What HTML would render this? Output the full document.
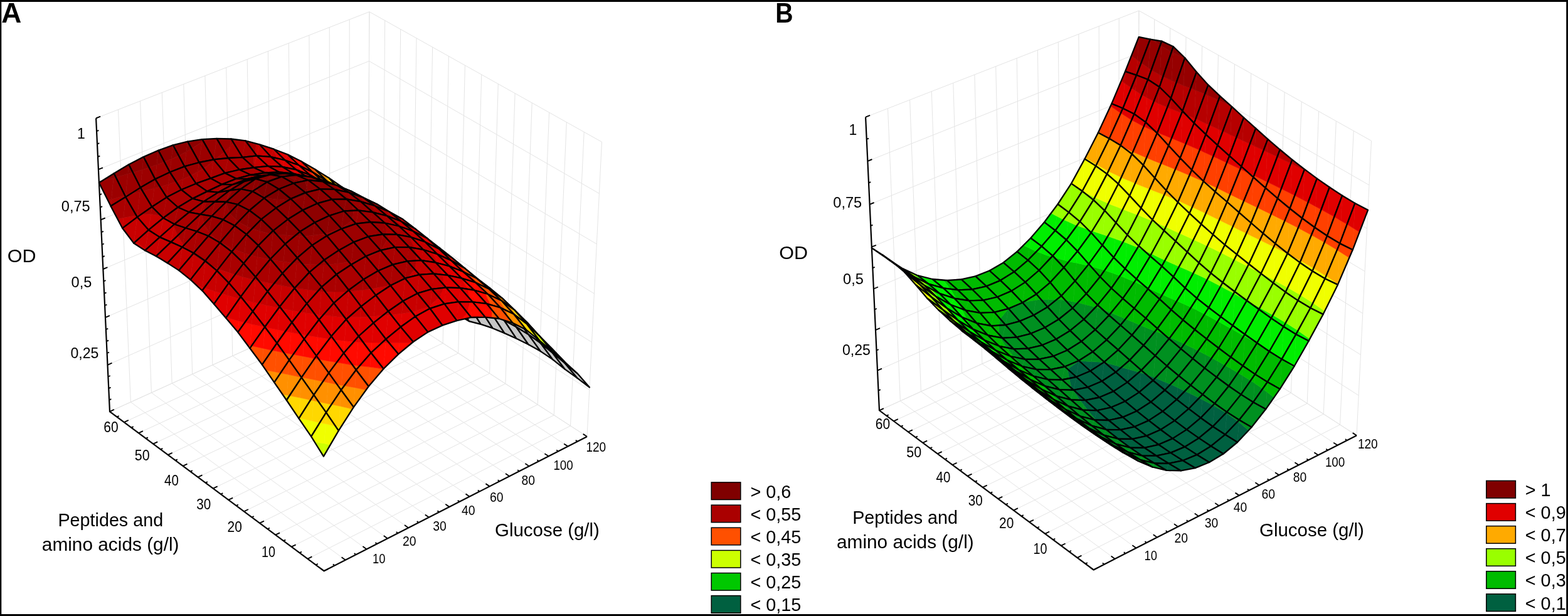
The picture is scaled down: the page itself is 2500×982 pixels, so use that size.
<!DOCTYPE html>
<html><head><meta charset="utf-8"><title>Figure</title>
<style>html,body{margin:0;padding:0;background:#fff}svg{display:block}text{font-family:"Liberation Sans",sans-serif;fill:#000}</style></head><body>
<svg width="2500" height="982" viewBox="0 0 2500 982">
<rect width="2500" height="982" fill="#fff"/>
<path d="M175 656.1L153.1 188.5M208.4 641L188.5 174.7M241.4 626L223.6 161M274.2 611.1L258.3 147.5M306.7 596.4L292.8 134.1M338.9 581.8L326.9 120.8M370.8 567.3L360.7 107.6M402.4 553L394.2 94.6M433.8 538.8L427.4 81.7M464.8 524.7L460.3 68.9M495.7 510.7L492.9 56.2M526.2 496.9L525.2 43.6M556.5 483.2L557.2 31.1M586.6 469.6L588.9 18.8M175 656.1L586.6 469.6M171.5 581.8L586.9 397.8M168 506.1L587.3 324.7M164.4 429L587.7 250.3M160.7 350.4L588.1 174.5M156.9 270.2L588.5 97.4M153.1 188.5L588.9 18.8M936 696L959.5 226.3M909.5 678.9L931.2 210.5M883.2 661.8L903.3 194.9M857.2 645L875.6 179.4M831.4 628.2L848.2 164M805.9 611.7L821.1 148.9M780.6 595.3L794.3 133.8M755.5 579.1L767.7 118.9M730.7 563L741.4 104.2M706.1 547.1L715.4 89.6M681.8 531.3L689.6 75.2M657.6 515.6L664 60.9M633.7 500.1L638.7 46.7M610 484.8L613.7 32.7M586.6 469.6L588.9 18.8M586.6 469.6L936 696M586.9 397.8L939.8 621.5M587.3 324.7L943.5 545.5M587.7 250.3L947.4 468M588.1 174.5L951.3 389M588.5 97.4L955.4 308.5M588.9 18.8L959.5 226.3M516.6 910.2L175 656.1M550.7 892.8L208.4 641M584.5 875.6L241.4 626M618 858.5L274.2 611.1M651.2 841.5L306.7 596.4M684 824.8L338.9 581.8M716.5 808.1L370.8 567.3M748.8 791.7L402.4 553M780.7 775.4L433.8 538.8M812.3 759.2L464.8 524.7M843.7 743.2L495.7 510.7M874.8 727.3L526.2 496.9M905.5 711.6L556.5 483.2M936 696L586.6 469.6M516.6 910.2L936 696M490.6 890.9L909.5 678.9M464.8 871.7L883.2 661.8M439.3 852.7L857.2 645M414.1 833.9L831.4 628.2M389.1 815.4L805.9 611.7M364.3 796.9L780.6 595.3M339.8 778.7L755.5 579.1M315.6 760.7L730.7 563M291.6 742.8L706.1 547.1M267.8 725.1L681.8 531.3M244.3 707.6L657.6 515.6M221 690.3L633.7 500.1M197.9 673.1L610 484.8M175 656.1L586.6 469.6" fill="none" stroke="#e4e4e4" stroke-width="1"/>
<path d="M1402 654.3L1380.1 186.7M1435.4 639.2L1415.5 172.9M1468.4 624.2L1450.6 159.2M1501.2 609.3L1485.3 145.7M1533.7 594.6L1519.8 132.3M1565.9 580L1553.9 119M1597.8 565.5L1587.7 105.8M1629.4 551.2L1621.2 92.8M1660.8 537L1654.4 79.9M1691.8 522.9L1687.3 67.1M1722.7 508.9L1719.9 54.4M1753.2 495.1L1752.2 41.8M1783.5 481.4L1784.2 29.3M1813.6 467.8L1815.9 17M1402 654.3L1813.6 467.8M1399 590.7L1813.9 406.3M1396 526.1L1814.2 343.9M1392.9 460.5L1814.5 280.5M1389.8 393.7L1814.8 216.2M1386.6 325.9L1815.2 150.8M1383.4 256.9L1815.5 84.4M1380.1 186.7L1815.9 17M2163 694.2L2186.5 224.5M2136.5 677.1L2158.2 208.7M2110.2 660L2130.3 193.1M2084.2 643.2L2102.6 177.6M2058.4 626.4L2075.2 162.2M2032.9 609.9L2048.1 147.1M2007.6 593.5L2021.3 132M1982.5 577.3L1994.7 117.1M1957.7 561.2L1968.4 102.4M1933.1 545.3L1942.4 87.8M1908.8 529.5L1916.6 73.4M1884.6 513.8L1891 59.1M1860.7 498.3L1865.7 44.9M1837 483L1840.7 30.9M1813.6 467.8L1815.9 17M1813.6 467.8L2163 694.2M1813.9 406.3L2166.2 630.4M1814.2 343.9L2169.5 565.6M1814.5 280.5L2172.7 499.6M1814.8 216.2L2176.1 432.6M1815.2 150.8L2179.5 364.4M1815.5 84.4L2182.9 295M1815.9 17L2186.5 224.5M1743.6 908.4L1402 654.3M1777.7 891L1435.4 639.2M1811.5 873.8L1468.4 624.2M1845 856.7L1501.2 609.3M1878.2 839.7L1533.7 594.6M1911 823L1565.9 580M1943.5 806.3L1597.8 565.5M1975.8 789.9L1629.4 551.2M2007.7 773.6L1660.8 537M2039.3 757.4L1691.8 522.9M2070.7 741.4L1722.7 508.9M2101.8 725.5L1753.2 495.1M2132.5 709.8L1783.5 481.4M2163 694.2L1813.6 467.8M1743.6 908.4L2163 694.2M1717.6 889.1L2136.5 677.1M1691.8 869.9L2110.2 660M1666.3 850.9L2084.2 643.2M1641.1 832.1L2058.4 626.4M1616.1 813.6L2032.9 609.9M1591.3 795.1L2007.6 593.5M1566.8 776.9L1982.5 577.3M1542.6 758.9L1957.7 561.2M1518.6 741L1933.1 545.3M1494.8 723.3L1908.8 529.5M1471.3 705.8L1884.6 513.8M1448 688.5L1860.7 498.3M1424.9 671.3L1837 483M1402 654.3L1813.6 467.8" fill="none" stroke="#e4e4e4" stroke-width="1"/>
<polyline points="153.1,188.5 175,656.1 516.6,910.2 936,696" fill="none" stroke="#000" stroke-width="2.2" stroke-linejoin="miter" stroke-linecap="butt"/>
<path d="M175 656.1L181.9 652.9M174.1 637.6L177.4 636.2M173.3 619.1L176.6 617.6M172.4 600.5L175.7 599M171.5 581.8L178.5 578.7M170.6 563L173.9 561.6M169.8 544.2L173.1 542.7M168.9 525.2L172.2 523.8M168 506.1L174.9 503.1M167.1 487L170.4 485.6M166.2 467.8L169.5 466.3M165.3 448.4L168.6 447M164.4 429L171.4 426.1M163.4 409.5L166.8 408.1M162.5 389.9L165.8 388.5M161.6 370.2L164.9 368.8M160.7 350.4L167.7 347.5M159.7 330.5L163.1 329.1M158.8 310.5L162.1 309.2M157.8 290.4L161.2 289.1M156.9 270.2L164 267.4M155.9 250L159.3 248.6M155 229.6L158.3 228.2M154 209.1L157.4 207.8M153.1 188.5L160.1 185.7M516.6 910.2L523.4 906.8M503.6 900.5L506.8 898.9M490.6 890.9L497.4 887.4M477.7 881.3L480.9 879.6M464.8 871.7L471.6 868.3M452 862.2L455.3 860.6M439.3 852.7L446.1 849.3M426.7 843.3L429.9 841.7M414.1 833.9L420.9 830.6M401.5 824.6L404.8 823M389.1 815.4L395.9 812M376.7 806.1L379.9 804.5M364.3 796.9L371.2 793.6M352.1 787.8L355.3 786.2M339.8 778.7L346.7 775.4M327.7 769.7L330.9 768.1M315.6 760.7L322.5 757.4M303.6 751.7L306.8 750.2M291.6 742.8L298.5 739.6M279.7 733.9L282.9 732.4M267.8 725.1L274.7 721.9M256 716.3L259.3 714.8M244.3 707.6L251.2 704.4M232.6 698.9L235.9 697.4M221 690.3L227.9 687.1M209.4 681.7L212.7 680.1M197.9 673.1L204.8 669.9M186.4 664.6L189.7 663.1M175 656.1L181.9 652.9M516.6 910.2L510.5 905.7M533.7 901.5L530.8 899.4M550.7 892.8L544.6 888.3M567.7 884.2L564.8 882M584.5 875.6L578.4 871.1M601.3 867L598.4 864.9M618 858.5L611.8 854M634.6 850L631.7 847.9M651.2 841.5L645 837.1M667.6 833.1L664.7 831M684 824.8L677.8 820.4M700.3 816.4L697.4 814.4M716.5 808.1L710.3 803.8M732.7 799.9L729.7 797.8M748.8 791.7L742.5 787.4M764.8 783.5L761.8 781.5M780.7 775.4L774.4 771.1M796.6 767.3L793.6 765.3M812.3 759.2L806 755M828.1 751.2L825.1 749.2M843.7 743.2L837.4 739M859.3 735.3L856.3 733.3M874.8 727.3L868.4 723.2M890.2 719.5L887.2 717.5M905.5 711.6L899.2 707.5M920.8 703.8L917.8 701.9M936 696L929.7 691.9" fill="none" stroke="#000" stroke-width="1.9" stroke-linecap="butt"/>
<polyline points="1380.1,186.7 1402,654.3 1743.6,908.4 2163,694.2" fill="none" stroke="#000" stroke-width="2.2" stroke-linejoin="miter" stroke-linecap="butt"/>
<path d="M1402 654.3L1408.9 651.1M1400.5 622.6L1403.8 621.1M1399 590.7L1406 587.6M1397.5 558.5L1400.8 557.1M1396 526.1L1403 523.1M1394.5 493.4L1397.8 492M1392.9 460.5L1399.9 457.5M1391.4 427.2L1394.7 425.8M1389.8 393.7L1396.8 390.8M1388.2 359.9L1391.5 358.6M1386.6 325.9L1393.6 323M1385 291.5L1388.3 290.2M1383.4 256.9L1390.4 254M1381.7 221.9L1385.1 220.6M1380.1 186.7L1387.1 183.9M1743.6 908.4L1750.4 905M1730.6 898.7L1733.8 897.1M1717.6 889.1L1724.4 885.6M1704.7 879.5L1707.9 877.8M1691.8 869.9L1698.6 866.5M1679 860.4L1682.3 858.8M1666.3 850.9L1673.1 847.5M1653.7 841.5L1656.9 839.9M1641.1 832.1L1647.9 828.8M1628.5 822.8L1631.8 821.2M1616.1 813.6L1622.9 810.2M1603.7 804.3L1606.9 802.7M1591.3 795.1L1598.2 791.8M1579.1 786L1582.3 784.4M1566.8 776.9L1573.7 773.6M1554.7 767.9L1557.9 766.3M1542.6 758.9L1549.5 755.6M1530.6 749.9L1533.8 748.4M1518.6 741L1525.5 737.8M1506.7 732.1L1509.9 730.6M1494.8 723.3L1501.7 720.1M1483 714.5L1486.3 713M1471.3 705.8L1478.2 702.6M1459.6 697.1L1462.9 695.6M1448 688.5L1454.9 685.3M1436.4 679.9L1439.7 678.3M1424.9 671.3L1431.8 668.1M1413.4 662.8L1416.7 661.3M1402 654.3L1408.9 651.1M1743.6 908.4L1737.5 903.9M1760.7 899.7L1757.8 897.6M1777.7 891L1771.6 886.5M1794.7 882.4L1791.8 880.2M1811.5 873.8L1805.4 869.3M1828.3 865.2L1825.4 863.1M1845 856.7L1838.8 852.2M1861.6 848.2L1858.7 846.1M1878.2 839.7L1872 835.3M1894.6 831.3L1891.7 829.2M1911 823L1904.8 818.6M1927.3 814.6L1924.4 812.6M1943.5 806.3L1937.3 802M1959.7 798.1L1956.7 796M1975.8 789.9L1969.5 785.6M1991.8 781.7L1988.8 779.7M2007.7 773.6L2001.4 769.3M2023.6 765.5L2020.6 763.5M2039.3 757.4L2033 753.2M2055.1 749.4L2052.1 747.4M2070.7 741.4L2064.4 737.2M2086.3 733.5L2083.3 731.5M2101.8 725.5L2095.4 721.4M2117.2 717.7L2114.2 715.7M2132.5 709.8L2126.2 705.7M2147.8 702L2144.8 700.1M2163 694.2L2156.7 690.1" fill="none" stroke="#000" stroke-width="1.9" stroke-linecap="butt"/>
<g stroke="#000" stroke-width="2.3" stroke-linejoin="round">
<path d="M591.1,341.6L604.8,352.7L587.3,328.8L586.3,331z" fill="#00ff00" stroke="#00ff00" stroke-width=".6"/>
<path d="M584,335.7L591.1,341.6L586.3,331z" fill="#66ff00" stroke="#66ff00" stroke-width=".6"/>
<path d="M586.3,331L587.3,328.8L583.8,326.2z" fill="#00ff00" stroke="#00ff00" stroke-width=".6"/>
<path d="M584,335.7L586.3,331L583.8,326.2L568.1,314.5L569.4,317z" fill="#66ff00" stroke="#66ff00" stroke-width=".6"/>
<path d="M568.1,314.5L566.5,313.3L569.4,317z" fill="#ccff00" stroke="#ccff00" stroke-width=".6"/>
<path d="M584,335.7L604.8,352.7L587.3,328.8L566.5,313.3z" fill="none"/>
<path d="M576.3,329.5L584,335.7L569.4,317z" fill="#66ff00" stroke="#66ff00" stroke-width=".6"/>
<path d="M563,318.9L576.3,329.5L569.4,317L566.5,313.3z" fill="#ccff00" stroke="#ccff00" stroke-width=".6"/>
<path d="M563,318.9L566.5,313.3L551.9,302.8L558.9,314.1z" fill="#ccff00" stroke="#ccff00" stroke-width=".6"/>
<path d="M551.9,302.8L545.4,298.1L558.9,314.1z" fill="#f0ff00" stroke="#f0ff00" stroke-width=".6"/>
<path d="M563,318.9L584,335.7L566.5,313.3L545.4,298.1z" fill="none"/>
<path d="M613.5,369L622.3,377L606.5,355.1z" fill="#00e400" stroke="#00e400" stroke-width=".6"/>
<path d="M601.7,358.2L613.5,369L606.5,355.1L604.8,352.7z" fill="#00ff00" stroke="#00ff00" stroke-width=".6"/>
<path d="M601.7,358.2L604.8,352.7L591.1,341.6L597.9,353.4z" fill="#00ff00" stroke="#00ff00" stroke-width=".6"/>
<path d="M591.1,341.6L584,335.7L597.9,353.4z" fill="#66ff00" stroke="#66ff00" stroke-width=".6"/>
<path d="M601.7,358.2L622.3,377L604.8,352.7L584,335.7z" fill="none"/>
<path d="M561.1,317.4L563,318.9L558.9,314.1z" fill="#ccff00" stroke="#ccff00" stroke-width=".6"/>
<path d="M545.3,305.4L561.1,317.4L558.9,314.1L545.4,298.1L542.7,301.5z" fill="#f0ff00" stroke="#f0ff00" stroke-width=".6"/>
<path d="M541.8,302.8L545.3,305.4L542.7,301.5z" fill="#ffd800" stroke="#ffd800" stroke-width=".6"/>
<path d="M542.7,301.5L545.4,298.1L535.3,291.2z" fill="#f0ff00" stroke="#f0ff00" stroke-width=".6"/>
<path d="M541.8,302.8L542.7,301.5L535.3,291.2L524.1,283.5z" fill="#ffd800" stroke="#ffd800" stroke-width=".6"/>
<path d="M541.8,302.8L563,318.9L545.4,298.1L524.1,283.5z" fill="none"/>
<path d="M599.8,356.6L601.7,358.2L597.9,353.4z" fill="#00ff00" stroke="#00ff00" stroke-width=".6"/>
<path d="M585.8,344.1L599.8,356.6L597.9,353.4L584,335.7L582.1,337.9z" fill="#66ff00" stroke="#66ff00" stroke-width=".6"/>
<path d="M580.7,339.5L585.8,344.1L582.1,337.9z" fill="#ccff00" stroke="#ccff00" stroke-width=".6"/>
<path d="M582.1,337.9L584,335.7L576.3,329.5z" fill="#66ff00" stroke="#66ff00" stroke-width=".6"/>
<path d="M580.7,339.5L582.1,337.9L576.3,329.5L563,318.9z" fill="#ccff00" stroke="#ccff00" stroke-width=".6"/>
<path d="M580.7,339.5L601.7,358.2L584,335.7L563,318.9z" fill="none"/>
<path d="M634.9,396.8L639.9,402L630.4,388.6z" fill="#00c800" stroke="#00c800" stroke-width=".6"/>
<path d="M622.5,384L634.9,396.8L630.4,388.6L622.3,377L620.2,379.7z" fill="#00e400" stroke="#00e400" stroke-width=".6"/>
<path d="M619.4,380.7L622.5,384L620.2,379.7z" fill="#00ff00" stroke="#00ff00" stroke-width=".6"/>
<path d="M620.2,379.7L622.3,377L613.5,369z" fill="#00e400" stroke="#00e400" stroke-width=".6"/>
<path d="M619.4,380.7L620.2,379.7L613.5,369L601.7,358.2z" fill="#00ff00" stroke="#00ff00" stroke-width=".6"/>
<path d="M619.4,380.7L639.9,402L622.3,377L601.7,358.2z" fill="none"/>
<path d="M528.5,293.7L541.8,302.8L524.1,283.5L522.5,285.3z" fill="#ffd800" stroke="#ffd800" stroke-width=".6"/>
<path d="M520.2,287.9L528.5,293.7L522.5,285.3z" fill="#ff9000" stroke="#ff9000" stroke-width=".6"/>
<path d="M522.5,285.3L524.1,283.5L517.9,279.7z" fill="#ffd800" stroke="#ffd800" stroke-width=".6"/>
<path d="M520.2,287.9L522.5,285.3L517.9,279.7L502.5,270.1z" fill="#ff9000" stroke="#ff9000" stroke-width=".6"/>
<path d="M520.2,287.9L541.8,302.8L524.1,283.5L502.5,270.1z" fill="none"/>
<path d="M571.4,331.7L580.7,339.5L563,318.9L562.6,319.3z" fill="#ccff00" stroke="#ccff00" stroke-width=".6"/>
<path d="M559.5,321.6L571.4,331.7L562.6,319.3z" fill="#f0ff00" stroke="#f0ff00" stroke-width=".6"/>
<path d="M562.6,319.3L563,318.9L561.1,317.4z" fill="#ccff00" stroke="#ccff00" stroke-width=".6"/>
<path d="M559.5,321.6L562.6,319.3L561.1,317.4L545.3,305.4L551.3,312.9z" fill="#f0ff00" stroke="#f0ff00" stroke-width=".6"/>
<path d="M545.3,305.4L541.8,302.8L551.3,312.9z" fill="#ffd800" stroke="#ffd800" stroke-width=".6"/>
<path d="M559.5,321.6L580.7,339.5L563,318.9L541.8,302.8z" fill="none"/>
<path d="M609.8,371.1L619.4,380.7L601.7,358.2L601.2,358.4z" fill="#00ff00" stroke="#00ff00" stroke-width=".6"/>
<path d="M598.5,359.7L609.8,371.1L601.2,358.4z" fill="#66ff00" stroke="#66ff00" stroke-width=".6"/>
<path d="M601.2,358.4L601.7,358.2L599.8,356.6z" fill="#00ff00" stroke="#00ff00" stroke-width=".6"/>
<path d="M598.5,359.7L601.2,358.4L599.8,356.6L585.8,344.1L594.2,354.8z" fill="#66ff00" stroke="#66ff00" stroke-width=".6"/>
<path d="M585.8,344.1L580.7,339.5L594.2,354.8z" fill="#ccff00" stroke="#ccff00" stroke-width=".6"/>
<path d="M598.5,359.7L619.4,380.7L601.7,358.2L580.7,339.5z" fill="none"/>
<path d="M656.1,424.8L657.6,426.7L654.3,422z" fill="#00ae10" stroke="#00ae10" stroke-width=".6"/>
<path d="M644.8,411.6L656.1,424.8L654.3,422L639.9,402L638.9,402.2z" fill="#00c800" stroke="#00c800" stroke-width=".6"/>
<path d="M637.2,402.5L644.8,411.6L638.9,402.2z" fill="#00e400" stroke="#00e400" stroke-width=".6"/>
<path d="M638.9,402.2L639.9,402L634.9,396.8z" fill="#00c800" stroke="#00c800" stroke-width=".6"/>
<path d="M637.2,402.5L638.9,402.2L634.9,396.8L622.5,384L627.2,390.4z" fill="#00e400" stroke="#00e400" stroke-width=".6"/>
<path d="M622.5,384L619.4,380.7L627.2,390.4z" fill="#00ff00" stroke="#00ff00" stroke-width=".6"/>
<path d="M637.2,402.5L657.6,426.7L639.9,402L619.4,380.7z" fill="none"/>
<path d="M510.8,282.2L520.2,287.9L502.5,270.1L501.8,271z" fill="#ff9000" stroke="#ff9000" stroke-width=".6"/>
<path d="M498.5,274.6L510.8,282.2L501.8,271z" fill="#ff5000" stroke="#ff5000" stroke-width=".6"/>
<path d="M501.8,271L502.5,270.1L499.6,268.5z" fill="#ff9000" stroke="#ff9000" stroke-width=".6"/>
<path d="M498.5,274.6L501.8,271L499.6,268.5L480.7,257.4z" fill="#ff5000" stroke="#ff5000" stroke-width=".6"/>
<path d="M498.5,274.6L520.2,287.9L502.5,270.1L480.7,257.4z" fill="none"/>
<path d="M556.5,319.3L559.5,321.6L551.3,312.9z" fill="#f0ff00" stroke="#f0ff00" stroke-width=".6"/>
<path d="M540.6,307.2L556.5,319.3L551.3,312.9L541.8,302.8L538.7,304.8z" fill="#ffd800" stroke="#ffd800" stroke-width=".6"/>
<path d="M538.1,305.2L540.6,307.2L538.7,304.8z" fill="#ff9000" stroke="#ff9000" stroke-width=".6"/>
<path d="M538.7,304.8L541.8,302.8L528.5,293.7z" fill="#ffd800" stroke="#ffd800" stroke-width=".6"/>
<path d="M538.1,305.2L538.7,304.8L528.5,293.7L520.2,287.9z" fill="#ff9000" stroke="#ff9000" stroke-width=".6"/>
<path d="M538.1,305.2L559.5,321.6L541.8,302.8L520.2,287.9z" fill="none"/>
<path d="M596.9,358.2L598.5,359.7L594.2,354.8z" fill="#66ff00" stroke="#66ff00" stroke-width=".6"/>
<path d="M583.4,345.3L596.9,358.2L594.2,354.8L580.7,339.5L578.8,339.6z" fill="#ccff00" stroke="#ccff00" stroke-width=".6"/>
<path d="M577.4,339.6L583.4,345.3L578.8,339.6z" fill="#f0ff00" stroke="#f0ff00" stroke-width=".6"/>
<path d="M578.8,339.6L580.7,339.5L571.4,331.7z" fill="#ccff00" stroke="#ccff00" stroke-width=".6"/>
<path d="M577.4,339.6L578.8,339.6L571.4,331.7L559.5,321.6z" fill="#f0ff00" stroke="#f0ff00" stroke-width=".6"/>
<path d="M577.4,339.6L598.5,359.7L580.7,339.5L559.5,321.6z" fill="none"/>
<path d="M633.4,398.3L637.2,402.5L627.2,390.4z" fill="#00e400" stroke="#00e400" stroke-width=".6"/>
<path d="M621.8,385L633.4,398.3L627.2,390.4L619.4,380.7L617.5,379.6z" fill="#00ff00" stroke="#00ff00" stroke-width=".6"/>
<path d="M616.4,378.9L621.8,385L617.5,379.6z" fill="#66ff00" stroke="#66ff00" stroke-width=".6"/>
<path d="M617.5,379.6L619.4,380.7L609.8,371.1z" fill="#00ff00" stroke="#00ff00" stroke-width=".6"/>
<path d="M616.4,378.9L617.5,379.6L609.8,371.1L598.5,359.7z" fill="#66ff00" stroke="#66ff00" stroke-width=".6"/>
<path d="M616.4,378.9L637.2,402.5L619.4,380.7L598.5,359.7z" fill="none"/>
<path d="M655,422.9L675.4,449.8L657.6,426.7L637.2,402.5z" fill="#c6c6c6"/>
<path d="M491.5,271.1L498.5,274.6L480.7,257.4L480.7,257.5z" fill="#ff5000" stroke="#ff5000" stroke-width=".6"/>
<path d="M476.5,263.5L491.5,271.1L480.7,257.5z" fill="#ff0a00" stroke="#ff0a00" stroke-width=".6"/>
<path d="M476.5,263.5L480.7,257.5L480.5,257.3L459.4,246.8L460.8,248.5z" fill="#ff0a00" stroke="#ff0a00" stroke-width=".6"/>
<path d="M459.4,246.8L458.7,246.4L460.8,248.5z" fill="#e00000" stroke="#e00000" stroke-width=".6"/>
<path d="M476.5,263.5L498.5,274.6L480.7,257.4L458.7,246.4z" fill="none"/>
<path d="M523.4,295.5L538.1,305.2L520.2,287.9L518,289.5z" fill="#ff9000" stroke="#ff9000" stroke-width=".6"/>
<path d="M516.3,290.8L523.4,295.5L518,289.5z" fill="#ff5000" stroke="#ff5000" stroke-width=".6"/>
<path d="M518,289.5L520.2,287.9L510.8,282.2z" fill="#ff9000" stroke="#ff9000" stroke-width=".6"/>
<path d="M516.3,290.8L518,289.5L510.8,282.2L498.5,274.6z" fill="#ff5000" stroke="#ff5000" stroke-width=".6"/>
<path d="M516.3,290.8L538.1,305.2L520.2,287.9L498.5,274.6z" fill="none"/>
<path d="M569.2,332.7L577.4,339.6L559.5,321.6L558.9,321.6z" fill="#f0ff00" stroke="#f0ff00" stroke-width=".6"/>
<path d="M556,321.3L569.2,332.7L558.9,321.6z" fill="#ffd800" stroke="#ffd800" stroke-width=".6"/>
<path d="M558.9,321.6L559.5,321.6L556.5,319.3z" fill="#f0ff00" stroke="#f0ff00" stroke-width=".6"/>
<path d="M556,321.3L558.9,321.6L556.5,319.3L540.6,307.2L549.3,315.3z" fill="#ffd800" stroke="#ffd800" stroke-width=".6"/>
<path d="M540.6,307.2L538.1,305.2L549.3,315.3z" fill="#ff9000" stroke="#ff9000" stroke-width=".6"/>
<path d="M556,321.3L577.4,339.6L559.5,321.6L538.1,305.2z" fill="none"/>
<path d="M609.7,371.7L616.4,378.9L598.5,359.7L598.2,359.4z" fill="#66ff00" stroke="#66ff00" stroke-width=".6"/>
<path d="M597.3,358.4L609.7,371.7L598.2,359.4L595.7,356.8z" fill="#ccff00" stroke="#ccff00" stroke-width=".6"/>
<path d="M595.4,356.4L598.5,359.7L577.4,339.6z" fill="#c6c6c6" stroke="#c6c6c6" stroke-width=".6"/>
<path d="M595.4,356.4L616.4,378.9L598.5,359.7L577.4,339.6z" fill="none"/>
<path d="M634.4,396.5L655,422.9L637.2,402.5L616.4,378.9z" fill="#c6c6c6"/>
<path d="M673.1,441L693.2,470.6L675.4,449.8L655,422.9z" fill="#c6c6c6"/>
<path d="M469.6,261L476.5,263.5L460.8,248.5z" fill="#ff0a00" stroke="#ff0a00" stroke-width=".6"/>
<path d="M454.3,255.3L469.6,261L460.8,248.5L458.7,246.4z" fill="#e00000" stroke="#e00000" stroke-width=".6"/>
<path d="M454.3,255.3L458.7,246.4L436.4,237.7z" fill="#e00000" stroke="#e00000" stroke-width=".6"/>
<path d="M454.3,255.3L476.5,263.5L458.7,246.4L436.4,237.7z" fill="none"/>
<path d="M504.3,284.3L516.3,290.8L498.5,274.6L496.8,276.4z" fill="#ff5000" stroke="#ff5000" stroke-width=".6"/>
<path d="M494.4,279.1L504.3,284.3L496.8,276.4z" fill="#ff0a00" stroke="#ff0a00" stroke-width=".6"/>
<path d="M496.8,276.4L498.5,274.6L491.5,271.1z" fill="#ff5000" stroke="#ff5000" stroke-width=".6"/>
<path d="M494.4,279.1L496.8,276.4L491.5,271.1L476.5,263.5z" fill="#ff0a00" stroke="#ff0a00" stroke-width=".6"/>
<path d="M494.4,279.1L516.3,290.8L498.5,274.6L476.5,263.5z" fill="none"/>
<path d="M554.4,320.1L556,321.3L549.3,315.3z" fill="#ffd800" stroke="#ffd800" stroke-width=".6"/>
<path d="M538,308L554.4,320.1L549.3,315.3L538.1,305.2L535.1,305.3z" fill="#ff9000" stroke="#ff9000" stroke-width=".6"/>
<path d="M534.3,305.3L538,308L535.1,305.3z" fill="#ff5000" stroke="#ff5000" stroke-width=".6"/>
<path d="M535.1,305.3L538.1,305.2L523.4,295.5z" fill="#ff9000" stroke="#ff9000" stroke-width=".6"/>
<path d="M534.3,305.3L535.1,305.3L523.4,295.5L516.3,290.8z" fill="#ff5000" stroke="#ff5000" stroke-width=".6"/>
<path d="M534.3,305.3L556,321.3L538.1,305.2L516.3,290.8z" fill="none"/>
<path d="M574,335.8L595.4,356.4L577.4,339.6L556,321.3z" fill="#c6c6c6"/>
<path d="M613.4,371.5L634.4,396.5L616.4,378.9L595.4,356.4z" fill="#c6c6c6"/>
<path d="M652.5,412.1L673.1,441L655,422.9L634.4,396.5z" fill="#c6c6c6"/>
<path d="M691.2,456.1L711.3,487.4L693.2,470.6L673.1,441z" fill="#c6c6c6"/>
<path d="M442.8,252.7L454.3,255.3L436.4,237.7L436,238.9z" fill="#e00000" stroke="#e00000" stroke-width=".6"/>
<path d="M431.9,250.1L442.8,252.7L436,238.9z" fill="#c80000" stroke="#c80000" stroke-width=".6"/>
<path d="M436,238.9L436.4,237.7L435.4,237.3z" fill="#e00000" stroke="#e00000" stroke-width=".6"/>
<path d="M431.9,250.1L436,238.9L435.4,237.3L414,230.4z" fill="#c80000" stroke="#c80000" stroke-width=".6"/>
<path d="M431.9,250.1L454.3,255.3L436.4,237.7L414,230.4z" fill="none"/>
<path d="M482,274.4L494.4,279.1L476.5,263.5L474.7,266.4z" fill="#ff0a00" stroke="#ff0a00" stroke-width=".6"/>
<path d="M472.2,270.6L482,274.4L474.7,266.4z" fill="#e00000" stroke="#e00000" stroke-width=".6"/>
<path d="M474.7,266.4L476.5,263.5L469.6,261z" fill="#ff0a00" stroke="#ff0a00" stroke-width=".6"/>
<path d="M472.2,270.6L474.7,266.4L469.6,261L454.3,255.3z" fill="#e00000" stroke="#e00000" stroke-width=".6"/>
<path d="M472.2,270.6L494.4,279.1L476.5,263.5L454.3,255.3z" fill="none"/>
<path d="M519.7,296.6L534.3,305.3L516.3,290.8L513.9,291.7z" fill="#ff5000" stroke="#ff5000" stroke-width=".6"/>
<path d="M512.3,292.2L519.7,296.6L513.9,291.7z" fill="#ff0a00" stroke="#ff0a00" stroke-width=".6"/>
<path d="M513.9,291.7L516.3,290.8L504.3,284.3z" fill="#ff5000" stroke="#ff5000" stroke-width=".6"/>
<path d="M512.3,292.2L513.9,291.7L504.3,284.3L494.4,279.1z" fill="#ff0a00" stroke="#ff0a00" stroke-width=".6"/>
<path d="M512.3,292.2L534.3,305.3L516.3,290.8L494.4,279.1z" fill="none"/>
<path d="M552.4,317.9L574,335.8L556,321.3L534.3,305.3z" fill="#c6c6c6"/>
<path d="M592.2,348.6L613.4,371.5L595.4,356.4L574,335.8z" fill="#c6c6c6"/>
<path d="M631.7,384.8L652.5,412.1L634.4,396.5L613.4,371.5z" fill="#c6c6c6"/>
<path d="M670.8,425.4L691.2,456.1L673.1,441L652.5,412.1z" fill="#c6c6c6"/>
<path d="M409.3,248.4L431.9,250.1L414,230.4z" fill="#c80000" stroke="#c80000" stroke-width=".6"/>
<path d="M409.3,248.4L414,230.4L408.3,228.9L407.2,245.6z" fill="#c80000" stroke="#c80000" stroke-width=".6"/>
<path d="M408.3,228.9L391.3,224.3L407.2,245.6z" fill="#aa0000" stroke="#aa0000" stroke-width=".6"/>
<path d="M409.3,248.4L431.9,250.1L414,230.4L391.3,224.3z" fill="none"/>
<path d="M709.5,468.7L729.5,501.4L711.3,487.4L691.2,456.1z" fill="#c6c6c6"/>
<path d="M453.8,266.7L472.2,270.6L454.3,255.3L450.9,263.1z" fill="#e00000" stroke="#e00000" stroke-width=".6"/>
<path d="M449.8,265.8L453.8,266.7L450.9,263.1z" fill="#c80000" stroke="#c80000" stroke-width=".6"/>
<path d="M450.9,263.1L454.3,255.3L442.8,252.7z" fill="#e00000" stroke="#e00000" stroke-width=".6"/>
<path d="M449.8,265.8L450.9,263.1L442.8,252.7L431.9,250.1z" fill="#c80000" stroke="#c80000" stroke-width=".6"/>
<path d="M449.8,265.8L472.2,270.6L454.3,255.3L431.9,250.1z" fill="none"/>
<path d="M498.5,286.2L512.3,292.2L494.4,279.1L491.9,281.1z" fill="#ff0a00" stroke="#ff0a00" stroke-width=".6"/>
<path d="M490.2,282.6L498.5,286.2L491.9,281.1z" fill="#e00000" stroke="#e00000" stroke-width=".6"/>
<path d="M491.9,281.1L494.4,279.1L482,274.4z" fill="#ff0a00" stroke="#ff0a00" stroke-width=".6"/>
<path d="M490.2,282.6L491.9,281.1L482,274.4L472.2,270.6z" fill="#e00000" stroke="#e00000" stroke-width=".6"/>
<path d="M490.2,282.6L512.3,292.2L494.4,279.1L472.2,270.6z" fill="none"/>
<path d="M537.7,307.9L552.4,317.9L534.3,305.3L531.8,303.8z" fill="#ff5000" stroke="#ff5000" stroke-width=".6"/>
<path d="M530.5,303L537.7,307.9L531.8,303.8z" fill="#ff0a00" stroke="#ff0a00" stroke-width=".6"/>
<path d="M530.5,303L552.4,317.9L534.3,305.3L512.3,292.2z" fill="none"/>
<path d="M570.6,328.6L592.2,348.6L574,335.8L552.4,317.9z" fill="#c6c6c6"/>
<path d="M610.5,359.8L631.7,384.8L613.4,371.5L592.2,348.6z" fill="#c6c6c6"/>
<path d="M650,396.2L670.8,425.4L652.5,412.1L631.7,384.8z" fill="#c6c6c6"/>
<path d="M404.2,249L409.3,248.4L407.2,245.6z" fill="#c80000" stroke="#c80000" stroke-width=".6"/>
<path d="M386.6,250.8L404.2,249L407.2,245.6L391.3,224.3z" fill="#aa0000" stroke="#aa0000" stroke-width=".6"/>
<path d="M386.6,250.8L391.3,224.3L375.8,222.4L372.3,227.7z" fill="#aa0000" stroke="#aa0000" stroke-width=".6"/>
<path d="M375.8,222.4L368.5,221.5L372.3,227.7z" fill="#9c0000" stroke="#9c0000" stroke-width=".6"/>
<path d="M386.6,250.8L409.3,248.4L391.3,224.3L368.5,221.5z" fill="none"/>
<path d="M689.2,436.6L709.5,468.7L691.2,456.1L670.8,425.4z" fill="#c6c6c6"/>
<path d="M427.3,264.8L449.8,265.8L431.9,250.1L409.3,248.4z" fill="#c80000"/>
<path d="M728.1,478.5L747.9,512.1L729.5,501.4L709.5,468.7z" fill="#c6c6c6"/>
<path d="M472,277.8L490.2,282.6L472.2,270.6L468.7,275.5z" fill="#e00000" stroke="#e00000" stroke-width=".6"/>
<path d="M467.8,276.7L472,277.8L468.7,275.5z" fill="#c80000" stroke="#c80000" stroke-width=".6"/>
<path d="M468.7,275.5L472.2,270.6L453.8,266.7z" fill="#e00000" stroke="#e00000" stroke-width=".6"/>
<path d="M467.8,276.7L468.7,275.5L453.8,266.7L449.8,265.8z" fill="#c80000" stroke="#c80000" stroke-width=".6"/>
<path d="M467.8,276.7L490.2,282.6L472.2,270.6L449.8,265.8z" fill="none"/>
<path d="M518.3,296.8L530.5,303L512.3,292.2L510.1,291.9z" fill="#ff0a00" stroke="#ff0a00" stroke-width=".6"/>
<path d="M508.3,291.6L518.3,296.8L510.1,291.9z" fill="#e00000" stroke="#e00000" stroke-width=".6"/>
<path d="M510.1,291.9L512.3,292.2L498.5,286.2z" fill="#ff0a00" stroke="#ff0a00" stroke-width=".6"/>
<path d="M508.3,291.6L510.1,291.9L498.5,286.2L490.2,282.6z" fill="#e00000" stroke="#e00000" stroke-width=".6"/>
<path d="M508.3,291.6L530.5,303L512.3,292.2L490.2,282.6z" fill="none"/>
<path d="M548.7,311.8L570.6,328.6L552.4,317.9L530.5,303z" fill="#c6c6c6"/>
<path d="M588.9,337.7L610.5,359.8L592.2,348.6L570.6,328.6z" fill="#c6c6c6"/>
<path d="M628.9,369.4L650,396.2L631.7,384.8L610.5,359.8z" fill="#c6c6c6"/>
<path d="M363.7,252L386.6,250.8L372.3,227.7L366.7,233.2z" fill="#aa0000" stroke="#aa0000" stroke-width=".6"/>
<path d="M372.3,227.7L368.5,221.5L366.7,233.2z" fill="#9c0000" stroke="#9c0000" stroke-width=".6"/>
<path d="M363.7,252L366.7,233.2L358.1,242.3z" fill="#aa0000" stroke="#aa0000" stroke-width=".6"/>
<path d="M366.7,233.2L368.5,221.5L345.5,220.8L358.1,242.3z" fill="#9c0000" stroke="#9c0000" stroke-width=".6"/>
<path d="M363.7,252L386.6,250.8L368.5,221.5L345.5,220.8z" fill="none"/>
<path d="M668.6,406.1L689.2,436.6L670.8,425.4L650,396.2z" fill="#c6c6c6"/>
<path d="M405.3,267.1L427.3,264.8L409.3,248.4L405.2,264.7z" fill="#c80000" stroke="#c80000" stroke-width=".6"/>
<path d="M404.6,267.2L405.3,267.1L405.2,264.7z" fill="#aa0000" stroke="#aa0000" stroke-width=".6"/>
<path d="M405.2,264.7L409.3,248.4L404.2,249z" fill="#c80000" stroke="#c80000" stroke-width=".6"/>
<path d="M404.6,267.2L405.2,264.7L404.2,249L386.6,250.8z" fill="#aa0000" stroke="#aa0000" stroke-width=".6"/>
<path d="M404.6,267.2L427.3,264.8L409.3,248.4L386.6,250.8z" fill="none"/>
<path d="M707.8,445.9L728.1,478.5L709.5,468.7L689.2,436.6z" fill="#c6c6c6"/>
<path d="M445.2,274.5L467.8,276.7L449.8,265.8L427.3,264.8z" fill="#c80000"/>
<path d="M746.8,485.4L766.6,516.9L747.9,512.1L728.1,478.5z" fill="#c6c6c6"/>
<path d="M495.1,287.1L508.3,291.6L490.2,282.6L487.4,283.4z" fill="#e00000" stroke="#e00000" stroke-width=".6"/>
<path d="M485.9,283.9L495.1,287.1L487.4,283.4z" fill="#c80000" stroke="#c80000" stroke-width=".6"/>
<path d="M487.4,283.4L490.2,282.6L472,277.8z" fill="#e00000" stroke="#e00000" stroke-width=".6"/>
<path d="M485.9,283.9L487.4,283.4L472,277.8L467.8,276.7z" fill="#c80000" stroke="#c80000" stroke-width=".6"/>
<path d="M485.9,283.9L508.3,291.6L490.2,282.6L467.8,276.7z" fill="none"/>
<path d="M526.5,298.5L548.7,311.8L530.5,303L508.3,291.6z" fill="#c6c6c6"/>
<path d="M567.1,319.1L588.9,337.7L570.6,328.6L548.7,311.8z" fill="#c6c6c6"/>
<path d="M607.4,345.8L628.9,369.4L610.5,359.8L588.9,337.7z" fill="#c6c6c6"/>
<path d="M343,254.2L363.7,252L358.1,242.3z" fill="#aa0000" stroke="#aa0000" stroke-width=".6"/>
<path d="M340.7,254.4L343,254.2L358.1,242.3L345.5,220.8z" fill="#9c0000" stroke="#9c0000" stroke-width=".6"/>
<path d="M340.7,254.4L345.5,220.8L328,221.8L324.1,225.1z" fill="#9c0000" stroke="#9c0000" stroke-width=".6"/>
<path d="M328,221.8L322.4,222.1L324.1,225.1z" fill="#8e0000" stroke="#8e0000" stroke-width=".6"/>
<path d="M340.7,254.4L363.7,252L345.5,220.8L322.4,222.1z" fill="none"/>
<path d="M647.5,378L668.6,406.1L650,396.2L628.9,369.4z" fill="#c6c6c6"/>
<path d="M381.7,270.5L404.6,267.2L386.6,250.8L363.7,252z" fill="#aa0000"/>
<path d="M687.2,414.9L707.8,445.9L689.2,436.6L668.6,406.1z" fill="#c6c6c6"/>
<path d="M431.3,275.1L445.2,274.5L427.3,264.8L424.1,272z" fill="#c80000" stroke="#c80000" stroke-width=".6"/>
<path d="M422.5,275.5L431.3,275.1L424.1,272z" fill="#aa0000" stroke="#aa0000" stroke-width=".6"/>
<path d="M424.1,272L427.3,264.8L405.3,267.1z" fill="#c80000" stroke="#c80000" stroke-width=".6"/>
<path d="M422.5,275.5L424.1,272L405.3,267.1L404.6,267.2z" fill="#aa0000" stroke="#aa0000" stroke-width=".6"/>
<path d="M422.5,275.5L445.2,274.5L427.3,264.8L404.6,267.2z" fill="none"/>
<path d="M726.6,453.9L746.8,485.4L728.1,478.5L707.8,445.9z" fill="#c6c6c6"/>
<path d="M465.2,279.9L485.9,283.9L467.8,276.7L463.6,279.4z" fill="#c80000" stroke="#c80000" stroke-width=".6"/>
<path d="M463.3,279.6L465.2,279.9L463.6,279.4z" fill="#aa0000" stroke="#aa0000" stroke-width=".6"/>
<path d="M463.6,279.4L467.8,276.7L445.2,274.5L460,278.6z" fill="#c80000" stroke="#c80000" stroke-width=".6"/>
<path d="M463.3,279.6L463.6,279.4L460,278.6z" fill="#aa0000" stroke="#aa0000" stroke-width=".6"/>
<path d="M463.3,279.6L485.9,283.9L467.8,276.7L445.2,274.5z" fill="none"/>
<path d="M765.7,492.7L785.5,523.2L766.6,516.9L746.8,485.4z" fill="#c6c6c6"/>
<path d="M504.1,288.6L526.5,298.5L508.3,291.6L485.9,283.9z" fill="#c6c6c6"/>
<path d="M544.9,304.2L567.1,319.1L548.7,311.8L526.5,298.5z" fill="#c6c6c6"/>
<path d="M585.6,325.9L607.4,345.8L588.9,337.7L567.1,319.1z" fill="#c6c6c6"/>
<path d="M317.5,259L340.7,254.4L324.1,225.1L321.8,226.5z" fill="#9c0000" stroke="#9c0000" stroke-width=".6"/>
<path d="M324.1,225.1L322.4,222.1L321.8,226.5z" fill="#8e0000" stroke="#8e0000" stroke-width=".6"/>
<path d="M317.5,259L321.8,226.5L305.6,237.3z" fill="#9c0000" stroke="#9c0000" stroke-width=".6"/>
<path d="M321.8,226.5L322.4,222.1L299.1,225.6L305.6,237.3z" fill="#8e0000" stroke="#8e0000" stroke-width=".6"/>
<path d="M317.5,259L340.7,254.4L322.4,222.1L299.1,225.6z" fill="none"/>
<path d="M626.1,353.3L647.5,378L628.9,369.4L607.4,345.8z" fill="#c6c6c6"/>
<path d="M358.7,275.9L381.7,270.5L363.7,252z" fill="#aa0000" stroke="#aa0000" stroke-width=".6"/>
<path d="M358.7,275.9L363.7,252L343,254.2L341.9,255.9z" fill="#aa0000" stroke="#aa0000" stroke-width=".6"/>
<path d="M343,254.2L340.7,254.4L341.9,255.9z" fill="#9c0000" stroke="#9c0000" stroke-width=".6"/>
<path d="M358.7,275.9L381.7,270.5L363.7,252L340.7,254.4z" fill="none"/>
<path d="M666.2,386.3L687.2,414.9L668.6,406.1L647.5,378z" fill="#c6c6c6"/>
<path d="M399.6,278.8L422.5,275.5L404.6,267.2L381.7,270.5z" fill="#aa0000"/>
<path d="M706.1,423.5L726.6,453.9L707.8,445.9L687.2,414.9z" fill="#c6c6c6"/>
<path d="M460,278.6L445.2,274.5L443.8,275.7z" fill="#c80000" stroke="#c80000" stroke-width=".6"/>
<path d="M440.5,278.4L463.3,279.6L460,278.6L443.8,275.7z" fill="#aa0000" stroke="#aa0000" stroke-width=".6"/>
<path d="M443.8,275.7L445.2,274.5L431.3,275.1z" fill="#c80000" stroke="#c80000" stroke-width=".6"/>
<path d="M440.5,278.4L443.8,275.7L431.3,275.1L422.5,275.5z" fill="#aa0000" stroke="#aa0000" stroke-width=".6"/>
<path d="M440.5,278.4L463.3,279.6L445.2,274.5L422.5,275.5z" fill="none"/>
<path d="M745.5,462.2L765.7,492.7L746.8,485.4L726.6,453.9z" fill="#c6c6c6"/>
<path d="M481.5,282.1L504.1,288.6L485.9,283.9L463.3,279.6z" fill="#c6c6c6"/>
<path d="M784.7,501.1L804.4,531.1L785.5,523.2L765.7,492.7z" fill="#c6c6c6"/>
<path d="M522.5,292.7L544.9,304.2L526.5,298.5L504.1,288.6z" fill="#c6c6c6"/>
<path d="M563.5,310L585.6,325.9L567.1,319.1L544.9,304.2z" fill="#c6c6c6"/>
<path d="M294.2,265.4L317.5,259L305.6,237.3L297.1,241.8z" fill="#9c0000" stroke="#9c0000" stroke-width=".6"/>
<path d="M305.6,237.3L299.1,225.6L297.1,241.8z" fill="#8e0000" stroke="#8e0000" stroke-width=".6"/>
<path d="M294.2,265.4L297.1,241.8L285,248.4z" fill="#9c0000" stroke="#9c0000" stroke-width=".6"/>
<path d="M297.1,241.8L299.1,225.6L275.8,231.3L285,248.4z" fill="#8e0000" stroke="#8e0000" stroke-width=".6"/>
<path d="M294.2,265.4L317.5,259L299.1,225.6L275.8,231.3z" fill="none"/>
<path d="M604.3,332.7L626.1,353.3L607.4,345.8L585.6,325.9z" fill="#c6c6c6"/>
<path d="M335.7,284.3L358.7,275.9L341.9,255.9L340.3,256.8z" fill="#aa0000" stroke="#aa0000" stroke-width=".6"/>
<path d="M341.9,255.9L340.7,254.4L340.3,256.8z" fill="#9c0000" stroke="#9c0000" stroke-width=".6"/>
<path d="M335.7,284.3L340.3,256.8L324.8,269.1z" fill="#aa0000" stroke="#aa0000" stroke-width=".6"/>
<path d="M340.3,256.8L340.7,254.4L317.5,259L324.8,269.1z" fill="#9c0000" stroke="#9c0000" stroke-width=".6"/>
<path d="M335.7,284.3L358.7,275.9L340.7,254.4L317.5,259z" fill="none"/>
<path d="M644.9,361L666.2,386.3L647.5,378L626.1,353.3z" fill="#c6c6c6"/>
<path d="M376.7,284.9L399.6,278.8L381.7,270.5L358.7,275.9z" fill="#aa0000"/>
<path d="M685.1,395.2L706.1,423.5L687.2,414.9L666.2,386.3z" fill="#c6c6c6"/>
<path d="M417.6,280.2L440.5,278.4L422.5,275.5L399.6,278.8z" fill="#aa0000"/>
<path d="M725,432.9L745.5,462.2L726.6,453.9L706.1,423.5z" fill="#c6c6c6"/>
<path d="M458.7,278.6L481.5,282.1L463.3,279.6L440.5,278.4z" fill="#c6c6c6"/>
<path d="M764.6,471.5L784.7,501.1L765.7,492.7L745.5,462.2z" fill="#c6c6c6"/>
<path d="M499.9,284.4L522.5,292.7L504.1,288.6L481.5,282.1z" fill="#c6c6c6"/>
<path d="M803.8,510.5L823.5,539.8L804.4,531.1L784.7,501.1z" fill="#c6c6c6"/>
<path d="M541.1,297.7L563.5,310L544.9,304.2L522.5,292.7z" fill="#c6c6c6"/>
<path d="M270.8,274.5L294.2,265.4L285,248.4L273.3,253.4z" fill="#9c0000" stroke="#9c0000" stroke-width=".6"/>
<path d="M285,248.4L275.8,231.3L273.3,253.4z" fill="#8e0000" stroke="#8e0000" stroke-width=".6"/>
<path d="M270.8,274.5L273.3,253.4L262.2,258.2z" fill="#9c0000" stroke="#9c0000" stroke-width=".6"/>
<path d="M273.3,253.4L275.8,231.3L252.4,239.8L262.2,258.2z" fill="#8e0000" stroke="#8e0000" stroke-width=".6"/>
<path d="M270.8,274.5L294.2,265.4L275.8,231.3L252.4,239.8z" fill="none"/>
<path d="M582.2,316.8L604.3,332.7L585.6,325.9L563.5,310z" fill="#c6c6c6"/>
<path d="M312.5,292.7L335.7,284.3L324.8,269.1L315.3,273.7z" fill="#aa0000" stroke="#aa0000" stroke-width=".6"/>
<path d="M324.8,269.1L317.5,259L315.3,273.7z" fill="#9c0000" stroke="#9c0000" stroke-width=".6"/>
<path d="M312.5,292.7L315.3,273.7L304.1,280.3z" fill="#aa0000" stroke="#aa0000" stroke-width=".6"/>
<path d="M315.3,273.7L317.5,259L294.2,265.4L304.1,280.3z" fill="#9c0000" stroke="#9c0000" stroke-width=".6"/>
<path d="M312.5,292.7L335.7,284.3L317.5,259L294.2,265.4z" fill="none"/>
<path d="M623.2,340.2L644.9,361L626.1,353.3L604.3,332.7z" fill="#c6c6c6"/>
<path d="M353.6,294.1L376.7,284.9L358.7,275.9L335.7,284.3z" fill="#aa0000"/>
<path d="M663.8,370.1L685.1,395.2L666.2,386.3L644.9,361z" fill="#c6c6c6"/>
<path d="M416.2,280.5L417.6,280.2L399.6,278.8L396,283.4z" fill="#aa0000" stroke="#aa0000" stroke-width=".6"/>
<path d="M394.5,285.2L416.2,280.5L396,283.4z" fill="#9c0000" stroke="#9c0000" stroke-width=".6"/>
<path d="M396,283.4L399.6,278.8L376.7,284.9L387.8,285.1z" fill="#aa0000" stroke="#aa0000" stroke-width=".6"/>
<path d="M394.5,285.2L396,283.4L387.8,285.1z" fill="#9c0000" stroke="#9c0000" stroke-width=".6"/>
<path d="M394.5,285.2L417.6,280.2L399.6,278.8L376.7,284.9z" fill="none"/>
<path d="M704.1,405.9L725,432.9L706.1,423.5L685.1,395.2z" fill="#c6c6c6"/>
<path d="M435.7,278.2L458.7,278.6L440.5,278.4L417.6,280.2z" fill="#c6c6c6"/>
<path d="M744.1,443.4L764.6,471.5L745.5,462.2L725,432.9z" fill="#c6c6c6"/>
<path d="M477,278.9L499.9,284.4L481.5,282.1L458.7,278.6z" fill="#c6c6c6"/>
<path d="M783.7,481.9L803.8,510.5L784.7,501.1L764.6,471.5z" fill="#c6c6c6"/>
<path d="M518.5,288.4L541.1,297.7L522.5,292.7L499.9,284.4z" fill="#c6c6c6"/>
<path d="M247.4,285.6L270.8,274.5L262.2,258.2L249.9,262.6z" fill="#9c0000" stroke="#9c0000" stroke-width=".6"/>
<path d="M262.2,258.2L252.4,239.8L249.9,262.6z" fill="#8e0000" stroke="#8e0000" stroke-width=".6"/>
<path d="M247.4,285.6L249.9,262.6L237.8,267.2z" fill="#9c0000" stroke="#9c0000" stroke-width=".6"/>
<path d="M249.9,262.6L252.4,239.8L228.8,250.1L237.8,267.2z" fill="#8e0000" stroke="#8e0000" stroke-width=".6"/>
<path d="M247.4,285.6L270.8,274.5L252.4,239.8L228.8,250.1z" fill="none"/>
<path d="M823,521L842.7,549.3L823.5,539.8L803.8,510.5z" fill="#c6c6c6"/>
<path d="M559.8,304.8L582.2,316.8L563.5,310L541.1,297.7z" fill="#c6c6c6"/>
<path d="M289.1,302.5L312.5,292.7L304.1,280.3L291.5,285.4z" fill="#aa0000" stroke="#aa0000" stroke-width=".6"/>
<path d="M304.1,280.3L294.2,265.4L291.5,285.4z" fill="#9c0000" stroke="#9c0000" stroke-width=".6"/>
<path d="M289.1,302.5L291.5,285.4L281,290z" fill="#aa0000" stroke="#aa0000" stroke-width=".6"/>
<path d="M291.5,285.4L294.2,265.4L270.8,274.5L281,290z" fill="#9c0000" stroke="#9c0000" stroke-width=".6"/>
<path d="M289.1,302.5L312.5,292.7L294.2,265.4L270.8,274.5z" fill="none"/>
<path d="M601.1,325.6L623.2,340.2L604.3,332.7L582.2,316.8z" fill="#c6c6c6"/>
<path d="M330.4,305.1L353.6,294.1L335.7,284.3L312.5,292.7z" fill="#aa0000"/>
<path d="M642.1,349.6L663.8,370.1L644.9,361L623.2,340.2z" fill="#c6c6c6"/>
<path d="M387.8,285.1L376.7,284.9L373.6,290.3z" fill="#aa0000" stroke="#aa0000" stroke-width=".6"/>
<path d="M371.4,294.1L394.5,285.2L387.8,285.1L373.6,290.3z" fill="#9c0000" stroke="#9c0000" stroke-width=".6"/>
<path d="M373.6,290.3L376.7,284.9L353.6,294.1L363.7,294.1z" fill="#aa0000" stroke="#aa0000" stroke-width=".6"/>
<path d="M371.4,294.1L373.6,290.3L363.7,294.1z" fill="#9c0000" stroke="#9c0000" stroke-width=".6"/>
<path d="M371.4,294.1L394.5,285.2L376.7,284.9L353.6,294.1z" fill="none"/>
<path d="M682.9,382.5L704.1,405.9L685.1,395.2L663.8,370.1z" fill="#c6c6c6"/>
<path d="M412.6,281.5L435.7,278.2L417.6,280.2L394.5,285.2z" fill="#9c0000"/>
<path d="M723.3,417.9L744.1,443.4L725,432.9L704.1,405.9z" fill="#c6c6c6"/>
<path d="M454,276.7L477,278.9L458.7,278.6L435.7,278.2z" fill="#c6c6c6"/>
<path d="M763.3,454.9L783.7,481.9L764.6,471.5L744.1,443.4z" fill="#c6c6c6"/>
<path d="M495.6,282L518.5,288.4L499.9,284.4L477,278.9z" fill="#c6c6c6"/>
<path d="M223.9,299.1L247.4,285.6L237.8,267.2L226.8,270.4z" fill="#9c0000" stroke="#9c0000" stroke-width=".6"/>
<path d="M237.8,267.2L228.8,250.1L226.8,270.4z" fill="#8e0000" stroke="#8e0000" stroke-width=".6"/>
<path d="M223.9,299.1L226.8,270.4L211.8,275.2z" fill="#9c0000" stroke="#9c0000" stroke-width=".6"/>
<path d="M226.8,270.4L228.8,250.1L205.3,262.3L211.8,275.2z" fill="#8e0000" stroke="#8e0000" stroke-width=".6"/>
<path d="M223.9,299.1L247.4,285.6L228.8,250.1L205.3,262.3z" fill="none"/>
<path d="M803,493.3L823,521L803.8,510.5L783.7,481.9z" fill="#c6c6c6"/>
<path d="M537.2,295.6L559.8,304.8L541.1,297.7L518.5,288.4z" fill="#c6c6c6"/>
<path d="M265.7,314.6L289.1,302.5L281,290L268.4,293.8z" fill="#aa0000" stroke="#aa0000" stroke-width=".6"/>
<path d="M281,290L270.8,274.5L268.4,293.8z" fill="#9c0000" stroke="#9c0000" stroke-width=".6"/>
<path d="M265.7,314.6L268.4,293.8L255.4,298.2z" fill="#aa0000" stroke="#aa0000" stroke-width=".6"/>
<path d="M268.4,293.8L270.8,274.5L247.4,285.6L255.4,298.2z" fill="#9c0000" stroke="#9c0000" stroke-width=".6"/>
<path d="M265.7,314.6L289.1,302.5L270.8,274.5L247.4,285.6z" fill="none"/>
<path d="M842.4,532.9L862,560.1L842.7,549.3L823,521z" fill="#c6c6c6"/>
<path d="M578.7,314.8L601.1,325.6L582.2,316.8L559.8,304.8z" fill="#c6c6c6"/>
<path d="M307.1,316.6L330.4,305.1L312.5,292.7L289.1,302.5z" fill="#aa0000"/>
<path d="M620.1,337.2L642.1,349.6L623.2,340.2L601.1,325.6z" fill="#c6c6c6"/>
<path d="M363.7,294.1L353.6,294.1L349.5,303.6z" fill="#aa0000" stroke="#aa0000" stroke-width=".6"/>
<path d="M348.2,306.6L371.4,294.1L363.7,294.1L349.5,303.6z" fill="#9c0000" stroke="#9c0000" stroke-width=".6"/>
<path d="M349.5,303.6L353.6,294.1L330.4,305.1L344.4,306.3z" fill="#aa0000" stroke="#aa0000" stroke-width=".6"/>
<path d="M348.2,306.6L349.5,303.6L344.4,306.3z" fill="#9c0000" stroke="#9c0000" stroke-width=".6"/>
<path d="M348.2,306.6L371.4,294.1L353.6,294.1L330.4,305.1z" fill="none"/>
<path d="M661.2,364.2L682.9,382.5L663.8,370.1L642.1,349.6z" fill="#c6c6c6"/>
<path d="M407.1,283.3L412.6,281.5L394.5,285.2L389.7,289.1z" fill="#9c0000" stroke="#9c0000" stroke-width=".6"/>
<path d="M389.3,289.4L407.1,283.3L389.7,289.1z" fill="#8e0000" stroke="#8e0000" stroke-width=".6"/>
<path d="M389.7,289.1L394.5,285.2L371.4,294.1L387.9,289.8z" fill="#9c0000" stroke="#9c0000" stroke-width=".6"/>
<path d="M389.3,289.4L389.7,289.1L387.9,289.8z" fill="#8e0000" stroke="#8e0000" stroke-width=".6"/>
<path d="M389.3,289.4L412.6,281.5L394.5,285.2L371.4,294.1z" fill="none"/>
<path d="M702,396.3L723.3,417.9L704.1,405.9L682.9,382.5z" fill="#c6c6c6"/>
<path d="M430.8,278.4L454,276.7L435.7,278.2L412.6,281.5z" fill="#c6c6c6"/>
<path d="M742.5,431.1L763.3,454.9L744.1,443.4L723.3,417.9z" fill="#c6c6c6"/>
<path d="M489,280.9L477,278.9L475.8,279z" fill="#9c0000" stroke="#9c0000" stroke-width=".6"/>
<path d="M472.5,279.2L495.6,282L489,280.9L475.8,279z" fill="#8e0000" stroke="#8e0000" stroke-width=".6"/>
<path d="M475.8,279L477,278.9L466.3,277.9z" fill="#9c0000" stroke="#9c0000" stroke-width=".6"/>
<path d="M472.5,279.2L475.8,279L466.3,277.9L454,276.7z" fill="#8e0000" stroke="#8e0000" stroke-width=".6"/>
<path d="M472.5,279.2L495.6,282L477,278.9L454,276.7z" fill="none"/>
<path d="M200.3,314.1L207.3,309.6L200.5,311.4z" fill="#aa0000" stroke="#aa0000" stroke-width=".6"/>
<path d="M207.3,309.6L223.9,299.1L211.8,275.2L203.8,277.3L200.5,311.4z" fill="#9c0000" stroke="#9c0000" stroke-width=".6"/>
<path d="M211.8,275.2L205.3,262.3L203.8,277.3z" fill="#8e0000" stroke="#8e0000" stroke-width=".6"/>
<path d="M200.3,314.1L200.5,311.4L199.2,311.8z" fill="#aa0000" stroke="#aa0000" stroke-width=".6"/>
<path d="M200.5,311.4L203.8,277.3L184.7,282.7L199.2,311.8z" fill="#9c0000" stroke="#9c0000" stroke-width=".6"/>
<path d="M203.8,277.3L205.3,262.3L181.6,276.5L184.7,282.7z" fill="#8e0000" stroke="#8e0000" stroke-width=".6"/>
<path d="M200.3,314.1L223.9,299.1L205.3,262.3L181.6,276.5z" fill="none"/>
<path d="M782.7,467.5L803,493.3L783.7,481.9L763.3,454.9z" fill="#c6c6c6"/>
<path d="M524.8,292.3L537.2,295.6L518.5,288.4L515.8,289.1z" fill="#9c0000" stroke="#9c0000" stroke-width=".6"/>
<path d="M514.3,289.4L524.8,292.3L515.8,289.1z" fill="#8e0000" stroke="#8e0000" stroke-width=".6"/>
<path d="M515.8,289.1L518.5,288.4L499.9,283.2z" fill="#9c0000" stroke="#9c0000" stroke-width=".6"/>
<path d="M514.3,289.4L515.8,289.1L499.9,283.2L495.6,282z" fill="#8e0000" stroke="#8e0000" stroke-width=".6"/>
<path d="M514.3,289.4L537.2,295.6L518.5,288.4L495.6,282z" fill="none"/>
<path d="M242.3,329.8L265.7,314.6L255.4,298.2L245.7,300.2z" fill="#aa0000" stroke="#aa0000" stroke-width=".6"/>
<path d="M255.4,298.2L247.4,285.6L245.7,300.2z" fill="#9c0000" stroke="#9c0000" stroke-width=".6"/>
<path d="M242.3,329.8L245.7,300.2L227.4,305.1z" fill="#aa0000" stroke="#aa0000" stroke-width=".6"/>
<path d="M245.7,300.2L247.4,285.6L223.9,299.1L227.4,305.1z" fill="#9c0000" stroke="#9c0000" stroke-width=".6"/>
<path d="M242.3,329.8L265.7,314.6L247.4,285.6L223.9,299.1z" fill="none"/>
<path d="M822.4,506.1L842.4,532.9L823,521L803,493.3z" fill="#c6c6c6"/>
<path d="M571.4,312.2L578.7,314.8L559.8,304.8L558.4,305.6z" fill="#aa0000" stroke="#aa0000" stroke-width=".6"/>
<path d="M556.1,306.8L571.4,312.2L558.4,305.6z" fill="#9c0000" stroke="#9c0000" stroke-width=".6"/>
<path d="M558.4,305.6L559.8,304.8L551,301.2z" fill="#aa0000" stroke="#aa0000" stroke-width=".6"/>
<path d="M556.1,306.8L558.4,305.6L551,301.2L537.2,295.6z" fill="#9c0000" stroke="#9c0000" stroke-width=".6"/>
<path d="M556.1,306.8L578.7,314.8L559.8,304.8L537.2,295.6z" fill="none"/>
<path d="M283.7,330.5L307.1,316.6L289.1,302.5L265.7,314.6z" fill="#aa0000"/>
<path d="M861.8,546.8L881.3,573.1L862,560.1L842.4,532.9z" fill="#c6c6c6"/>
<path d="M612.8,334.2L620.1,337.2L601.1,325.6L600,326.4z" fill="#c80000" stroke="#c80000" stroke-width=".6"/>
<path d="M597.7,328.2L612.8,334.2L600,326.4z" fill="#aa0000" stroke="#aa0000" stroke-width=".6"/>
<path d="M600,326.4L601.1,325.6L594.2,322.3z" fill="#c80000" stroke="#c80000" stroke-width=".6"/>
<path d="M597.7,328.2L600,326.4L594.2,322.3L578.7,314.8z" fill="#aa0000" stroke="#aa0000" stroke-width=".6"/>
<path d="M597.7,328.2L620.1,337.2L601.1,325.6L578.7,314.8z" fill="none"/>
<path d="M324.9,321.3L338,313L344.4,306.3L330.4,305.1z" fill="#aa0000" stroke="#aa0000" stroke-width=".6"/>
<path d="M338,313L348.2,306.6L344.4,306.3z" fill="#9c0000" stroke="#9c0000" stroke-width=".6"/>
<path d="M324.9,321.3L330.4,305.1L307.1,316.6z" fill="#aa0000" stroke="#aa0000" stroke-width=".6"/>
<path d="M324.9,321.3L348.2,306.6L330.4,305.1L307.1,316.6z" fill="none"/>
<path d="M649.6,358.1L661.2,364.2L642.1,349.6L640.8,351z" fill="#e00000" stroke="#e00000" stroke-width=".6"/>
<path d="M639.2,352.7L649.6,358.1L640.8,351z" fill="#c80000" stroke="#c80000" stroke-width=".6"/>
<path d="M640.8,351L642.1,349.6L633.7,344.8z" fill="#e00000" stroke="#e00000" stroke-width=".6"/>
<path d="M639.2,352.7L640.8,351L633.7,344.8L620.1,337.2z" fill="#c80000" stroke="#c80000" stroke-width=".6"/>
<path d="M639.2,352.7L661.2,364.2L642.1,349.6L620.1,337.2z" fill="none"/>
<path d="M366.1,303.7L382.6,293.5L387.9,289.8L371.4,294.1z" fill="#9c0000" stroke="#9c0000" stroke-width=".6"/>
<path d="M382.6,293.5L389.3,289.4L387.9,289.8z" fill="#8e0000" stroke="#8e0000" stroke-width=".6"/>
<path d="M366.1,303.7L371.4,294.1L348.2,306.6z" fill="#9c0000" stroke="#9c0000" stroke-width=".6"/>
<path d="M366.1,303.7L389.3,289.4L371.4,294.1L348.2,306.6z" fill="none"/>
<path d="M680.4,379.4L702,396.3L682.9,382.5L661.2,364.2z" fill="#c6c6c6"/>
<path d="M407.4,285.2L430.8,278.4L413,281.4L412.4,281.6z" fill="#8e0000" stroke="#8e0000" stroke-width=".6"/>
<path d="M412.4,281.6L412.6,281.5L407.1,283.3z" fill="#9c0000" stroke="#9c0000" stroke-width=".6"/>
<path d="M407.4,285.2L412.4,281.6L407.1,283.3L389.3,289.4z" fill="#8e0000" stroke="#8e0000" stroke-width=".6"/>
<path d="M407.4,285.2L430.8,278.4L412.6,281.5L389.3,289.4z" fill="none"/>
<path d="M721.3,411.5L742.5,431.1L723.3,417.9L702,396.3z" fill="#c6c6c6"/>
<path d="M457.5,280.8L472.5,279.2L454,276.7L450,280.9z" fill="#8e0000" stroke="#8e0000" stroke-width=".6"/>
<path d="M449.3,281.7L457.5,280.8L450,280.9z" fill="#800000" stroke="#800000" stroke-width=".6"/>
<path d="M450,280.9L454,276.7L430.8,278.4L443.6,280.7z" fill="#8e0000" stroke="#8e0000" stroke-width=".6"/>
<path d="M449.3,281.7L450,280.9L443.6,280.7z" fill="#800000" stroke="#800000" stroke-width=".6"/>
<path d="M449.3,281.7L472.5,279.2L454,276.7L430.8,278.4z" fill="none"/>
<path d="M176.6,328.6L200.3,314.1L199.2,311.8L177.6,317.9z" fill="#aa0000" stroke="#aa0000" stroke-width=".6"/>
<path d="M199.2,311.8L184.7,282.7L180.9,283.7L177.6,317.9z" fill="#9c0000" stroke="#9c0000" stroke-width=".6"/>
<path d="M184.7,282.7L181.6,276.5L180.9,283.7z" fill="#8e0000" stroke="#8e0000" stroke-width=".6"/>
<path d="M176.6,328.6L177.6,317.9L171.9,319.4z" fill="#aa0000" stroke="#aa0000" stroke-width=".6"/>
<path d="M177.6,317.9L180.9,283.7L162,288.8L157.9,291.3L171.9,319.4z" fill="#9c0000" stroke="#9c0000" stroke-width=".6"/>
<path d="M180.9,283.7L181.6,276.5L162,288.8z" fill="#8e0000" stroke="#8e0000" stroke-width=".6"/>
<path d="M176.6,328.6L200.3,314.1L181.6,276.5L157.9,291.3z" fill="none"/>
<path d="M761.9,445L782.7,467.5L763.3,454.9L742.5,431.1z" fill="#c6c6c6"/>
<path d="M491.2,287.2L514.3,289.4L495.6,282L472.5,279.2z" fill="#8e0000"/>
<path d="M218.8,346.1L225,341.7L219.1,342.9z" fill="#c80000" stroke="#c80000" stroke-width=".6"/>
<path d="M225,341.7L242.3,329.8L227.4,305.1L223.1,305.9L219.1,342.9z" fill="#aa0000" stroke="#aa0000" stroke-width=".6"/>
<path d="M227.4,305.1L223.9,299.1L223.1,305.9z" fill="#9c0000" stroke="#9c0000" stroke-width=".6"/>
<path d="M218.8,346.1L219.1,342.9L217.2,343.4z" fill="#c80000" stroke="#c80000" stroke-width=".6"/>
<path d="M219.1,342.9L223.1,305.9L207.3,309.6L200.3,314.1L217.2,343.4z" fill="#aa0000" stroke="#aa0000" stroke-width=".6"/>
<path d="M223.1,305.9L223.9,299.1L207.3,309.6z" fill="#9c0000" stroke="#9c0000" stroke-width=".6"/>
<path d="M218.8,346.1L242.3,329.8L223.9,299.1L200.3,314.1z" fill="none"/>
<path d="M802.1,481.2L822.4,506.1L803,493.3L782.7,467.5z" fill="#c6c6c6"/>
<path d="M543.5,304.1L556.1,306.8L537.2,295.6L535,299.2z" fill="#9c0000" stroke="#9c0000" stroke-width=".6"/>
<path d="M533.2,301.9L543.5,304.1L535,299.2z" fill="#8e0000" stroke="#8e0000" stroke-width=".6"/>
<path d="M535,299.2L537.2,295.6L524.8,292.3z" fill="#9c0000" stroke="#9c0000" stroke-width=".6"/>
<path d="M533.2,301.9L535,299.2L524.8,292.3L514.3,289.4z" fill="#8e0000" stroke="#8e0000" stroke-width=".6"/>
<path d="M533.2,301.9L556.1,306.8L537.2,295.6L514.3,289.4z" fill="none"/>
<path d="M260.3,347.5L264,344.8L260.8,344.2z" fill="#c80000" stroke="#c80000" stroke-width=".6"/>
<path d="M264,344.8L283.7,330.5L265.7,314.6L260.8,344.2z" fill="#aa0000" stroke="#aa0000" stroke-width=".6"/>
<path d="M260.3,347.5L260.8,344.2L256.8,344.1z" fill="#c80000" stroke="#c80000" stroke-width=".6"/>
<path d="M260.8,344.2L265.7,314.6L242.3,329.8L256.8,344.1z" fill="#aa0000" stroke="#aa0000" stroke-width=".6"/>
<path d="M260.3,347.5L283.7,330.5L265.7,314.6L242.3,329.8z" fill="none"/>
<path d="M841.9,521L861.8,546.8L842.4,532.9L822.4,506.1z" fill="#c6c6c6"/>
<path d="M587.7,325.2L597.7,328.2L578.7,314.8L577.3,317.4z" fill="#aa0000" stroke="#aa0000" stroke-width=".6"/>
<path d="M575.1,321.4L587.7,325.2L577.3,317.4z" fill="#9c0000" stroke="#9c0000" stroke-width=".6"/>
<path d="M577.3,317.4L578.7,314.8L571.4,312.2z" fill="#aa0000" stroke="#aa0000" stroke-width=".6"/>
<path d="M575.1,321.4L577.3,317.4L571.4,312.2L556.1,306.8z" fill="#9c0000" stroke="#9c0000" stroke-width=".6"/>
<path d="M575.1,321.4L597.7,328.2L578.7,314.8L556.1,306.8z" fill="none"/>
<path d="M301.5,338.3L324.9,321.3L307.1,316.6L283.7,330.5z" fill="#aa0000"/>
<path d="M881.2,562.7L900.7,588.6L881.3,573.1L861.8,546.8z" fill="#c6c6c6"/>
<path d="M627.2,348.1L639.2,352.7L620.1,337.2L618.7,340.1z" fill="#c80000" stroke="#c80000" stroke-width=".6"/>
<path d="M616.8,344.2L627.2,348.1L618.7,340.1z" fill="#aa0000" stroke="#aa0000" stroke-width=".6"/>
<path d="M618.7,340.1L620.1,337.2L612.8,334.2z" fill="#c80000" stroke="#c80000" stroke-width=".6"/>
<path d="M616.8,344.2L618.7,340.1L612.8,334.2L597.7,328.2z" fill="#aa0000" stroke="#aa0000" stroke-width=".6"/>
<path d="M616.8,344.2L639.2,352.7L620.1,337.2L597.7,328.2z" fill="none"/>
<path d="M342.8,321.5L366.1,303.7L348.2,306.6z" fill="#9c0000" stroke="#9c0000" stroke-width=".6"/>
<path d="M338,313L324.9,321.3L329.2,321.4z" fill="#aa0000" stroke="#aa0000" stroke-width=".6"/>
<path d="M342.8,321.5L348.2,306.6L338,313L329.2,321.4z" fill="#9c0000" stroke="#9c0000" stroke-width=".6"/>
<path d="M342.8,321.5L366.1,303.7L348.2,306.6L324.9,321.3z" fill="none"/>
<path d="M665,371.7L680.4,379.4L661.2,364.2L659.4,366.9z" fill="#e00000" stroke="#e00000" stroke-width=".6"/>
<path d="M658.4,368.5L665,371.7L659.4,366.9z" fill="#c80000" stroke="#c80000" stroke-width=".6"/>
<path d="M659.4,366.9L661.2,364.2L649.6,358.1z" fill="#e00000" stroke="#e00000" stroke-width=".6"/>
<path d="M658.4,368.5L659.4,366.9L649.6,358.1L639.2,352.7z" fill="#c80000" stroke="#c80000" stroke-width=".6"/>
<path d="M658.4,368.5L680.4,379.4L661.2,364.2L639.2,352.7z" fill="none"/>
<path d="M384.1,301.3L407.4,285.2L389.3,289.4z" fill="#8e0000" stroke="#8e0000" stroke-width=".6"/>
<path d="M382.6,293.5L366.1,303.7L370.2,303.1z" fill="#9c0000" stroke="#9c0000" stroke-width=".6"/>
<path d="M384.1,301.3L389.3,289.4L382.6,293.5L370.2,303.1z" fill="#8e0000" stroke="#8e0000" stroke-width=".6"/>
<path d="M384.1,301.3L407.4,285.2L389.3,289.4L366.1,303.7z" fill="none"/>
<path d="M716.8,408.4L721.3,411.5L702,396.3L701.8,396.3z" fill="#ff5000" stroke="#ff5000" stroke-width=".6"/>
<path d="M699.7,396.6L716.8,408.4L701.8,396.3L699.7,396.6z" fill="#ff0a00" stroke="#ff0a00" stroke-width=".6"/>
<path d="M701.8,396.3L702,396.3L700.5,395.1z" fill="#ff5000" stroke="#ff5000" stroke-width=".6"/>
<path d="M699.7,396.6L701.8,396.3L700.5,395.1L684.6,382.7z" fill="#ff0a00" stroke="#ff0a00" stroke-width=".6"/>
<path d="M699.7,396.6L699.7,396.6L684.6,382.7L680.4,379.4z" fill="#e00000" stroke="#e00000" stroke-width=".6"/>
<path d="M699.7,396.6L721.3,411.5L702,396.3L680.4,379.4z" fill="none"/>
<path d="M443.6,280.7L430.8,278.4L427.8,285.6z" fill="#8e0000" stroke="#8e0000" stroke-width=".6"/>
<path d="M425.9,290.2L449.3,281.7L443.6,280.7L427.8,285.6z" fill="#800000" stroke="#800000" stroke-width=".6"/>
<path d="M427.8,285.6L430.8,278.4L407.4,285.2L415.6,287.4z" fill="#8e0000" stroke="#8e0000" stroke-width=".6"/>
<path d="M425.9,290.2L427.8,285.6L415.6,287.4z" fill="#800000" stroke="#800000" stroke-width=".6"/>
<path d="M425.9,290.2L449.3,281.7L430.8,278.4L407.4,285.2z" fill="none"/>
<path d="M740.6,427.4L761.9,445L742.5,431.1L721.3,411.5z" fill="#c6c6c6"/>
<path d="M486.7,288.2L491.2,287.2L472.5,279.2L470,286.4z" fill="#8e0000" stroke="#8e0000" stroke-width=".6"/>
<path d="M468,292.2L486.7,288.2L470,286.4z" fill="#800000" stroke="#800000" stroke-width=".6"/>
<path d="M470,286.4L472.5,279.2L457.5,280.8z" fill="#8e0000" stroke="#8e0000" stroke-width=".6"/>
<path d="M468,292.2L470,286.4L457.5,280.8L449.3,281.7z" fill="#800000" stroke="#800000" stroke-width=".6"/>
<path d="M468,292.2L491.2,287.2L472.5,279.2L449.3,281.7z" fill="none"/>
<path d="M195.2,363.8L218.8,346.1L217.2,343.4L196.9,346.9z" fill="#c80000" stroke="#c80000" stroke-width=".6"/>
<path d="M217.2,343.4L200.3,314.1L196.9,346.9z" fill="#aa0000" stroke="#aa0000" stroke-width=".6"/>
<path d="M195.2,363.8L196.9,346.9L187.5,349.4z" fill="#c80000" stroke="#c80000" stroke-width=".6"/>
<path d="M196.9,346.9L200.3,314.1L176.6,328.6L187.5,349.4z" fill="#aa0000" stroke="#aa0000" stroke-width=".6"/>
<path d="M195.2,363.8L218.8,346.1L200.3,314.1L176.6,328.6z" fill="none"/>
<path d="M781.3,459.6L802.1,481.2L782.7,467.5L761.9,445z" fill="#c6c6c6"/>
<path d="M510.2,301.4L533.2,301.9L514.3,289.4L491.2,287.2z" fill="#8e0000"/>
<path d="M236.9,366.7L260.3,347.5L256.8,344.1L240.6,341.3z" fill="#c80000" stroke="#c80000" stroke-width=".6"/>
<path d="M256.8,344.1L242.3,329.8L240.6,341.3z" fill="#aa0000" stroke="#aa0000" stroke-width=".6"/>
<path d="M236.9,366.7L240.6,341.3L225,341.7L218.8,346.1z" fill="#c80000" stroke="#c80000" stroke-width=".6"/>
<path d="M240.6,341.3L242.3,329.8L225,341.7z" fill="#aa0000" stroke="#aa0000" stroke-width=".6"/>
<path d="M236.9,366.7L260.3,347.5L242.3,329.8L218.8,346.1z" fill="none"/>
<path d="M821.6,496.7L841.9,521L822.4,506.1L802.1,481.2z" fill="#c6c6c6"/>
<path d="M557,318.3L575.1,321.4L556.1,306.8L553.3,314.7z" fill="#9c0000" stroke="#9c0000" stroke-width=".6"/>
<path d="M552.3,317.5L557,318.3L553.3,314.7z" fill="#8e0000" stroke="#8e0000" stroke-width=".6"/>
<path d="M553.3,314.7L556.1,306.8L543.5,304.1z" fill="#9c0000" stroke="#9c0000" stroke-width=".6"/>
<path d="M552.3,317.5L553.3,314.7L543.5,304.1L533.2,301.9z" fill="#8e0000" stroke="#8e0000" stroke-width=".6"/>
<path d="M552.3,317.5L575.1,321.4L556.1,306.8L533.2,301.9z" fill="none"/>
<path d="M278.1,357.5L301.5,338.3L283.7,330.5z" fill="#aa0000" stroke="#aa0000" stroke-width=".6"/>
<path d="M264,344.8L260.3,347.5L270.7,353.4z" fill="#c80000" stroke="#c80000" stroke-width=".6"/>
<path d="M278.1,357.5L283.7,330.5L264,344.8L270.7,353.4z" fill="#aa0000" stroke="#aa0000" stroke-width=".6"/>
<path d="M278.1,357.5L301.5,338.3L283.7,330.5L260.3,347.5z" fill="none"/>
<path d="M861.4,538.1L881.2,562.7L861.8,546.8L841.9,521z" fill="#c6c6c6"/>
<path d="M600.4,339.9L616.8,344.2L597.7,328.2L595.5,334.6z" fill="#aa0000" stroke="#aa0000" stroke-width=".6"/>
<path d="M594.3,338.3L600.4,339.9L595.5,334.6z" fill="#9c0000" stroke="#9c0000" stroke-width=".6"/>
<path d="M595.5,334.6L597.7,328.2L587.7,325.2z" fill="#aa0000" stroke="#aa0000" stroke-width=".6"/>
<path d="M594.3,338.3L595.5,334.6L587.7,325.2L575.1,321.4z" fill="#9c0000" stroke="#9c0000" stroke-width=".6"/>
<path d="M594.3,338.3L616.8,344.2L597.7,328.2L575.1,321.4z" fill="none"/>
<path d="M319.4,341.7L322.7,338.9L329.2,321.4L324.9,321.3z" fill="#aa0000" stroke="#aa0000" stroke-width=".6"/>
<path d="M322.7,338.9L342.8,321.5L329.2,321.4z" fill="#9c0000" stroke="#9c0000" stroke-width=".6"/>
<path d="M319.4,341.7L324.9,321.3L301.5,338.3z" fill="#aa0000" stroke="#aa0000" stroke-width=".6"/>
<path d="M319.4,341.7L342.8,321.5L324.9,321.3L301.5,338.3z" fill="none"/>
<path d="M900.8,578.9L920.3,602.6L900.7,588.6L881.2,562.7z" fill="#c6c6c6"/>
<path d="M641.3,362.4L658.4,368.5L639.2,352.7L637,358.2z" fill="#c80000" stroke="#c80000" stroke-width=".6"/>
<path d="M636.1,360.5L641.3,362.4L637,358.2z" fill="#aa0000" stroke="#aa0000" stroke-width=".6"/>
<path d="M637,358.2L639.2,352.7L627.2,348.1z" fill="#c80000" stroke="#c80000" stroke-width=".6"/>
<path d="M636.1,360.5L637,358.2L627.2,348.1L616.8,344.2z" fill="#aa0000" stroke="#aa0000" stroke-width=".6"/>
<path d="M636.1,360.5L658.4,368.5L639.2,352.7L616.8,344.2z" fill="none"/>
<path d="M370.2,303.1L366.1,303.7L361.3,320.1z" fill="#9c0000" stroke="#9c0000" stroke-width=".6"/>
<path d="M360.8,321.8L384.1,301.3L370.2,303.1L361.3,320.1z" fill="#8e0000" stroke="#8e0000" stroke-width=".6"/>
<path d="M361.3,320.1L366.1,303.7L342.8,321.5L360.3,321.8z" fill="#9c0000" stroke="#9c0000" stroke-width=".6"/>
<path d="M360.8,321.8L361.3,320.1L360.3,321.8z" fill="#8e0000" stroke="#8e0000" stroke-width=".6"/>
<path d="M360.8,321.8L384.1,301.3L366.1,303.7L342.8,321.5z" fill="none"/>
<path d="M678.8,386.3L699.7,396.6L680.4,379.4L677.9,385.3z" fill="#e00000" stroke="#e00000" stroke-width=".6"/>
<path d="M677.7,385.7L678.8,386.3L677.9,385.3z" fill="#c80000" stroke="#c80000" stroke-width=".6"/>
<path d="M677.9,385.3L680.4,379.4L665,371.7z" fill="#e00000" stroke="#e00000" stroke-width=".6"/>
<path d="M677.7,385.7L677.9,385.3L665,371.7L658.4,368.5z" fill="#c80000" stroke="#c80000" stroke-width=".6"/>
<path d="M677.7,385.7L699.7,396.6L680.4,379.4L658.4,368.5z" fill="none"/>
<path d="M402.5,305.1L408.2,301.4L415.6,287.4L407.4,285.2z" fill="#8e0000" stroke="#8e0000" stroke-width=".6"/>
<path d="M408.2,301.4L425.9,290.2L415.6,287.4z" fill="#800000" stroke="#800000" stroke-width=".6"/>
<path d="M402.5,305.1L407.4,285.2L384.1,301.3z" fill="#8e0000" stroke="#8e0000" stroke-width=".6"/>
<path d="M402.5,305.1L425.9,290.2L407.4,285.2L384.1,301.3z" fill="none"/>
<path d="M732,422.5L740.6,427.4L721.3,411.5L720.7,412.4z" fill="#ff5000" stroke="#ff5000" stroke-width=".6"/>
<path d="M719,415.1L732,422.5L720.7,412.4z" fill="#ff0a00" stroke="#ff0a00" stroke-width=".6"/>
<path d="M720.7,412.4L721.3,411.5L716.8,408.4z" fill="#ff5000" stroke="#ff5000" stroke-width=".6"/>
<path d="M719,415.1L720.7,412.4L716.8,408.4L699.7,396.6L699.7,396.6z" fill="#ff0a00" stroke="#ff0a00" stroke-width=".6"/>
<path d="M719,415.1L740.6,427.4L721.3,411.5L699.7,396.6z" fill="none"/>
<path d="M444.6,301.5L468,292.2L449.3,281.7L425.9,290.2z" fill="#800000"/>
<path d="M765.4,447.7L781.3,459.6L761.9,445L760.6,444.1z" fill="#ff9000" stroke="#ff9000" stroke-width=".6"/>
<path d="M760.6,444.1L761.9,445L748.8,434.2z" fill="#ff9000" stroke="#ff9000" stroke-width=".6"/>
<path d="M760.1,443.8L760.6,444.1L748.8,434.2L740.6,427.4z" fill="#ff5000" stroke="#ff5000" stroke-width=".6"/>
<path d="M760.1,443.8L781.3,459.6L761.9,445L740.6,427.4z" fill="none"/>
<path d="M491.5,306L510.2,301.4L491.2,287.2L488.9,297.9z" fill="#8e0000" stroke="#8e0000" stroke-width=".6"/>
<path d="M486.9,307.1L491.5,306L488.9,297.9z" fill="#800000" stroke="#800000" stroke-width=".6"/>
<path d="M488.9,297.9L491.2,287.2L486.7,288.2z" fill="#8e0000" stroke="#8e0000" stroke-width=".6"/>
<path d="M486.9,307.1L488.9,297.9L486.7,288.2L468,292.2z" fill="#800000" stroke="#800000" stroke-width=".6"/>
<path d="M486.9,307.1L510.2,301.4L491.2,287.2L468,292.2z" fill="none"/>
<path d="M213.4,387.7L216.4,385L213.8,384.7z" fill="#e00000" stroke="#e00000" stroke-width=".6"/>
<path d="M216.4,385L236.9,366.7L218.8,346.1L213.8,384.7z" fill="#c80000" stroke="#c80000" stroke-width=".6"/>
<path d="M213.4,387.7L213.8,384.7L211.2,384.8z" fill="#e00000" stroke="#e00000" stroke-width=".6"/>
<path d="M213.8,384.7L218.8,346.1L195.2,363.8L211.2,384.8z" fill="#c80000" stroke="#c80000" stroke-width=".6"/>
<path d="M213.4,387.7L236.9,366.7L218.8,346.1L195.2,363.8z" fill="none"/>
<path d="M800.9,475.6L821.6,496.7L802.1,481.2L781.3,459.6z" fill="#c6c6c6"/>
<path d="M529.2,317.9L552.3,317.5L533.2,301.9L510.2,301.4z" fill="#8e0000"/>
<path d="M254.7,378.1L276.3,359.1L270.7,353.4L260.3,347.5z" fill="#c80000" stroke="#c80000" stroke-width=".6"/>
<path d="M276.3,359.1L278.1,357.5L270.7,353.4z" fill="#aa0000" stroke="#aa0000" stroke-width=".6"/>
<path d="M254.7,378.1L260.3,347.5L236.9,366.7z" fill="#c80000" stroke="#c80000" stroke-width=".6"/>
<path d="M254.7,378.1L278.1,357.5L260.3,347.5L236.9,366.7z" fill="none"/>
<path d="M841.1,514.9L861.4,538.1L841.9,521L821.6,496.7z" fill="#c6c6c6"/>
<path d="M571.4,335.3L594.3,338.3L575.1,321.4z" fill="#9c0000" stroke="#9c0000" stroke-width=".6"/>
<path d="M571.4,335.3L575.1,321.4L557,318.3L561.6,326.2z" fill="#9c0000" stroke="#9c0000" stroke-width=".6"/>
<path d="M557,318.3L552.3,317.5L561.6,326.2z" fill="#8e0000" stroke="#8e0000" stroke-width=".6"/>
<path d="M571.4,335.3L594.3,338.3L575.1,321.4L552.3,317.5z" fill="none"/>
<path d="M296,363.5L319.4,341.7L301.5,338.3L278.1,357.5z" fill="#aa0000"/>
<path d="M880.9,556.9L900.8,578.9L881.2,562.7L861.4,538.1z" fill="#c6c6c6"/>
<path d="M613.5,355.5L636.1,360.5L616.8,344.2z" fill="#aa0000" stroke="#aa0000" stroke-width=".6"/>
<path d="M613.5,355.5L616.8,344.2L600.4,339.9L610.2,352.5z" fill="#aa0000" stroke="#aa0000" stroke-width=".6"/>
<path d="M600.4,339.9L594.3,338.3L610.2,352.5z" fill="#9c0000" stroke="#9c0000" stroke-width=".6"/>
<path d="M613.5,355.5L636.1,360.5L616.8,344.2L594.3,338.3z" fill="none"/>
<path d="M337.4,344.7L360.2,322.4L360.3,321.8L342.8,321.5z" fill="#9c0000" stroke="#9c0000" stroke-width=".6"/>
<path d="M360.2,322.4L360.8,321.8L360.3,321.8z" fill="#8e0000" stroke="#8e0000" stroke-width=".6"/>
<path d="M322.7,338.9L319.4,341.7L322.3,342.2z" fill="#aa0000" stroke="#aa0000" stroke-width=".6"/>
<path d="M337.4,344.7L342.8,321.5L322.7,338.9L322.3,342.2z" fill="#9c0000" stroke="#9c0000" stroke-width=".6"/>
<path d="M337.4,344.7L360.8,321.8L342.8,321.5L319.4,341.7z" fill="none"/>
<path d="M920.5,595.3L940,617.5L920.3,602.6L900.8,578.9z" fill="#c6c6c6"/>
<path d="M655.4,378.2L677.7,385.7L658.4,368.5z" fill="#c80000" stroke="#c80000" stroke-width=".6"/>
<path d="M655.4,378.2L658.4,368.5L641.3,362.4L650.4,373.6z" fill="#c80000" stroke="#c80000" stroke-width=".6"/>
<path d="M641.3,362.4L636.1,360.5L650.4,373.6z" fill="#aa0000" stroke="#aa0000" stroke-width=".6"/>
<path d="M655.4,378.2L677.7,385.7L658.4,368.5L636.1,360.5z" fill="none"/>
<path d="M379.1,326L402.5,305.1L384.1,301.3L360.8,321.8z" fill="#8e0000"/>
<path d="M712.1,411.9L719,415.1L699.7,396.6z" fill="#ff0a00" stroke="#ff0a00" stroke-width=".6"/>
<path d="M697.1,405.1L712.1,411.9L699.7,396.6L699.7,396.6z" fill="#e00000" stroke="#e00000" stroke-width=".6"/>
<path d="M697.1,405.1L699.7,396.6L678.8,386.3L680.4,388.5z" fill="#e00000" stroke="#e00000" stroke-width=".6"/>
<path d="M678.8,386.3L677.7,385.7L680.4,388.5z" fill="#c80000" stroke="#c80000" stroke-width=".6"/>
<path d="M697.1,405.1L719,415.1L699.7,396.6L677.7,385.7z" fill="none"/>
<path d="M421.2,315.8L444.6,301.5L425.9,290.2z" fill="#800000" stroke="#800000" stroke-width=".6"/>
<path d="M408.2,301.4L402.5,305.1L421.1,315.7z" fill="#8e0000" stroke="#8e0000" stroke-width=".6"/>
<path d="M421.2,315.8L425.9,290.2L408.2,301.4L421.1,315.7z" fill="#800000" stroke="#800000" stroke-width=".6"/>
<path d="M421.2,315.8L444.6,301.5L425.9,290.2L402.5,305.1z" fill="none"/>
<path d="M746.3,437.1L760.1,443.8L740.6,427.4L739.5,430.6z" fill="#ff5000" stroke="#ff5000" stroke-width=".6"/>
<path d="M738.5,433.3L746.3,437.1L739.5,430.6z" fill="#ff0a00" stroke="#ff0a00" stroke-width=".6"/>
<path d="M739.5,430.6L740.6,427.4L732,422.5z" fill="#ff5000" stroke="#ff5000" stroke-width=".6"/>
<path d="M738.5,433.3L739.5,430.6L732,422.5L719,415.1z" fill="#ff0a00" stroke="#ff0a00" stroke-width=".6"/>
<path d="M738.5,433.3L760.1,443.8L740.6,427.4L719,415.1z" fill="none"/>
<path d="M463.5,317L486.9,307.1L468,292.2L444.6,301.5z" fill="#800000"/>
<path d="M797.9,473.4L800.9,475.6L782,460.2z" fill="#ffd800" stroke="#ffd800" stroke-width=".6"/>
<path d="M781.2,461.9L797.9,473.4L782,460.2L781.3,459.6L779.8,460.7z" fill="#ff9000" stroke="#ff9000" stroke-width=".6"/>
<path d="M779.7,460.8L781.2,461.9L779.8,460.7z" fill="#ff5000" stroke="#ff5000" stroke-width=".6"/>
<path d="M779.8,460.7L781.3,459.6L765.4,447.7z" fill="#ff9000" stroke="#ff9000" stroke-width=".6"/>
<path d="M779.7,460.8L779.8,460.7L765.4,447.7L760.1,443.8z" fill="#ff5000" stroke="#ff5000" stroke-width=".6"/>
<path d="M779.7,460.8L800.9,475.6L781.3,459.6L760.1,443.8z" fill="none"/>
<path d="M506,324.3L529.2,317.9L510.2,301.4z" fill="#8e0000" stroke="#8e0000" stroke-width=".6"/>
<path d="M506,324.3L510.2,301.4L491.5,306L489.9,309.8z" fill="#8e0000" stroke="#8e0000" stroke-width=".6"/>
<path d="M491.5,306L486.9,307.1L489.9,309.8z" fill="#800000" stroke="#800000" stroke-width=".6"/>
<path d="M506,324.3L529.2,317.9L510.2,301.4L486.9,307.1z" fill="none"/>
<path d="M231.2,399.3L232.9,397.7L231.6,396.7z" fill="#e00000" stroke="#e00000" stroke-width=".6"/>
<path d="M232.9,397.7L254.7,378.1L236.9,366.7L231.6,396.7z" fill="#c80000" stroke="#c80000" stroke-width=".6"/>
<path d="M231.2,399.3L231.6,396.7L216.4,385L213.4,387.7z" fill="#e00000" stroke="#e00000" stroke-width=".6"/>
<path d="M231.6,396.7L236.9,366.7L216.4,385z" fill="#c80000" stroke="#c80000" stroke-width=".6"/>
<path d="M231.2,399.3L254.7,378.1L236.9,366.7L213.4,387.7z" fill="none"/>
<path d="M820.5,494.4L841.1,514.9L821.6,496.7L800.9,475.6z" fill="#c6c6c6"/>
<path d="M563.6,335.7L571.4,335.3L561.6,326.2z" fill="#9c0000" stroke="#9c0000" stroke-width=".6"/>
<path d="M548.4,336.5L563.6,335.7L561.6,326.2L552.3,317.5z" fill="#8e0000" stroke="#8e0000" stroke-width=".6"/>
<path d="M548.4,336.5L552.3,317.5L529.2,317.9z" fill="#8e0000" stroke="#8e0000" stroke-width=".6"/>
<path d="M548.4,336.5L571.4,335.3L552.3,317.5L529.2,317.9z" fill="none"/>
<path d="M272.6,385.9L283,376L277.4,361.2z" fill="#c80000" stroke="#c80000" stroke-width=".6"/>
<path d="M283,376L296,363.5L278.1,357.5L277.4,361.2z" fill="#aa0000" stroke="#aa0000" stroke-width=".6"/>
<path d="M272.6,385.9L277.4,361.2L276.3,359.1L254.7,378.1z" fill="#c80000" stroke="#c80000" stroke-width=".6"/>
<path d="M277.4,361.2L278.1,357.5L276.3,359.1z" fill="#aa0000" stroke="#aa0000" stroke-width=".6"/>
<path d="M272.6,385.9L296,363.5L278.1,357.5L254.7,378.1z" fill="none"/>
<path d="M860.7,536.2L880.9,556.9L861.4,538.1L841.1,514.9z" fill="#c6c6c6"/>
<path d="M611.7,355.4L613.5,355.5L610.2,352.5z" fill="#aa0000" stroke="#aa0000" stroke-width=".6"/>
<path d="M590.7,354L611.7,355.4L610.2,352.5L594.3,338.3z" fill="#9c0000" stroke="#9c0000" stroke-width=".6"/>
<path d="M590.7,354L594.3,338.3L571.4,335.3z" fill="#9c0000" stroke="#9c0000" stroke-width=".6"/>
<path d="M590.7,354L613.5,355.5L594.3,338.3L571.4,335.3z" fill="none"/>
<path d="M314,369L325,357.6L322.3,342.2L319.4,341.7z" fill="#aa0000" stroke="#aa0000" stroke-width=".6"/>
<path d="M325,357.6L337.4,344.7L322.3,342.2z" fill="#9c0000" stroke="#9c0000" stroke-width=".6"/>
<path d="M314,369L319.4,341.7L296,363.5z" fill="#aa0000" stroke="#aa0000" stroke-width=".6"/>
<path d="M314,369L337.4,344.7L319.4,341.7L296,363.5z" fill="none"/>
<path d="M900.5,577.1L920.5,595.3L900.8,578.9L880.9,556.9z" fill="#c6c6c6"/>
<path d="M653.1,377.8L655.4,378.2L650.4,373.6z" fill="#c80000" stroke="#c80000" stroke-width=".6"/>
<path d="M632.9,373.9L653.1,377.8L650.4,373.6L636.1,360.5z" fill="#aa0000" stroke="#aa0000" stroke-width=".6"/>
<path d="M632.9,373.9L636.1,360.5L613.5,355.5z" fill="#aa0000" stroke="#aa0000" stroke-width=".6"/>
<path d="M632.9,373.9L655.4,378.2L636.1,360.5L613.5,355.5z" fill="none"/>
<path d="M355.7,350.2L365.8,339.8L360.5,323.2z" fill="#9c0000" stroke="#9c0000" stroke-width=".6"/>
<path d="M365.8,339.8L379.1,326L360.8,321.8L360.5,323.2z" fill="#8e0000" stroke="#8e0000" stroke-width=".6"/>
<path d="M355.7,350.2L360.5,323.2L360.2,322.4L337.4,344.7z" fill="#9c0000" stroke="#9c0000" stroke-width=".6"/>
<path d="M360.5,323.2L360.8,321.8L360.2,322.4z" fill="#8e0000" stroke="#8e0000" stroke-width=".6"/>
<path d="M355.7,350.2L379.1,326L360.8,321.8L337.4,344.7z" fill="none"/>
<path d="M689.1,402.5L697.1,405.1L680.4,388.5z" fill="#e00000" stroke="#e00000" stroke-width=".6"/>
<path d="M674.9,398L689.1,402.5L680.4,388.5L677.7,385.7z" fill="#c80000" stroke="#c80000" stroke-width=".6"/>
<path d="M674.9,398L677.7,385.7L655.4,378.2z" fill="#c80000" stroke="#c80000" stroke-width=".6"/>
<path d="M674.9,398L697.1,405.1L677.7,385.7L655.4,378.2z" fill="none"/>
<path d="M397.7,335.5L421.2,315.8L402.5,305.1L379.1,326z" fill="#8e0000"/>
<path d="M724.3,427.5L738.5,433.3L719,415.1L717.8,419.6z" fill="#ff0a00" stroke="#ff0a00" stroke-width=".6"/>
<path d="M716.6,424.4L724.3,427.5L717.8,419.6z" fill="#e00000" stroke="#e00000" stroke-width=".6"/>
<path d="M717.8,419.6L719,415.1L712.1,411.9z" fill="#ff0a00" stroke="#ff0a00" stroke-width=".6"/>
<path d="M716.6,424.4L717.8,419.6L712.1,411.9L697.1,405.1z" fill="#e00000" stroke="#e00000" stroke-width=".6"/>
<path d="M716.6,424.4L738.5,433.3L719,415.1L697.1,405.1z" fill="none"/>
<path d="M440.1,331.6L459.4,319.6L442.2,317.7z" fill="#8e0000" stroke="#8e0000" stroke-width=".6"/>
<path d="M459.4,319.6L463.5,317L444.6,301.5L442.2,317.7z" fill="#800000" stroke="#800000" stroke-width=".6"/>
<path d="M440.1,331.6L442.2,317.7L421.2,315.8z" fill="#8e0000" stroke="#8e0000" stroke-width=".6"/>
<path d="M442.2,317.7L444.6,301.5L421.2,315.8L421.2,315.8z" fill="#800000" stroke="#800000" stroke-width=".6"/>
<path d="M440.1,331.6L463.5,317L444.6,301.5L421.2,315.8z" fill="none"/>
<path d="M761,451.7L779.7,460.8L760.1,443.8L758.5,449.2z" fill="#ff5000" stroke="#ff5000" stroke-width=".6"/>
<path d="M758.1,450.4L761,451.7L758.5,449.2z" fill="#ff0a00" stroke="#ff0a00" stroke-width=".6"/>
<path d="M758.5,449.2L760.1,443.8L746.3,437.1z" fill="#ff5000" stroke="#ff5000" stroke-width=".6"/>
<path d="M758.1,450.4L758.5,449.2L746.3,437.1L738.5,433.3z" fill="#ff0a00" stroke="#ff0a00" stroke-width=".6"/>
<path d="M758.1,450.4L779.7,460.8L760.1,443.8L738.5,433.3z" fill="none"/>
<path d="M482.6,335.1L506,324.3L489.9,309.8L486.3,310.9z" fill="#8e0000" stroke="#8e0000" stroke-width=".6"/>
<path d="M489.9,309.8L486.9,307.1L486.3,310.9z" fill="#800000" stroke="#800000" stroke-width=".6"/>
<path d="M482.6,335.1L486.3,310.9L466.1,319.4z" fill="#8e0000" stroke="#8e0000" stroke-width=".6"/>
<path d="M486.3,310.9L486.9,307.1L463.5,317L466.1,319.4z" fill="#800000" stroke="#800000" stroke-width=".6"/>
<path d="M482.6,335.1L506,324.3L486.9,307.1L463.5,317z" fill="none"/>
<path d="M812.1,488.4L820.5,494.4L800.9,475.6L800.6,476.3z" fill="#ffd800" stroke="#ffd800" stroke-width=".6"/>
<path d="M799.4,479.3L812.1,488.4L800.6,476.3z" fill="#ff9000" stroke="#ff9000" stroke-width=".6"/>
<path d="M800.6,476.3L800.9,475.6L797.9,473.4z" fill="#ffd800" stroke="#ffd800" stroke-width=".6"/>
<path d="M799.4,479.3L800.6,476.3L797.9,473.4L781.2,461.9L785.4,466.2z" fill="#ff9000" stroke="#ff9000" stroke-width=".6"/>
<path d="M781.2,461.9L779.7,460.8L785.4,466.2z" fill="#ff5000" stroke="#ff5000" stroke-width=".6"/>
<path d="M799.4,479.3L820.5,494.4L800.9,475.6L779.7,460.8z" fill="none"/>
<path d="M525.1,343.8L548.4,336.5L529.2,317.9L506,324.3z" fill="#8e0000"/>
<path d="M249,408.4L272.6,385.9L254.7,378.1z" fill="#c80000" stroke="#c80000" stroke-width=".6"/>
<path d="M232.9,397.7L231.2,399.3L235.9,401.7z" fill="#e00000" stroke="#e00000" stroke-width=".6"/>
<path d="M249,408.4L254.7,378.1L232.9,397.7L235.9,401.7z" fill="#c80000" stroke="#c80000" stroke-width=".6"/>
<path d="M249,408.4L272.6,385.9L254.7,378.1L231.2,399.3z" fill="none"/>
<path d="M853.3,529.2L860.7,536.2L841.1,514.9L841,515.1z" fill="#ccff00" stroke="#ccff00" stroke-width=".6"/>
<path d="M840.1,516.7L853.3,529.2L841,515.1z" fill="#f0ff00" stroke="#f0ff00" stroke-width=".6"/>
<path d="M841,515.1L841.1,514.9L839.9,513.7z" fill="#ccff00" stroke="#ccff00" stroke-width=".6"/>
<path d="M840.1,516.7L841,515.1L839.9,513.7L826.9,500.7L839.5,516z" fill="#f0ff00" stroke="#f0ff00" stroke-width=".6"/>
<path d="M826.9,500.7L820.5,494.4L839.5,516z" fill="#ffd800" stroke="#ffd800" stroke-width=".6"/>
<path d="M840.1,516.7L860.7,536.2L841.1,514.9L820.5,494.4z" fill="none"/>
<path d="M567.7,356.7L590.7,354L571.4,335.3z" fill="#9c0000" stroke="#9c0000" stroke-width=".6"/>
<path d="M567.7,356.7L571.4,335.3L563.6,335.7L562.3,351z" fill="#9c0000" stroke="#9c0000" stroke-width=".6"/>
<path d="M563.6,335.7L548.4,336.5L562.3,351z" fill="#8e0000" stroke="#8e0000" stroke-width=".6"/>
<path d="M567.7,356.7L590.7,354L571.4,335.3L548.4,336.5z" fill="none"/>
<path d="M290.6,394L292.8,391.7L291.5,388.9z" fill="#c80000" stroke="#c80000" stroke-width=".6"/>
<path d="M292.8,391.7L314,369L296,363.5L291.5,388.9z" fill="#aa0000" stroke="#aa0000" stroke-width=".6"/>
<path d="M290.6,394L291.5,388.9L283,376L272.6,385.9z" fill="#c80000" stroke="#c80000" stroke-width=".6"/>
<path d="M291.5,388.9L296,363.5L283,376z" fill="#aa0000" stroke="#aa0000" stroke-width=".6"/>
<path d="M290.6,394L314,369L296,363.5L272.6,385.9z" fill="none"/>
<path d="M892.6,570.4L900.5,577.1L880.9,556.9L880.8,557.4z" fill="#00ff00" stroke="#00ff00" stroke-width=".6"/>
<path d="M880.2,559.8L892.6,570.4L880.8,557.4z" fill="#66ff00" stroke="#66ff00" stroke-width=".6"/>
<path d="M880.8,557.4L880.9,556.9L878.8,554.8z" fill="#00ff00" stroke="#00ff00" stroke-width=".6"/>
<path d="M880.2,559.8L880.8,557.4L878.8,554.8L866.3,542L876,554.8z" fill="#66ff00" stroke="#66ff00" stroke-width=".6"/>
<path d="M866.3,542L860.7,536.2L876,554.8z" fill="#ccff00" stroke="#ccff00" stroke-width=".6"/>
<path d="M880.2,559.8L900.5,577.1L880.9,556.9L860.7,536.2z" fill="none"/>
<path d="M617.3,373.6L632.9,373.9L613.5,355.5L612.8,359.4z" fill="#aa0000" stroke="#aa0000" stroke-width=".6"/>
<path d="M610.1,373.5L617.3,373.6L612.8,359.4z" fill="#9c0000" stroke="#9c0000" stroke-width=".6"/>
<path d="M612.8,359.4L613.5,355.5L611.7,355.4z" fill="#aa0000" stroke="#aa0000" stroke-width=".6"/>
<path d="M610.1,373.5L612.8,359.4L611.7,355.4L590.7,354z" fill="#9c0000" stroke="#9c0000" stroke-width=".6"/>
<path d="M610.1,373.5L632.9,373.9L613.5,355.5L590.7,354z" fill="none"/>
<path d="M332.3,376.3L335,373.3L333.3,370.2z" fill="#aa0000" stroke="#aa0000" stroke-width=".6"/>
<path d="M335,373.3L355.7,350.2L337.4,344.7L333.3,370.2z" fill="#9c0000" stroke="#9c0000" stroke-width=".6"/>
<path d="M332.3,376.3L333.3,370.2L325,357.6L314,369z" fill="#aa0000" stroke="#aa0000" stroke-width=".6"/>
<path d="M333.3,370.2L337.4,344.7L325,357.6z" fill="#9c0000" stroke="#9c0000" stroke-width=".6"/>
<path d="M332.3,376.3L355.7,350.2L337.4,344.7L314,369z" fill="none"/>
<path d="M660.3,395.5L674.9,398L655.4,378.2L654.7,381.9z" fill="#c80000" stroke="#c80000" stroke-width=".6"/>
<path d="M652.4,394.1L660.3,395.5L654.7,381.9z" fill="#aa0000" stroke="#aa0000" stroke-width=".6"/>
<path d="M654.7,381.9L655.4,378.2L653.1,377.8z" fill="#c80000" stroke="#c80000" stroke-width=".6"/>
<path d="M652.4,394.1L654.7,381.9L653.1,377.8L632.9,373.9z" fill="#aa0000" stroke="#aa0000" stroke-width=".6"/>
<path d="M652.4,394.1L674.9,398L655.4,378.2L632.9,373.9z" fill="none"/>
<path d="M374.2,359.8L380.1,353.7L375.7,349.5z" fill="#9c0000" stroke="#9c0000" stroke-width=".6"/>
<path d="M380.1,353.7L397.7,335.5L379.1,326L375.7,349.5z" fill="#8e0000" stroke="#8e0000" stroke-width=".6"/>
<path d="M374.2,359.8L375.7,349.5L365.8,339.8L355.7,350.2z" fill="#9c0000" stroke="#9c0000" stroke-width=".6"/>
<path d="M375.7,349.5L379.1,326L365.8,339.8z" fill="#8e0000" stroke="#8e0000" stroke-width=".6"/>
<path d="M374.2,359.8L397.7,335.5L379.1,326L355.7,350.2z" fill="none"/>
<path d="M698.3,419.5L716.6,424.4L697.1,405.1L695.2,414.2z" fill="#e00000" stroke="#e00000" stroke-width=".6"/>
<path d="M694.4,418.5L698.3,419.5L695.2,414.2z" fill="#c80000" stroke="#c80000" stroke-width=".6"/>
<path d="M695.2,414.2L697.1,405.1L689.1,402.5z" fill="#e00000" stroke="#e00000" stroke-width=".6"/>
<path d="M694.4,418.5L695.2,414.2L689.1,402.5L674.9,398z" fill="#c80000" stroke="#c80000" stroke-width=".6"/>
<path d="M694.4,418.5L716.6,424.4L697.1,405.1L674.9,398z" fill="none"/>
<path d="M416.5,349.7L440.1,331.6L421.2,315.8L397.7,335.5z" fill="#8e0000"/>
<path d="M736.2,443.7L758.1,450.4L738.5,433.3z" fill="#ff0a00" stroke="#ff0a00" stroke-width=".6"/>
<path d="M736.2,443.7L738.5,433.3L724.3,427.5L735.6,443.1z" fill="#ff0a00" stroke="#ff0a00" stroke-width=".6"/>
<path d="M724.3,427.5L716.6,424.4L735.6,443.1z" fill="#e00000" stroke="#e00000" stroke-width=".6"/>
<path d="M736.2,443.7L758.1,450.4L738.5,433.3L716.6,424.4z" fill="none"/>
<path d="M459.1,349.6L482.6,335.1L466.1,319.4L463.2,319.5z" fill="#8e0000" stroke="#8e0000" stroke-width=".6"/>
<path d="M466.1,319.4L463.5,317L463.2,319.5z" fill="#800000" stroke="#800000" stroke-width=".6"/>
<path d="M459.1,349.6L463.2,319.5L459.4,319.6L440.1,331.6z" fill="#8e0000" stroke="#8e0000" stroke-width=".6"/>
<path d="M463.2,319.5L463.5,317L459.4,319.6z" fill="#800000" stroke="#800000" stroke-width=".6"/>
<path d="M459.1,349.6L482.6,335.1L463.5,317L440.1,331.6z" fill="none"/>
<path d="M794.9,477.1L799.4,479.3L785.4,466.2z" fill="#ff9000" stroke="#ff9000" stroke-width=".6"/>
<path d="M777.9,469L794.9,477.1L785.4,466.2L779.7,460.8z" fill="#ff5000" stroke="#ff5000" stroke-width=".6"/>
<path d="M777.9,469L779.7,460.8L761,451.7L766.8,458.5z" fill="#ff5000" stroke="#ff5000" stroke-width=".6"/>
<path d="M761,451.7L758.1,450.4L766.8,458.5z" fill="#ff0a00" stroke="#ff0a00" stroke-width=".6"/>
<path d="M777.9,469L799.4,479.3L779.7,460.8L758.1,450.4z" fill="none"/>
<path d="M501.8,354.8L525.1,343.8L506,324.3L482.6,335.1z" fill="#8e0000"/>
<path d="M824.2,504.6L839.8,516.5L839.5,516L820.5,494.4L819.6,498.2z" fill="#ffd800" stroke="#ffd800" stroke-width=".6"/>
<path d="M819.1,500.7L824.2,504.6L819.6,498.2z" fill="#ff9000" stroke="#ff9000" stroke-width=".6"/>
<path d="M819.6,498.2L820.5,494.4L812.1,488.4z" fill="#ffd800" stroke="#ffd800" stroke-width=".6"/>
<path d="M819.1,500.7L819.6,498.2L812.1,488.4L799.4,479.3z" fill="#ff9000" stroke="#ff9000" stroke-width=".6"/>
<path d="M819.1,500.7L840.1,516.7L820.5,494.4L799.4,479.3z" fill="none"/>
<path d="M544.4,364.8L567.7,356.7L562.3,351L544.6,363.5z" fill="#9c0000" stroke="#9c0000" stroke-width=".6"/>
<path d="M562.3,351L548.4,336.5L544.6,363.5z" fill="#8e0000" stroke="#8e0000" stroke-width=".6"/>
<path d="M544.4,364.8L544.6,363.5L543.8,364.1z" fill="#9c0000" stroke="#9c0000" stroke-width=".6"/>
<path d="M544.6,363.5L548.4,336.5L525.1,343.8L543.8,364.1z" fill="#8e0000" stroke="#8e0000" stroke-width=".6"/>
<path d="M544.4,364.8L567.7,356.7L548.4,336.5L525.1,343.8z" fill="none"/>
<path d="M267.1,419.4L290.6,394L272.6,385.9L249,408.4z" fill="#c80000"/>
<path d="M878.5,558.3L880.2,559.8L876,554.8z" fill="#66ff00" stroke="#66ff00" stroke-width=".6"/>
<path d="M864.2,546.2L878.5,558.3L876,554.8L860.7,536.2L860,540.1z" fill="#ccff00" stroke="#ccff00" stroke-width=".6"/>
<path d="M859.6,542.3L864.2,546.2L860,540.1z" fill="#f0ff00" stroke="#f0ff00" stroke-width=".6"/>
<path d="M860,540.1L860.7,536.2L853.3,529.2z" fill="#ccff00" stroke="#ccff00" stroke-width=".6"/>
<path d="M859.6,542.3L860,540.1L853.3,529.2L840.1,516.7z" fill="#f0ff00" stroke="#f0ff00" stroke-width=".6"/>
<path d="M859.6,542.3L880.2,559.8L860.7,536.2L840.1,516.7z" fill="none"/>
<path d="M587.1,377.2L610.1,373.5L590.7,354L567.7,356.7z" fill="#9c0000"/>
<path d="M308.8,403.5L332.3,376.3L314,369z" fill="#aa0000" stroke="#aa0000" stroke-width=".6"/>
<path d="M292.8,391.7L290.6,394L299.6,398.7z" fill="#c80000" stroke="#c80000" stroke-width=".6"/>
<path d="M308.8,403.5L314,369L292.8,391.7L299.6,398.7z" fill="#aa0000" stroke="#aa0000" stroke-width=".6"/>
<path d="M308.8,403.5L332.3,376.3L314,369L290.6,394z" fill="none"/>
<path d="M629.6,394.2L652.4,394.1L632.9,373.9z" fill="#aa0000" stroke="#aa0000" stroke-width=".6"/>
<path d="M629.6,394.2L632.9,373.9L617.3,373.6L617.7,381.6z" fill="#aa0000" stroke="#aa0000" stroke-width=".6"/>
<path d="M617.3,373.6L610.1,373.5L617.7,381.6z" fill="#9c0000" stroke="#9c0000" stroke-width=".6"/>
<path d="M629.6,394.2L652.4,394.1L632.9,373.9L610.1,373.5z" fill="none"/>
<path d="M350.7,387L351.1,386.6L350.8,386.3z" fill="#aa0000" stroke="#aa0000" stroke-width=".6"/>
<path d="M351.1,386.6L374.2,359.8L355.7,350.2L350.8,386.3z" fill="#9c0000" stroke="#9c0000" stroke-width=".6"/>
<path d="M350.7,387L350.8,386.3L335,373.3L332.3,376.3z" fill="#aa0000" stroke="#aa0000" stroke-width=".6"/>
<path d="M350.8,386.3L355.7,350.2L335,373.3z" fill="#9c0000" stroke="#9c0000" stroke-width=".6"/>
<path d="M350.7,387L374.2,359.8L355.7,350.2L332.3,376.3z" fill="none"/>
<path d="M671.9,415.1L694.4,418.5L674.9,398z" fill="#c80000" stroke="#c80000" stroke-width=".6"/>
<path d="M671.9,415.1L674.9,398L660.3,395.5L663.6,406.2z" fill="#c80000" stroke="#c80000" stroke-width=".6"/>
<path d="M660.3,395.5L652.4,394.1L663.6,406.2z" fill="#aa0000" stroke="#aa0000" stroke-width=".6"/>
<path d="M671.9,415.1L694.4,418.5L674.9,398L652.4,394.1z" fill="none"/>
<path d="M393,373.6L401.7,364.7L394.5,361.2z" fill="#9c0000" stroke="#9c0000" stroke-width=".6"/>
<path d="M401.7,364.7L416.5,349.7L397.7,335.5L394.5,361.2z" fill="#8e0000" stroke="#8e0000" stroke-width=".6"/>
<path d="M393,373.6L394.5,361.2L380.1,353.7L374.2,359.8z" fill="#9c0000" stroke="#9c0000" stroke-width=".6"/>
<path d="M394.5,361.2L397.7,335.5L380.1,353.7z" fill="#8e0000" stroke="#8e0000" stroke-width=".6"/>
<path d="M393,373.6L416.5,349.7L397.7,335.5L374.2,359.8z" fill="none"/>
<path d="M735.9,443.6L736.2,443.7L735.6,443.1z" fill="#ff0a00" stroke="#ff0a00" stroke-width=".6"/>
<path d="M714,438.9L735.9,443.6L735.6,443.1L716.6,424.4z" fill="#e00000" stroke="#e00000" stroke-width=".6"/>
<path d="M714,438.9L716.6,424.4L698.3,419.5L701.4,425.7z" fill="#e00000" stroke="#e00000" stroke-width=".6"/>
<path d="M698.3,419.5L694.4,418.5L701.4,425.7z" fill="#c80000" stroke="#c80000" stroke-width=".6"/>
<path d="M714,438.9L736.2,443.7L716.6,424.4L694.4,418.5z" fill="none"/>
<path d="M435.5,367.8L459.1,349.6L440.1,331.6L416.5,349.7z" fill="#8e0000"/>
<path d="M773.3,467.6L777.9,469L766.8,458.5z" fill="#ff5000" stroke="#ff5000" stroke-width=".6"/>
<path d="M756,462.5L773.3,467.6L766.8,458.5L758.1,450.4z" fill="#ff0a00" stroke="#ff0a00" stroke-width=".6"/>
<path d="M756,462.5L758.1,450.4L736.2,443.7z" fill="#ff0a00" stroke="#ff0a00" stroke-width=".6"/>
<path d="M756,462.5L777.9,469L758.1,450.4L736.2,443.7z" fill="none"/>
<path d="M478.3,369.3L501.8,354.8L482.6,335.1L459.1,349.6z" fill="#8e0000"/>
<path d="M805.4,494.1L819.1,500.7L799.4,479.3L798.7,483.4z" fill="#ff9000" stroke="#ff9000" stroke-width=".6"/>
<path d="M797.6,490.4L805.4,494.1L798.7,483.4z" fill="#ff5000" stroke="#ff5000" stroke-width=".6"/>
<path d="M798.7,483.4L799.4,479.3L794.9,477.1z" fill="#ff9000" stroke="#ff9000" stroke-width=".6"/>
<path d="M797.6,490.4L798.7,483.4L794.9,477.1L777.9,469z" fill="#ff5000" stroke="#ff5000" stroke-width=".6"/>
<path d="M797.6,490.4L819.1,500.7L799.4,479.3L777.9,469z" fill="none"/>
<path d="M521.1,376L544.4,364.8L543.8,364.1L521.6,371.7z" fill="#9c0000" stroke="#9c0000" stroke-width=".6"/>
<path d="M543.8,364.1L525.1,343.8L521.6,371.7z" fill="#8e0000" stroke="#8e0000" stroke-width=".6"/>
<path d="M521.1,376L521.6,371.7L518.2,372.9z" fill="#9c0000" stroke="#9c0000" stroke-width=".6"/>
<path d="M521.6,371.7L525.1,343.8L501.8,354.8L518.2,372.9z" fill="#8e0000" stroke="#8e0000" stroke-width=".6"/>
<path d="M521.1,376L544.4,364.8L525.1,343.8L501.8,354.8z" fill="none"/>
<path d="M849.4,534.1L859.6,542.3L840.1,516.7L840.1,516.9z" fill="#f0ff00" stroke="#f0ff00" stroke-width=".6"/>
<path d="M838.8,525.6L849.4,534.1L840.1,516.9z" fill="#ffd800" stroke="#ffd800" stroke-width=".6"/>
<path d="M838.8,525.6L840.1,516.9L839.8,516.5L824.2,504.6L829.5,513.8z" fill="#ffd800" stroke="#ffd800" stroke-width=".6"/>
<path d="M824.2,504.6L819.1,500.7L829.5,513.8z" fill="#ff9000" stroke="#ff9000" stroke-width=".6"/>
<path d="M838.8,525.6L859.6,542.3L840.1,516.7L819.1,500.7z" fill="none"/>
<path d="M563.8,386.1L587.1,377.2L567.7,356.7L544.4,364.8z" fill="#9c0000"/>
<path d="M285.3,431.1L306.9,405.8L299.6,398.7L290.6,394z" fill="#c80000" stroke="#c80000" stroke-width=".6"/>
<path d="M306.9,405.8L308.8,403.5L299.6,398.7z" fill="#aa0000" stroke="#aa0000" stroke-width=".6"/>
<path d="M285.3,431.1L290.6,394L267.1,419.4z" fill="#c80000" stroke="#c80000" stroke-width=".6"/>
<path d="M285.3,431.1L308.8,403.5L290.6,394L267.1,419.4z" fill="none"/>
<path d="M607.6,398.9L629.6,394.2L617.7,381.6z" fill="#aa0000" stroke="#aa0000" stroke-width=".6"/>
<path d="M606.6,399.1L607.6,398.9L617.7,381.6L610.1,373.5z" fill="#9c0000" stroke="#9c0000" stroke-width=".6"/>
<path d="M606.6,399.1L610.1,373.5L587.1,377.2z" fill="#9c0000" stroke="#9c0000" stroke-width=".6"/>
<path d="M606.6,399.1L629.6,394.2L610.1,373.5L587.1,377.2z" fill="none"/>
<path d="M327.2,416L350.7,387L332.3,376.3L308.8,403.5z" fill="#aa0000"/>
<path d="M662.8,415.6L671.9,415.1L663.6,406.2z" fill="#c80000" stroke="#c80000" stroke-width=".6"/>
<path d="M649.2,416.3L662.8,415.6L663.6,406.2L652.4,394.1z" fill="#aa0000" stroke="#aa0000" stroke-width=".6"/>
<path d="M649.2,416.3L652.4,394.1L629.6,394.2z" fill="#aa0000" stroke="#aa0000" stroke-width=".6"/>
<path d="M649.2,416.3L671.9,415.1L652.4,394.1L629.6,394.2z" fill="none"/>
<path d="M369.4,401.4L372.6,397.7L370,396.3z" fill="#aa0000" stroke="#aa0000" stroke-width=".6"/>
<path d="M372.6,397.7L393,373.6L374.2,359.8L370,396.3z" fill="#9c0000" stroke="#9c0000" stroke-width=".6"/>
<path d="M369.4,401.4L370,396.3L351.1,386.6L350.7,387z" fill="#aa0000" stroke="#aa0000" stroke-width=".6"/>
<path d="M370,396.3L374.2,359.8L351.1,386.6z" fill="#9c0000" stroke="#9c0000" stroke-width=".6"/>
<path d="M369.4,401.4L393,373.6L374.2,359.8L350.7,387z" fill="none"/>
<path d="M705,437.9L714,438.9L701.4,425.7z" fill="#e00000" stroke="#e00000" stroke-width=".6"/>
<path d="M691.6,436.4L705,437.9L701.4,425.7L694.4,418.5z" fill="#c80000" stroke="#c80000" stroke-width=".6"/>
<path d="M691.6,436.4L694.4,418.5L671.9,415.1z" fill="#c80000" stroke="#c80000" stroke-width=".6"/>
<path d="M691.6,436.4L714,438.9L694.4,418.5L671.9,415.1z" fill="none"/>
<path d="M411.9,391.4L430.6,372.7L414.5,368.4z" fill="#9c0000" stroke="#9c0000" stroke-width=".6"/>
<path d="M430.6,372.7L435.5,367.8L416.5,349.7L414.5,368.4z" fill="#8e0000" stroke="#8e0000" stroke-width=".6"/>
<path d="M411.9,391.4L414.5,368.4L401.7,364.7L393,373.6z" fill="#9c0000" stroke="#9c0000" stroke-width=".6"/>
<path d="M414.5,368.4L416.5,349.7L401.7,364.7z" fill="#8e0000" stroke="#8e0000" stroke-width=".6"/>
<path d="M411.9,391.4L435.5,367.8L416.5,349.7L393,373.6z" fill="none"/>
<path d="M745.2,460.9L756,462.5L736.2,443.7L736.2,444.1z" fill="#ff0a00" stroke="#ff0a00" stroke-width=".6"/>
<path d="M733.8,459.2L745.2,460.9L736.2,444.1z" fill="#e00000" stroke="#e00000" stroke-width=".6"/>
<path d="M736.2,444.1L736.2,443.7L735.9,443.6z" fill="#ff0a00" stroke="#ff0a00" stroke-width=".6"/>
<path d="M733.8,459.2L736.2,444.1L735.9,443.6L714,438.9z" fill="#e00000" stroke="#e00000" stroke-width=".6"/>
<path d="M733.8,459.2L756,462.5L736.2,443.7L714,438.9z" fill="none"/>
<path d="M454.7,389L470,376.2L456.3,374.7z" fill="#9c0000" stroke="#9c0000" stroke-width=".6"/>
<path d="M470,376.2L478.3,369.3L459.1,349.6L456.3,374.7z" fill="#8e0000" stroke="#8e0000" stroke-width=".6"/>
<path d="M454.7,389L456.3,374.7L441.5,374.4z" fill="#9c0000" stroke="#9c0000" stroke-width=".6"/>
<path d="M456.3,374.7L459.1,349.6L435.5,367.8L441.5,374.4z" fill="#8e0000" stroke="#8e0000" stroke-width=".6"/>
<path d="M454.7,389L478.3,369.3L459.1,349.6L435.5,367.8z" fill="none"/>
<path d="M781.5,485.7L797.6,490.4L777.9,469L776.9,475.7z" fill="#ff5000" stroke="#ff5000" stroke-width=".6"/>
<path d="M775.8,484.1L781.5,485.7L776.9,475.7z" fill="#ff0a00" stroke="#ff0a00" stroke-width=".6"/>
<path d="M776.9,475.7L777.9,469L773.3,467.6z" fill="#ff5000" stroke="#ff5000" stroke-width=".6"/>
<path d="M775.8,484.1L776.9,475.7L773.3,467.6L756,462.5z" fill="#ff0a00" stroke="#ff0a00" stroke-width=".6"/>
<path d="M775.8,484.1L797.6,490.4L777.9,469L756,462.5z" fill="none"/>
<path d="M497.5,391.1L521.1,376L518.2,372.9L499.4,374.9z" fill="#9c0000" stroke="#9c0000" stroke-width=".6"/>
<path d="M518.2,372.9L501.8,354.8L499.4,374.9z" fill="#8e0000" stroke="#8e0000" stroke-width=".6"/>
<path d="M497.5,391.1L499.4,374.9L485,376.9z" fill="#9c0000" stroke="#9c0000" stroke-width=".6"/>
<path d="M499.4,374.9L501.8,354.8L478.3,369.3L485,376.9z" fill="#8e0000" stroke="#8e0000" stroke-width=".6"/>
<path d="M497.5,391.1L521.1,376L501.8,354.8L478.3,369.3z" fill="none"/>
<path d="M832.9,522.7L838.8,525.6L829.5,513.8z" fill="#ffd800" stroke="#ffd800" stroke-width=".6"/>
<path d="M817.4,514.9L832.9,522.7L829.5,513.8L819.1,500.7z" fill="#ff9000" stroke="#ff9000" stroke-width=".6"/>
<path d="M817.4,514.9L819.1,500.7L805.4,494.1L810.1,505.9z" fill="#ff9000" stroke="#ff9000" stroke-width=".6"/>
<path d="M805.4,494.1L797.6,490.4L810.1,505.9z" fill="#ff5000" stroke="#ff5000" stroke-width=".6"/>
<path d="M817.4,514.9L838.8,525.6L819.1,500.7L797.6,490.4z" fill="none"/>
<path d="M540.4,398.9L563.8,386.1L544.4,364.8L521.1,376z" fill="#9c0000"/>
<path d="M583.3,408.5L606.6,399.1L587.1,377.2L563.8,386.1z" fill="#9c0000"/>
<path d="M303.7,445.9L325.6,418L308.4,406.6z" fill="#c80000" stroke="#c80000" stroke-width=".6"/>
<path d="M325.6,418L327.2,416L308.8,403.5L308.4,406.6z" fill="#aa0000" stroke="#aa0000" stroke-width=".6"/>
<path d="M303.7,445.9L308.4,406.6L306.9,405.8L285.3,431.1z" fill="#c80000" stroke="#c80000" stroke-width=".6"/>
<path d="M308.4,406.6L308.8,403.5L306.9,405.8z" fill="#aa0000" stroke="#aa0000" stroke-width=".6"/>
<path d="M303.7,445.9L327.2,416L308.8,403.5L285.3,431.1z" fill="none"/>
<path d="M626.1,421.9L649.2,416.3L629.6,394.2z" fill="#aa0000" stroke="#aa0000" stroke-width=".6"/>
<path d="M626.1,421.9L629.6,394.2L607.6,398.9L607,399.6z" fill="#aa0000" stroke="#aa0000" stroke-width=".6"/>
<path d="M607.6,398.9L606.6,399.1L607,399.6z" fill="#9c0000" stroke="#9c0000" stroke-width=".6"/>
<path d="M626.1,421.9L649.2,416.3L629.6,394.2L606.6,399.1z" fill="none"/>
<path d="M345.9,431.6L348,428.9L346.3,427.9z" fill="#c80000" stroke="#c80000" stroke-width=".6"/>
<path d="M348,428.9L369.4,401.4L350.7,387L346.3,427.9z" fill="#aa0000" stroke="#aa0000" stroke-width=".6"/>
<path d="M345.9,431.6L346.3,427.9L335.3,422.7z" fill="#c80000" stroke="#c80000" stroke-width=".6"/>
<path d="M346.3,427.9L350.7,387L327.2,416L335.3,422.7z" fill="#aa0000" stroke="#aa0000" stroke-width=".6"/>
<path d="M345.9,431.6L369.4,401.4L350.7,387L327.2,416z" fill="none"/>
<path d="M668.8,437.9L691.6,436.4L671.9,415.1z" fill="#c80000" stroke="#c80000" stroke-width=".6"/>
<path d="M668.8,437.9L671.9,415.1L662.8,415.6L661,429.3z" fill="#c80000" stroke="#c80000" stroke-width=".6"/>
<path d="M662.8,415.6L649.2,416.3L661,429.3z" fill="#aa0000" stroke="#aa0000" stroke-width=".6"/>
<path d="M668.8,437.9L691.6,436.4L671.9,415.1L649.2,416.3z" fill="none"/>
<path d="M388.4,419.9L399.2,406.8L390,403.5z" fill="#aa0000" stroke="#aa0000" stroke-width=".6"/>
<path d="M399.2,406.8L411.9,391.4L393,373.6L390,403.5z" fill="#9c0000" stroke="#9c0000" stroke-width=".6"/>
<path d="M388.4,419.9L390,403.5L372.6,397.7L369.4,401.4z" fill="#aa0000" stroke="#aa0000" stroke-width=".6"/>
<path d="M390,403.5L393,373.6L372.6,397.7z" fill="#9c0000" stroke="#9c0000" stroke-width=".6"/>
<path d="M388.4,419.9L411.9,391.4L393,373.6L369.4,401.4z" fill="none"/>
<path d="M711.3,458.4L733.8,459.2L714,438.9z" fill="#e00000" stroke="#e00000" stroke-width=".6"/>
<path d="M711.3,458.4L714,438.9L705,437.9L707.6,454.3z" fill="#e00000" stroke="#e00000" stroke-width=".6"/>
<path d="M705,437.9L691.6,436.4L707.6,454.3z" fill="#c80000" stroke="#c80000" stroke-width=".6"/>
<path d="M711.3,458.4L733.8,459.2L714,438.9L691.6,436.4z" fill="none"/>
<path d="M431.1,413L454.7,389L441.5,374.4L435,373.3z" fill="#9c0000" stroke="#9c0000" stroke-width=".6"/>
<path d="M441.5,374.4L435.5,367.8L435,373.3z" fill="#8e0000" stroke="#8e0000" stroke-width=".6"/>
<path d="M431.1,413L435,373.3L430.6,372.7L411.9,391.4z" fill="#9c0000" stroke="#9c0000" stroke-width=".6"/>
<path d="M435,373.3L435.5,367.8L430.6,372.7z" fill="#8e0000" stroke="#8e0000" stroke-width=".6"/>
<path d="M431.1,413L454.7,389L435.5,367.8L411.9,391.4z" fill="none"/>
<path d="M753.6,481.4L775.8,484.1L756,462.5z" fill="#ff0a00" stroke="#ff0a00" stroke-width=".6"/>
<path d="M753.6,481.4L756,462.5L745.2,460.9L748.5,475.7z" fill="#ff0a00" stroke="#ff0a00" stroke-width=".6"/>
<path d="M745.2,460.9L733.8,459.2L748.5,475.7z" fill="#e00000" stroke="#e00000" stroke-width=".6"/>
<path d="M753.6,481.4L775.8,484.1L756,462.5L733.8,459.2z" fill="none"/>
<path d="M473.9,411.1L497.5,391.1L485,376.9L477.5,376.6z" fill="#9c0000" stroke="#9c0000" stroke-width=".6"/>
<path d="M485,376.9L478.3,369.3L477.5,376.6z" fill="#8e0000" stroke="#8e0000" stroke-width=".6"/>
<path d="M473.9,411.1L477.5,376.6L470,376.2L454.7,389z" fill="#9c0000" stroke="#9c0000" stroke-width=".6"/>
<path d="M477.5,376.6L478.3,369.3L470,376.2z" fill="#8e0000" stroke="#8e0000" stroke-width=".6"/>
<path d="M473.9,411.1L497.5,391.1L478.3,369.3L454.7,389z" fill="none"/>
<path d="M811.9,513.2L817.4,514.9L810.1,505.9z" fill="#ff9000" stroke="#ff9000" stroke-width=".6"/>
<path d="M795.6,508L811.9,513.2L810.1,505.9L797.6,490.4z" fill="#ff5000" stroke="#ff5000" stroke-width=".6"/>
<path d="M795.6,508L797.6,490.4L781.5,485.7L783.5,493.4z" fill="#ff5000" stroke="#ff5000" stroke-width=".6"/>
<path d="M781.5,485.7L775.8,484.1L783.5,493.4z" fill="#ff0a00" stroke="#ff0a00" stroke-width=".6"/>
<path d="M795.6,508L817.4,514.9L797.6,490.4L775.8,484.1z" fill="none"/>
<path d="M516.9,414.5L540.4,398.9L521.1,376L497.5,391.1z" fill="#9c0000"/>
<path d="M559.9,422L574.8,413.5L560.5,416.6z" fill="#aa0000" stroke="#aa0000" stroke-width=".6"/>
<path d="M574.8,413.5L583.3,408.5L563.8,386.1L560.5,416.6z" fill="#9c0000" stroke="#9c0000" stroke-width=".6"/>
<path d="M559.9,422L560.5,416.6L556.3,417.7z" fill="#aa0000" stroke="#aa0000" stroke-width=".6"/>
<path d="M560.5,416.6L563.8,386.1L540.4,398.9L556.3,417.7z" fill="#9c0000" stroke="#9c0000" stroke-width=".6"/>
<path d="M559.9,422L583.3,408.5L563.8,386.1L540.4,398.9z" fill="none"/>
<path d="M602.9,431.7L626.1,421.9L607,399.6L606.5,399.9z" fill="#aa0000" stroke="#aa0000" stroke-width=".6"/>
<path d="M607,399.6L606.6,399.1L606.5,399.9z" fill="#9c0000" stroke="#9c0000" stroke-width=".6"/>
<path d="M602.9,431.7L606.5,399.9L585.4,411z" fill="#aa0000" stroke="#aa0000" stroke-width=".6"/>
<path d="M606.5,399.9L606.6,399.1L583.3,408.5L585.4,411z" fill="#9c0000" stroke="#9c0000" stroke-width=".6"/>
<path d="M602.9,431.7L626.1,421.9L606.6,399.1L583.3,408.5z" fill="none"/>
<path d="M322.4,463.3L325.4,459.2L322.9,457.9z" fill="#e00000" stroke="#e00000" stroke-width=".6"/>
<path d="M325.4,459.2L345.9,431.6L335.3,422.7L327,418.6L322.9,457.9z" fill="#c80000" stroke="#c80000" stroke-width=".6"/>
<path d="M335.3,422.7L327.2,416L327,418.6z" fill="#aa0000" stroke="#aa0000" stroke-width=".6"/>
<path d="M322.4,463.3L322.9,457.9L311.5,453.2z" fill="#e00000" stroke="#e00000" stroke-width=".6"/>
<path d="M322.9,457.9L327,418.6L325.6,418L303.7,445.9L311.5,453.2z" fill="#c80000" stroke="#c80000" stroke-width=".6"/>
<path d="M327,418.6L327.2,416L325.6,418z" fill="#aa0000" stroke="#aa0000" stroke-width=".6"/>
<path d="M322.4,463.3L345.9,431.6L327.2,416L303.7,445.9z" fill="none"/>
<path d="M650.9,442.4L668.8,437.9L661,429.3z" fill="#c80000" stroke="#c80000" stroke-width=".6"/>
<path d="M645.8,443.7L650.9,442.4L661,429.3L649.2,416.3z" fill="#aa0000" stroke="#aa0000" stroke-width=".6"/>
<path d="M645.8,443.7L649.2,416.3L626.1,421.9z" fill="#aa0000" stroke="#aa0000" stroke-width=".6"/>
<path d="M645.8,443.7L668.8,437.9L649.2,416.3L626.1,421.9z" fill="none"/>
<path d="M364.8,451.1L374.7,438L366.3,434.9z" fill="#c80000" stroke="#c80000" stroke-width=".6"/>
<path d="M374.7,438L388.4,419.9L369.4,401.4L366.3,434.9z" fill="#aa0000" stroke="#aa0000" stroke-width=".6"/>
<path d="M364.8,451.1L366.3,434.9L348,428.9L345.9,431.6z" fill="#c80000" stroke="#c80000" stroke-width=".6"/>
<path d="M366.3,434.9L369.4,401.4L348,428.9z" fill="#aa0000" stroke="#aa0000" stroke-width=".6"/>
<path d="M364.8,451.1L388.4,419.9L369.4,401.4L345.9,431.6z" fill="none"/>
<path d="M706.3,459L711.3,458.4L707.6,454.3z" fill="#e00000" stroke="#e00000" stroke-width=".6"/>
<path d="M688.6,460.9L706.3,459L707.6,454.3L691.6,436.4z" fill="#c80000" stroke="#c80000" stroke-width=".6"/>
<path d="M688.6,460.9L691.6,436.4L668.8,437.9z" fill="#c80000" stroke="#c80000" stroke-width=".6"/>
<path d="M688.6,460.9L711.3,458.4L691.6,436.4L668.8,437.9z" fill="none"/>
<path d="M407.4,441.6L430.2,414L410.3,409.5z" fill="#aa0000" stroke="#aa0000" stroke-width=".6"/>
<path d="M430.2,414L431.1,413L411.9,391.4L410.3,409.5z" fill="#9c0000" stroke="#9c0000" stroke-width=".6"/>
<path d="M407.4,441.6L410.3,409.5L399.2,406.8L388.4,419.9z" fill="#aa0000" stroke="#aa0000" stroke-width=".6"/>
<path d="M410.3,409.5L411.9,391.4L399.2,406.8z" fill="#9c0000" stroke="#9c0000" stroke-width=".6"/>
<path d="M407.4,441.6L431.1,413L411.9,391.4L388.4,419.9z" fill="none"/>
<path d="M748.5,481.3L753.6,481.4L748.5,475.7z" fill="#ff0a00" stroke="#ff0a00" stroke-width=".6"/>
<path d="M731.2,481.2L748.5,481.3L748.5,475.7L733.8,459.2z" fill="#e00000" stroke="#e00000" stroke-width=".6"/>
<path d="M731.2,481.2L733.8,459.2L711.3,458.4z" fill="#e00000" stroke="#e00000" stroke-width=".6"/>
<path d="M731.2,481.2L753.6,481.4L733.8,459.2L711.3,458.4z" fill="none"/>
<path d="M450.3,435.8L466.2,419.2L452.1,417z" fill="#aa0000" stroke="#aa0000" stroke-width=".6"/>
<path d="M466.2,419.2L473.9,411.1L454.7,389L452.1,417z" fill="#9c0000" stroke="#9c0000" stroke-width=".6"/>
<path d="M450.3,435.8L452.1,417L432.3,414.5z" fill="#aa0000" stroke="#aa0000" stroke-width=".6"/>
<path d="M452.1,417L454.7,389L431.1,413L432.3,414.5z" fill="#9c0000" stroke="#9c0000" stroke-width=".6"/>
<path d="M450.3,435.8L473.9,411.1L454.7,389L431.1,413z" fill="none"/>
<path d="M784,506.7L795.6,508L783.5,493.4z" fill="#ff5000" stroke="#ff5000" stroke-width=".6"/>
<path d="M773.5,505.6L784,506.7L783.5,493.4L775.8,484.1z" fill="#ff0a00" stroke="#ff0a00" stroke-width=".6"/>
<path d="M773.5,505.6L775.8,484.1L753.6,481.4z" fill="#ff0a00" stroke="#ff0a00" stroke-width=".6"/>
<path d="M773.5,505.6L795.6,508L775.8,484.1L753.6,481.4z" fill="none"/>
<path d="M493.3,434.1L508,421.9L494.5,421.8z" fill="#aa0000" stroke="#aa0000" stroke-width=".6"/>
<path d="M508,421.9L516.9,414.5L497.5,391.1L494.5,421.8z" fill="#9c0000" stroke="#9c0000" stroke-width=".6"/>
<path d="M493.3,434.1L494.5,421.8L482.7,421.5z" fill="#aa0000" stroke="#aa0000" stroke-width=".6"/>
<path d="M494.5,421.8L497.5,391.1L473.9,411.1L482.7,421.5z" fill="#9c0000" stroke="#9c0000" stroke-width=".6"/>
<path d="M493.3,434.1L516.9,414.5L497.5,391.1L473.9,411.1z" fill="none"/>
<path d="M536.4,437.5L559.9,422L556.3,417.7L538.2,420.3z" fill="#aa0000" stroke="#aa0000" stroke-width=".6"/>
<path d="M556.3,417.7L540.4,398.9L538.2,420.3z" fill="#9c0000" stroke="#9c0000" stroke-width=".6"/>
<path d="M536.4,437.5L538.2,420.3L523.4,422.1z" fill="#aa0000" stroke="#aa0000" stroke-width=".6"/>
<path d="M538.2,420.3L540.4,398.9L516.9,414.5L523.4,422.1z" fill="#9c0000" stroke="#9c0000" stroke-width=".6"/>
<path d="M536.4,437.5L559.9,422L540.4,398.9L516.9,414.5z" fill="none"/>
<path d="M579.5,445.4L602.9,431.7L585.4,411L583,411.6z" fill="#aa0000" stroke="#aa0000" stroke-width=".6"/>
<path d="M585.4,411L583.3,408.5L583,411.6z" fill="#9c0000" stroke="#9c0000" stroke-width=".6"/>
<path d="M579.5,445.4L583,411.6L574.8,413.5L559.9,422z" fill="#aa0000" stroke="#aa0000" stroke-width=".6"/>
<path d="M583,411.6L583.3,408.5L574.8,413.5z" fill="#9c0000" stroke="#9c0000" stroke-width=".6"/>
<path d="M579.5,445.4L602.9,431.7L583.3,408.5L559.9,422z" fill="none"/>
<path d="M622.6,455.3L624.9,454.2L622.7,455z" fill="#c80000" stroke="#c80000" stroke-width=".6"/>
<path d="M624.9,454.2L645.8,443.7L626.1,421.9L622.7,455z" fill="#aa0000" stroke="#aa0000" stroke-width=".6"/>
<path d="M622.7,455L626.1,421.9L602.9,431.7L622.4,455.1z" fill="#aa0000" stroke="#aa0000" stroke-width=".6"/>
<path d="M622.6,455.3L645.8,443.7L626.1,421.9L602.9,431.7z" fill="none"/>
<path d="M341.2,484.7L353,468L343,464.4z" fill="#e00000" stroke="#e00000" stroke-width=".6"/>
<path d="M353,468L364.8,451.1L345.9,431.6L343,464.4z" fill="#c80000" stroke="#c80000" stroke-width=".6"/>
<path d="M341.2,484.7L343,464.4L325.4,459.2L322.4,463.3z" fill="#e00000" stroke="#e00000" stroke-width=".6"/>
<path d="M343,464.4L345.9,431.6L325.4,459.2z" fill="#c80000" stroke="#c80000" stroke-width=".6"/>
<path d="M341.2,484.7L364.8,451.1L345.9,431.6L322.4,463.3z" fill="none"/>
<path d="M665.6,467.7L688.6,460.9L668.8,437.9z" fill="#c80000" stroke="#c80000" stroke-width=".6"/>
<path d="M665.6,467.7L668.8,437.9L650.9,442.4L647.6,445.8z" fill="#c80000" stroke="#c80000" stroke-width=".6"/>
<path d="M650.9,442.4L645.8,443.7L647.6,445.8z" fill="#aa0000" stroke="#aa0000" stroke-width=".6"/>
<path d="M665.6,467.7L688.6,460.9L668.8,437.9L645.8,443.7z" fill="none"/>
<path d="M383.8,473.1L404.2,446L386.5,441.2z" fill="#c80000" stroke="#c80000" stroke-width=".6"/>
<path d="M404.2,446L407.4,441.6L388.4,419.9L386.5,441.2z" fill="#aa0000" stroke="#aa0000" stroke-width=".6"/>
<path d="M383.8,473.1L386.5,441.2L374.7,438L364.8,451.1z" fill="#c80000" stroke="#c80000" stroke-width=".6"/>
<path d="M386.5,441.2L388.4,419.9L374.7,438z" fill="#aa0000" stroke="#aa0000" stroke-width=".6"/>
<path d="M383.8,473.1L407.4,441.6L388.4,419.9L364.8,451.1z" fill="none"/>
<path d="M708.5,484.4L731.2,481.2L711.3,458.4z" fill="#e00000" stroke="#e00000" stroke-width=".6"/>
<path d="M708.5,484.4L711.3,458.4L706.3,459L700.2,474.6z" fill="#e00000" stroke="#e00000" stroke-width=".6"/>
<path d="M706.3,459L688.6,460.9L700.2,474.6z" fill="#c80000" stroke="#c80000" stroke-width=".6"/>
<path d="M708.5,484.4L731.2,481.2L711.3,458.4L688.6,460.9z" fill="none"/>
<path d="M426.6,464.7L436.3,452.9L427.8,451.1z" fill="#c80000" stroke="#c80000" stroke-width=".6"/>
<path d="M436.3,452.9L450.3,435.8L432.3,414.5L431,414.2L427.8,451.1z" fill="#aa0000" stroke="#aa0000" stroke-width=".6"/>
<path d="M432.3,414.5L431.1,413L431,414.2z" fill="#9c0000" stroke="#9c0000" stroke-width=".6"/>
<path d="M426.6,464.7L427.8,451.1L412.8,448z" fill="#c80000" stroke="#c80000" stroke-width=".6"/>
<path d="M427.8,451.1L431,414.2L430.2,414L407.4,441.6L412.8,448z" fill="#aa0000" stroke="#aa0000" stroke-width=".6"/>
<path d="M431,414.2L431.1,413L430.2,414z" fill="#9c0000" stroke="#9c0000" stroke-width=".6"/>
<path d="M426.6,464.7L450.3,435.8L431.1,413L407.4,441.6z" fill="none"/>
<path d="M751.1,506L773.5,505.6L753.6,481.4z" fill="#ff0a00" stroke="#ff0a00" stroke-width=".6"/>
<path d="M751.1,506L753.6,481.4L748.5,481.3L745,498.3z" fill="#ff0a00" stroke="#ff0a00" stroke-width=".6"/>
<path d="M748.5,481.3L731.2,481.2L745,498.3z" fill="#e00000" stroke="#e00000" stroke-width=".6"/>
<path d="M751.1,506L773.5,505.6L753.6,481.4L731.2,481.2z" fill="none"/>
<path d="M469.8,459.3L493.3,434.1L482.7,421.5L473.1,420.1L469.7,459.3z" fill="#aa0000" stroke="#aa0000" stroke-width=".6"/>
<path d="M482.7,421.5L473.9,411.1L473.1,420.1z" fill="#9c0000" stroke="#9c0000" stroke-width=".6"/>
<path d="M469.7,459.3L473.1,420.1L466.2,419.2L450.3,435.8L469.5,459.2z" fill="#aa0000" stroke="#aa0000" stroke-width=".6"/>
<path d="M473.1,420.1L473.9,411.1L466.2,419.2z" fill="#9c0000" stroke="#9c0000" stroke-width=".6"/>
<path d="M469.6,459.5L493.3,434.1L473.9,411.1L450.3,435.8z" fill="none"/>
<path d="M512.8,457.6L536.4,437.5L523.4,422.1L516.2,421.9z" fill="#aa0000" stroke="#aa0000" stroke-width=".6"/>
<path d="M523.4,422.1L516.9,414.5L516.2,421.9z" fill="#9c0000" stroke="#9c0000" stroke-width=".6"/>
<path d="M512.8,457.6L516.2,421.9L508,421.9L493.3,434.1z" fill="#aa0000" stroke="#aa0000" stroke-width=".6"/>
<path d="M516.2,421.9L516.9,414.5L508,421.9z" fill="#9c0000" stroke="#9c0000" stroke-width=".6"/>
<path d="M512.8,457.6L536.4,437.5L516.9,414.5L493.3,434.1z" fill="none"/>
<path d="M556,462.5L579.5,445.4L559.9,422L536.4,437.5z" fill="#aa0000"/>
<path d="M599.2,470.7L622.6,455.3L622.4,455.1L600.3,458.7z" fill="#c80000" stroke="#c80000" stroke-width=".6"/>
<path d="M622.4,455.1L602.9,431.7L600.3,458.7z" fill="#aa0000" stroke="#aa0000" stroke-width=".6"/>
<path d="M599.2,470.7L600.3,458.7L591.6,460.9z" fill="#c80000" stroke="#c80000" stroke-width=".6"/>
<path d="M600.3,458.7L602.9,431.7L579.5,445.4L591.6,460.9z" fill="#aa0000" stroke="#aa0000" stroke-width=".6"/>
<path d="M599.2,470.7L622.6,455.3L602.9,431.7L579.5,445.4z" fill="none"/>
<path d="M642.4,480L665.6,467.7L647.6,445.8L645.6,446.5z" fill="#c80000" stroke="#c80000" stroke-width=".6"/>
<path d="M647.6,445.8L645.8,443.7L645.6,446.5z" fill="#aa0000" stroke="#aa0000" stroke-width=".6"/>
<path d="M642.4,480L645.6,446.5L624.9,454.2L622.6,455.3z" fill="#c80000" stroke="#c80000" stroke-width=".6"/>
<path d="M645.6,446.5L645.8,443.7L624.9,454.2z" fill="#aa0000" stroke="#aa0000" stroke-width=".6"/>
<path d="M642.4,480L665.6,467.7L645.8,443.7L622.6,455.3z" fill="none"/>
<path d="M360.2,506.9L360.7,506.1L360.3,506z" fill="#ff0a00" stroke="#ff0a00" stroke-width=".6"/>
<path d="M360.7,506.1L381.5,476.4L363.2,471L360.3,506z" fill="#e00000" stroke="#e00000" stroke-width=".6"/>
<path d="M381.5,476.4L383.8,473.1L364.8,451.1L363.2,471z" fill="#c80000" stroke="#c80000" stroke-width=".6"/>
<path d="M360.2,506.9L360.3,506L359.2,505.6z" fill="#ff0a00" stroke="#ff0a00" stroke-width=".6"/>
<path d="M360.3,506L363.2,471L353,468L341.2,484.7L359.2,505.6z" fill="#e00000" stroke="#e00000" stroke-width=".6"/>
<path d="M363.2,471L364.8,451.1L353,468z" fill="#c80000" stroke="#c80000" stroke-width=".6"/>
<path d="M360.2,506.9L383.8,473.1L364.8,451.1L341.2,484.7z" fill="none"/>
<path d="M685.5,491.8L708.5,484.4L700.2,474.6L686,486.7z" fill="#e00000" stroke="#e00000" stroke-width=".6"/>
<path d="M700.2,474.6L688.6,460.9L686,486.7z" fill="#c80000" stroke="#c80000" stroke-width=".6"/>
<path d="M685.5,491.8L686,486.7L683.3,489.2z" fill="#e00000" stroke="#e00000" stroke-width=".6"/>
<path d="M686,486.7L688.6,460.9L665.6,467.7L683.3,489.2z" fill="#c80000" stroke="#c80000" stroke-width=".6"/>
<path d="M685.5,491.8L708.5,484.4L688.6,460.9L665.6,467.7z" fill="none"/>
<path d="M403,496.4L412.2,484.1L404.1,482.1z" fill="#e00000" stroke="#e00000" stroke-width=".6"/>
<path d="M412.2,484.1L426.6,464.7L412.8,448L407,446.7L404.1,482.1z" fill="#c80000" stroke="#c80000" stroke-width=".6"/>
<path d="M412.8,448L407.4,441.6L407,446.7z" fill="#aa0000" stroke="#aa0000" stroke-width=".6"/>
<path d="M403,496.4L404.1,482.1L388,478.2z" fill="#e00000" stroke="#e00000" stroke-width=".6"/>
<path d="M404.1,482.1L407,446.7L404.2,446L383.8,473.1L388,478.2z" fill="#c80000" stroke="#c80000" stroke-width=".6"/>
<path d="M407,446.7L407.4,441.6L404.2,446z" fill="#aa0000" stroke="#aa0000" stroke-width=".6"/>
<path d="M403,496.4L426.6,464.7L407.4,441.6L383.8,473.1z" fill="none"/>
<path d="M735.7,509.5L751.1,506L745,498.3z" fill="#ff0a00" stroke="#ff0a00" stroke-width=".6"/>
<path d="M728.4,511.2L735.7,509.5L745,498.3L731.2,481.2z" fill="#e00000" stroke="#e00000" stroke-width=".6"/>
<path d="M728.4,511.2L731.2,481.2L708.5,484.4z" fill="#e00000" stroke="#e00000" stroke-width=".6"/>
<path d="M728.4,511.2L751.1,506L731.2,481.2L708.5,484.4z" fill="none"/>
<path d="M445.9,489L469.6,459.5L469.5,459.2L448.7,455.1z" fill="#c80000" stroke="#c80000" stroke-width=".6"/>
<path d="M469.5,459.2L450.3,435.8L448.7,455.1z" fill="#aa0000" stroke="#aa0000" stroke-width=".6"/>
<path d="M445.9,489L448.7,455.1L436.3,452.9L426.6,464.7z" fill="#c80000" stroke="#c80000" stroke-width=".6"/>
<path d="M448.7,455.1L450.3,435.8L436.3,452.9z" fill="#aa0000" stroke="#aa0000" stroke-width=".6"/>
<path d="M445.9,489L469.6,459.5L450.3,435.8L426.6,464.7z" fill="none"/>
<path d="M489.1,483.9L506.9,464.2L491,461.8z" fill="#c80000" stroke="#c80000" stroke-width=".6"/>
<path d="M506.9,464.2L512.8,457.6L493.3,434.1L491,461.8z" fill="#aa0000" stroke="#aa0000" stroke-width=".6"/>
<path d="M489.1,483.9L491,461.8L469.8,459.3L469.6,459.5z" fill="#c80000" stroke="#c80000" stroke-width=".6"/>
<path d="M491,461.8L493.3,434.1L469.8,459.3z" fill="#aa0000" stroke="#aa0000" stroke-width=".6"/>
<path d="M489.1,483.9L512.8,457.6L493.3,434.1L469.6,459.5z" fill="none"/>
<path d="M532.3,483.1L553.2,464.9L533.9,465.1z" fill="#c80000" stroke="#c80000" stroke-width=".6"/>
<path d="M553.2,464.9L556,462.5L536.4,437.5L533.9,465.1z" fill="#aa0000" stroke="#aa0000" stroke-width=".6"/>
<path d="M532.3,483.1L533.9,465.1L518.8,465.4z" fill="#c80000" stroke="#c80000" stroke-width=".6"/>
<path d="M533.9,465.1L536.4,437.5L512.8,457.6L518.8,465.4z" fill="#aa0000" stroke="#aa0000" stroke-width=".6"/>
<path d="M532.3,483.1L556,462.5L536.4,437.5L512.8,457.6z" fill="none"/>
<path d="M575.7,488.6L599.2,470.7L591.6,460.9L578,462.2z" fill="#c80000" stroke="#c80000" stroke-width=".6"/>
<path d="M591.6,460.9L579.5,445.4L578,462.2z" fill="#aa0000" stroke="#aa0000" stroke-width=".6"/>
<path d="M575.7,488.6L578,462.2L557.7,464.8z" fill="#c80000" stroke="#c80000" stroke-width=".6"/>
<path d="M578,462.2L579.5,445.4L556,462.5L557.7,464.8z" fill="#aa0000" stroke="#aa0000" stroke-width=".6"/>
<path d="M575.7,488.6L599.2,470.7L579.5,445.4L556,462.5z" fill="none"/>
<path d="M619,496.2L642.4,480L622.6,455.3L599.2,470.7z" fill="#c80000"/>
<path d="M662.3,504.5L685.5,491.8L683.3,489.2L663.1,495.6z" fill="#e00000" stroke="#e00000" stroke-width=".6"/>
<path d="M683.3,489.2L665.6,467.7L663.1,495.6z" fill="#c80000" stroke="#c80000" stroke-width=".6"/>
<path d="M662.3,504.5L663.1,495.6L656.8,497.7z" fill="#e00000" stroke="#e00000" stroke-width=".6"/>
<path d="M663.1,495.6L665.6,467.7L642.4,480L656.8,497.7z" fill="#c80000" stroke="#c80000" stroke-width=".6"/>
<path d="M662.3,504.5L685.5,491.8L665.6,467.7L642.4,480z" fill="none"/>
<path d="M379.3,529.6L390.2,514.3L380.7,511.9z" fill="#ff0a00" stroke="#ff0a00" stroke-width=".6"/>
<path d="M390.2,514.3L403,496.4L388,478.2L383.5,477L380.7,511.9z" fill="#e00000" stroke="#e00000" stroke-width=".6"/>
<path d="M388,478.2L383.8,473.1L383.5,477z" fill="#c80000" stroke="#c80000" stroke-width=".6"/>
<path d="M379.3,529.6L380.7,511.9L360.7,506.1L360.2,506.9z" fill="#ff0a00" stroke="#ff0a00" stroke-width=".6"/>
<path d="M380.7,511.9L383.5,477L381.5,476.4L360.7,506.1z" fill="#e00000" stroke="#e00000" stroke-width=".6"/>
<path d="M383.5,477L383.8,473.1L381.5,476.4z" fill="#c80000" stroke="#c80000" stroke-width=".6"/>
<path d="M379.3,529.6L403,496.4L383.8,473.1L360.2,506.9z" fill="none"/>
<path d="M705.4,518.7L728.4,511.2L708.5,484.4L685.5,491.8z" fill="#e00000"/>
<path d="M422.2,521.3L444.4,491.1L424.9,486.7z" fill="#e00000" stroke="#e00000" stroke-width=".6"/>
<path d="M444.4,491.1L445.9,489L426.6,464.7L424.9,486.7z" fill="#c80000" stroke="#c80000" stroke-width=".6"/>
<path d="M422.2,521.3L424.9,486.7L412.2,484.1L403,496.4z" fill="#e00000" stroke="#e00000" stroke-width=".6"/>
<path d="M424.9,486.7L426.6,464.7L412.2,484.1z" fill="#c80000" stroke="#c80000" stroke-width=".6"/>
<path d="M422.2,521.3L445.9,489L426.6,464.7L403,496.4z" fill="none"/>
<path d="M465.4,514L478.5,497.4L466.8,495.2z" fill="#e00000" stroke="#e00000" stroke-width=".6"/>
<path d="M478.5,497.4L489.1,483.9L469.6,459.5L466.8,495.2z" fill="#c80000" stroke="#c80000" stroke-width=".6"/>
<path d="M465.4,514L466.8,495.2L448.2,491.9z" fill="#e00000" stroke="#e00000" stroke-width=".6"/>
<path d="M466.8,495.2L469.6,459.5L445.9,489L448.2,491.9z" fill="#c80000" stroke="#c80000" stroke-width=".6"/>
<path d="M465.4,514L489.1,483.9L469.6,459.5L445.9,489z" fill="none"/>
<path d="M508.6,509.8L515,502.6L509.2,502z" fill="#e00000" stroke="#e00000" stroke-width=".6"/>
<path d="M515,502.6L532.3,483.1L518.8,465.4L512.2,464.7L509.2,502z" fill="#c80000" stroke="#c80000" stroke-width=".6"/>
<path d="M518.8,465.4L512.8,457.6L512.2,464.7z" fill="#aa0000" stroke="#aa0000" stroke-width=".6"/>
<path d="M508.6,509.8L509.2,502L502.2,501.2z" fill="#e00000" stroke="#e00000" stroke-width=".6"/>
<path d="M509.2,502L512.2,464.7L506.9,464.2L489.1,483.9L502.2,501.2z" fill="#c80000" stroke="#c80000" stroke-width=".6"/>
<path d="M512.2,464.7L512.8,457.6L506.9,464.2z" fill="#aa0000" stroke="#aa0000" stroke-width=".6"/>
<path d="M508.6,509.8L532.3,483.1L512.8,457.6L489.1,483.9z" fill="none"/>
<path d="M552,509.2L555.5,506.1L552.3,506.2z" fill="#e00000" stroke="#e00000" stroke-width=".6"/>
<path d="M555.5,506.1L575.7,488.6L557.7,464.8L555.8,464.9L552.3,506.2z" fill="#c80000" stroke="#c80000" stroke-width=".6"/>
<path d="M557.7,464.8L556,462.5L555.8,464.9z" fill="#aa0000" stroke="#aa0000" stroke-width=".6"/>
<path d="M552,509.2L552.3,506.2L549.8,506.3z" fill="#e00000" stroke="#e00000" stroke-width=".6"/>
<path d="M552.3,506.2L555.8,464.9L553.2,464.9L532.3,483.1L549.8,506.3z" fill="#c80000" stroke="#c80000" stroke-width=".6"/>
<path d="M555.8,464.9L556,462.5L553.2,464.9z" fill="#aa0000" stroke="#aa0000" stroke-width=".6"/>
<path d="M552,509.2L575.7,488.6L556,462.5L532.3,483.1z" fill="none"/>
<path d="M595.4,514.9L610.4,503.1L596.3,504.2z" fill="#e00000" stroke="#e00000" stroke-width=".6"/>
<path d="M610.4,503.1L619,496.2L599.2,470.7L596.3,504.2z" fill="#c80000" stroke="#c80000" stroke-width=".6"/>
<path d="M595.4,514.9L596.3,504.2L588,505.1z" fill="#e00000" stroke="#e00000" stroke-width=".6"/>
<path d="M596.3,504.2L599.2,470.7L575.7,488.6L588,505.1z" fill="#c80000" stroke="#c80000" stroke-width=".6"/>
<path d="M595.4,514.9L619,496.2L599.2,470.7L575.7,488.6z" fill="none"/>
<path d="M638.8,521.3L662.3,504.5L656.8,497.7L640.7,499.7z" fill="#e00000" stroke="#e00000" stroke-width=".6"/>
<path d="M656.8,497.7L642.4,480L640.7,499.7z" fill="#c80000" stroke="#c80000" stroke-width=".6"/>
<path d="M638.8,521.3L640.7,499.7L623.7,502.2z" fill="#e00000" stroke="#e00000" stroke-width=".6"/>
<path d="M640.7,499.7L642.4,480L619,496.2L623.7,502.2z" fill="#c80000" stroke="#c80000" stroke-width=".6"/>
<path d="M638.8,521.3L662.3,504.5L642.4,480L619,496.2z" fill="none"/>
<path d="M682.2,529.4L705.4,518.7L685.5,491.8L662.3,504.5z" fill="#e00000"/>
<path d="M398.5,555.2L401.2,551.4L398.9,550.9z" fill="#ff5000" stroke="#ff5000" stroke-width=".6"/>
<path d="M401.2,551.4L422.1,521.6L401.4,516.8L398.9,550.9z" fill="#ff0a00" stroke="#ff0a00" stroke-width=".6"/>
<path d="M422.1,521.6L422.2,521.3L403,496.4L401.4,516.8z" fill="#e00000" stroke="#e00000" stroke-width=".6"/>
<path d="M398.5,555.2L398.9,550.9L394.6,549.9z" fill="#ff5000" stroke="#ff5000" stroke-width=".6"/>
<path d="M398.9,550.9L401.4,516.8L390.2,514.3L379.3,529.6L394.6,549.9z" fill="#ff0a00" stroke="#ff0a00" stroke-width=".6"/>
<path d="M401.4,516.8L403,496.4L390.2,514.3z" fill="#e00000" stroke="#e00000" stroke-width=".6"/>
<path d="M398.5,555.2L422.2,521.3L403,496.4L379.3,529.6z" fill="none"/>
<path d="M441.6,547L455,528.4L443.2,525.8z" fill="#ff0a00" stroke="#ff0a00" stroke-width=".6"/>
<path d="M455,528.4L465.4,514L448.2,491.9L445.8,491.4L443.2,525.8z" fill="#e00000" stroke="#e00000" stroke-width=".6"/>
<path d="M448.2,491.9L445.9,489L445.8,491.4z" fill="#c80000" stroke="#c80000" stroke-width=".6"/>
<path d="M441.6,547L443.2,525.8L422.5,521.7z" fill="#ff0a00" stroke="#ff0a00" stroke-width=".6"/>
<path d="M443.2,525.8L445.8,491.4L444.4,491.1L422.2,521.3L422.5,521.7z" fill="#e00000" stroke="#e00000" stroke-width=".6"/>
<path d="M445.8,491.4L445.9,489L444.4,491.1z" fill="#c80000" stroke="#c80000" stroke-width=".6"/>
<path d="M441.6,547L465.4,514L445.9,489L422.2,521.3z" fill="none"/>
<path d="M484.9,540.6L489.4,534.7L485.4,534z" fill="#ff0a00" stroke="#ff0a00" stroke-width=".6"/>
<path d="M489.4,534.7L508.6,509.8L502.2,501.2L488,498.8L485.4,534z" fill="#e00000" stroke="#e00000" stroke-width=".6"/>
<path d="M502.2,501.2L489.1,483.9L488,498.8z" fill="#c80000" stroke="#c80000" stroke-width=".6"/>
<path d="M484.9,540.6L485.4,534L479.3,533z" fill="#ff0a00" stroke="#ff0a00" stroke-width=".6"/>
<path d="M485.4,534L488,498.8L478.5,497.4L465.4,514L479.3,533z" fill="#e00000" stroke="#e00000" stroke-width=".6"/>
<path d="M488,498.8L489.1,483.9L478.5,497.4z" fill="#c80000" stroke="#c80000" stroke-width=".6"/>
<path d="M484.9,540.6L508.6,509.8L489.1,483.9L465.4,514z" fill="none"/>
<path d="M528.3,536.1L552,509.2L549.8,506.3L530.7,504.3z" fill="#e00000" stroke="#e00000" stroke-width=".6"/>
<path d="M549.8,506.3L532.3,483.1L530.7,504.3z" fill="#c80000" stroke="#c80000" stroke-width=".6"/>
<path d="M528.3,536.1L530.7,504.3L515,502.6L508.6,509.8z" fill="#e00000" stroke="#e00000" stroke-width=".6"/>
<path d="M530.7,504.3L532.3,483.1L515,502.6z" fill="#c80000" stroke="#c80000" stroke-width=".6"/>
<path d="M528.3,536.1L552,509.2L532.3,483.1L508.6,509.8z" fill="none"/>
<path d="M571.8,536L595.4,514.9L588,505.1L574.3,505.4z" fill="#e00000" stroke="#e00000" stroke-width=".6"/>
<path d="M588,505.1L575.7,488.6L574.3,505.4z" fill="#c80000" stroke="#c80000" stroke-width=".6"/>
<path d="M571.8,536L574.3,505.4L555.5,506.1L552,509.2z" fill="#e00000" stroke="#e00000" stroke-width=".6"/>
<path d="M574.3,505.4L575.7,488.6L555.5,506.1z" fill="#c80000" stroke="#c80000" stroke-width=".6"/>
<path d="M571.8,536L595.4,514.9L575.7,488.6L552,509.2z" fill="none"/>
<path d="M615.3,540.7L638.8,521.3L623.7,502.2L618.5,502.4z" fill="#e00000" stroke="#e00000" stroke-width=".6"/>
<path d="M623.7,502.2L619,496.2L618.5,502.4z" fill="#c80000" stroke="#c80000" stroke-width=".6"/>
<path d="M615.3,540.7L618.5,502.4L610.4,503.1L595.4,514.9z" fill="#e00000" stroke="#e00000" stroke-width=".6"/>
<path d="M618.5,502.4L619,496.2L610.4,503.1z" fill="#c80000" stroke="#c80000" stroke-width=".6"/>
<path d="M615.3,540.7L638.8,521.3L619,496.2L595.4,514.9z" fill="none"/>
<path d="M658.8,545L682.2,529.4L662.3,504.5L638.8,521.3z" fill="#e00000"/>
<path d="M417.9,581.3L433.7,558.5L419.8,555.4z" fill="#ff5000" stroke="#ff5000" stroke-width=".6"/>
<path d="M433.7,558.5L441.6,547L422.5,521.7L422.2,521.6L419.8,555.4z" fill="#ff0a00" stroke="#ff0a00" stroke-width=".6"/>
<path d="M417.9,581.3L419.8,555.4L401.2,551.4L398.5,555.2z" fill="#ff5000" stroke="#ff5000" stroke-width=".6"/>
<path d="M419.8,555.4L422.2,521.6L422.1,521.6L401.2,551.4z" fill="#ff0a00" stroke="#ff0a00" stroke-width=".6"/>
<path d="M417.9,581.3L441.6,547L422.2,521.3L398.5,555.2z" fill="none"/>
<path d="M461.1,574.1L467.5,565.1L461.8,564z" fill="#ff5000" stroke="#ff5000" stroke-width=".6"/>
<path d="M467.5,565.1L484.9,540.6L479.3,533L464.2,530.1L461.8,564z" fill="#ff0a00" stroke="#ff0a00" stroke-width=".6"/>
<path d="M479.3,533L465.4,514L464.2,530.1z" fill="#e00000" stroke="#e00000" stroke-width=".6"/>
<path d="M461.1,574.1L461.8,564L452.6,562.3z" fill="#ff5000" stroke="#ff5000" stroke-width=".6"/>
<path d="M461.8,564L464.2,530.1L455,528.4L441.6,547L452.6,562.3z" fill="#ff0a00" stroke="#ff0a00" stroke-width=".6"/>
<path d="M464.2,530.1L465.4,514L455,528.4z" fill="#e00000" stroke="#e00000" stroke-width=".6"/>
<path d="M461.1,574.1L484.9,540.6L465.4,514L441.6,547z" fill="none"/>
<path d="M504.5,567.4L524.9,540.5L506.6,537.4z" fill="#ff0a00" stroke="#ff0a00" stroke-width=".6"/>
<path d="M524.9,540.5L528.3,536.1L508.6,509.8L506.6,537.4z" fill="#e00000" stroke="#e00000" stroke-width=".6"/>
<path d="M504.5,567.4L506.6,537.4L489.4,534.7L484.9,540.6z" fill="#ff0a00" stroke="#ff0a00" stroke-width=".6"/>
<path d="M506.6,537.4L508.6,509.8L489.4,534.7z" fill="#e00000" stroke="#e00000" stroke-width=".6"/>
<path d="M504.5,567.4L528.3,536.1L508.6,509.8L484.9,540.6z" fill="none"/>
<path d="M548,562.9L564,544.8L549.4,543.4z" fill="#ff0a00" stroke="#ff0a00" stroke-width=".6"/>
<path d="M564,544.8L571.8,536L552,509.2L549.4,543.4z" fill="#e00000" stroke="#e00000" stroke-width=".6"/>
<path d="M548,562.9L549.4,543.4L532.4,541.8z" fill="#ff0a00" stroke="#ff0a00" stroke-width=".6"/>
<path d="M549.4,543.4L552,509.2L528.3,536.1L532.4,541.8z" fill="#e00000" stroke="#e00000" stroke-width=".6"/>
<path d="M548,562.9L571.8,536L552,509.2L528.3,536.1z" fill="none"/>
<path d="M591.6,562.5L609.4,546.1L592.9,546.1z" fill="#ff0a00" stroke="#ff0a00" stroke-width=".6"/>
<path d="M609.4,546.1L615.3,540.7L595.4,514.9L592.9,546.1z" fill="#e00000" stroke="#e00000" stroke-width=".6"/>
<path d="M591.6,562.5L592.9,546.1L579.5,546.3z" fill="#ff0a00" stroke="#ff0a00" stroke-width=".6"/>
<path d="M592.9,546.1L595.4,514.9L571.8,536L579.5,546.3z" fill="#e00000" stroke="#e00000" stroke-width=".6"/>
<path d="M591.6,562.5L615.3,540.7L595.4,514.9L571.8,536z" fill="none"/>
<path d="M635.2,564.6L657.2,546.4L636.7,546.6z" fill="#ff0a00" stroke="#ff0a00" stroke-width=".6"/>
<path d="M657.2,546.4L658.8,545L638.8,521.3L636.7,546.6z" fill="#e00000" stroke="#e00000" stroke-width=".6"/>
<path d="M635.2,564.6L636.7,546.6L620.3,546.7z" fill="#ff0a00" stroke="#ff0a00" stroke-width=".6"/>
<path d="M636.7,546.6L638.8,521.3L615.3,540.7L620.3,546.7z" fill="#e00000" stroke="#e00000" stroke-width=".6"/>
<path d="M635.2,564.6L658.8,545L638.8,521.3L615.3,540.7z" fill="none"/>
<path d="M437.3,609.6L447.3,594.7L438.5,592.8z" fill="#ff9000" stroke="#ff9000" stroke-width=".6"/>
<path d="M447.3,594.7L461.1,574.1L452.6,562.3L440.7,559.8L438.5,592.8z" fill="#ff5000" stroke="#ff5000" stroke-width=".6"/>
<path d="M452.6,562.3L441.6,547L440.7,559.8z" fill="#ff0a00" stroke="#ff0a00" stroke-width=".6"/>
<path d="M437.3,609.6L438.5,592.8L424,590.3z" fill="#ff9000" stroke="#ff9000" stroke-width=".6"/>
<path d="M438.5,592.8L440.7,559.8L433.7,558.5L417.9,581.3L424,590.3z" fill="#ff5000" stroke="#ff5000" stroke-width=".6"/>
<path d="M440.7,559.8L441.6,547L433.7,558.5z" fill="#ff0a00" stroke="#ff0a00" stroke-width=".6"/>
<path d="M437.3,609.6L461.1,574.1L441.6,547L417.9,581.3z" fill="none"/>
<path d="M480.8,601.5L501.5,571.6L483,567.9L480.7,601.5z" fill="#ff5000" stroke="#ff5000" stroke-width=".6"/>
<path d="M501.5,571.6L504.5,567.4L484.9,540.6L483,567.9z" fill="#ff0a00" stroke="#ff0a00" stroke-width=".6"/>
<path d="M480.7,601.5L483,567.9L467.5,565.1L461.1,574.1L480.5,601.5z" fill="#ff5000" stroke="#ff5000" stroke-width=".6"/>
<path d="M483,567.9L484.9,540.6L467.5,565.1z" fill="#ff0a00" stroke="#ff0a00" stroke-width=".6"/>
<path d="M480.7,601.8L504.5,567.4L484.9,540.6L461.1,574.1z" fill="none"/>
<path d="M524.2,594.6L536.9,577.7L525.5,575.8z" fill="#ff5000" stroke="#ff5000" stroke-width=".6"/>
<path d="M536.9,577.7L548,562.9L532.4,541.8L527.9,541L525.5,575.8z" fill="#ff0a00" stroke="#ff0a00" stroke-width=".6"/>
<path d="M532.4,541.8L528.3,536.1L527.9,541z" fill="#e00000" stroke="#e00000" stroke-width=".6"/>
<path d="M524.2,594.6L525.5,575.8L508.6,573z" fill="#ff5000" stroke="#ff5000" stroke-width=".6"/>
<path d="M525.5,575.8L527.9,541L524.9,540.5L504.5,567.4L508.6,573z" fill="#ff0a00" stroke="#ff0a00" stroke-width=".6"/>
<path d="M527.9,541L528.3,536.1L524.9,540.5z" fill="#e00000" stroke="#e00000" stroke-width=".6"/>
<path d="M524.2,594.6L548,562.9L528.3,536.1L504.5,567.4z" fill="none"/>
<path d="M567.8,589.7L573.5,583.2L568.3,582.7z" fill="#ff5000" stroke="#ff5000" stroke-width=".6"/>
<path d="M573.5,583.2L591.6,562.5L579.5,546.3L571,545.5L568.3,582.7z" fill="#ff0a00" stroke="#ff0a00" stroke-width=".6"/>
<path d="M579.5,546.3L571.8,536L571,545.5z" fill="#e00000" stroke="#e00000" stroke-width=".6"/>
<path d="M567.8,589.7L568.3,582.7L562.1,582z" fill="#ff5000" stroke="#ff5000" stroke-width=".6"/>
<path d="M568.3,582.7L571,545.5L564,544.8L548,562.9L562.1,582z" fill="#ff0a00" stroke="#ff0a00" stroke-width=".6"/>
<path d="M571,545.5L571.8,536L564,544.8z" fill="#e00000" stroke="#e00000" stroke-width=".6"/>
<path d="M567.8,589.7L591.6,562.5L571.8,536L548,562.9z" fill="none"/>
<path d="M611.5,588L635.2,564.6L620.3,546.7L614.8,546.3z" fill="#ff0a00" stroke="#ff0a00" stroke-width=".6"/>
<path d="M620.3,546.7L615.3,540.7L614.8,546.3z" fill="#e00000" stroke="#e00000" stroke-width=".6"/>
<path d="M611.5,588L614.8,546.3L609.4,546.1L591.6,562.5z" fill="#ff0a00" stroke="#ff0a00" stroke-width=".6"/>
<path d="M614.8,546.3L615.3,540.7L609.4,546.1z" fill="#e00000" stroke="#e00000" stroke-width=".6"/>
<path d="M611.5,588L635.2,564.6L615.3,540.7L591.6,562.5z" fill="none"/>
<path d="M456.9,638L461.6,630.8L457.4,629.9z" fill="#ffd800" stroke="#ffd800" stroke-width=".6"/>
<path d="M461.6,630.8L480.7,601.8L480.5,601.5L459.6,597.1L457.4,629.9z" fill="#ff9000" stroke="#ff9000" stroke-width=".6"/>
<path d="M480.5,601.5L461.1,574.1L459.6,597.1z" fill="#ff5000" stroke="#ff5000" stroke-width=".6"/>
<path d="M456.9,638L457.4,629.9L450.3,628.5z" fill="#ffd800" stroke="#ffd800" stroke-width=".6"/>
<path d="M457.4,629.9L459.6,597.1L447.3,594.7L437.3,609.6L450.3,628.5z" fill="#ff9000" stroke="#ff9000" stroke-width=".6"/>
<path d="M459.6,597.1L461.1,574.1L447.3,594.7z" fill="#ff5000" stroke="#ff5000" stroke-width=".6"/>
<path d="M456.9,638L480.7,601.8L461.1,574.1L437.3,609.6z" fill="none"/>
<path d="M500.3,629.7L514.9,608.2L501.9,605.5z" fill="#ff9000" stroke="#ff9000" stroke-width=".6"/>
<path d="M514.9,608.2L524.2,594.6L508.6,573L504.1,572.1L501.9,605.5z" fill="#ff5000" stroke="#ff5000" stroke-width=".6"/>
<path d="M508.6,573L504.5,567.4L504.1,572.1z" fill="#ff0a00" stroke="#ff0a00" stroke-width=".6"/>
<path d="M500.3,629.7L501.9,605.5L480.8,601.5L480.7,601.8z" fill="#ff9000" stroke="#ff9000" stroke-width=".6"/>
<path d="M501.9,605.5L504.1,572.1L501.5,571.6L480.8,601.5z" fill="#ff5000" stroke="#ff5000" stroke-width=".6"/>
<path d="M504.1,572.1L504.5,567.4L501.5,571.6z" fill="#ff0a00" stroke="#ff0a00" stroke-width=".6"/>
<path d="M500.3,629.7L524.2,594.6L504.5,567.4L480.7,601.8z" fill="none"/>
<path d="M543.9,621.8L549,615L544.4,614.2z" fill="#ff9000" stroke="#ff9000" stroke-width=".6"/>
<path d="M549,615L567.8,589.7L562.1,582L546.8,579.3L544.4,614.2z" fill="#ff5000" stroke="#ff5000" stroke-width=".6"/>
<path d="M562.1,582L548,562.9L546.8,579.3z" fill="#ff0a00" stroke="#ff0a00" stroke-width=".6"/>
<path d="M543.9,621.8L544.4,614.2L537.6,613z" fill="#ff9000" stroke="#ff9000" stroke-width=".6"/>
<path d="M544.4,614.2L546.8,579.3L536.9,577.7L524.2,594.6L537.6,613z" fill="#ff5000" stroke="#ff5000" stroke-width=".6"/>
<path d="M546.8,579.3L548,562.9L536.9,577.7z" fill="#ff0a00" stroke="#ff0a00" stroke-width=".6"/>
<path d="M543.9,621.8L567.8,589.7L548,562.9L524.2,594.6z" fill="none"/>
<path d="M587.7,616L611.4,588.1L589.9,585.1z" fill="#ff5000" stroke="#ff5000" stroke-width=".6"/>
<path d="M611.4,588.1L611.5,588L591.6,562.5L589.9,585.1z" fill="#ff0a00" stroke="#ff0a00" stroke-width=".6"/>
<path d="M587.7,616L589.9,585.1L573.5,583.2L567.8,589.7z" fill="#ff5000" stroke="#ff5000" stroke-width=".6"/>
<path d="M589.9,585.1L591.6,562.5L573.5,583.2z" fill="#ff0a00" stroke="#ff0a00" stroke-width=".6"/>
<path d="M587.7,616L611.5,588L591.6,562.5L567.8,589.7z" fill="none"/>
<path d="M476.5,667.1L476.7,666.6L476.5,666.6z" fill="#f0ff00" stroke="#f0ff00" stroke-width=".6"/>
<path d="M476.7,666.6L495.2,637.7L478.6,634.1L476.5,666.6z" fill="#ffd800" stroke="#ffd800" stroke-width=".6"/>
<path d="M495.2,637.7L500.3,629.7L480.7,601.8L478.6,634.1z" fill="#ff9000" stroke="#ff9000" stroke-width=".6"/>
<path d="M476.5,667.1L476.5,666.6L476.1,666.5z" fill="#f0ff00" stroke="#f0ff00" stroke-width=".6"/>
<path d="M476.5,666.6L478.6,634.1L461.6,630.8L456.9,638L476.1,666.5z" fill="#ffd800" stroke="#ffd800" stroke-width=".6"/>
<path d="M478.6,634.1L480.7,601.8L461.6,630.8z" fill="#ff9000" stroke="#ff9000" stroke-width=".6"/>
<path d="M476.5,667.1L500.3,629.7L480.7,601.8L456.9,638z" fill="none"/>
<path d="M520,657.7L528.6,644.8L521,643.2z" fill="#ffd800" stroke="#ffd800" stroke-width=".6"/>
<path d="M528.6,644.8L543.9,621.8L537.6,613L523.2,609.9L521,643.2z" fill="#ff9000" stroke="#ff9000" stroke-width=".6"/>
<path d="M537.6,613L524.2,594.6L523.2,609.9z" fill="#ff5000" stroke="#ff5000" stroke-width=".6"/>
<path d="M520,657.7L521,643.2L508,640.6z" fill="#ffd800" stroke="#ffd800" stroke-width=".6"/>
<path d="M521,643.2L523.2,609.9L514.9,608.2L500.3,629.7L508,640.6z" fill="#ff9000" stroke="#ff9000" stroke-width=".6"/>
<path d="M523.2,609.9L524.2,594.6L514.9,608.2z" fill="#ff5000" stroke="#ff5000" stroke-width=".6"/>
<path d="M520,657.7L543.9,621.8L524.2,594.6L500.3,629.7z" fill="none"/>
<path d="M563.8,649.1L583.7,621.5L565.9,617.9z" fill="#ff9000" stroke="#ff9000" stroke-width=".6"/>
<path d="M583.7,621.5L587.7,616L567.8,589.7L565.9,617.9z" fill="#ff5000" stroke="#ff5000" stroke-width=".6"/>
<path d="M563.8,649.1L565.9,617.9L549,615L543.9,621.8z" fill="#ff9000" stroke="#ff9000" stroke-width=".6"/>
<path d="M565.9,617.9L567.8,589.7L549,615z" fill="#ff5000" stroke="#ff5000" stroke-width=".6"/>
<path d="M563.8,649.1L587.7,616L567.8,589.7L543.9,621.8z" fill="none"/>
<path d="M496.2,695.8L509.9,673.9L497.7,671.1z" fill="#f0ff00" stroke="#f0ff00" stroke-width=".6"/>
<path d="M509.9,673.9L520,657.7L508,640.6L499.7,638.7L497.7,671.1z" fill="#ffd800" stroke="#ffd800" stroke-width=".6"/>
<path d="M508,640.6L500.3,629.7L499.7,638.7z" fill="#ff9000" stroke="#ff9000" stroke-width=".6"/>
<path d="M496.2,695.8L497.7,671.1L476.7,666.6L476.5,667.1z" fill="#f0ff00" stroke="#f0ff00" stroke-width=".6"/>
<path d="M497.7,671.1L499.7,638.7L495.2,637.7L476.7,666.6z" fill="#ffd800" stroke="#ffd800" stroke-width=".6"/>
<path d="M499.7,638.7L500.3,629.7L495.2,637.7z" fill="#ff9000" stroke="#ff9000" stroke-width=".6"/>
<path d="M496.2,695.8L520,657.7L500.3,629.7L476.5,667.1z" fill="none"/>
<path d="M539.8,686.6L543.3,681.1L540.2,680.4z" fill="#f0ff00" stroke="#f0ff00" stroke-width=".6"/>
<path d="M543.3,681.1L561.8,652.1L542.3,647.5L540.2,680.4z" fill="#ffd800" stroke="#ffd800" stroke-width=".6"/>
<path d="M561.8,652.1L563.8,649.1L543.9,621.8L542.3,647.5z" fill="#ff9000" stroke="#ff9000" stroke-width=".6"/>
<path d="M539.8,686.6L540.2,680.4L534.9,679.4z" fill="#f0ff00" stroke="#f0ff00" stroke-width=".6"/>
<path d="M540.2,680.4L542.3,647.5L528.6,644.8L520,657.7L534.9,679.4z" fill="#ffd800" stroke="#ffd800" stroke-width=".6"/>
<path d="M542.3,647.5L543.9,621.8L528.6,644.8z" fill="#ff9000" stroke="#ff9000" stroke-width=".6"/>
<path d="M539.8,686.6L563.8,649.1L543.9,621.8L520,657.7z" fill="none"/>
<path d="M515.9,727.6L526.6,709.3L517.1,707z" fill="#ccff00" stroke="#ccff00" stroke-width=".6"/>
<path d="M526.6,709.3L539.8,686.6L534.9,679.4L519,675.5L517.1,707z" fill="#f0ff00" stroke="#f0ff00" stroke-width=".6"/>
<path d="M534.9,679.4L520,657.7L519,675.5z" fill="#ffd800" stroke="#ffd800" stroke-width=".6"/>
<path d="M515.9,727.6L517.1,707L501.4,704.3z" fill="#ccff00" stroke="#ccff00" stroke-width=".6"/>
<path d="M517.1,707L519,675.5L509.9,673.9L496.2,695.8L501.4,704.3z" fill="#f0ff00" stroke="#f0ff00" stroke-width=".6"/>
<path d="M519,675.5L520,657.7L509.9,673.9z" fill="#ffd800" stroke="#ffd800" stroke-width=".6"/>
<path d="M515.9,727.6L539.8,686.6L520,657.7L496.2,695.8z" fill="none"/>
</g>
<g stroke="#000" stroke-width="2.3" stroke-linejoin="round">
<path d="M1812,119.8L1819.4,100.5L1813.5,96z" fill="#b60000" stroke="#b60000" stroke-width=".6"/>
<path d="M1819.4,100.5L1833.9,62.6L1815.7,58.9L1813.5,96z" fill="#960000" stroke="#960000" stroke-width=".6"/>
<path d="M1812,119.8L1813.5,96L1803.8,89.1L1794,113.9z" fill="#b60000" stroke="#b60000" stroke-width=".6"/>
<path d="M1813.5,96L1815.7,58.9L1803.8,89.1z" fill="#960000" stroke="#960000" stroke-width=".6"/>
<path d="M1812,119.8L1833.9,62.6L1815.7,58.9L1794,113.9z" fill="none"/>
<path d="M1790.3,172.7L1803.6,140.3L1792.8,132.5z" fill="#e00000" stroke="#e00000" stroke-width=".6"/>
<path d="M1803.6,140.3L1812,119.8L1794,113.9L1792.8,132.5z" fill="#b60000" stroke="#b60000" stroke-width=".6"/>
<path d="M1790.3,172.7L1792.8,132.5L1787.7,128.9L1772.4,165.2z" fill="#e00000" stroke="#e00000" stroke-width=".6"/>
<path d="M1792.8,132.5L1794,113.9L1787.7,128.9z" fill="#b60000" stroke="#b60000" stroke-width=".6"/>
<path d="M1790.3,172.7L1812,119.8L1794,113.9L1772.4,165.2z" fill="none"/>
<path d="M1830.2,126.8L1835.6,111.8L1831.3,108.5z" fill="#b60000" stroke="#b60000" stroke-width=".6"/>
<path d="M1835.6,111.8L1849.8,72.5L1837.6,63.2L1833.9,62.6L1831.3,108.5z" fill="#960000" stroke="#960000" stroke-width=".6"/>
<path d="M1849.8,72.5L1852.2,65.6L1837.6,63.2z" fill="#840000" stroke="#840000" stroke-width=".6"/>
<path d="M1830.2,126.8L1831.3,108.5L1819.4,100.5L1812,119.8z" fill="#b60000" stroke="#b60000" stroke-width=".6"/>
<path d="M1831.3,108.5L1833.9,62.6L1819.4,100.5z" fill="#960000" stroke="#960000" stroke-width=".6"/>
<path d="M1830.2,126.8L1852.2,65.6L1833.9,62.6L1812,119.8z" fill="none"/>
<path d="M1768.7,220.9L1786.9,180.4L1772.1,170z" fill="#ff4000" stroke="#ff4000" stroke-width=".6"/>
<path d="M1786.9,180.4L1790.3,172.7L1772.4,165.2L1772.1,170z" fill="#e00000" stroke="#e00000" stroke-width=".6"/>
<path d="M1751.6,209.8L1750.9,211.4L1767.8,220.3z" fill="#ffaa00" stroke="#ffaa00" stroke-width=".6"/>
<path d="M1768.7,220.9L1772.1,170L1770.6,169L1751.6,209.8L1767.8,220.3z" fill="#ff4000" stroke="#ff4000" stroke-width=".6"/>
<path d="M1772.1,170L1772.4,165.2L1770.6,169z" fill="#e00000" stroke="#e00000" stroke-width=".6"/>
<path d="M1768.7,220.9L1790.3,172.7L1772.4,165.2L1750.9,211.4z" fill="none"/>
<path d="M1808.4,181.8L1820.5,151.4L1810.6,144.7z" fill="#e00000" stroke="#e00000" stroke-width=".6"/>
<path d="M1820.5,151.4L1830.2,126.8L1812,119.8L1810.6,144.7z" fill="#b60000" stroke="#b60000" stroke-width=".6"/>
<path d="M1808.4,181.8L1810.6,144.7L1803.6,140.3L1790.3,172.7z" fill="#e00000" stroke="#e00000" stroke-width=".6"/>
<path d="M1810.6,144.7L1812,119.8L1803.6,140.3z" fill="#b60000" stroke="#b60000" stroke-width=".6"/>
<path d="M1808.4,181.8L1830.2,126.8L1812,119.8L1790.3,172.7z" fill="none"/>
<path d="M1848.6,138.8L1854.2,122.3L1849.5,119.5z" fill="#b60000" stroke="#b60000" stroke-width=".6"/>
<path d="M1854.2,122.3L1867.7,83.1L1851.8,73.6L1849.5,119.5z" fill="#960000" stroke="#960000" stroke-width=".6"/>
<path d="M1867.7,83.1L1870.7,74.3L1852.2,65.6L1851.8,73.6z" fill="#840000" stroke="#840000" stroke-width=".6"/>
<path d="M1848.6,138.8L1849.5,119.5L1835.6,111.8L1830.2,126.8z" fill="#b60000" stroke="#b60000" stroke-width=".6"/>
<path d="M1849.5,119.5L1851.8,73.6L1849.8,72.5L1835.6,111.8z" fill="#960000" stroke="#960000" stroke-width=".6"/>
<path d="M1851.8,73.6L1852.2,65.6L1849.8,72.5z" fill="#840000" stroke="#840000" stroke-width=".6"/>
<path d="M1848.6,138.8L1870.7,74.3L1852.2,65.6L1830.2,126.8z" fill="none"/>
<path d="M1747.2,264.6L1748.3,262.3L1747.4,261.7z" fill="#f0ff00" stroke="#f0ff00" stroke-width=".6"/>
<path d="M1748.3,262.3L1768.7,220.9L1767.8,220.3L1750.9,211.4L1747.4,261.7z" fill="#ffaa00" stroke="#ffaa00" stroke-width=".6"/>
<path d="M1768.7,220.9L1768.7,220.9L1767.8,220.3z" fill="#ff4000" stroke="#ff4000" stroke-width=".6"/>
<path d="M1747.2,264.6L1747.4,261.7L1730.4,251.4L1729.4,253.4z" fill="#f0ff00" stroke="#f0ff00" stroke-width=".6"/>
<path d="M1747.4,261.7L1750.9,211.4L1730.4,251.4z" fill="#ffaa00" stroke="#ffaa00" stroke-width=".6"/>
<path d="M1747.2,264.6L1768.7,220.9L1750.9,211.4L1729.4,253.4z" fill="none"/>
<path d="M1786.7,231.8L1804.2,191.4L1789.8,182.1z" fill="#ff4000" stroke="#ff4000" stroke-width=".6"/>
<path d="M1804.2,191.4L1808.4,181.8L1790.3,172.7L1789.8,182.1z" fill="#e00000" stroke="#e00000" stroke-width=".6"/>
<path d="M1786.7,231.8L1789.8,182.1L1786.9,180.4L1768.7,220.9z" fill="#ff4000" stroke="#ff4000" stroke-width=".6"/>
<path d="M1789.8,182.1L1790.3,172.7L1786.9,180.4z" fill="#e00000" stroke="#e00000" stroke-width=".6"/>
<path d="M1786.7,231.8L1808.4,181.8L1790.3,172.7L1768.7,220.9z" fill="none"/>
<path d="M1826.6,194.9L1839.5,161.8L1828.7,155.9z" fill="#e00000" stroke="#e00000" stroke-width=".6"/>
<path d="M1839.5,161.8L1848.6,138.8L1830.2,126.8L1828.7,155.9z" fill="#b60000" stroke="#b60000" stroke-width=".6"/>
<path d="M1826.6,194.9L1828.7,155.9L1820.5,151.4L1808.4,181.8z" fill="#e00000" stroke="#e00000" stroke-width=".6"/>
<path d="M1828.7,155.9L1830.2,126.8L1820.5,151.4z" fill="#b60000" stroke="#b60000" stroke-width=".6"/>
<path d="M1826.6,194.9L1848.6,138.8L1830.2,126.8L1808.4,181.8z" fill="none"/>
<path d="M1866.9,156.7L1875.5,131.8L1868.2,128.6z" fill="#b60000" stroke="#b60000" stroke-width=".6"/>
<path d="M1875.5,131.8L1889.1,92.5L1870.3,84.3L1868.2,128.6z" fill="#960000" stroke="#960000" stroke-width=".6"/>
<path d="M1889.1,92.5L1889.2,92.3L1870.7,74.3L1870.3,84.3z" fill="#840000" stroke="#840000" stroke-width=".6"/>
<path d="M1866.9,156.7L1868.2,128.6L1854.2,122.3L1848.6,138.8z" fill="#b60000" stroke="#b60000" stroke-width=".6"/>
<path d="M1868.2,128.6L1870.3,84.3L1867.7,83.1L1854.2,122.3z" fill="#960000" stroke="#960000" stroke-width=".6"/>
<path d="M1870.3,84.3L1870.7,74.3L1867.7,83.1z" fill="#840000" stroke="#840000" stroke-width=".6"/>
<path d="M1866.9,156.7L1889.2,92.3L1870.7,74.3L1848.6,138.8z" fill="none"/>
<path d="M1725.8,304.5L1747.2,264.6L1729.4,253.4L1725.7,304.5z" fill="#f0ff00" stroke="#f0ff00" stroke-width=".6"/>
<path d="M1725.6,304.8L1725.7,304.5L1722.4,302.6z" fill="#99ff00" stroke="#99ff00" stroke-width=".6"/>
<path d="M1725.7,304.5L1729.4,253.4L1708,292.6L1722.4,302.6z" fill="#f0ff00" stroke="#f0ff00" stroke-width=".6"/>
<path d="M1725.6,304.8L1747.2,264.6L1729.4,253.4L1708,292.6z" fill="none"/>
<path d="M1765,277.4L1767.2,272.9L1765.4,271.8z" fill="#f0ff00" stroke="#f0ff00" stroke-width=".6"/>
<path d="M1767.2,272.9L1786.7,231.8L1768.7,221L1765.4,271.8z" fill="#ffaa00" stroke="#ffaa00" stroke-width=".6"/>
<path d="M1786.7,231.8L1786.7,231.8L1768.7,220.9L1768.7,221z" fill="#ff4000" stroke="#ff4000" stroke-width=".6"/>
<path d="M1765,277.4L1765.4,271.8L1748.3,262.3L1747.2,264.6z" fill="#f0ff00" stroke="#f0ff00" stroke-width=".6"/>
<path d="M1765.4,271.8L1768.7,221L1768.7,220.9L1748.3,262.3z" fill="#ffaa00" stroke="#ffaa00" stroke-width=".6"/>
<path d="M1765,277.4L1786.7,231.8L1768.7,220.9L1747.2,264.6z" fill="none"/>
<path d="M1804.8,245.6L1806.2,242.1L1805,241.4z" fill="#ffaa00" stroke="#ffaa00" stroke-width=".6"/>
<path d="M1806.2,242.1L1823.7,201.7L1807.8,193.2L1805,241.4z" fill="#ff4000" stroke="#ff4000" stroke-width=".6"/>
<path d="M1823.7,201.7L1826.6,194.9L1808.4,181.8L1807.8,193.2z" fill="#e00000" stroke="#e00000" stroke-width=".6"/>
<path d="M1804.8,245.6L1805,241.4L1786.9,231.9z" fill="#ffaa00" stroke="#ffaa00" stroke-width=".6"/>
<path d="M1805,241.4L1807.8,193.2L1804.2,191.4L1786.7,231.8L1786.9,231.9z" fill="#ff4000" stroke="#ff4000" stroke-width=".6"/>
<path d="M1807.8,193.2L1808.4,181.8L1804.2,191.4z" fill="#e00000" stroke="#e00000" stroke-width=".6"/>
<path d="M1804.8,245.6L1826.6,194.9L1808.4,181.8L1786.7,231.8z" fill="none"/>
<path d="M1844.9,212.3L1845.3,211.2L1844.9,211z" fill="#ff4000" stroke="#ff4000" stroke-width=".6"/>
<path d="M1845.3,211.2L1861.1,171.3L1847.2,165.3L1844.9,211z" fill="#e00000" stroke="#e00000" stroke-width=".6"/>
<path d="M1861.1,171.3L1866.9,156.7L1848.6,138.8L1847.2,165.3z" fill="#b60000" stroke="#b60000" stroke-width=".6"/>
<path d="M1844.9,212.3L1844.9,211L1842.2,209.8z" fill="#ff4000" stroke="#ff4000" stroke-width=".6"/>
<path d="M1844.9,211L1847.2,165.3L1839.5,161.8L1826.6,194.9L1842.2,209.8z" fill="#e00000" stroke="#e00000" stroke-width=".6"/>
<path d="M1847.2,165.3L1848.6,138.8L1839.5,161.8z" fill="#b60000" stroke="#b60000" stroke-width=".6"/>
<path d="M1844.9,212.3L1866.9,156.7L1848.6,138.8L1826.6,194.9z" fill="none"/>
<path d="M1885.4,177.1L1898.4,140.7L1887.2,136.6z" fill="#b60000" stroke="#b60000" stroke-width=".6"/>
<path d="M1898.4,140.7L1907.7,114.8L1889.6,92.7L1889.2,92.6L1887.2,136.6z" fill="#960000" stroke="#960000" stroke-width=".6"/>
<path d="M1889.6,92.7L1889.2,92.3L1889.2,92.6z" fill="#840000" stroke="#840000" stroke-width=".6"/>
<path d="M1885.4,177.1L1887.2,136.6L1875.5,131.8L1866.9,156.7z" fill="#b60000" stroke="#b60000" stroke-width=".6"/>
<path d="M1887.2,136.6L1889.2,92.6L1889.1,92.5L1875.5,131.8z" fill="#960000" stroke="#960000" stroke-width=".6"/>
<path d="M1885.4,177.1L1907.7,114.8L1889.2,92.3L1866.9,156.7z" fill="none"/>
<path d="M1704.1,338.6L1725.6,304.8L1722.4,302.6L1707.9,294.3z" fill="#99ff00" stroke="#99ff00" stroke-width=".6"/>
<path d="M1722.4,302.6L1708,292.6L1707.9,294.3z" fill="#f0ff00" stroke="#f0ff00" stroke-width=".6"/>
<path d="M1704.1,338.6L1707.9,294.3L1707.2,293.9L1686.5,325.5z" fill="#99ff00" stroke="#99ff00" stroke-width=".6"/>
<path d="M1707.9,294.3L1708,292.6L1707.2,293.9z" fill="#f0ff00" stroke="#f0ff00" stroke-width=".6"/>
<path d="M1704.1,338.6L1725.6,304.8L1708,292.6L1686.5,325.5z" fill="none"/>
<path d="M1743.4,318.9L1745.5,314.8L1743.8,313.9z" fill="#99ff00" stroke="#99ff00" stroke-width=".6"/>
<path d="M1745.5,314.8L1765,277.4L1747.2,264.6L1743.8,313.9z" fill="#f0ff00" stroke="#f0ff00" stroke-width=".6"/>
<path d="M1743.4,318.9L1743.8,313.9L1725.8,304.5L1725.6,304.8z" fill="#99ff00" stroke="#99ff00" stroke-width=".6"/>
<path d="M1743.8,313.9L1747.2,264.6L1725.8,304.5z" fill="#f0ff00" stroke="#f0ff00" stroke-width=".6"/>
<path d="M1743.4,318.9L1765,277.4L1747.2,264.6L1725.6,304.8z" fill="none"/>
<path d="M1783,293.2L1787.7,282.9L1783.8,280.8z" fill="#f0ff00" stroke="#f0ff00" stroke-width=".6"/>
<path d="M1787.7,282.9L1804.8,245.6L1786.9,231.9L1786.7,231.8L1783.8,280.8z" fill="#ffaa00" stroke="#ffaa00" stroke-width=".6"/>
<path d="M1783,293.2L1783.8,280.8L1767.2,272.9L1765,277.4z" fill="#f0ff00" stroke="#f0ff00" stroke-width=".6"/>
<path d="M1783.8,280.8L1786.7,231.8L1786.7,231.8L1767.2,272.9z" fill="#ffaa00" stroke="#ffaa00" stroke-width=".6"/>
<path d="M1783,293.2L1804.8,245.6L1786.7,231.8L1765,277.4z" fill="none"/>
<path d="M1822.9,263.4L1828,251.6L1823.7,249.7z" fill="#ffaa00" stroke="#ffaa00" stroke-width=".6"/>
<path d="M1828,251.6L1844.9,212.3L1842.2,209.8L1826.2,202.8L1823.7,249.7z" fill="#ff4000" stroke="#ff4000" stroke-width=".6"/>
<path d="M1842.2,209.8L1826.6,194.9L1826.2,202.8z" fill="#e00000" stroke="#e00000" stroke-width=".6"/>
<path d="M1822.9,263.4L1823.7,249.7L1806.2,242.1L1804.8,245.6z" fill="#ffaa00" stroke="#ffaa00" stroke-width=".6"/>
<path d="M1823.7,249.7L1826.2,202.8L1823.7,201.7L1806.2,242.1z" fill="#ff4000" stroke="#ff4000" stroke-width=".6"/>
<path d="M1826.2,202.8L1826.6,194.9L1823.7,201.7z" fill="#e00000" stroke="#e00000" stroke-width=".6"/>
<path d="M1822.9,263.4L1844.9,212.3L1826.6,194.9L1804.8,245.6z" fill="none"/>
<path d="M1863.2,232.2L1867.9,220.4L1863.9,218.8z" fill="#ff4000" stroke="#ff4000" stroke-width=".6"/>
<path d="M1867.9,220.4L1884.1,180.3L1866.1,173.3L1863.9,218.8z" fill="#e00000" stroke="#e00000" stroke-width=".6"/>
<path d="M1884.1,180.3L1885.4,177.1L1866.9,156.7L1866.1,173.3z" fill="#b60000" stroke="#b60000" stroke-width=".6"/>
<path d="M1863.2,232.2L1863.9,218.8L1845.3,211.2L1844.9,212.3z" fill="#ff4000" stroke="#ff4000" stroke-width=".6"/>
<path d="M1863.9,218.8L1866.1,173.3L1861.1,171.3L1845.3,211.2z" fill="#e00000" stroke="#e00000" stroke-width=".6"/>
<path d="M1866.1,173.3L1866.9,156.7L1861.1,171.3z" fill="#b60000" stroke="#b60000" stroke-width=".6"/>
<path d="M1863.2,232.2L1885.4,177.1L1866.9,156.7L1844.9,212.3z" fill="none"/>
<path d="M1903.9,196.4L1906.4,189.6L1904.3,188.8z" fill="#e00000" stroke="#e00000" stroke-width=".6"/>
<path d="M1906.4,189.6L1921,149.9L1906.4,144.1L1904.3,188.8z" fill="#b60000" stroke="#b60000" stroke-width=".6"/>
<path d="M1921,149.9L1926.4,135.4L1907.7,114.8L1906.4,144.1z" fill="#960000" stroke="#960000" stroke-width=".6"/>
<path d="M1903.9,196.4L1904.3,188.8L1891.3,183.2z" fill="#e00000" stroke="#e00000" stroke-width=".6"/>
<path d="M1904.3,188.8L1906.4,144.1L1898.4,140.7L1885.4,177.1L1891.3,183.2z" fill="#b60000" stroke="#b60000" stroke-width=".6"/>
<path d="M1906.4,144.1L1907.7,114.8L1898.4,140.7z" fill="#960000" stroke="#960000" stroke-width=".6"/>
<path d="M1903.9,196.4L1926.4,135.4L1907.7,114.8L1885.4,177.1z" fill="none"/>
<path d="M1682.5,367.5L1695.5,350L1684.7,344.4z" fill="#00ee00" stroke="#00ee00" stroke-width=".6"/>
<path d="M1695.5,350L1704.1,338.6L1686.5,325.5L1684.7,344.4z" fill="#99ff00" stroke="#99ff00" stroke-width=".6"/>
<path d="M1682.5,367.5L1684.7,344.4L1675.8,339.7L1665,354.2z" fill="#00ee00" stroke="#00ee00" stroke-width=".6"/>
<path d="M1684.7,344.4L1686.5,325.5L1675.8,339.7z" fill="#99ff00" stroke="#99ff00" stroke-width=".6"/>
<path d="M1682.5,367.5L1704.1,338.6L1686.5,325.5L1665,354.2z" fill="none"/>
<path d="M1721.8,353.3L1743.4,318.9L1725.6,304.8L1704.1,338.6z" fill="#99ff00"/>
<path d="M1761.3,335.8L1767.1,324.5L1762.2,322.2z" fill="#99ff00" stroke="#99ff00" stroke-width=".6"/>
<path d="M1767.1,324.5L1783,293.2L1765,277.4L1762.2,322.2z" fill="#f0ff00" stroke="#f0ff00" stroke-width=".6"/>
<path d="M1761.3,335.8L1762.2,322.2L1745.5,314.8L1743.4,318.9z" fill="#99ff00" stroke="#99ff00" stroke-width=".6"/>
<path d="M1762.2,322.2L1765,277.4L1745.5,314.8z" fill="#f0ff00" stroke="#f0ff00" stroke-width=".6"/>
<path d="M1761.3,335.8L1783,293.2L1765,277.4L1743.4,318.9z" fill="none"/>
<path d="M1801.1,312.1L1810,292.3L1802.4,289z" fill="#f0ff00" stroke="#f0ff00" stroke-width=".6"/>
<path d="M1810,292.3L1822.9,263.4L1804.8,245.6L1802.4,289z" fill="#ffaa00" stroke="#ffaa00" stroke-width=".6"/>
<path d="M1801.1,312.1L1802.4,289L1787.7,282.9L1783,293.2z" fill="#f0ff00" stroke="#f0ff00" stroke-width=".6"/>
<path d="M1802.4,289L1804.8,245.6L1787.7,282.9z" fill="#ffaa00" stroke="#ffaa00" stroke-width=".6"/>
<path d="M1801.1,312.1L1822.9,263.4L1804.8,245.6L1783,293.2z" fill="none"/>
<path d="M1841.2,283.7L1851,260.7L1842.5,257.4z" fill="#ffaa00" stroke="#ffaa00" stroke-width=".6"/>
<path d="M1851,260.7L1863.2,232.2L1844.9,212.3L1842.5,257.4z" fill="#ff4000" stroke="#ff4000" stroke-width=".6"/>
<path d="M1841.2,283.7L1842.5,257.4L1828,251.6L1822.9,263.4z" fill="#ffaa00" stroke="#ffaa00" stroke-width=".6"/>
<path d="M1842.5,257.4L1844.9,212.3L1828,251.6z" fill="#ff4000" stroke="#ff4000" stroke-width=".6"/>
<path d="M1841.2,283.7L1863.2,232.2L1844.9,212.3L1822.9,263.4z" fill="none"/>
<path d="M1881.6,252L1890.6,229.7L1882.9,226.5z" fill="#ff4000" stroke="#ff4000" stroke-width=".6"/>
<path d="M1890.6,229.7L1903.9,196.4L1891.3,183.2L1885.2,180.7L1882.9,226.5z" fill="#e00000" stroke="#e00000" stroke-width=".6"/>
<path d="M1891.3,183.2L1885.4,177.1L1885.2,180.7z" fill="#b60000" stroke="#b60000" stroke-width=".6"/>
<path d="M1881.6,252L1882.9,226.5L1867.9,220.4L1863.2,232.2z" fill="#ff4000" stroke="#ff4000" stroke-width=".6"/>
<path d="M1882.9,226.5L1885.2,180.7L1884.1,180.3L1867.9,220.4z" fill="#e00000" stroke="#e00000" stroke-width=".6"/>
<path d="M1885.2,180.7L1885.4,177.1L1884.1,180.3z" fill="#b60000" stroke="#b60000" stroke-width=".6"/>
<path d="M1881.6,252L1903.9,196.4L1885.4,177.1L1863.2,232.2z" fill="none"/>
<path d="M1922.6,214.3L1928.1,199.4L1923.4,197.3z" fill="#e00000" stroke="#e00000" stroke-width=".6"/>
<path d="M1928.1,199.4L1942.8,159.6L1925.6,152L1923.4,197.3z" fill="#b60000" stroke="#b60000" stroke-width=".6"/>
<path d="M1942.8,159.6L1945.1,153.2L1926.4,135.4L1925.6,152z" fill="#960000" stroke="#960000" stroke-width=".6"/>
<path d="M1922.6,214.3L1923.4,197.3L1906.4,189.6L1903.9,196.4z" fill="#e00000" stroke="#e00000" stroke-width=".6"/>
<path d="M1923.4,197.3L1925.6,152L1921,149.9L1906.4,189.6z" fill="#b60000" stroke="#b60000" stroke-width=".6"/>
<path d="M1925.6,152L1926.4,135.4L1921,149.9z" fill="#960000" stroke="#960000" stroke-width=".6"/>
<path d="M1922.6,214.3L1945.1,153.2L1926.4,135.4L1903.9,196.4z" fill="none"/>
<path d="M1660.8,392.6L1682.5,367.5L1665,354.2L1643.3,379.5z" fill="#00ee00"/>
<path d="M1700.2,382.5L1717.1,359.7L1702.8,353.2z" fill="#00ee00" stroke="#00ee00" stroke-width=".6"/>
<path d="M1717.1,359.7L1721.8,353.3L1704.1,338.6L1702.8,353.2z" fill="#99ff00" stroke="#99ff00" stroke-width=".6"/>
<path d="M1700.2,382.5L1702.8,353.2L1695.5,350L1682.5,367.5z" fill="#00ee00" stroke="#00ee00" stroke-width=".6"/>
<path d="M1702.8,353.2L1704.1,338.6L1695.5,350z" fill="#99ff00" stroke="#99ff00" stroke-width=".6"/>
<path d="M1700.2,382.5L1721.8,353.3L1704.1,338.6L1682.5,367.5z" fill="none"/>
<path d="M1739.7,371L1741.3,368.2L1739.9,367.7z" fill="#00ee00" stroke="#00ee00" stroke-width=".6"/>
<path d="M1741.3,368.2L1761.3,335.8L1743.4,318.9L1739.9,367.7z" fill="#99ff00" stroke="#99ff00" stroke-width=".6"/>
<path d="M1739.7,371L1739.9,367.7L1734,365.4z" fill="#00ee00" stroke="#00ee00" stroke-width=".6"/>
<path d="M1739.9,367.7L1743.4,318.9L1721.8,353.3L1734,365.4z" fill="#99ff00" stroke="#99ff00" stroke-width=".6"/>
<path d="M1739.7,371L1761.3,335.8L1743.4,318.9L1721.8,353.3z" fill="none"/>
<path d="M1779.3,355.2L1790.3,333.5L1780.8,329.8z" fill="#99ff00" stroke="#99ff00" stroke-width=".6"/>
<path d="M1790.3,333.5L1801.1,312.1L1783,293.2L1780.8,329.8z" fill="#f0ff00" stroke="#f0ff00" stroke-width=".6"/>
<path d="M1779.3,355.2L1780.8,329.8L1767.1,324.5L1761.3,335.8z" fill="#99ff00" stroke="#99ff00" stroke-width=".6"/>
<path d="M1780.8,329.8L1783,293.2L1767.1,324.5z" fill="#f0ff00" stroke="#f0ff00" stroke-width=".6"/>
<path d="M1779.3,355.2L1801.1,312.1L1783,293.2L1761.3,335.8z" fill="none"/>
<path d="M1819.3,331.8L1833.1,301.4L1821.1,296.8z" fill="#f0ff00" stroke="#f0ff00" stroke-width=".6"/>
<path d="M1833.1,301.4L1841.2,283.7L1822.9,263.4L1821.1,296.8z" fill="#ffaa00" stroke="#ffaa00" stroke-width=".6"/>
<path d="M1819.3,331.8L1821.1,296.8L1810,292.3L1801.1,312.1z" fill="#f0ff00" stroke="#f0ff00" stroke-width=".6"/>
<path d="M1821.1,296.8L1822.9,263.4L1810,292.3z" fill="#ffaa00" stroke="#ffaa00" stroke-width=".6"/>
<path d="M1819.3,331.8L1841.2,283.7L1822.9,263.4L1801.1,312.1z" fill="none"/>
<path d="M1859.5,303.8L1874,270L1861.5,265z" fill="#ffaa00" stroke="#ffaa00" stroke-width=".6"/>
<path d="M1874,270L1881.6,252L1863.2,232.2L1861.5,265z" fill="#ff4000" stroke="#ff4000" stroke-width=".6"/>
<path d="M1859.5,303.8L1861.5,265L1851,260.7L1841.2,283.7z" fill="#ffaa00" stroke="#ffaa00" stroke-width=".6"/>
<path d="M1861.5,265L1863.2,232.2L1851,260.7z" fill="#ff4000" stroke="#ff4000" stroke-width=".6"/>
<path d="M1859.5,303.8L1881.6,252L1863.2,232.2L1841.2,283.7z" fill="none"/>
<path d="M1900.2,271L1912.7,239.3L1902,234.6z" fill="#ff4000" stroke="#ff4000" stroke-width=".6"/>
<path d="M1912.7,239.3L1922.6,214.3L1903.9,196.4L1902,234.6z" fill="#e00000" stroke="#e00000" stroke-width=".6"/>
<path d="M1900.2,271L1902,234.6L1890.6,229.7L1881.6,252z" fill="#ff4000" stroke="#ff4000" stroke-width=".6"/>
<path d="M1902,234.6L1903.9,196.4L1890.6,229.7z" fill="#e00000" stroke="#e00000" stroke-width=".6"/>
<path d="M1900.2,271L1922.6,214.3L1903.9,196.4L1881.6,252z" fill="none"/>
<path d="M1639,414.8L1652.5,401.1L1641.4,395.6z" fill="#00bb00" stroke="#00bb00" stroke-width=".6"/>
<path d="M1652.5,401.1L1660.8,392.6L1643.3,379.5L1641.4,395.6z" fill="#00ee00" stroke="#00ee00" stroke-width=".6"/>
<path d="M1639,414.8L1641.4,395.6L1631.6,391.1L1621.6,401.1z" fill="#00bb00" stroke="#00bb00" stroke-width=".6"/>
<path d="M1641.4,395.6L1643.3,379.5L1631.6,391.1z" fill="#00ee00" stroke="#00ee00" stroke-width=".6"/>
<path d="M1639,414.8L1660.8,392.6L1643.3,379.5L1621.6,401.1z" fill="none"/>
<path d="M1941.3,231.6L1949.6,209.3L1942.6,206.1z" fill="#e00000" stroke="#e00000" stroke-width=".6"/>
<path d="M1949.6,209.3L1964.1,170.1L1962.4,168.6L1944.8,160.5L1942.6,206.1z" fill="#b60000" stroke="#b60000" stroke-width=".6"/>
<path d="M1962.4,168.6L1945.1,153.2L1944.8,160.5z" fill="#960000" stroke="#960000" stroke-width=".6"/>
<path d="M1941.3,231.6L1942.6,206.1L1928.1,199.4L1922.6,214.3z" fill="#e00000" stroke="#e00000" stroke-width=".6"/>
<path d="M1942.6,206.1L1944.8,160.5L1942.8,159.6L1928.1,199.4z" fill="#b60000" stroke="#b60000" stroke-width=".6"/>
<path d="M1944.8,160.5L1945.1,153.2L1942.8,159.6z" fill="#960000" stroke="#960000" stroke-width=".6"/>
<path d="M1941.3,231.6L1964.1,170.1L1945.1,153.2L1922.6,214.3z" fill="none"/>
<path d="M1678.4,407.9L1700.2,382.5L1682.5,367.5L1660.8,392.6z" fill="#00ee00"/>
<path d="M1718,400.6L1739.7,371L1734,365.4L1721.2,361z" fill="#00ee00" stroke="#00ee00" stroke-width=".6"/>
<path d="M1734,365.4L1721.8,353.3L1721.2,361z" fill="#99ff00" stroke="#99ff00" stroke-width=".6"/>
<path d="M1718,400.6L1721.2,361L1717.1,359.7L1700.2,382.5z" fill="#00ee00" stroke="#00ee00" stroke-width=".6"/>
<path d="M1721.2,361L1721.8,353.3L1717.1,359.7z" fill="#99ff00" stroke="#99ff00" stroke-width=".6"/>
<path d="M1718,400.6L1739.7,371L1721.8,353.3L1700.2,382.5z" fill="none"/>
<path d="M1757.6,390.9L1766.3,376.6L1758.8,374z" fill="#00ee00" stroke="#00ee00" stroke-width=".6"/>
<path d="M1766.3,376.6L1779.3,355.2L1761.3,335.8L1758.8,374z" fill="#99ff00" stroke="#99ff00" stroke-width=".6"/>
<path d="M1757.6,390.9L1758.8,374L1741.3,368.2L1739.7,371z" fill="#00ee00" stroke="#00ee00" stroke-width=".6"/>
<path d="M1758.8,374L1761.3,335.8L1741.3,368.2z" fill="#99ff00" stroke="#99ff00" stroke-width=".6"/>
<path d="M1757.6,390.9L1779.3,355.2L1761.3,335.8L1739.7,371z" fill="none"/>
<path d="M1797.4,374.5L1813.8,342.6L1799.6,337.3z" fill="#99ff00" stroke="#99ff00" stroke-width=".6"/>
<path d="M1813.8,342.6L1819.3,331.8L1801.1,312.1L1799.6,337.3z" fill="#f0ff00" stroke="#f0ff00" stroke-width=".6"/>
<path d="M1797.4,374.5L1799.6,337.3L1790.3,333.5L1779.3,355.2z" fill="#99ff00" stroke="#99ff00" stroke-width=".6"/>
<path d="M1799.6,337.3L1801.1,312.1L1790.3,333.5z" fill="#f0ff00" stroke="#f0ff00" stroke-width=".6"/>
<path d="M1797.4,374.5L1819.3,331.8L1801.1,312.1L1779.3,355.2z" fill="none"/>
<path d="M1837.5,350.5L1856.3,310.6L1840,304.3z" fill="#f0ff00" stroke="#f0ff00" stroke-width=".6"/>
<path d="M1856.3,310.6L1859.5,303.8L1841.2,283.7L1840,304.3z" fill="#ffaa00" stroke="#ffaa00" stroke-width=".6"/>
<path d="M1837.5,350.5L1840,304.3L1833.1,301.4L1819.3,331.8z" fill="#f0ff00" stroke="#f0ff00" stroke-width=".6"/>
<path d="M1840,304.3L1841.2,283.7L1833.1,301.4z" fill="#ffaa00" stroke="#ffaa00" stroke-width=".6"/>
<path d="M1837.5,350.5L1859.5,303.8L1841.2,283.7L1819.3,331.8z" fill="none"/>
<path d="M1878,322.5L1879,320.1L1878.1,319.8z" fill="#f0ff00" stroke="#f0ff00" stroke-width=".6"/>
<path d="M1879,320.1L1896.5,279.5L1880.5,272.8L1878.1,319.8z" fill="#ffaa00" stroke="#ffaa00" stroke-width=".6"/>
<path d="M1896.5,279.5L1900.2,271L1881.6,252L1880.5,272.8z" fill="#ff4000" stroke="#ff4000" stroke-width=".6"/>
<path d="M1878,322.5L1878.1,319.8L1873.1,317.6z" fill="#f0ff00" stroke="#f0ff00" stroke-width=".6"/>
<path d="M1878.1,319.8L1880.5,272.8L1874,270L1859.5,303.8L1873.1,317.6z" fill="#ffaa00" stroke="#ffaa00" stroke-width=".6"/>
<path d="M1880.5,272.8L1881.6,252L1874,270z" fill="#ff4000" stroke="#ff4000" stroke-width=".6"/>
<path d="M1878,322.5L1900.2,271L1881.6,252L1859.5,303.8z" fill="none"/>
<path d="M1617.1,433.3L1639,414.8L1621.6,401.1L1599.7,418.7z" fill="#00bb00"/>
<path d="M1918.8,289L1934.4,249.3L1921.1,243.2z" fill="#ff4000" stroke="#ff4000" stroke-width=".6"/>
<path d="M1934.4,249.3L1941.3,231.6L1922.6,214.3L1921.1,243.2z" fill="#e00000" stroke="#e00000" stroke-width=".6"/>
<path d="M1918.8,289L1921.1,243.2L1912.7,239.3L1900.2,271z" fill="#ff4000" stroke="#ff4000" stroke-width=".6"/>
<path d="M1921.1,243.2L1922.6,214.3L1912.7,239.3z" fill="#e00000" stroke="#e00000" stroke-width=".6"/>
<path d="M1918.8,289L1941.3,231.6L1922.6,214.3L1900.2,271z" fill="none"/>
<path d="M1656.6,431L1676.7,409.7L1659.6,403.4z" fill="#00bb00" stroke="#00bb00" stroke-width=".6"/>
<path d="M1676.7,409.7L1678.4,407.9L1660.8,392.6L1659.6,403.4z" fill="#00ee00" stroke="#00ee00" stroke-width=".6"/>
<path d="M1656.6,431L1659.6,403.4L1652.5,401.1L1639,414.8z" fill="#00bb00" stroke="#00bb00" stroke-width=".6"/>
<path d="M1659.6,403.4L1660.8,392.6L1652.5,401.1z" fill="#00ee00" stroke="#00ee00" stroke-width=".6"/>
<path d="M1656.6,431L1678.4,407.9L1660.8,392.6L1639,414.8z" fill="none"/>
<path d="M1960.2,248.6L1971.2,219.4L1961.9,215.1z" fill="#e00000" stroke="#e00000" stroke-width=".6"/>
<path d="M1971.2,219.4L1983.1,187.5L1964.1,170.1L1961.9,215.1z" fill="#b60000" stroke="#b60000" stroke-width=".6"/>
<path d="M1960.2,248.6L1961.9,215.1L1949.6,209.3L1941.3,231.6z" fill="#e00000" stroke="#e00000" stroke-width=".6"/>
<path d="M1961.9,215.1L1964.1,170.1L1949.6,209.3z" fill="#b60000" stroke="#b60000" stroke-width=".6"/>
<path d="M1960.2,248.6L1983.1,187.5L1964.1,170.1L1941.3,231.6z" fill="none"/>
<path d="M1696.2,426.6L1704.3,416.9L1697.3,414.9z" fill="#00bb00" stroke="#00bb00" stroke-width=".6"/>
<path d="M1704.3,416.9L1718,400.6L1700.2,382.5L1697.3,414.9z" fill="#00ee00" stroke="#00ee00" stroke-width=".6"/>
<path d="M1696.2,426.6L1697.3,414.9L1681.1,410.6z" fill="#00bb00" stroke="#00bb00" stroke-width=".6"/>
<path d="M1697.3,414.9L1700.2,382.5L1678.4,407.9L1681.1,410.6z" fill="#00ee00" stroke="#00ee00" stroke-width=".6"/>
<path d="M1696.2,426.6L1718,400.6L1700.2,382.5L1678.4,407.9z" fill="none"/>
<path d="M1735.9,421.1L1757.6,390.9L1739.7,371L1718,400.6z" fill="#00ee00"/>
<path d="M1775.6,410.5L1791,385.2L1777.6,380.5z" fill="#00ee00" stroke="#00ee00" stroke-width=".6"/>
<path d="M1791,385.2L1797.4,374.5L1779.3,355.2L1777.6,380.5z" fill="#99ff00" stroke="#99ff00" stroke-width=".6"/>
<path d="M1775.6,410.5L1777.6,380.5L1766.3,376.6L1757.6,390.9z" fill="#00ee00" stroke="#00ee00" stroke-width=".6"/>
<path d="M1777.6,380.5L1779.3,355.2L1766.3,376.6z" fill="#99ff00" stroke="#99ff00" stroke-width=".6"/>
<path d="M1775.6,410.5L1797.4,374.5L1779.3,355.2L1757.6,390.9z" fill="none"/>
<path d="M1815.6,392.2L1836.8,351.9L1818.5,344.6z" fill="#99ff00" stroke="#99ff00" stroke-width=".6"/>
<path d="M1836.8,351.9L1837.5,350.5L1819.3,331.8L1818.5,344.6z" fill="#f0ff00" stroke="#f0ff00" stroke-width=".6"/>
<path d="M1815.6,392.2L1818.5,344.6L1813.8,342.6L1797.4,374.5z" fill="#99ff00" stroke="#99ff00" stroke-width=".6"/>
<path d="M1818.5,344.6L1819.3,331.8L1813.8,342.6z" fill="#f0ff00" stroke="#f0ff00" stroke-width=".6"/>
<path d="M1815.6,392.2L1837.5,350.5L1819.3,331.8L1797.4,374.5z" fill="none"/>
<path d="M1855.9,367.7L1858.8,361.8L1856.3,360.8z" fill="#99ff00" stroke="#99ff00" stroke-width=".6"/>
<path d="M1858.8,361.8L1878,322.5L1873.1,317.6L1859.1,311.8L1856.3,360.8z" fill="#f0ff00" stroke="#f0ff00" stroke-width=".6"/>
<path d="M1873.1,317.6L1859.5,303.8L1859.1,311.8z" fill="#ffaa00" stroke="#ffaa00" stroke-width=".6"/>
<path d="M1855.9,367.7L1856.3,360.8L1841.1,353.8z" fill="#99ff00" stroke="#99ff00" stroke-width=".6"/>
<path d="M1856.3,360.8L1859.1,311.8L1856.3,310.6L1837.5,350.5L1841.1,353.8z" fill="#f0ff00" stroke="#f0ff00" stroke-width=".6"/>
<path d="M1859.1,311.8L1859.5,303.8L1856.3,310.6z" fill="#ffaa00" stroke="#ffaa00" stroke-width=".6"/>
<path d="M1855.9,367.7L1878,322.5L1859.5,303.8L1837.5,350.5z" fill="none"/>
<path d="M1595,447.1L1617.1,433.3L1599.7,418.7L1577.6,431.5z" fill="#00bb00"/>
<path d="M1896.5,340.2L1900.9,330.1L1897.1,328.4z" fill="#f0ff00" stroke="#f0ff00" stroke-width=".6"/>
<path d="M1900.9,330.1L1918.7,289.3L1899.6,280.9L1897.1,328.4z" fill="#ffaa00" stroke="#ffaa00" stroke-width=".6"/>
<path d="M1918.7,289.3L1918.8,289L1900.2,271L1899.6,280.9z" fill="#ff4000" stroke="#ff4000" stroke-width=".6"/>
<path d="M1896.5,340.2L1897.1,328.4L1879,320.1L1878,322.5z" fill="#f0ff00" stroke="#f0ff00" stroke-width=".6"/>
<path d="M1897.1,328.4L1899.6,280.9L1896.5,279.5L1879,320.1z" fill="#ffaa00" stroke="#ffaa00" stroke-width=".6"/>
<path d="M1899.6,280.9L1900.2,271L1896.5,279.5z" fill="#ff4000" stroke="#ff4000" stroke-width=".6"/>
<path d="M1896.5,340.2L1918.8,289L1900.2,271L1878,322.5z" fill="none"/>
<path d="M1634.7,449.9L1656.6,431L1639,414.8L1617.1,433.3z" fill="#00bb00"/>
<path d="M1937.6,305.8L1940.1,299.6L1938,298.6z" fill="#ffaa00" stroke="#ffaa00" stroke-width=".6"/>
<path d="M1940.1,299.6L1956,259.4L1940.3,252.1L1938,298.6z" fill="#ff4000" stroke="#ff4000" stroke-width=".6"/>
<path d="M1956,259.4L1960.2,248.6L1941.3,231.6L1940.3,252.1z" fill="#e00000" stroke="#e00000" stroke-width=".6"/>
<path d="M1937.6,305.8L1938,298.6L1919.7,289.8z" fill="#ffaa00" stroke="#ffaa00" stroke-width=".6"/>
<path d="M1938,298.6L1940.3,252.1L1934.4,249.3L1918.8,289L1919.7,289.8z" fill="#ff4000" stroke="#ff4000" stroke-width=".6"/>
<path d="M1940.3,252.1L1941.3,231.6L1934.4,249.3z" fill="#e00000" stroke="#e00000" stroke-width=".6"/>
<path d="M1937.6,305.8L1960.2,248.6L1941.3,231.6L1918.8,289z" fill="none"/>
<path d="M1674.4,450.3L1696.2,426.6L1681.1,410.6L1678.2,410z" fill="#00bb00" stroke="#00bb00" stroke-width=".6"/>
<path d="M1681.1,410.6L1678.4,407.9L1678.2,410z" fill="#00ee00" stroke="#00ee00" stroke-width=".6"/>
<path d="M1674.4,450.3L1678.2,410L1676.7,409.7L1656.6,431z" fill="#00bb00" stroke="#00bb00" stroke-width=".6"/>
<path d="M1678.2,410L1678.4,407.9L1676.7,409.7z" fill="#00ee00" stroke="#00ee00" stroke-width=".6"/>
<path d="M1674.4,450.3L1696.2,426.6L1678.4,407.9L1656.6,431z" fill="none"/>
<path d="M1979.3,265.5L1992.8,229.5L1981.3,224.2z" fill="#e00000" stroke="#e00000" stroke-width=".6"/>
<path d="M1992.8,229.5L2002.2,204.6L1983.1,187.5L1981.3,224.2z" fill="#b60000" stroke="#b60000" stroke-width=".6"/>
<path d="M1979.3,265.5L1981.3,224.2L1971.2,219.4L1960.2,248.6z" fill="#e00000" stroke="#e00000" stroke-width=".6"/>
<path d="M1981.3,224.2L1983.1,187.5L1971.2,219.4z" fill="#b60000" stroke="#b60000" stroke-width=".6"/>
<path d="M1979.3,265.5L2002.2,204.6L1983.1,187.5L1960.2,248.6z" fill="none"/>
<path d="M1714.1,448L1734.2,423.2L1716.4,419.2z" fill="#00bb00" stroke="#00bb00" stroke-width=".6"/>
<path d="M1734.2,423.2L1735.9,421.1L1718,400.6L1716.4,419.2z" fill="#00ee00" stroke="#00ee00" stroke-width=".6"/>
<path d="M1714.1,448L1716.4,419.2L1704.3,416.9L1696.2,426.6z" fill="#00bb00" stroke="#00bb00" stroke-width=".6"/>
<path d="M1716.4,419.2L1718,400.6L1704.3,416.9z" fill="#00ee00" stroke="#00ee00" stroke-width=".6"/>
<path d="M1714.1,448L1735.9,421.1L1718,400.6L1696.2,426.6z" fill="none"/>
<path d="M1753.9,441.3L1761.3,430.8L1754.8,428.9z" fill="#00bb00" stroke="#00bb00" stroke-width=".6"/>
<path d="M1761.3,430.8L1775.6,410.5L1757.6,390.9L1754.8,428.9z" fill="#00ee00" stroke="#00ee00" stroke-width=".6"/>
<path d="M1753.9,441.3L1754.8,428.9L1738.7,424.3z" fill="#00bb00" stroke="#00bb00" stroke-width=".6"/>
<path d="M1754.8,428.9L1757.6,390.9L1735.9,421.1L1738.7,424.3z" fill="#00ee00" stroke="#00ee00" stroke-width=".6"/>
<path d="M1753.9,441.3L1775.6,410.5L1757.6,390.9L1735.9,421.1z" fill="none"/>
<path d="M1793.8,428.4L1814.2,394.5L1796.6,387.4z" fill="#00ee00" stroke="#00ee00" stroke-width=".6"/>
<path d="M1814.2,394.5L1815.6,392.2L1797.4,374.5L1796.6,387.4z" fill="#99ff00" stroke="#99ff00" stroke-width=".6"/>
<path d="M1793.8,428.4L1796.6,387.4L1791,385.2L1775.6,410.5z" fill="#00ee00" stroke="#00ee00" stroke-width=".6"/>
<path d="M1796.6,387.4L1797.4,374.5L1791,385.2z" fill="#99ff00" stroke="#99ff00" stroke-width=".6"/>
<path d="M1793.8,428.4L1815.6,392.2L1797.4,374.5L1775.6,410.5z" fill="none"/>
<path d="M1833.9,408.3L1835.9,404.6L1834.2,403.9z" fill="#00ee00" stroke="#00ee00" stroke-width=".6"/>
<path d="M1835.9,404.6L1855.9,367.7L1841.1,353.8L1837.4,352.3L1834.2,403.9z" fill="#99ff00" stroke="#99ff00" stroke-width=".6"/>
<path d="M1841.1,353.8L1837.5,350.5L1837.4,352.3z" fill="#f0ff00" stroke="#f0ff00" stroke-width=".6"/>
<path d="M1833.9,408.3L1834.2,403.9L1822.7,398.4z" fill="#00ee00" stroke="#00ee00" stroke-width=".6"/>
<path d="M1834.2,403.9L1837.4,352.3L1836.8,351.9L1815.6,392.2L1822.7,398.4z" fill="#99ff00" stroke="#99ff00" stroke-width=".6"/>
<path d="M1837.4,352.3L1837.5,350.5L1836.8,351.9z" fill="#f0ff00" stroke="#f0ff00" stroke-width=".6"/>
<path d="M1833.9,408.3L1855.9,367.7L1837.5,350.5L1815.6,392.2z" fill="none"/>
<path d="M1572.7,456.4L1595,447.1L1577.6,431.5L1555.3,440.4z" fill="#00bb00"/>
<path d="M1874.4,384.7L1880.8,371.8L1875.3,369.5z" fill="#99ff00" stroke="#99ff00" stroke-width=".6"/>
<path d="M1880.8,371.8L1896.5,340.2L1878,322.5L1875.3,369.5z" fill="#f0ff00" stroke="#f0ff00" stroke-width=".6"/>
<path d="M1874.4,384.7L1875.3,369.5L1858.8,361.8L1855.9,367.7z" fill="#99ff00" stroke="#99ff00" stroke-width=".6"/>
<path d="M1875.3,369.5L1878,322.5L1858.8,361.8z" fill="#f0ff00" stroke="#f0ff00" stroke-width=".6"/>
<path d="M1874.4,384.7L1896.5,340.2L1878,322.5L1855.9,367.7z" fill="none"/>
<path d="M1612.6,463.9L1634.7,449.9L1617.1,433.3L1595,447.1z" fill="#00bb00"/>
<path d="M1915.2,357.3L1922.6,340.3L1916.3,337.3z" fill="#f0ff00" stroke="#f0ff00" stroke-width=".6"/>
<path d="M1922.6,340.3L1937.6,305.8L1919.7,289.8L1918.8,289.4L1916.3,337.3z" fill="#ffaa00" stroke="#ffaa00" stroke-width=".6"/>
<path d="M1919.7,289.8L1918.8,289L1918.8,289.4z" fill="#ff4000" stroke="#ff4000" stroke-width=".6"/>
<path d="M1915.2,357.3L1916.3,337.3L1900.9,330.1L1896.5,340.2z" fill="#f0ff00" stroke="#f0ff00" stroke-width=".6"/>
<path d="M1916.3,337.3L1918.8,289.4L1918.7,289.3L1900.9,330.1z" fill="#ffaa00" stroke="#ffaa00" stroke-width=".6"/>
<path d="M1915.2,357.3L1937.6,305.8L1918.8,289L1896.5,340.2z" fill="none"/>
<path d="M1652.4,468.9L1674.4,450.3L1656.6,431L1634.7,449.9z" fill="#00bb00"/>
<path d="M1956.5,322L1961.4,310L1957.2,308.1z" fill="#ffaa00" stroke="#ffaa00" stroke-width=".6"/>
<path d="M1961.4,310L1977.6,269.6L1959.6,261.2L1957.2,308.1z" fill="#ff4000" stroke="#ff4000" stroke-width=".6"/>
<path d="M1977.6,269.6L1979.3,265.5L1960.2,248.6L1959.6,261.2z" fill="#e00000" stroke="#e00000" stroke-width=".6"/>
<path d="M1956.5,322L1957.2,308.1L1940.1,299.6L1937.6,305.8z" fill="#ffaa00" stroke="#ffaa00" stroke-width=".6"/>
<path d="M1957.2,308.1L1959.6,261.2L1956,259.4L1940.1,299.6z" fill="#ff4000" stroke="#ff4000" stroke-width=".6"/>
<path d="M1959.6,261.2L1960.2,248.6L1956,259.4z" fill="#e00000" stroke="#e00000" stroke-width=".6"/>
<path d="M1956.5,322L1979.3,265.5L1960.2,248.6L1937.6,305.8z" fill="none"/>
<path d="M1692.2,471.7L1714.1,448L1696.2,426.6L1674.4,450.3z" fill="#00bb00"/>
<path d="M1998.4,282.7L1999.5,279.9L1998.5,279.4z" fill="#ff4000" stroke="#ff4000" stroke-width=".6"/>
<path d="M1999.5,279.9L2014.7,239.7L2000.8,233.3L1998.5,279.4z" fill="#e00000" stroke="#e00000" stroke-width=".6"/>
<path d="M2014.7,239.7L2021.4,221.9L2002.2,204.6L2000.8,233.3z" fill="#b60000" stroke="#b60000" stroke-width=".6"/>
<path d="M1998.4,282.7L1998.5,279.4L1990.6,275.7z" fill="#ff4000" stroke="#ff4000" stroke-width=".6"/>
<path d="M1998.5,279.4L2000.8,233.3L1992.8,229.5L1979.3,265.5L1990.6,275.7z" fill="#e00000" stroke="#e00000" stroke-width=".6"/>
<path d="M2000.8,233.3L2002.2,204.6L1992.8,229.5z" fill="#b60000" stroke="#b60000" stroke-width=".6"/>
<path d="M1998.4,282.7L2021.4,221.9L2002.2,204.6L1979.3,265.5z" fill="none"/>
<path d="M1732,468.3L1753.9,441.3L1738.7,424.3L1735.7,423.6z" fill="#00bb00" stroke="#00bb00" stroke-width=".6"/>
<path d="M1738.7,424.3L1735.9,421.1L1735.7,423.6z" fill="#00ee00" stroke="#00ee00" stroke-width=".6"/>
<path d="M1732,468.3L1735.7,423.6L1734.2,423.2L1714.1,448z" fill="#00bb00" stroke="#00bb00" stroke-width=".6"/>
<path d="M1735.7,423.6L1735.9,421.1L1734.2,423.2z" fill="#00ee00" stroke="#00ee00" stroke-width=".6"/>
<path d="M1732,468.3L1753.9,441.3L1735.9,421.1L1714.1,448z" fill="none"/>
<path d="M1771.9,459.5L1785.9,439.6L1773.8,435.3z" fill="#00bb00" stroke="#00bb00" stroke-width=".6"/>
<path d="M1785.9,439.6L1793.8,428.4L1775.6,410.5L1773.8,435.3z" fill="#00ee00" stroke="#00ee00" stroke-width=".6"/>
<path d="M1771.9,459.5L1773.8,435.3L1761.3,430.8L1753.9,441.3z" fill="#00bb00" stroke="#00bb00" stroke-width=".6"/>
<path d="M1773.8,435.3L1775.6,410.5L1761.3,430.8z" fill="#00ee00" stroke="#00ee00" stroke-width=".6"/>
<path d="M1771.9,459.5L1793.8,428.4L1775.6,410.5L1753.9,441.3z" fill="none"/>
<path d="M1812,444.8L1833.9,408.3L1822.7,398.4L1815.4,395.1z" fill="#00ee00" stroke="#00ee00" stroke-width=".6"/>
<path d="M1822.7,398.4L1815.6,392.2L1815.4,395.1z" fill="#99ff00" stroke="#99ff00" stroke-width=".6"/>
<path d="M1812,444.8L1815.4,395.1L1814.2,394.5L1793.8,428.4z" fill="#00ee00" stroke="#00ee00" stroke-width=".6"/>
<path d="M1815.4,395.1L1815.6,392.2L1814.2,394.5z" fill="#99ff00" stroke="#99ff00" stroke-width=".6"/>
<path d="M1812,444.8L1833.9,408.3L1815.6,392.2L1793.8,428.4z" fill="none"/>
<path d="M1550.1,461.4L1572.7,456.4L1555.3,440.4L1532.7,445.4z" fill="#00bb00"/>
<path d="M1852.4,424.4L1857.7,414.9L1853.1,412.9z" fill="#00ee00" stroke="#00ee00" stroke-width=".6"/>
<path d="M1857.7,414.9L1874.4,384.7L1855.9,367.7L1853.1,412.9z" fill="#99ff00" stroke="#99ff00" stroke-width=".6"/>
<path d="M1852.4,424.4L1853.1,412.9L1835.9,404.6L1833.9,408.3z" fill="#00ee00" stroke="#00ee00" stroke-width=".6"/>
<path d="M1853.1,412.9L1855.9,367.7L1835.9,404.6z" fill="#99ff00" stroke="#99ff00" stroke-width=".6"/>
<path d="M1852.4,424.4L1874.4,384.7L1855.9,367.7L1833.9,408.3z" fill="none"/>
<path d="M1590.2,473.5L1612.6,463.9L1595,447.1L1572.7,456.4z" fill="#00bb00"/>
<path d="M1893,401.9L1902.9,381.9L1894.4,378.1z" fill="#99ff00" stroke="#99ff00" stroke-width=".6"/>
<path d="M1902.9,381.9L1915.2,357.3L1896.5,340.2L1894.4,378.1z" fill="#f0ff00" stroke="#f0ff00" stroke-width=".6"/>
<path d="M1893,401.9L1894.4,378.1L1880.8,371.8L1874.4,384.7z" fill="#99ff00" stroke="#99ff00" stroke-width=".6"/>
<path d="M1894.4,378.1L1896.5,340.2L1880.8,371.8z" fill="#f0ff00" stroke="#f0ff00" stroke-width=".6"/>
<path d="M1893,401.9L1915.2,357.3L1896.5,340.2L1874.4,384.7z" fill="none"/>
<path d="M1630.3,482.5L1632.4,481.2L1630.4,481.4z" fill="#009020" stroke="#009020" stroke-width=".6"/>
<path d="M1632.4,481.2L1652.4,468.9L1634.7,449.9L1630.4,481.4z" fill="#00bb00" stroke="#00bb00" stroke-width=".6"/>
<path d="M1630.3,482.5L1630.4,481.4L1629.3,481.5z" fill="#009020" stroke="#009020" stroke-width=".6"/>
<path d="M1630.4,481.4L1634.7,449.9L1612.6,463.9L1629.3,481.5z" fill="#00bb00" stroke="#00bb00" stroke-width=".6"/>
<path d="M1630.3,482.5L1652.4,468.9L1634.7,449.9L1612.6,463.9z" fill="none"/>
<path d="M1934,374L1944.1,350.7L1935.5,346.6z" fill="#f0ff00" stroke="#f0ff00" stroke-width=".6"/>
<path d="M1944.1,350.7L1956.5,322L1937.6,305.8L1935.5,346.6z" fill="#ffaa00" stroke="#ffaa00" stroke-width=".6"/>
<path d="M1934,374L1935.5,346.6L1922.6,340.3L1915.2,357.3z" fill="#f0ff00" stroke="#f0ff00" stroke-width=".6"/>
<path d="M1935.5,346.6L1937.6,305.8L1922.6,340.3z" fill="#ffaa00" stroke="#ffaa00" stroke-width=".6"/>
<path d="M1934,374L1956.5,322L1937.6,305.8L1915.2,357.3z" fill="none"/>
<path d="M1670.2,489.4L1685,477.5L1671.5,477.6z" fill="#009020" stroke="#009020" stroke-width=".6"/>
<path d="M1685,477.5L1692.2,471.7L1674.4,450.3L1671.5,477.6z" fill="#00bb00" stroke="#00bb00" stroke-width=".6"/>
<path d="M1670.2,489.4L1671.5,477.6L1659.4,476.9z" fill="#009020" stroke="#009020" stroke-width=".6"/>
<path d="M1671.5,477.6L1674.4,450.3L1652.4,468.9L1659.4,476.9z" fill="#00bb00" stroke="#00bb00" stroke-width=".6"/>
<path d="M1670.2,489.4L1692.2,471.7L1674.4,450.3L1652.4,468.9z" fill="none"/>
<path d="M1975.6,338.8L1983,320.4L1976.6,317.4z" fill="#ffaa00" stroke="#ffaa00" stroke-width=".6"/>
<path d="M1983,320.4L1998.4,282.7L1990.6,275.7L1979,270.3L1976.6,317.4z" fill="#ff4000" stroke="#ff4000" stroke-width=".6"/>
<path d="M1990.6,275.7L1979.3,265.5L1979,270.3z" fill="#e00000" stroke="#e00000" stroke-width=".6"/>
<path d="M1975.6,338.8L1976.6,317.4L1961.4,310L1956.5,322z" fill="#ffaa00" stroke="#ffaa00" stroke-width=".6"/>
<path d="M1976.6,317.4L1979,270.3L1977.6,269.6L1961.4,310z" fill="#ff4000" stroke="#ff4000" stroke-width=".6"/>
<path d="M1979,270.3L1979.3,265.5L1977.6,269.6z" fill="#e00000" stroke="#e00000" stroke-width=".6"/>
<path d="M1975.6,338.8L1998.4,282.7L1979.3,265.5L1956.5,322z" fill="none"/>
<path d="M1710.1,491.3L1718.8,482.2L1711.1,480.9z" fill="#009020" stroke="#009020" stroke-width=".6"/>
<path d="M1718.8,482.2L1732,468.3L1714.1,448L1711.1,480.9z" fill="#00bb00" stroke="#00bb00" stroke-width=".6"/>
<path d="M1710.1,491.3L1711.1,480.9L1698.2,478.2z" fill="#009020" stroke="#009020" stroke-width=".6"/>
<path d="M1711.1,480.9L1714.1,448L1692.2,471.7L1698.2,478.2z" fill="#00bb00" stroke="#00bb00" stroke-width=".6"/>
<path d="M1710.1,491.3L1732,468.3L1714.1,448L1692.2,471.7z" fill="none"/>
<path d="M2017.6,299.7L2021.2,290.3L2018.2,288.9z" fill="#ff4000" stroke="#ff4000" stroke-width=".6"/>
<path d="M2021.2,290.3L2036.4,250.1L2020.4,242.4L2018.2,288.9z" fill="#e00000" stroke="#e00000" stroke-width=".6"/>
<path d="M2036.4,250.1L2040.8,238.5L2021.4,221.9L2020.4,242.4z" fill="#b60000" stroke="#b60000" stroke-width=".6"/>
<path d="M2017.6,299.7L2018.2,288.9L1999.5,279.9L1998.4,282.7z" fill="#ff4000" stroke="#ff4000" stroke-width=".6"/>
<path d="M2018.2,288.9L2020.4,242.4L2014.7,239.7L1999.5,279.9z" fill="#e00000" stroke="#e00000" stroke-width=".6"/>
<path d="M2020.4,242.4L2021.4,221.9L2014.7,239.7z" fill="#b60000" stroke="#b60000" stroke-width=".6"/>
<path d="M2017.6,299.7L2040.8,238.5L2021.4,221.9L1998.4,282.7z" fill="none"/>
<path d="M1750.1,486.4L1771.9,459.5L1753.9,441.3L1732,468.3z" fill="#00bb00"/>
<path d="M1790.1,475.9L1808.9,449.3L1792.7,442.5z" fill="#00bb00" stroke="#00bb00" stroke-width=".6"/>
<path d="M1808.9,449.3L1812,444.8L1793.8,428.4L1792.7,442.5z" fill="#00ee00" stroke="#00ee00" stroke-width=".6"/>
<path d="M1790.1,475.9L1792.7,442.5L1785.9,439.6L1771.9,459.5z" fill="#00bb00" stroke="#00bb00" stroke-width=".6"/>
<path d="M1792.7,442.5L1793.8,428.4L1785.9,439.6z" fill="#00ee00" stroke="#00ee00" stroke-width=".6"/>
<path d="M1790.1,475.9L1812,444.8L1793.8,428.4L1771.9,459.5z" fill="none"/>
<path d="M1527.2,462.3L1550.1,461.4L1532.7,445.4L1509.8,447z" fill="#00bb00"/>
<path d="M1830.4,460.6L1831.1,459.4L1830.5,459.1z" fill="#00bb00" stroke="#00bb00" stroke-width=".6"/>
<path d="M1831.1,459.4L1852.4,424.4L1833.9,408.3L1830.5,459.1z" fill="#00ee00" stroke="#00ee00" stroke-width=".6"/>
<path d="M1830.4,460.6L1830.5,459.1L1826.3,457.1z" fill="#00bb00" stroke="#00bb00" stroke-width=".6"/>
<path d="M1830.5,459.1L1833.9,408.3L1812,444.8L1826.3,457.1z" fill="#00ee00" stroke="#00ee00" stroke-width=".6"/>
<path d="M1830.4,460.6L1852.4,424.4L1833.9,408.3L1812,444.8z" fill="none"/>
<path d="M1567.7,478.7L1590.2,473.5L1572.7,456.4L1550.1,461.4z" fill="#00bb00"/>
<path d="M1870.9,441.3L1880.1,424.9L1872.1,421.4z" fill="#00ee00" stroke="#00ee00" stroke-width=".6"/>
<path d="M1880.1,424.9L1893,401.9L1874.4,384.7L1872.1,421.4z" fill="#99ff00" stroke="#99ff00" stroke-width=".6"/>
<path d="M1870.9,441.3L1872.1,421.4L1857.7,414.9L1852.4,424.4z" fill="#00ee00" stroke="#00ee00" stroke-width=".6"/>
<path d="M1872.1,421.4L1874.4,384.7L1857.7,414.9z" fill="#99ff00" stroke="#99ff00" stroke-width=".6"/>
<path d="M1870.9,441.3L1893,401.9L1874.4,384.7L1852.4,424.4z" fill="none"/>
<path d="M1607.9,492.1L1630.3,482.5L1629.3,481.5L1608,491.8z" fill="#009020" stroke="#009020" stroke-width=".6"/>
<path d="M1629.3,481.5L1612.6,463.9L1608,491.8z" fill="#00bb00" stroke="#00bb00" stroke-width=".6"/>
<path d="M1608,491.8L1612.6,463.9L1590.2,473.5L1607.7,491.9z" fill="#00bb00" stroke="#00bb00" stroke-width=".6"/>
<path d="M1607.9,492.1L1630.3,482.5L1612.6,463.9L1590.2,473.5z" fill="none"/>
<path d="M1911.7,419.1L1925,392.2L1913.5,386.8z" fill="#99ff00" stroke="#99ff00" stroke-width=".6"/>
<path d="M1925,392.2L1934,374L1915.2,357.3L1913.5,386.8z" fill="#f0ff00" stroke="#f0ff00" stroke-width=".6"/>
<path d="M1911.7,419.1L1913.5,386.8L1902.9,381.9L1893,401.9z" fill="#99ff00" stroke="#99ff00" stroke-width=".6"/>
<path d="M1913.5,386.8L1915.2,357.3L1902.9,381.9z" fill="#f0ff00" stroke="#f0ff00" stroke-width=".6"/>
<path d="M1911.7,419.1L1934,374L1915.2,357.3L1893,401.9z" fill="none"/>
<path d="M1648.1,502.5L1670.2,489.4L1659.4,476.9L1651.2,478.4z" fill="#009020" stroke="#009020" stroke-width=".6"/>
<path d="M1659.4,476.9L1652.4,468.9L1651.2,478.4z" fill="#00bb00" stroke="#00bb00" stroke-width=".6"/>
<path d="M1648.1,502.5L1651.2,478.4L1632.4,481.2L1630.3,482.5z" fill="#009020" stroke="#009020" stroke-width=".6"/>
<path d="M1651.2,478.4L1652.4,468.9L1632.4,481.2z" fill="#00bb00" stroke="#00bb00" stroke-width=".6"/>
<path d="M1648.1,502.5L1670.2,489.4L1652.4,468.9L1630.3,482.5z" fill="none"/>
<path d="M1952.9,390.4L1965.7,361.2L1954.7,356z" fill="#f0ff00" stroke="#f0ff00" stroke-width=".6"/>
<path d="M1965.7,361.2L1975.6,338.8L1956.5,322L1954.7,356z" fill="#ffaa00" stroke="#ffaa00" stroke-width=".6"/>
<path d="M1952.9,390.4L1954.7,356L1944.1,350.7L1934,374z" fill="#f0ff00" stroke="#f0ff00" stroke-width=".6"/>
<path d="M1954.7,356L1956.5,322L1944.1,350.7z" fill="#ffaa00" stroke="#ffaa00" stroke-width=".6"/>
<path d="M1952.9,390.4L1975.6,338.8L1956.5,322L1934,374z" fill="none"/>
<path d="M1688.1,509L1710.1,491.3L1698.2,478.2L1691.5,477.9z" fill="#009020" stroke="#009020" stroke-width=".6"/>
<path d="M1698.2,478.2L1692.2,471.7L1691.5,477.9z" fill="#00bb00" stroke="#00bb00" stroke-width=".6"/>
<path d="M1688.1,509L1691.5,477.9L1685,477.5L1670.2,489.4z" fill="#009020" stroke="#009020" stroke-width=".6"/>
<path d="M1691.5,477.9L1692.2,471.7L1685,477.5z" fill="#00bb00" stroke="#00bb00" stroke-width=".6"/>
<path d="M1688.1,509L1710.1,491.3L1692.2,471.7L1670.2,489.4z" fill="none"/>
<path d="M1994.7,355.5L2004.8,330.9L1996.1,326.8z" fill="#ffaa00" stroke="#ffaa00" stroke-width=".6"/>
<path d="M2004.8,330.9L2017.6,299.7L1998.4,282.7L1996.1,326.8z" fill="#ff4000" stroke="#ff4000" stroke-width=".6"/>
<path d="M1994.7,355.5L1996.1,326.8L1983,320.4L1975.6,338.8z" fill="#ffaa00" stroke="#ffaa00" stroke-width=".6"/>
<path d="M1996.1,326.8L1998.4,282.7L1983,320.4z" fill="#ff4000" stroke="#ff4000" stroke-width=".6"/>
<path d="M1994.7,355.5L2017.6,299.7L1998.4,282.7L1975.6,338.8z" fill="none"/>
<path d="M1728.1,509.1L1747.1,489.5L1730.4,485.4z" fill="#009020" stroke="#009020" stroke-width=".6"/>
<path d="M1747.1,489.5L1750.1,486.4L1732,468.3L1730.4,485.4z" fill="#00bb00" stroke="#00bb00" stroke-width=".6"/>
<path d="M1728.1,509.1L1730.4,485.4L1718.8,482.2L1710.1,491.3z" fill="#009020" stroke="#009020" stroke-width=".6"/>
<path d="M1730.4,485.4L1732,468.3L1718.8,482.2z" fill="#00bb00" stroke="#00bb00" stroke-width=".6"/>
<path d="M1728.1,509.1L1750.1,486.4L1732,468.3L1710.1,491.3z" fill="none"/>
<path d="M2037,316.3L2042.8,300.9L2037.9,298.5z" fill="#ff4000" stroke="#ff4000" stroke-width=".6"/>
<path d="M2042.8,300.9L2058.1,260.6L2040.2,251.9L2037.9,298.5z" fill="#e00000" stroke="#e00000" stroke-width=".6"/>
<path d="M2058.1,260.6L2060.3,254.6L2040.8,238.5L2040.2,251.9z" fill="#b60000" stroke="#b60000" stroke-width=".6"/>
<path d="M2037,316.3L2037.9,298.5L2021.2,290.3L2017.6,299.7z" fill="#ff4000" stroke="#ff4000" stroke-width=".6"/>
<path d="M2037.9,298.5L2040.2,251.9L2036.4,250.1L2021.2,290.3z" fill="#e00000" stroke="#e00000" stroke-width=".6"/>
<path d="M2040.2,251.9L2040.8,238.5L2036.4,250.1z" fill="#b60000" stroke="#b60000" stroke-width=".6"/>
<path d="M2037,316.3L2060.3,254.6L2040.8,238.5L2017.6,299.7z" fill="none"/>
<path d="M1768.2,502.7L1771.6,498.6L1768.7,497.4z" fill="#009020" stroke="#009020" stroke-width=".6"/>
<path d="M1771.6,498.6L1790.1,475.9L1771.9,459.5L1768.7,497.4z" fill="#00bb00" stroke="#00bb00" stroke-width=".6"/>
<path d="M1768.2,502.7L1768.7,497.4L1757.4,493z" fill="#009020" stroke="#009020" stroke-width=".6"/>
<path d="M1768.7,497.4L1771.9,459.5L1750.1,486.4L1757.4,493z" fill="#00bb00" stroke="#00bb00" stroke-width=".6"/>
<path d="M1768.2,502.7L1790.1,475.9L1771.9,459.5L1750.1,486.4z" fill="none"/>
<path d="M1515,460.7L1527.2,462.3L1509.8,447L1507.8,451.4z" fill="#00bb00" stroke="#00bb00" stroke-width=".6"/>
<path d="M1504,459.4L1515,460.7L1507.8,451.4z" fill="#00ee00" stroke="#00ee00" stroke-width=".6"/>
<path d="M1507.8,451.4L1509.8,447L1503.3,446.5z" fill="#00bb00" stroke="#00bb00" stroke-width=".6"/>
<path d="M1504,459.4L1507.8,451.4L1503.3,446.5L1486.7,445z" fill="#00ee00" stroke="#00ee00" stroke-width=".6"/>
<path d="M1504,459.4L1527.2,462.3L1509.8,447L1486.7,445z" fill="none"/>
<path d="M1808.4,491.6L1830.4,460.6L1826.3,457.1L1811.6,450.6z" fill="#00bb00" stroke="#00bb00" stroke-width=".6"/>
<path d="M1826.3,457.1L1812,444.8L1811.6,450.6z" fill="#00ee00" stroke="#00ee00" stroke-width=".6"/>
<path d="M1808.4,491.6L1811.6,450.6L1808.9,449.3L1790.1,475.9z" fill="#00bb00" stroke="#00bb00" stroke-width=".6"/>
<path d="M1811.6,450.6L1812,444.8L1808.9,449.3z" fill="#00ee00" stroke="#00ee00" stroke-width=".6"/>
<path d="M1808.4,491.6L1830.4,460.6L1812,444.8L1790.1,475.9z" fill="none"/>
<path d="M1544.8,479.3L1567.7,478.7L1550.1,461.4L1527.2,462.3z" fill="#00bb00"/>
<path d="M1848.8,476.9L1853.3,469.6L1849.4,467.9z" fill="#00bb00" stroke="#00bb00" stroke-width=".6"/>
<path d="M1853.3,469.6L1870.9,441.3L1852.4,424.4L1849.4,467.9z" fill="#00ee00" stroke="#00ee00" stroke-width=".6"/>
<path d="M1848.8,476.9L1849.4,467.9L1831.1,459.4L1830.4,460.6z" fill="#00bb00" stroke="#00bb00" stroke-width=".6"/>
<path d="M1849.4,467.9L1852.4,424.4L1831.1,459.4z" fill="#00ee00" stroke="#00ee00" stroke-width=".6"/>
<path d="M1848.8,476.9L1870.9,441.3L1852.4,424.4L1830.4,460.6z" fill="none"/>
<path d="M1585.3,497.8L1607.9,492.1L1590.2,473.5L1567.7,478.7z" fill="#00bb00"/>
<path d="M1889.5,459.1L1902.9,434.9L1891.3,429.8z" fill="#00ee00" stroke="#00ee00" stroke-width=".6"/>
<path d="M1902.9,434.9L1911.7,419.1L1893,401.9L1891.3,429.8z" fill="#99ff00" stroke="#99ff00" stroke-width=".6"/>
<path d="M1889.5,459.1L1891.3,429.8L1880.1,424.9L1870.9,441.3z" fill="#00ee00" stroke="#00ee00" stroke-width=".6"/>
<path d="M1891.3,429.8L1893,401.9L1880.1,424.9z" fill="#99ff00" stroke="#99ff00" stroke-width=".6"/>
<path d="M1889.5,459.1L1911.7,419.1L1893,401.9L1870.9,441.3z" fill="none"/>
<path d="M1625.7,512.1L1648.1,502.5L1630.3,482.5L1607.9,492.1z" fill="#009020"/>
<path d="M1930.5,435.4L1946.8,402.7L1932.8,396z" fill="#99ff00" stroke="#99ff00" stroke-width=".6"/>
<path d="M1946.8,402.7L1952.9,390.4L1934,374L1932.8,396z" fill="#f0ff00" stroke="#f0ff00" stroke-width=".6"/>
<path d="M1930.5,435.4L1932.8,396L1925,392.2L1911.7,419.1z" fill="#99ff00" stroke="#99ff00" stroke-width=".6"/>
<path d="M1932.8,396L1934,374L1925,392.2z" fill="#f0ff00" stroke="#f0ff00" stroke-width=".6"/>
<path d="M1930.5,435.4L1952.9,390.4L1934,374L1911.7,419.1z" fill="none"/>
<path d="M1666,522.3L1688.1,509L1670.2,489.4L1648.1,502.5z" fill="#009020"/>
<path d="M1972,405.7L1987.3,371.9L1974.1,365.7z" fill="#f0ff00" stroke="#f0ff00" stroke-width=".6"/>
<path d="M1987.3,371.9L1994.7,355.5L1975.6,338.8L1974.1,365.7z" fill="#ffaa00" stroke="#ffaa00" stroke-width=".6"/>
<path d="M1972,405.7L1974.1,365.7L1965.7,361.2L1952.9,390.4z" fill="#f0ff00" stroke="#f0ff00" stroke-width=".6"/>
<path d="M1974.1,365.7L1975.6,338.8L1965.7,361.2z" fill="#ffaa00" stroke="#ffaa00" stroke-width=".6"/>
<path d="M1972,405.7L1994.7,355.5L1975.6,338.8L1952.9,390.4z" fill="none"/>
<path d="M1706.1,527.2L1728.1,509.1L1710.1,491.3L1688.1,509z" fill="#009020"/>
<path d="M2013.9,372.1L2026.6,341.5L2015.8,336.3z" fill="#ffaa00" stroke="#ffaa00" stroke-width=".6"/>
<path d="M2026.6,341.5L2037,316.3L2017.6,299.7L2015.8,336.3z" fill="#ff4000" stroke="#ff4000" stroke-width=".6"/>
<path d="M2013.9,372.1L2015.8,336.3L2004.8,330.9L1994.7,355.5z" fill="#ffaa00" stroke="#ffaa00" stroke-width=".6"/>
<path d="M2015.8,336.3L2017.6,299.7L2004.8,330.9z" fill="#ff4000" stroke="#ff4000" stroke-width=".6"/>
<path d="M2013.9,372.1L2037,316.3L2017.6,299.7L1994.7,355.5z" fill="none"/>
<path d="M1746.2,525.7L1768.2,502.7L1757.4,493L1749.7,490.4z" fill="#009020" stroke="#009020" stroke-width=".6"/>
<path d="M1757.4,493L1750.1,486.4L1749.7,490.4z" fill="#00bb00" stroke="#00bb00" stroke-width=".6"/>
<path d="M1746.2,525.7L1749.7,490.4L1747.1,489.5L1728.1,509.1z" fill="#009020" stroke="#009020" stroke-width=".6"/>
<path d="M1749.7,490.4L1750.1,486.4L1747.1,489.5z" fill="#00bb00" stroke="#00bb00" stroke-width=".6"/>
<path d="M1746.2,525.7L1768.2,502.7L1750.1,486.4L1728.1,509.1z" fill="none"/>
<path d="M1480.5,452.6L1504,459.4L1486.7,445L1463.1,439.2z" fill="#00ee00"/>
<path d="M2056.5,332.5L2064.3,311.7L2057.7,308.3z" fill="#ff4000" stroke="#ff4000" stroke-width=".6"/>
<path d="M2064.3,311.7L2079.4,271.4L2060,261.6L2057.7,308.3z" fill="#e00000" stroke="#e00000" stroke-width=".6"/>
<path d="M2079.4,271.4L2080,269.9L2060.3,254.6L2060,261.6z" fill="#b60000" stroke="#b60000" stroke-width=".6"/>
<path d="M2056.5,332.5L2057.7,308.3L2042.8,300.9L2037,316.3z" fill="#ff4000" stroke="#ff4000" stroke-width=".6"/>
<path d="M2057.7,308.3L2060,261.6L2058.1,260.6L2042.8,300.9z" fill="#e00000" stroke="#e00000" stroke-width=".6"/>
<path d="M2060,261.6L2060.3,254.6L2058.1,260.6z" fill="#b60000" stroke="#b60000" stroke-width=".6"/>
<path d="M2056.5,332.5L2080,269.9L2060.3,254.6L2037,316.3z" fill="none"/>
<path d="M1786.5,518.5L1794.6,508.4L1787.6,505.4z" fill="#009020" stroke="#009020" stroke-width=".6"/>
<path d="M1794.6,508.4L1808.4,491.6L1790.1,475.9L1787.6,505.4z" fill="#00bb00" stroke="#00bb00" stroke-width=".6"/>
<path d="M1786.5,518.5L1787.6,505.4L1771.6,498.6L1768.2,502.7z" fill="#009020" stroke="#009020" stroke-width=".6"/>
<path d="M1787.6,505.4L1790.1,475.9L1771.6,498.6z" fill="#00bb00" stroke="#00bb00" stroke-width=".6"/>
<path d="M1786.5,518.5L1808.4,491.6L1790.1,475.9L1768.2,502.7z" fill="none"/>
<path d="M1524.6,476.1L1544.8,479.3L1527.2,462.3L1522.7,472.9z" fill="#00bb00" stroke="#00bb00" stroke-width=".6"/>
<path d="M1521.6,475.6L1524.6,476.1L1522.7,472.9z" fill="#00ee00" stroke="#00ee00" stroke-width=".6"/>
<path d="M1522.7,472.9L1527.2,462.3L1515,460.7z" fill="#00bb00" stroke="#00bb00" stroke-width=".6"/>
<path d="M1521.6,475.6L1522.7,472.9L1515,460.7L1504,459.4z" fill="#00ee00" stroke="#00ee00" stroke-width=".6"/>
<path d="M1521.6,475.6L1544.8,479.3L1527.2,462.3L1504,459.4z" fill="none"/>
<path d="M1826.8,507.4L1848.8,476.9L1830.4,460.6L1808.4,491.6z" fill="#00bb00"/>
<path d="M1562.5,498.8L1585.3,497.8L1567.7,478.7L1544.8,479.3z" fill="#00bb00"/>
<path d="M1867.4,493.8L1876.5,479.6L1868.6,476.4z" fill="#00bb00" stroke="#00bb00" stroke-width=".6"/>
<path d="M1876.5,479.6L1889.5,459.1L1870.9,441.3L1868.6,476.4z" fill="#00ee00" stroke="#00ee00" stroke-width=".6"/>
<path d="M1867.4,493.8L1868.6,476.4L1853.3,469.6L1848.8,476.9z" fill="#00bb00" stroke="#00bb00" stroke-width=".6"/>
<path d="M1868.6,476.4L1870.9,441.3L1853.3,469.6z" fill="#00ee00" stroke="#00ee00" stroke-width=".6"/>
<path d="M1867.4,493.8L1889.5,459.1L1870.9,441.3L1848.8,476.9z" fill="none"/>
<path d="M1603.2,518.1L1625.7,512.1L1607.9,492.1z" fill="#009020" stroke="#009020" stroke-width=".6"/>
<path d="M1603.2,518.1L1607.9,492.1L1607.6,492.2L1594.4,508.2z" fill="#009020" stroke="#009020" stroke-width=".6"/>
<path d="M1607.6,492.2L1585.3,497.8L1594.4,508.2z" fill="#00bb00" stroke="#00bb00" stroke-width=".6"/>
<path d="M1603.2,518.1L1625.7,512.1L1607.9,492.1L1585.3,497.8z" fill="none"/>
<path d="M1908.3,475.7L1925.1,445.3L1910.5,438.5z" fill="#00ee00" stroke="#00ee00" stroke-width=".6"/>
<path d="M1925.1,445.3L1930.5,435.4L1911.7,419.1L1910.5,438.5z" fill="#99ff00" stroke="#99ff00" stroke-width=".6"/>
<path d="M1908.3,475.7L1910.5,438.5L1902.9,434.9L1889.5,459.1z" fill="#00ee00" stroke="#00ee00" stroke-width=".6"/>
<path d="M1910.5,438.5L1911.7,419.1L1902.9,434.9z" fill="#99ff00" stroke="#99ff00" stroke-width=".6"/>
<path d="M1908.3,475.7L1930.5,435.4L1911.7,419.1L1889.5,459.1z" fill="none"/>
<path d="M1643.6,531.8L1666,522.3L1648.1,502.5L1625.7,512.1z" fill="#009020"/>
<path d="M1949.5,450.5L1968,413.6L1952.1,405.5z" fill="#99ff00" stroke="#99ff00" stroke-width=".6"/>
<path d="M1968,413.6L1972,405.7L1952.9,390.4L1952.1,405.5z" fill="#f0ff00" stroke="#f0ff00" stroke-width=".6"/>
<path d="M1949.5,450.5L1952.1,405.5L1946.8,402.7L1930.5,435.4z" fill="#99ff00" stroke="#99ff00" stroke-width=".6"/>
<path d="M1952.1,405.5L1952.9,390.4L1946.8,402.7z" fill="#f0ff00" stroke="#f0ff00" stroke-width=".6"/>
<path d="M1949.5,450.5L1972,405.7L1952.9,390.4L1930.5,435.4z" fill="none"/>
<path d="M1683.9,540.8L1706.1,527.2L1688.1,509L1666,522.3z" fill="#009020"/>
<path d="M1991.2,421L2009.1,382.6L1993.6,375.2z" fill="#f0ff00" stroke="#f0ff00" stroke-width=".6"/>
<path d="M2009.1,382.6L2013.9,372.1L1994.7,355.5L1993.6,375.2z" fill="#ffaa00" stroke="#ffaa00" stroke-width=".6"/>
<path d="M1991.2,421L1993.6,375.2L1987.3,371.9L1972,405.7z" fill="#f0ff00" stroke="#f0ff00" stroke-width=".6"/>
<path d="M1993.6,375.2L1994.7,355.5L1987.3,371.9z" fill="#ffaa00" stroke="#ffaa00" stroke-width=".6"/>
<path d="M1991.2,421L2013.9,372.1L1994.7,355.5L1972,405.7z" fill="none"/>
<path d="M1724.2,544.3L1746.2,525.7L1728.1,509.1L1706.1,527.2z" fill="#009020"/>
<path d="M1469.4,447.1L1480.5,452.6L1463.1,439.2L1460.3,439.9z" fill="#00ee00" stroke="#00ee00" stroke-width=".6"/>
<path d="M1456.5,440.7L1469.4,447.1L1460.3,439.9z" fill="#99ff00" stroke="#99ff00" stroke-width=".6"/>
<path d="M1460.3,439.9L1463.1,439.2L1453.3,434.7z" fill="#00ee00" stroke="#00ee00" stroke-width=".6"/>
<path d="M1456.5,440.7L1460.3,439.9L1453.3,434.7L1439.1,428.1z" fill="#99ff00" stroke="#99ff00" stroke-width=".6"/>
<path d="M1456.5,440.7L1480.5,452.6L1463.1,439.2L1439.1,428.1z" fill="none"/>
<path d="M2033.3,388.4L2048.3,352.3L2035.5,346z" fill="#ffaa00" stroke="#ffaa00" stroke-width=".6"/>
<path d="M2048.3,352.3L2056.5,332.5L2037,316.3L2035.5,346z" fill="#ff4000" stroke="#ff4000" stroke-width=".6"/>
<path d="M2033.3,388.4L2035.5,346L2026.6,341.5L2013.9,372.1z" fill="#ffaa00" stroke="#ffaa00" stroke-width=".6"/>
<path d="M2035.5,346L2037,316.3L2026.6,341.5z" fill="#ff4000" stroke="#ff4000" stroke-width=".6"/>
<path d="M2033.3,388.4L2056.5,332.5L2037,316.3L2013.9,372.1z" fill="none"/>
<path d="M1764.4,541.8L1786.5,518.5L1768.2,502.7L1746.2,525.7z" fill="#009020"/>
<path d="M1498,467.9L1521.6,475.6L1504,459.4L1480.5,452.6z" fill="#00ee00"/>
<path d="M2076.2,348L2085.6,322.7L2077.6,318.6z" fill="#ff4000" stroke="#ff4000" stroke-width=".6"/>
<path d="M2085.6,322.7L2099.8,284.6L2088.1,275.9L2079.9,271.7L2077.6,318.6z" fill="#e00000" stroke="#e00000" stroke-width=".6"/>
<path d="M2088.1,275.9L2080,269.9L2079.9,271.7z" fill="#b60000" stroke="#b60000" stroke-width=".6"/>
<path d="M2076.2,348L2077.6,318.6L2064.3,311.7L2056.5,332.5z" fill="#ff4000" stroke="#ff4000" stroke-width=".6"/>
<path d="M2077.6,318.6L2079.9,271.7L2079.4,271.4L2064.3,311.7z" fill="#e00000" stroke="#e00000" stroke-width=".6"/>
<path d="M2079.9,271.7L2080,269.9L2079.4,271.4z" fill="#b60000" stroke="#b60000" stroke-width=".6"/>
<path d="M2076.2,348L2099.8,284.6L2080,269.9L2056.5,332.5z" fill="none"/>
<path d="M1804.8,534.3L1818,518.3L1806.6,513.5z" fill="#009020" stroke="#009020" stroke-width=".6"/>
<path d="M1818,518.3L1826.8,507.4L1808.4,491.6L1806.6,513.5z" fill="#00bb00" stroke="#00bb00" stroke-width=".6"/>
<path d="M1804.8,534.3L1806.6,513.5L1794.6,508.4L1786.5,518.5z" fill="#009020" stroke="#009020" stroke-width=".6"/>
<path d="M1806.6,513.5L1808.4,491.6L1794.6,508.4z" fill="#00bb00" stroke="#00bb00" stroke-width=".6"/>
<path d="M1804.8,534.3L1826.8,507.4L1808.4,491.6L1786.5,518.5z" fill="none"/>
<path d="M1539.3,494.6L1562.5,498.8L1544.8,479.3z" fill="#00bb00" stroke="#00bb00" stroke-width=".6"/>
<path d="M1539.3,494.6L1544.8,479.3L1524.6,476.1L1526.1,480.5z" fill="#00bb00" stroke="#00bb00" stroke-width=".6"/>
<path d="M1524.6,476.1L1521.6,475.6L1526.1,480.5z" fill="#00ee00" stroke="#00ee00" stroke-width=".6"/>
<path d="M1539.3,494.6L1562.5,498.8L1544.8,479.3L1521.6,475.6z" fill="none"/>
<path d="M1845.4,523.8L1867.4,493.8L1848.8,476.9L1826.8,507.4z" fill="#00bb00"/>
<path d="M1592.6,518.7L1603.2,518.1L1594.4,508.2z" fill="#009020" stroke="#009020" stroke-width=".6"/>
<path d="M1580.3,519.5L1592.6,518.7L1594.4,508.2L1585.3,497.8z" fill="#00bb00" stroke="#00bb00" stroke-width=".6"/>
<path d="M1580.3,519.5L1585.3,497.8L1562.5,498.8z" fill="#00bb00" stroke="#00bb00" stroke-width=".6"/>
<path d="M1580.3,519.5L1603.2,518.1L1585.3,497.8L1562.5,498.8z" fill="none"/>
<path d="M1886.1,510.2L1899.2,489.8L1887.8,484.8z" fill="#00bb00" stroke="#00bb00" stroke-width=".6"/>
<path d="M1899.2,489.8L1908.3,475.7L1889.5,459.1L1887.8,484.8z" fill="#00ee00" stroke="#00ee00" stroke-width=".6"/>
<path d="M1886.1,510.2L1887.8,484.8L1876.5,479.6L1867.4,493.8z" fill="#00bb00" stroke="#00bb00" stroke-width=".6"/>
<path d="M1887.8,484.8L1889.5,459.1L1876.5,479.6z" fill="#00ee00" stroke="#00ee00" stroke-width=".6"/>
<path d="M1886.1,510.2L1908.3,475.7L1889.5,459.1L1867.4,493.8z" fill="none"/>
<path d="M1621,537.6L1643.6,531.8L1625.7,512.1L1603.2,518.1z" fill="#009020"/>
<path d="M1927.2,490.5L1946.2,456.3L1929.8,447.8z" fill="#00ee00" stroke="#00ee00" stroke-width=".6"/>
<path d="M1946.2,456.3L1949.5,450.5L1930.5,435.4L1929.8,447.8z" fill="#99ff00" stroke="#99ff00" stroke-width=".6"/>
<path d="M1927.2,490.5L1929.8,447.8L1925.1,445.3L1908.3,475.7z" fill="#00ee00" stroke="#00ee00" stroke-width=".6"/>
<path d="M1929.8,447.8L1930.5,435.4L1925.1,445.3z" fill="#99ff00" stroke="#99ff00" stroke-width=".6"/>
<path d="M1927.2,490.5L1949.5,450.5L1930.5,435.4L1908.3,475.7z" fill="none"/>
<path d="M1661.6,550.3L1683.9,540.8L1666,522.3L1643.6,531.8z" fill="#009020"/>
<path d="M1968.6,465L1989.4,424.5L1971.4,415.4z" fill="#99ff00" stroke="#99ff00" stroke-width=".6"/>
<path d="M1989.4,424.5L1991.2,421L1972,405.7L1971.4,415.4z" fill="#f0ff00" stroke="#f0ff00" stroke-width=".6"/>
<path d="M1968.6,465L1971.4,415.4L1968,413.6L1949.5,450.5z" fill="#99ff00" stroke="#99ff00" stroke-width=".6"/>
<path d="M1971.4,415.4L1972,405.7L1968,413.6z" fill="#f0ff00" stroke="#f0ff00" stroke-width=".6"/>
<path d="M1968.6,465L1991.2,421L1972,405.7L1949.5,450.5z" fill="none"/>
<path d="M1702,558.3L1724.2,544.3L1706.1,527.2L1683.9,540.8z" fill="#009020"/>
<path d="M1436.4,427.5L1456.5,440.7L1439.1,428.1L1433.3,425.2z" fill="#99ff00" stroke="#99ff00" stroke-width=".6"/>
<path d="M1432,424.6L1436.4,427.5L1433.3,425.2z" fill="#f0ff00" stroke="#f0ff00" stroke-width=".6"/>
<path d="M1433.3,425.2L1439.1,428.1L1419.4,415.3z" fill="#99ff00" stroke="#99ff00" stroke-width=".6"/>
<path d="M1432,424.6L1433.3,425.2L1419.4,415.3L1414.7,412.3z" fill="#f0ff00" stroke="#f0ff00" stroke-width=".6"/>
<path d="M1432,424.6L1456.5,440.7L1439.1,428.1L1414.7,412.3z" fill="none"/>
<path d="M2010.5,436.2L2010.8,435.6L2010.6,435.5z" fill="#99ff00" stroke="#99ff00" stroke-width=".6"/>
<path d="M2010.8,435.6L2031,393.4L2013.3,384.8L2010.6,435.5z" fill="#f0ff00" stroke="#f0ff00" stroke-width=".6"/>
<path d="M2031,393.4L2033.3,388.4L2013.9,372.1L2013.3,384.8z" fill="#ffaa00" stroke="#ffaa00" stroke-width=".6"/>
<path d="M2010.5,436.2L2010.6,435.5L2007.6,434z" fill="#99ff00" stroke="#99ff00" stroke-width=".6"/>
<path d="M2010.6,435.5L2013.3,384.8L2009.1,382.6L1991.2,421L2007.6,434z" fill="#f0ff00" stroke="#f0ff00" stroke-width=".6"/>
<path d="M2013.3,384.8L2013.9,372.1L2009.1,382.6z" fill="#ffaa00" stroke="#ffaa00" stroke-width=".6"/>
<path d="M2010.5,436.2L2033.3,388.4L2013.9,372.1L1991.2,421z" fill="none"/>
<path d="M1742.3,560.8L1764.4,541.8L1746.2,525.7L1724.2,544.3z" fill="#009020"/>
<path d="M1483.9,460.4L1498,467.9L1480.5,452.6L1477.1,453.9z" fill="#00ee00" stroke="#00ee00" stroke-width=".6"/>
<path d="M1474,455.1L1483.9,460.4L1477.1,453.9z" fill="#99ff00" stroke="#99ff00" stroke-width=".6"/>
<path d="M1477.1,453.9L1480.5,452.6L1469.4,447.1z" fill="#00ee00" stroke="#00ee00" stroke-width=".6"/>
<path d="M1474,455.1L1477.1,453.9L1469.4,447.1L1456.5,440.7z" fill="#99ff00" stroke="#99ff00" stroke-width=".6"/>
<path d="M1474,455.1L1498,467.9L1480.5,452.6L1456.5,440.7z" fill="none"/>
<path d="M2052.9,404L2069.8,363.3L2055.3,355.9z" fill="#ffaa00" stroke="#ffaa00" stroke-width=".6"/>
<path d="M2069.8,363.3L2076.2,348L2056.5,332.5L2055.3,355.9z" fill="#ff4000" stroke="#ff4000" stroke-width=".6"/>
<path d="M2052.9,404L2055.3,355.9L2048.3,352.3L2033.3,388.4z" fill="#ffaa00" stroke="#ffaa00" stroke-width=".6"/>
<path d="M2055.3,355.9L2056.5,332.5L2048.3,352.3z" fill="#ff4000" stroke="#ff4000" stroke-width=".6"/>
<path d="M2052.9,404L2076.2,348L2056.5,332.5L2033.3,388.4z" fill="none"/>
<path d="M1782.8,557.8L1804.8,534.3L1786.5,518.5L1764.4,541.8z" fill="#009020"/>
<path d="M1532.8,492.2L1539.3,494.6L1526.1,480.5z" fill="#00bb00" stroke="#00bb00" stroke-width=".6"/>
<path d="M1515.7,485.8L1532.8,492.2L1526.1,480.5L1521.6,475.6z" fill="#00ee00" stroke="#00ee00" stroke-width=".6"/>
<path d="M1515.7,485.8L1521.6,475.6L1498,467.9z" fill="#00ee00" stroke="#00ee00" stroke-width=".6"/>
<path d="M1515.7,485.8L1539.3,494.6L1521.6,475.6L1498,467.9z" fill="none"/>
<path d="M2096,362.5L2106.6,334.1L2097.6,329.2z" fill="#ff4000" stroke="#ff4000" stroke-width=".6"/>
<path d="M2106.6,334.1L2119.8,298.5L2099.8,284.6L2097.6,329.2z" fill="#e00000" stroke="#e00000" stroke-width=".6"/>
<path d="M2096,362.5L2097.6,329.2L2085.6,322.7L2076.2,348z" fill="#ff4000" stroke="#ff4000" stroke-width=".6"/>
<path d="M2097.6,329.2L2099.8,284.6L2085.6,322.7z" fill="#e00000" stroke="#e00000" stroke-width=".6"/>
<path d="M2096,362.5L2119.8,298.5L2099.8,284.6L2076.2,348z" fill="none"/>
<path d="M1823.3,550.6L1842,527.9L1825.7,521.5z" fill="#009020" stroke="#009020" stroke-width=".6"/>
<path d="M1842,527.9L1845.4,523.8L1826.8,507.4L1825.7,521.5z" fill="#00bb00" stroke="#00bb00" stroke-width=".6"/>
<path d="M1823.3,550.6L1825.7,521.5L1818,518.3L1804.8,534.3z" fill="#009020" stroke="#009020" stroke-width=".6"/>
<path d="M1825.7,521.5L1826.8,507.4L1818,518.3z" fill="#00bb00" stroke="#00bb00" stroke-width=".6"/>
<path d="M1823.3,550.6L1845.4,523.8L1826.8,507.4L1804.8,534.3z" fill="none"/>
<path d="M1557.1,515.1L1580.3,519.5L1562.5,498.8L1539.3,494.6z" fill="#00bb00"/>
<path d="M1864,540.1L1865.7,537.8L1864.2,537.2z" fill="#009020" stroke="#009020" stroke-width=".6"/>
<path d="M1865.7,537.8L1886.1,510.2L1867.4,493.8L1864.2,537.2z" fill="#00bb00" stroke="#00bb00" stroke-width=".6"/>
<path d="M1864,540.1L1864.2,537.2L1857.1,534.1z" fill="#009020" stroke="#009020" stroke-width=".6"/>
<path d="M1864.2,537.2L1867.4,493.8L1845.4,523.8L1857.1,534.1z" fill="#00bb00" stroke="#00bb00" stroke-width=".6"/>
<path d="M1864,540.1L1886.1,510.2L1867.4,493.8L1845.4,523.8z" fill="none"/>
<path d="M1598.2,538.9L1621,537.6L1603.2,518.1z" fill="#009020" stroke="#009020" stroke-width=".6"/>
<path d="M1598.2,538.9L1603.2,518.1L1592.6,518.7L1592,532.2z" fill="#009020" stroke="#009020" stroke-width=".6"/>
<path d="M1592.6,518.7L1580.3,519.5L1592,532.2z" fill="#00bb00" stroke="#00bb00" stroke-width=".6"/>
<path d="M1598.2,538.9L1621,537.6L1603.2,518.1L1580.3,519.5z" fill="none"/>
<path d="M1904.9,525.5L1920.6,500.8L1907.1,493.8z" fill="#00bb00" stroke="#00bb00" stroke-width=".6"/>
<path d="M1920.6,500.8L1927.2,490.5L1908.3,475.7L1907.1,493.8z" fill="#00ee00" stroke="#00ee00" stroke-width=".6"/>
<path d="M1904.9,525.5L1907.1,493.8L1899.2,489.8L1886.1,510.2z" fill="#00bb00" stroke="#00bb00" stroke-width=".6"/>
<path d="M1907.1,493.8L1908.3,475.7L1899.2,489.8z" fill="#00ee00" stroke="#00ee00" stroke-width=".6"/>
<path d="M1904.9,525.5L1927.2,490.5L1908.3,475.7L1886.1,510.2z" fill="none"/>
<path d="M1639,555.7L1661.6,550.3L1643.6,531.8L1621,537.6z" fill="#009020"/>
<path d="M1946.2,504.9L1967.2,467.6L1949.1,457.9z" fill="#00ee00" stroke="#00ee00" stroke-width=".6"/>
<path d="M1967.2,467.6L1968.6,465L1949.5,450.5L1949.1,457.9z" fill="#99ff00" stroke="#99ff00" stroke-width=".6"/>
<path d="M1946.2,504.9L1949.1,457.9L1946.2,456.3L1927.2,490.5z" fill="#00ee00" stroke="#00ee00" stroke-width=".6"/>
<path d="M1949.1,457.9L1949.5,450.5L1946.2,456.3z" fill="#99ff00" stroke="#99ff00" stroke-width=".6"/>
<path d="M1946.2,504.9L1968.6,465L1949.5,450.5L1927.2,490.5z" fill="none"/>
<path d="M1679.6,567.8L1702,558.3L1683.9,540.8L1661.6,550.3z" fill="#009020"/>
<path d="M1407.2,406.4L1432,424.6L1414.7,412.3L1389.8,395.2z" fill="#c6c6c6"/>
<path d="M1988,479L2010.5,436.2L2007.6,434L1990.9,425.4L1987.9,479z" fill="#99ff00" stroke="#99ff00" stroke-width=".6"/>
<path d="M2007.6,434L1991.2,421L1990.9,425.4z" fill="#f0ff00" stroke="#f0ff00" stroke-width=".6"/>
<path d="M1987.9,479.2L1987.9,479L1986.7,478.3z" fill="#00ee00" stroke="#00ee00" stroke-width=".6"/>
<path d="M1987.9,479L1990.9,425.4L1989.4,424.5L1968.6,465L1986.7,478.3z" fill="#99ff00" stroke="#99ff00" stroke-width=".6"/>
<path d="M1990.9,425.4L1991.2,421L1989.4,424.5z" fill="#f0ff00" stroke="#f0ff00" stroke-width=".6"/>
<path d="M1987.9,479.2L2010.5,436.2L1991.2,421L1968.6,465z" fill="none"/>
<path d="M1720.1,575L1742.3,560.8L1724.2,544.3L1702,558.3z" fill="#009020"/>
<path d="M1452.3,440.1L1474,455.1L1456.5,440.7L1450.4,438.5z" fill="#99ff00" stroke="#99ff00" stroke-width=".6"/>
<path d="M1449.5,438.2L1452.3,440.1L1450.4,438.5z" fill="#f0ff00" stroke="#f0ff00" stroke-width=".6"/>
<path d="M1450.4,438.5L1456.5,440.7L1436.4,427.5z" fill="#99ff00" stroke="#99ff00" stroke-width=".6"/>
<path d="M1449.5,438.2L1450.4,438.5L1436.4,427.5L1432,424.6z" fill="#f0ff00" stroke="#f0ff00" stroke-width=".6"/>
<path d="M1449.5,438.2L1474,455.1L1456.5,440.7L1432,424.6z" fill="none"/>
<path d="M2030,451.2L2032,446.9L2030.3,446z" fill="#99ff00" stroke="#99ff00" stroke-width=".6"/>
<path d="M2032,446.9L2052.7,404.4L2033,394.5L2030.3,446z" fill="#f0ff00" stroke="#f0ff00" stroke-width=".6"/>
<path d="M2052.7,404.4L2052.9,404L2033.3,388.4L2033,394.5z" fill="#ffaa00" stroke="#ffaa00" stroke-width=".6"/>
<path d="M2030,451.2L2030.3,446L2010.8,435.6L2010.5,436.2z" fill="#99ff00" stroke="#99ff00" stroke-width=".6"/>
<path d="M2030.3,446L2033,394.5L2031,393.4L2010.8,435.6z" fill="#f0ff00" stroke="#f0ff00" stroke-width=".6"/>
<path d="M2033,394.5L2033.3,388.4L2031,393.4z" fill="#ffaa00" stroke="#ffaa00" stroke-width=".6"/>
<path d="M2030,451.2L2052.9,404L2033.3,388.4L2010.5,436.2z" fill="none"/>
<path d="M1760.6,577.1L1782.8,557.8L1764.4,541.8L1742.3,560.8z" fill="#009020"/>
<path d="M1496.2,474.8L1515.7,485.8L1498,467.9L1493.3,471.1z" fill="#00ee00" stroke="#00ee00" stroke-width=".6"/>
<path d="M1491.7,472.2L1496.2,474.8L1493.3,471.1z" fill="#99ff00" stroke="#99ff00" stroke-width=".6"/>
<path d="M1493.3,471.1L1498,467.9L1483.9,460.4z" fill="#00ee00" stroke="#00ee00" stroke-width=".6"/>
<path d="M1491.7,472.2L1493.3,471.1L1483.9,460.4L1474,455.1z" fill="#99ff00" stroke="#99ff00" stroke-width=".6"/>
<path d="M1491.7,472.2L1515.7,485.8L1498,467.9L1474,455.1z" fill="none"/>
<path d="M2072.6,418.7L2073.8,415.8L2072.8,415.2z" fill="#f0ff00" stroke="#f0ff00" stroke-width=".6"/>
<path d="M2073.8,415.8L2090.9,374.7L2075.2,366.3L2072.8,415.2z" fill="#ffaa00" stroke="#ffaa00" stroke-width=".6"/>
<path d="M2090.9,374.7L2096,362.5L2076.2,348L2075.2,366.3z" fill="#ff4000" stroke="#ff4000" stroke-width=".6"/>
<path d="M2072.6,418.7L2072.8,415.2L2055.2,405.7z" fill="#f0ff00" stroke="#f0ff00" stroke-width=".6"/>
<path d="M2072.8,415.2L2075.2,366.3L2069.8,363.3L2052.9,404L2055.2,405.7z" fill="#ffaa00" stroke="#ffaa00" stroke-width=".6"/>
<path d="M2075.2,366.3L2076.2,348L2069.8,363.3z" fill="#ff4000" stroke="#ff4000" stroke-width=".6"/>
<path d="M2072.6,418.7L2096,362.5L2076.2,348L2052.9,404z" fill="none"/>
<path d="M1801.2,574.1L1823.3,550.6L1804.8,534.3L1782.8,557.8z" fill="#009020"/>
<path d="M1540.9,508.6L1557.1,515.1L1539.3,494.6L1536.7,499.6z" fill="#00bb00" stroke="#00bb00" stroke-width=".6"/>
<path d="M1533.6,505.6L1540.9,508.6L1536.7,499.6z" fill="#00ee00" stroke="#00ee00" stroke-width=".6"/>
<path d="M1536.7,499.6L1539.3,494.6L1532.8,492.2z" fill="#00bb00" stroke="#00bb00" stroke-width=".6"/>
<path d="M1533.6,505.6L1536.7,499.6L1532.8,492.2L1515.7,485.8z" fill="#00ee00" stroke="#00ee00" stroke-width=".6"/>
<path d="M1533.6,505.6L1557.1,515.1L1539.3,494.6L1515.7,485.8z" fill="none"/>
<path d="M2116,376L2127.4,345.6L2117.8,340.3z" fill="#ff4000" stroke="#ff4000" stroke-width=".6"/>
<path d="M2127.4,345.6L2140,311.8L2119.8,298.5L2117.8,340.3z" fill="#e00000" stroke="#e00000" stroke-width=".6"/>
<path d="M2116,376L2117.8,340.3L2106.6,334.1L2096,362.5z" fill="#ff4000" stroke="#ff4000" stroke-width=".6"/>
<path d="M2117.8,340.3L2119.8,298.5L2106.6,334.1z" fill="#e00000" stroke="#e00000" stroke-width=".6"/>
<path d="M2116,376L2140,311.8L2119.8,298.5L2096,362.5z" fill="none"/>
<path d="M1841.9,567.1L1864,540.1L1857.1,534.1L1844.9,529.1z" fill="#009020" stroke="#009020" stroke-width=".6"/>
<path d="M1857.1,534.1L1845.4,523.8L1844.9,529.1z" fill="#00bb00" stroke="#00bb00" stroke-width=".6"/>
<path d="M1841.9,567.1L1844.9,529.1L1842,527.9L1823.3,550.6z" fill="#009020" stroke="#009020" stroke-width=".6"/>
<path d="M1844.9,529.1L1845.4,523.8L1842,527.9z" fill="#00bb00" stroke="#00bb00" stroke-width=".6"/>
<path d="M1841.9,567.1L1864,540.1L1845.4,523.8L1823.3,550.6z" fill="none"/>
<path d="M1594.3,538.1L1598.2,538.9L1592,532.2z" fill="#009020" stroke="#009020" stroke-width=".6"/>
<path d="M1575,534.5L1594.3,538.1L1592,532.2L1580.3,519.5z" fill="#00bb00" stroke="#00bb00" stroke-width=".6"/>
<path d="M1575,534.5L1580.3,519.5L1557.1,515.1z" fill="#00bb00" stroke="#00bb00" stroke-width=".6"/>
<path d="M1575,534.5L1598.2,538.9L1580.3,519.5L1557.1,515.1z" fill="none"/>
<path d="M1882.8,556.1L1888.4,548.3L1883.5,546z" fill="#009020" stroke="#009020" stroke-width=".6"/>
<path d="M1888.4,548.3L1904.9,525.5L1886.1,510.2L1883.5,546z" fill="#00bb00" stroke="#00bb00" stroke-width=".6"/>
<path d="M1882.8,556.1L1883.5,546L1865.7,537.8L1864,540.1z" fill="#009020" stroke="#009020" stroke-width=".6"/>
<path d="M1883.5,546L1886.1,510.2L1865.7,537.8z" fill="#00bb00" stroke="#00bb00" stroke-width=".6"/>
<path d="M1882.8,556.1L1904.9,525.5L1886.1,510.2L1864,540.1z" fill="none"/>
<path d="M1616.2,556.3L1639,555.7L1621,537.6L1598.2,538.9z" fill="#009020"/>
<path d="M1923.9,540.4L1941.7,512.1L1926.3,503.8z" fill="#00bb00" stroke="#00bb00" stroke-width=".6"/>
<path d="M1941.7,512.1L1946.2,504.9L1927.2,490.5L1926.3,503.8z" fill="#00ee00" stroke="#00ee00" stroke-width=".6"/>
<path d="M1923.9,540.4L1926.3,503.8L1920.6,500.8L1904.9,525.5z" fill="#00bb00" stroke="#00bb00" stroke-width=".6"/>
<path d="M1926.3,503.8L1927.2,490.5L1920.6,500.8z" fill="#00ee00" stroke="#00ee00" stroke-width=".6"/>
<path d="M1923.9,540.4L1946.2,504.9L1927.2,490.5L1904.9,525.5z" fill="none"/>
<path d="M1657,572.7L1679.6,567.8L1661.6,550.3L1639,555.7z" fill="#009020"/>
<path d="M1965.4,519L1987.9,479.2L1986.7,478.3L1968.4,468.3z" fill="#00ee00" stroke="#00ee00" stroke-width=".6"/>
<path d="M1986.7,478.3L1968.6,465L1968.4,468.3z" fill="#99ff00" stroke="#99ff00" stroke-width=".6"/>
<path d="M1965.4,519L1968.4,468.3L1967.2,467.6L1946.2,504.9z" fill="#00ee00" stroke="#00ee00" stroke-width=".6"/>
<path d="M1968.4,468.3L1968.6,465L1967.2,467.6z" fill="#99ff00" stroke="#99ff00" stroke-width=".6"/>
<path d="M1965.4,519L1987.9,479.2L1968.6,465L1946.2,504.9z" fill="none"/>
<path d="M1697.7,584.5L1720.1,575L1702,558.3L1679.6,567.8z" fill="#009020"/>
<path d="M1424.6,418.8L1449.5,438.2L1432,424.6L1407.2,406.4z" fill="#c6c6c6"/>
<path d="M2007.3,493.3L2008.7,490.7L2007.5,490z" fill="#00ee00" stroke="#00ee00" stroke-width=".6"/>
<path d="M2008.7,490.7L2030,451.2L2010.5,436.2L2007.5,490z" fill="#99ff00" stroke="#99ff00" stroke-width=".6"/>
<path d="M2007.3,493.3L2007.5,490L1988,479L1987.9,479.2z" fill="#00ee00" stroke="#00ee00" stroke-width=".6"/>
<path d="M2007.5,490L2010.5,436.2L1988,479z" fill="#99ff00" stroke="#99ff00" stroke-width=".6"/>
<path d="M2007.3,493.3L2030,451.2L2010.5,436.2L1987.9,479.2z" fill="none"/>
<path d="M1738.4,591.5L1759.8,577.6L1740.3,576.5z" fill="#006040" stroke="#006040" stroke-width=".6"/>
<path d="M1759.8,577.6L1760.6,577.1L1742.3,560.8L1740.3,576.5z" fill="#009020" stroke="#009020" stroke-width=".6"/>
<path d="M1738.4,591.5L1740.3,576.5L1720.5,575.4z" fill="#006040" stroke="#006040" stroke-width=".6"/>
<path d="M1740.3,576.5L1742.3,560.8L1720.1,575L1720.5,575.4z" fill="#009020" stroke="#009020" stroke-width=".6"/>
<path d="M1738.4,591.5L1760.6,577.1L1742.3,560.8L1720.1,575z" fill="none"/>
<path d="M1467.2,454.4L1491.7,472.2L1474,455.1z" fill="#99ff00" stroke="#99ff00" stroke-width=".6"/>
<path d="M1467.2,454.4L1474,455.1L1452.3,440.1L1463.1,450.6z" fill="#99ff00" stroke="#99ff00" stroke-width=".6"/>
<path d="M1452.3,440.1L1449.5,438.2L1463.1,450.6z" fill="#f0ff00" stroke="#f0ff00" stroke-width=".6"/>
<path d="M1467.2,454.4L1491.7,472.2L1474,455.1L1449.5,438.2z" fill="none"/>
<path d="M2049.6,465.7L2053.1,458.4L2050.1,456.8z" fill="#99ff00" stroke="#99ff00" stroke-width=".6"/>
<path d="M2053.1,458.4L2072.6,418.7L2055.2,405.7L2052.9,404.5L2050.1,456.8z" fill="#f0ff00" stroke="#f0ff00" stroke-width=".6"/>
<path d="M2055.2,405.7L2052.9,404L2052.9,404.5z" fill="#ffaa00" stroke="#ffaa00" stroke-width=".6"/>
<path d="M2049.6,465.7L2050.1,456.8L2032,446.9L2030,451.2z" fill="#99ff00" stroke="#99ff00" stroke-width=".6"/>
<path d="M2050.1,456.8L2052.9,404.5L2052.7,404.4L2032,446.9z" fill="#f0ff00" stroke="#f0ff00" stroke-width=".6"/>
<path d="M2049.6,465.7L2072.6,418.7L2052.9,404L2030,451.2z" fill="none"/>
<path d="M1779,593.3L1788.2,585.4L1780.1,583.1z" fill="#006040" stroke="#006040" stroke-width=".6"/>
<path d="M1788.2,585.4L1801.2,574.1L1782.8,557.8L1780.1,583.1z" fill="#009020" stroke="#009020" stroke-width=".6"/>
<path d="M1779,593.3L1780.1,583.1L1761.3,577.7z" fill="#006040" stroke="#006040" stroke-width=".6"/>
<path d="M1780.1,583.1L1782.8,557.8L1760.6,577.1L1761.3,577.7z" fill="#009020" stroke="#009020" stroke-width=".6"/>
<path d="M1779,593.3L1801.2,574.1L1782.8,557.8L1760.6,577.1z" fill="none"/>
<path d="M1509.6,491.3L1533.6,505.6L1515.7,485.8z" fill="#00ee00" stroke="#00ee00" stroke-width=".6"/>
<path d="M1509.6,491.3L1515.7,485.8L1496.2,474.8L1503.4,484.7z" fill="#00ee00" stroke="#00ee00" stroke-width=".6"/>
<path d="M1496.2,474.8L1491.7,472.2L1503.4,484.7z" fill="#99ff00" stroke="#99ff00" stroke-width=".6"/>
<path d="M1509.6,491.3L1533.6,505.6L1515.7,485.8L1491.7,472.2z" fill="none"/>
<path d="M2092.5,432.3L2094.4,427.6L2092.8,426.6z" fill="#f0ff00" stroke="#f0ff00" stroke-width=".6"/>
<path d="M2094.4,427.6L2111.7,386.3L2095.3,377.1L2092.8,426.6z" fill="#ffaa00" stroke="#ffaa00" stroke-width=".6"/>
<path d="M2111.7,386.3L2116,376L2096,362.5L2095.3,377.1z" fill="#ff4000" stroke="#ff4000" stroke-width=".6"/>
<path d="M2092.5,432.3L2092.8,426.6L2073.8,415.8L2072.6,418.7z" fill="#f0ff00" stroke="#f0ff00" stroke-width=".6"/>
<path d="M2092.8,426.6L2095.3,377.1L2090.9,374.7L2073.8,415.8z" fill="#ffaa00" stroke="#ffaa00" stroke-width=".6"/>
<path d="M2095.3,377.1L2096,362.5L2090.9,374.7z" fill="#ff4000" stroke="#ff4000" stroke-width=".6"/>
<path d="M2092.5,432.3L2116,376L2096,362.5L2072.6,418.7z" fill="none"/>
<path d="M1819.7,590.4L1841.9,567.1L1823.3,550.6L1801.2,574.1z" fill="#009020"/>
<path d="M1551.5,524.9L1575,534.5L1557.1,515.1z" fill="#00bb00" stroke="#00bb00" stroke-width=".6"/>
<path d="M1551.5,524.9L1557.1,515.1L1540.9,508.6L1549.6,522.8z" fill="#00bb00" stroke="#00bb00" stroke-width=".6"/>
<path d="M1540.9,508.6L1533.6,505.6L1549.6,522.8z" fill="#00ee00" stroke="#00ee00" stroke-width=".6"/>
<path d="M1551.5,524.9L1575,534.5L1557.1,515.1L1533.6,505.6z" fill="none"/>
<path d="M2136.2,388.1L2147.7,357.5L2138,352z" fill="#ff4000" stroke="#ff4000" stroke-width=".6"/>
<path d="M2147.7,357.5L2160.4,323.9L2140,311.8L2138,352z" fill="#e00000" stroke="#e00000" stroke-width=".6"/>
<path d="M2136.2,388.1L2138,352L2127.4,345.6L2116,376z" fill="#ff4000" stroke="#ff4000" stroke-width=".6"/>
<path d="M2138,352L2140,311.8L2127.4,345.6z" fill="#e00000" stroke="#e00000" stroke-width=".6"/>
<path d="M2136.2,388.1L2160.4,323.9L2140,311.8L2116,376z" fill="none"/>
<path d="M1860.6,583.5L1882.8,556.1L1864,540.1L1841.9,567.1z" fill="#009020"/>
<path d="M1604.3,554L1616.2,556.3L1598.2,538.9L1596.9,542.2z" fill="#009020" stroke="#009020" stroke-width=".6"/>
<path d="M1593,551.8L1604.3,554L1596.9,542.2z" fill="#00bb00" stroke="#00bb00" stroke-width=".6"/>
<path d="M1596.9,542.2L1598.2,538.9L1594.3,538.1z" fill="#009020" stroke="#009020" stroke-width=".6"/>
<path d="M1593,551.8L1596.9,542.2L1594.3,538.1L1575,534.5z" fill="#00bb00" stroke="#00bb00" stroke-width=".6"/>
<path d="M1593,551.8L1616.2,556.3L1598.2,538.9L1575,534.5z" fill="none"/>
<path d="M1901.6,571.7L1910.5,559.2L1902.8,555.3z" fill="#009020" stroke="#009020" stroke-width=".6"/>
<path d="M1910.5,559.2L1923.9,540.4L1904.9,525.5L1902.8,555.3z" fill="#00bb00" stroke="#00bb00" stroke-width=".6"/>
<path d="M1901.6,571.7L1902.8,555.3L1888.4,548.3L1882.8,556.1z" fill="#009020" stroke="#009020" stroke-width=".6"/>
<path d="M1902.8,555.3L1904.9,525.5L1888.4,548.3z" fill="#00bb00" stroke="#00bb00" stroke-width=".6"/>
<path d="M1901.6,571.7L1923.9,540.4L1904.9,525.5L1882.8,556.1z" fill="none"/>
<path d="M1634.2,572.9L1657,572.7L1639,555.7L1616.2,556.3z" fill="#009020"/>
<path d="M1943,555L1962.5,523.6L1945.6,514.2z" fill="#00bb00" stroke="#00bb00" stroke-width=".6"/>
<path d="M1962.5,523.6L1965.4,519L1946.2,504.9L1945.6,514.2z" fill="#00ee00" stroke="#00ee00" stroke-width=".6"/>
<path d="M1943,555L1945.6,514.2L1941.7,512.1L1923.9,540.4z" fill="#00bb00" stroke="#00bb00" stroke-width=".6"/>
<path d="M1945.6,514.2L1946.2,504.9L1941.7,512.1z" fill="#00ee00" stroke="#00ee00" stroke-width=".6"/>
<path d="M1943,555L1965.4,519L1946.2,504.9L1923.9,540.4z" fill="none"/>
<path d="M1675.2,589.2L1697.7,584.5L1679.6,567.8L1657,572.7z" fill="#009020"/>
<path d="M1984.7,533L2007.3,493.3L1987.9,479.2L1965.4,519z" fill="#00ee00"/>
<path d="M1716,601L1738.4,591.5L1720.5,575.4L1720,575.7z" fill="#006040" stroke="#006040" stroke-width=".6"/>
<path d="M1720.5,575.4L1720.1,575L1720,575.7z" fill="#009020" stroke="#009020" stroke-width=".6"/>
<path d="M1716,601L1720,575.7L1702,588.4z" fill="#006040" stroke="#006040" stroke-width=".6"/>
<path d="M1720,575.7L1720.1,575L1697.7,584.5L1702,588.4z" fill="#009020" stroke="#009020" stroke-width=".6"/>
<path d="M1716,601L1738.4,591.5L1720.1,575L1697.7,584.5z" fill="none"/>
<path d="M1466.4,453.8L1467.2,454.4L1463.1,450.6z" fill="#99ff00" stroke="#99ff00" stroke-width=".6"/>
<path d="M1442.3,434L1466.4,453.8L1463.1,450.6L1449.5,438.2z" fill="#f0ff00" stroke="#f0ff00" stroke-width=".6"/>
<path d="M1442.3,434L1449.5,438.2L1424.6,418.8z" fill="#f0ff00" stroke="#f0ff00" stroke-width=".6"/>
<path d="M1442.3,434L1467.2,454.4L1449.5,438.2L1424.6,418.8z" fill="none"/>
<path d="M2026.8,507.4L2029.5,502.4L2027.2,501.1z" fill="#00ee00" stroke="#00ee00" stroke-width=".6"/>
<path d="M2029.5,502.4L2049.6,465.7L2030,451.2L2027.2,501.1z" fill="#99ff00" stroke="#99ff00" stroke-width=".6"/>
<path d="M2026.8,507.4L2027.2,501.1L2008.7,490.7L2007.3,493.3z" fill="#00ee00" stroke="#00ee00" stroke-width=".6"/>
<path d="M2027.2,501.1L2030,451.2L2008.7,490.7z" fill="#99ff00" stroke="#99ff00" stroke-width=".6"/>
<path d="M2026.8,507.4L2049.6,465.7L2030,451.2L2007.3,493.3z" fill="none"/>
<path d="M1756.8,607.7L1779,593.3L1761.3,577.7L1760.6,577.6z" fill="#006040" stroke="#006040" stroke-width=".6"/>
<path d="M1761.3,577.7L1760.6,577.1L1760.6,577.6z" fill="#009020" stroke="#009020" stroke-width=".6"/>
<path d="M1756.8,607.7L1760.6,577.6L1759.8,577.6L1738.4,591.5z" fill="#006040" stroke="#006040" stroke-width=".6"/>
<path d="M1760.6,577.6L1760.6,577.1L1759.8,577.6z" fill="#009020" stroke="#009020" stroke-width=".6"/>
<path d="M1756.8,607.7L1779,593.3L1760.6,577.1L1738.4,591.5z" fill="none"/>
<path d="M1507.4,489.8L1509.6,491.3L1503.4,484.7z" fill="#00ee00" stroke="#00ee00" stroke-width=".6"/>
<path d="M1485.2,473.8L1507.4,489.8L1503.4,484.7L1491.7,472.2z" fill="#99ff00" stroke="#99ff00" stroke-width=".6"/>
<path d="M1485.2,473.8L1491.7,472.2L1467.2,454.4z" fill="#99ff00" stroke="#99ff00" stroke-width=".6"/>
<path d="M1485.2,473.8L1509.6,491.3L1491.7,472.2L1467.2,454.4z" fill="none"/>
<path d="M2069.4,479.1L2073.7,470.4L2070,468.2z" fill="#99ff00" stroke="#99ff00" stroke-width=".6"/>
<path d="M2073.7,470.4L2092.5,432.3L2072.6,418.7L2070,468.2z" fill="#f0ff00" stroke="#f0ff00" stroke-width=".6"/>
<path d="M2069.4,479.1L2070,468.2L2053.1,458.4L2049.6,465.7z" fill="#99ff00" stroke="#99ff00" stroke-width=".6"/>
<path d="M2070,468.2L2072.6,418.7L2053.1,458.4z" fill="#f0ff00" stroke="#f0ff00" stroke-width=".6"/>
<path d="M2069.4,479.1L2092.5,432.3L2072.6,418.7L2049.6,465.7z" fill="none"/>
<path d="M1797.5,609.4L1816.2,593.4L1799.7,588.8z" fill="#006040" stroke="#006040" stroke-width=".6"/>
<path d="M1816.2,593.4L1819.7,590.4L1801.2,574.1L1799.7,588.8z" fill="#009020" stroke="#009020" stroke-width=".6"/>
<path d="M1797.5,609.4L1799.7,588.8L1788.2,585.4L1779,593.3z" fill="#006040" stroke="#006040" stroke-width=".6"/>
<path d="M1799.7,588.8L1801.2,574.1L1788.2,585.4z" fill="#009020" stroke="#009020" stroke-width=".6"/>
<path d="M1797.5,609.4L1819.7,590.4L1801.2,574.1L1779,593.3z" fill="none"/>
<path d="M1550.8,524.4L1551.5,524.9L1549.6,522.8z" fill="#00bb00" stroke="#00bb00" stroke-width=".6"/>
<path d="M1527.6,510.7L1550.8,524.4L1549.6,522.8L1533.6,505.6z" fill="#00ee00" stroke="#00ee00" stroke-width=".6"/>
<path d="M1527.6,510.7L1533.6,505.6L1509.6,491.3z" fill="#00ee00" stroke="#00ee00" stroke-width=".6"/>
<path d="M1527.6,510.7L1551.5,524.9L1533.6,505.6L1509.6,491.3z" fill="none"/>
<path d="M2112.6,444.2L2114.4,439.8L2112.8,438.9z" fill="#f0ff00" stroke="#f0ff00" stroke-width=".6"/>
<path d="M2114.4,439.8L2131.9,398.4L2115.4,388.6L2112.8,438.9z" fill="#ffaa00" stroke="#ffaa00" stroke-width=".6"/>
<path d="M2131.9,398.4L2136.2,388.1L2116,376L2115.4,388.6z" fill="#ff4000" stroke="#ff4000" stroke-width=".6"/>
<path d="M2112.6,444.2L2112.8,438.9L2094.4,427.6L2092.5,432.3z" fill="#f0ff00" stroke="#f0ff00" stroke-width=".6"/>
<path d="M2112.8,438.9L2115.4,388.6L2111.7,386.3L2094.4,427.6z" fill="#ffaa00" stroke="#ffaa00" stroke-width=".6"/>
<path d="M2115.4,388.6L2116,376L2111.7,386.3z" fill="#ff4000" stroke="#ff4000" stroke-width=".6"/>
<path d="M2112.6,444.2L2136.2,388.1L2116,376L2092.5,432.3z" fill="none"/>
<path d="M1838.4,606.5L1842.4,602.4L1838.9,601.2z" fill="#006040" stroke="#006040" stroke-width=".6"/>
<path d="M1842.4,602.4L1860.6,583.5L1841.9,567.1L1838.9,601.2z" fill="#009020" stroke="#009020" stroke-width=".6"/>
<path d="M1838.4,606.5L1838.9,601.2L1826.8,596.5z" fill="#006040" stroke="#006040" stroke-width=".6"/>
<path d="M1838.9,601.2L1841.9,567.1L1819.7,590.4L1826.8,596.5z" fill="#009020" stroke="#009020" stroke-width=".6"/>
<path d="M1838.4,606.5L1860.6,583.5L1841.9,567.1L1819.7,590.4z" fill="none"/>
<path d="M1569.5,542.3L1593,551.8L1575,534.5L1551.5,524.9z" fill="#00bb00"/>
<path d="M2156.7,398.3L2167.6,369.9L2158.4,364.3z" fill="#ff4000" stroke="#ff4000" stroke-width=".6"/>
<path d="M2167.6,369.9L2181,334.8L2160.4,323.9L2158.4,364.3z" fill="#e00000" stroke="#e00000" stroke-width=".6"/>
<path d="M2156.7,398.3L2158.4,364.3L2147.7,357.5L2136.2,388.1z" fill="#ff4000" stroke="#ff4000" stroke-width=".6"/>
<path d="M2158.4,364.3L2160.4,323.9L2147.7,357.5z" fill="#e00000" stroke="#e00000" stroke-width=".6"/>
<path d="M2156.7,398.3L2181,334.8L2160.4,323.9L2136.2,388.1z" fill="none"/>
<path d="M1879.4,599.2L1901.6,571.7L1882.8,556.1L1860.6,583.5z" fill="#009020"/>
<path d="M1616.4,569.2L1634.2,572.9L1616.2,556.3L1612.7,564.4z" fill="#009020" stroke="#009020" stroke-width=".6"/>
<path d="M1611.1,568L1616.4,569.2L1612.7,564.4z" fill="#00bb00" stroke="#00bb00" stroke-width=".6"/>
<path d="M1612.7,564.4L1616.2,556.3L1604.3,554z" fill="#009020" stroke="#009020" stroke-width=".6"/>
<path d="M1611.1,568L1612.7,564.4L1604.3,554L1593,551.8z" fill="#00bb00" stroke="#00bb00" stroke-width=".6"/>
<path d="M1611.1,568L1634.2,572.9L1616.2,556.3L1593,551.8z" fill="none"/>
<path d="M1920.7,586.8L1932.1,570.5L1922.2,565.3z" fill="#009020" stroke="#009020" stroke-width=".6"/>
<path d="M1932.1,570.5L1943,555L1923.9,540.4L1922.2,565.3z" fill="#00bb00" stroke="#00bb00" stroke-width=".6"/>
<path d="M1920.7,586.8L1922.2,565.3L1910.5,559.2L1901.6,571.7z" fill="#009020" stroke="#009020" stroke-width=".6"/>
<path d="M1922.2,565.3L1923.9,540.4L1910.5,559.2z" fill="#00bb00" stroke="#00bb00" stroke-width=".6"/>
<path d="M1920.7,586.8L1943,555L1923.9,540.4L1901.6,571.7z" fill="none"/>
<path d="M1652.3,589L1675.2,589.2L1657,572.7L1634.2,572.9z" fill="#009020"/>
<path d="M1962.2,569.3L1983.3,535.4L1965,525z" fill="#00bb00" stroke="#00bb00" stroke-width=".6"/>
<path d="M1983.3,535.4L1984.7,533L1965.4,519L1965,525z" fill="#00ee00" stroke="#00ee00" stroke-width=".6"/>
<path d="M1962.2,569.3L1965,525L1962.5,523.6L1943,555z" fill="#00bb00" stroke="#00bb00" stroke-width=".6"/>
<path d="M1965,525L1965.4,519L1962.5,523.6z" fill="#00ee00" stroke="#00ee00" stroke-width=".6"/>
<path d="M1962.2,569.3L1984.7,533L1965.4,519L1943,555z" fill="none"/>
<path d="M1704.6,603.3L1716,601L1702,588.4z" fill="#006040" stroke="#006040" stroke-width=".6"/>
<path d="M1693.4,605.5L1704.6,603.3L1702,588.4L1697.7,584.5z" fill="#009020" stroke="#009020" stroke-width=".6"/>
<path d="M1693.4,605.5L1697.7,584.5L1675.2,589.2z" fill="#009020" stroke="#009020" stroke-width=".6"/>
<path d="M1693.4,605.5L1716,601L1697.7,584.5L1675.2,589.2z" fill="none"/>
<path d="M2004.2,546.8L2026.8,507.4L2007.3,493.3L1984.7,533z" fill="#00ee00"/>
<path d="M1734.4,617.3L1756.8,607.7L1738.4,591.5L1716,601z" fill="#006040"/>
<path d="M1478.4,468.5L1485.2,473.8L1467.2,454.4L1466.9,454.4z" fill="#99ff00" stroke="#99ff00" stroke-width=".6"/>
<path d="M1460.4,454.4L1478.4,468.5L1466.9,454.4z" fill="#f0ff00" stroke="#f0ff00" stroke-width=".6"/>
<path d="M1466.9,454.4L1467.2,454.4L1466.4,453.8z" fill="#99ff00" stroke="#99ff00" stroke-width=".6"/>
<path d="M1460.4,454.4L1466.9,454.4L1466.4,453.8L1442.3,434z" fill="#f0ff00" stroke="#f0ff00" stroke-width=".6"/>
<path d="M1460.4,454.4L1485.2,473.8L1467.2,454.4L1442.3,434z" fill="none"/>
<path d="M2046.5,520.8L2050,514.5L2047,512.7z" fill="#00ee00" stroke="#00ee00" stroke-width=".6"/>
<path d="M2050,514.5L2069.4,479.1L2049.6,465.7L2047,512.7z" fill="#99ff00" stroke="#99ff00" stroke-width=".6"/>
<path d="M2046.5,520.8L2047,512.7L2029.5,502.4L2026.8,507.4z" fill="#00ee00" stroke="#00ee00" stroke-width=".6"/>
<path d="M2047,512.7L2049.6,465.7L2029.5,502.4z" fill="#99ff00" stroke="#99ff00" stroke-width=".6"/>
<path d="M2046.5,520.8L2069.4,479.1L2049.6,465.7L2026.8,507.4z" fill="none"/>
<path d="M1775.3,623.9L1797.5,609.4L1779,593.3L1756.8,607.7z" fill="#006040"/>
<path d="M1519.1,504.8L1527.6,510.7L1509.6,491.3L1508.8,491.6z" fill="#00ee00" stroke="#00ee00" stroke-width=".6"/>
<path d="M1503.2,493.8L1519.1,504.8L1508.8,491.6z" fill="#99ff00" stroke="#99ff00" stroke-width=".6"/>
<path d="M1508.8,491.6L1509.6,491.3L1507.4,489.8z" fill="#00ee00" stroke="#00ee00" stroke-width=".6"/>
<path d="M1503.2,493.8L1508.8,491.6L1507.4,489.8L1485.2,473.8z" fill="#99ff00" stroke="#99ff00" stroke-width=".6"/>
<path d="M1503.2,493.8L1527.6,510.7L1509.6,491.3L1485.2,473.8z" fill="none"/>
<path d="M2089.4,491L2093.4,482.8L2089.9,480.7z" fill="#99ff00" stroke="#99ff00" stroke-width=".6"/>
<path d="M2093.4,482.8L2112.6,444.2L2092.5,432.3L2089.9,480.7z" fill="#f0ff00" stroke="#f0ff00" stroke-width=".6"/>
<path d="M2089.4,491L2089.9,480.7L2073.7,470.4L2069.4,479.1z" fill="#99ff00" stroke="#99ff00" stroke-width=".6"/>
<path d="M2089.9,480.7L2092.5,432.3L2073.7,470.4z" fill="#f0ff00" stroke="#f0ff00" stroke-width=".6"/>
<path d="M2089.4,491L2112.6,444.2L2092.5,432.3L2069.4,479.1z" fill="none"/>
<path d="M1816.2,625.4L1838.4,606.5L1826.8,596.5L1819.3,594.4z" fill="#006040" stroke="#006040" stroke-width=".6"/>
<path d="M1826.8,596.5L1819.7,590.4L1819.3,594.4z" fill="#009020" stroke="#009020" stroke-width=".6"/>
<path d="M1816.2,625.4L1819.3,594.4L1816.2,593.4L1797.5,609.4z" fill="#006040" stroke="#006040" stroke-width=".6"/>
<path d="M1819.3,594.4L1819.7,590.4L1816.2,593.4z" fill="#009020" stroke="#009020" stroke-width=".6"/>
<path d="M1816.2,625.4L1838.4,606.5L1819.7,590.4L1797.5,609.4z" fill="none"/>
<path d="M1563.8,539L1569.5,542.3L1551.5,524.9L1551.3,525z" fill="#00bb00" stroke="#00bb00" stroke-width=".6"/>
<path d="M1545.6,528.6L1563.8,539L1551.3,525z" fill="#00ee00" stroke="#00ee00" stroke-width=".6"/>
<path d="M1551.3,525L1551.5,524.9L1550.8,524.4z" fill="#00bb00" stroke="#00bb00" stroke-width=".6"/>
<path d="M1545.6,528.6L1551.3,525L1550.8,524.4L1527.6,510.7z" fill="#00ee00" stroke="#00ee00" stroke-width=".6"/>
<path d="M1545.6,528.6L1569.5,542.3L1551.5,524.9L1527.6,510.7z" fill="none"/>
<path d="M2132.9,453.9L2133.4,452.7L2133,452.5z" fill="#f0ff00" stroke="#f0ff00" stroke-width=".6"/>
<path d="M2133.4,452.7L2151.3,411L2135.6,400.9L2133,452.5z" fill="#ffaa00" stroke="#ffaa00" stroke-width=".6"/>
<path d="M2151.3,411L2156.7,398.3L2136.2,388.1L2135.6,400.9z" fill="#ff4000" stroke="#ff4000" stroke-width=".6"/>
<path d="M2132.9,453.9L2133,452.5L2114.4,439.8L2112.6,444.2z" fill="#f0ff00" stroke="#f0ff00" stroke-width=".6"/>
<path d="M2133,452.5L2135.6,400.9L2131.9,398.4L2114.4,439.8z" fill="#ffaa00" stroke="#ffaa00" stroke-width=".6"/>
<path d="M2135.6,400.9L2136.2,388.1L2131.9,398.4z" fill="#ff4000" stroke="#ff4000" stroke-width=".6"/>
<path d="M2132.9,453.9L2156.7,398.3L2136.2,388.1L2112.6,444.2z" fill="none"/>
<path d="M1857.2,622L1866.3,612.6L1858.3,609.4z" fill="#006040" stroke="#006040" stroke-width=".6"/>
<path d="M1866.3,612.6L1879.4,599.2L1860.6,583.5L1858.3,609.4z" fill="#009020" stroke="#009020" stroke-width=".6"/>
<path d="M1857.2,622L1858.3,609.4L1842.4,602.4L1838.4,606.5z" fill="#006040" stroke="#006040" stroke-width=".6"/>
<path d="M1858.3,609.4L1860.6,583.5L1842.4,602.4z" fill="#009020" stroke="#009020" stroke-width=".6"/>
<path d="M1857.2,622L1879.4,599.2L1860.6,583.5L1838.4,606.5z" fill="none"/>
<path d="M1587.6,558.5L1611.1,568L1593,551.8L1569.5,542.3z" fill="#00bb00"/>
<path d="M1898.4,614.1L1920.7,586.8L1901.6,571.7L1879.4,599.2z" fill="#009020"/>
<path d="M1629.7,583.9L1652.3,589L1634.2,572.9L1629.3,583.5z" fill="#009020" stroke="#009020" stroke-width=".6"/>
<path d="M1629.2,583.8L1629.7,583.9L1629.3,583.5z" fill="#00bb00" stroke="#00bb00" stroke-width=".6"/>
<path d="M1629.3,583.5L1634.2,572.9L1616.4,569.2z" fill="#009020" stroke="#009020" stroke-width=".6"/>
<path d="M1629.2,583.8L1629.3,583.5L1616.4,569.2L1611.1,568z" fill="#00bb00" stroke="#00bb00" stroke-width=".6"/>
<path d="M1629.2,583.8L1652.3,589L1634.2,572.9L1611.1,568z" fill="none"/>
<path d="M1939.8,601.3L1953.2,582.2L1941.6,575.8z" fill="#009020" stroke="#009020" stroke-width=".6"/>
<path d="M1953.2,582.2L1962.2,569.3L1943,555L1941.6,575.8z" fill="#00bb00" stroke="#00bb00" stroke-width=".6"/>
<path d="M1939.8,601.3L1941.6,575.8L1932.1,570.5L1920.7,586.8z" fill="#009020" stroke="#009020" stroke-width=".6"/>
<path d="M1941.6,575.8L1943,555L1932.1,570.5z" fill="#00bb00" stroke="#00bb00" stroke-width=".6"/>
<path d="M1939.8,601.3L1962.2,569.3L1943,555L1920.7,586.8z" fill="none"/>
<path d="M1670.6,605L1693.4,605.5L1675.2,589.2L1652.3,589z" fill="#009020"/>
<path d="M1981.6,583.2L2003.9,547.3L1984.5,536.1z" fill="#00bb00" stroke="#00bb00" stroke-width=".6"/>
<path d="M2003.9,547.3L2004.2,546.8L1984.7,533L1984.5,536.1z" fill="#00ee00" stroke="#00ee00" stroke-width=".6"/>
<path d="M1981.6,583.2L1984.5,536.1L1983.3,535.4L1962.2,569.3z" fill="#00bb00" stroke="#00bb00" stroke-width=".6"/>
<path d="M1984.5,536.1L1984.7,533L1983.3,535.4z" fill="#00ee00" stroke="#00ee00" stroke-width=".6"/>
<path d="M1981.6,583.2L2004.2,546.8L1984.7,533L1962.2,569.3z" fill="none"/>
<path d="M1711.8,621.8L1734.4,617.3L1716,601z" fill="#006040" stroke="#006040" stroke-width=".6"/>
<path d="M1711.8,621.8L1716,601L1704.6,603.3L1708.4,618.8z" fill="#006040" stroke="#006040" stroke-width=".6"/>
<path d="M1704.6,603.3L1693.4,605.5L1708.4,618.8z" fill="#009020" stroke="#009020" stroke-width=".6"/>
<path d="M1711.8,621.8L1734.4,617.3L1716,601L1693.4,605.5z" fill="none"/>
<path d="M2023.8,560.2L2024.1,559.5L2023.8,559.4z" fill="#00bb00" stroke="#00bb00" stroke-width=".6"/>
<path d="M2024.1,559.5L2046.5,520.8L2026.8,507.4L2023.8,559.4z" fill="#00ee00" stroke="#00ee00" stroke-width=".6"/>
<path d="M2023.8,560.2L2023.8,559.4L2012.2,552.3z" fill="#00bb00" stroke="#00bb00" stroke-width=".6"/>
<path d="M2023.8,559.4L2026.8,507.4L2004.2,546.8L2012.2,552.3z" fill="#00ee00" stroke="#00ee00" stroke-width=".6"/>
<path d="M2023.8,560.2L2046.5,520.8L2026.8,507.4L2004.2,546.8z" fill="none"/>
<path d="M1752.9,633.5L1775.3,623.9L1756.8,607.7L1734.4,617.3z" fill="#006040"/>
<path d="M1489.5,483.7L1503.2,493.8L1485.2,473.8L1482.6,474.5z" fill="#99ff00" stroke="#99ff00" stroke-width=".6"/>
<path d="M1478.5,475.7L1489.5,483.7L1482.6,474.5z" fill="#f0ff00" stroke="#f0ff00" stroke-width=".6"/>
<path d="M1482.6,474.5L1485.2,473.8L1478.4,468.5z" fill="#99ff00" stroke="#99ff00" stroke-width=".6"/>
<path d="M1478.5,475.7L1482.6,474.5L1478.4,468.5L1460.4,454.4z" fill="#f0ff00" stroke="#f0ff00" stroke-width=".6"/>
<path d="M1478.5,475.7L1503.2,493.8L1485.2,473.8L1460.4,454.4z" fill="none"/>
<path d="M2066.4,532.9L2069.6,527.1L2066.8,525.3z" fill="#00ee00" stroke="#00ee00" stroke-width=".6"/>
<path d="M2069.6,527.1L2089.4,491L2069.4,479.1L2066.8,525.3z" fill="#99ff00" stroke="#99ff00" stroke-width=".6"/>
<path d="M2066.4,532.9L2066.8,525.3L2050,514.5L2046.5,520.8z" fill="#00ee00" stroke="#00ee00" stroke-width=".6"/>
<path d="M2066.8,525.3L2069.4,479.1L2050,514.5z" fill="#99ff00" stroke="#99ff00" stroke-width=".6"/>
<path d="M2066.4,532.9L2089.4,491L2069.4,479.1L2046.5,520.8z" fill="none"/>
<path d="M1793.9,639.8L1816.2,625.4L1797.5,609.4L1775.3,623.9z" fill="#006040"/>
<path d="M1532.1,519.4L1545.6,528.6L1527.6,510.7L1524.8,511.3z" fill="#00ee00" stroke="#00ee00" stroke-width=".6"/>
<path d="M1521.3,512.2L1532.1,519.4L1524.8,511.3z" fill="#99ff00" stroke="#99ff00" stroke-width=".6"/>
<path d="M1524.8,511.3L1527.6,510.7L1519.1,504.8z" fill="#00ee00" stroke="#00ee00" stroke-width=".6"/>
<path d="M1521.3,512.2L1524.8,511.3L1519.1,504.8L1503.2,493.8z" fill="#99ff00" stroke="#99ff00" stroke-width=".6"/>
<path d="M1521.3,512.2L1545.6,528.6L1527.6,510.7L1503.2,493.8z" fill="none"/>
<path d="M2109.6,501.1L2112.1,496L2109.9,494.4z" fill="#99ff00" stroke="#99ff00" stroke-width=".6"/>
<path d="M2112.1,496L2132.9,453.9L2112.6,444.2L2109.9,494.4z" fill="#f0ff00" stroke="#f0ff00" stroke-width=".6"/>
<path d="M2109.6,501.1L2109.9,494.4L2093.4,482.8L2089.4,491z" fill="#99ff00" stroke="#99ff00" stroke-width=".6"/>
<path d="M2109.9,494.4L2112.6,444.2L2093.4,482.8z" fill="#f0ff00" stroke="#f0ff00" stroke-width=".6"/>
<path d="M2109.6,501.1L2132.9,453.9L2112.6,444.2L2089.4,491z" fill="none"/>
<path d="M1835,640.8L1857.2,622L1838.4,606.5L1816.2,625.4z" fill="#006040"/>
<path d="M1578.1,553.2L1587.6,558.5L1569.5,542.3L1567.8,543.1z" fill="#00bb00" stroke="#00bb00" stroke-width=".6"/>
<path d="M1563.7,545L1578.1,553.2L1567.8,543.1z" fill="#00ee00" stroke="#00ee00" stroke-width=".6"/>
<path d="M1567.8,543.1L1569.5,542.3L1563.8,539z" fill="#00bb00" stroke="#00bb00" stroke-width=".6"/>
<path d="M1563.7,545L1567.8,543.1L1563.8,539L1545.6,528.6z" fill="#00ee00" stroke="#00ee00" stroke-width=".6"/>
<path d="M1563.7,545L1587.6,558.5L1569.5,542.3L1545.6,528.6z" fill="none"/>
<path d="M1876.1,636.9L1889.3,623.4L1877.8,618.1z" fill="#006040" stroke="#006040" stroke-width=".6"/>
<path d="M1889.3,623.4L1898.4,614.1L1879.4,599.2L1877.8,618.1z" fill="#009020" stroke="#009020" stroke-width=".6"/>
<path d="M1876.1,636.9L1877.8,618.1L1866.3,612.6L1857.2,622z" fill="#006040" stroke="#006040" stroke-width=".6"/>
<path d="M1877.8,618.1L1879.4,599.2L1866.3,612.6z" fill="#009020" stroke="#009020" stroke-width=".6"/>
<path d="M1876.1,636.9L1898.4,614.1L1879.4,599.2L1857.2,622z" fill="none"/>
<path d="M1605.7,574.1L1629.2,583.8L1611.1,568L1587.6,558.5z" fill="#00bb00"/>
<path d="M1917.5,628.9L1939.8,601.3L1920.7,586.8L1898.4,614.1z" fill="#009020"/>
<path d="M1647.5,599.5L1670.6,605L1652.3,589z" fill="#009020" stroke="#009020" stroke-width=".6"/>
<path d="M1647.5,599.5L1652.3,589L1629.7,583.9L1631.3,585.6z" fill="#009020" stroke="#009020" stroke-width=".6"/>
<path d="M1629.7,583.9L1629.2,583.8L1631.3,585.6z" fill="#00bb00" stroke="#00bb00" stroke-width=".6"/>
<path d="M1647.5,599.5L1670.6,605L1652.3,589L1629.2,583.8z" fill="none"/>
<path d="M1959.1,615.5L1973.9,594.2L1961.1,586.8z" fill="#009020" stroke="#009020" stroke-width=".6"/>
<path d="M1973.9,594.2L1981.6,583.2L1962.2,569.3L1961.1,586.8z" fill="#00bb00" stroke="#00bb00" stroke-width=".6"/>
<path d="M1959.1,615.5L1961.1,586.8L1953.2,582.2L1939.8,601.3z" fill="#009020" stroke="#009020" stroke-width=".6"/>
<path d="M1961.1,586.8L1962.2,569.3L1953.2,582.2z" fill="#00bb00" stroke="#00bb00" stroke-width=".6"/>
<path d="M1959.1,615.5L1981.6,583.2L1962.2,569.3L1939.8,601.3z" fill="none"/>
<path d="M1710.4,621.8L1711.8,621.8L1708.4,618.8z" fill="#006040" stroke="#006040" stroke-width=".6"/>
<path d="M1689,621.1L1710.4,621.8L1708.4,618.8L1693.4,605.5z" fill="#009020" stroke="#009020" stroke-width=".6"/>
<path d="M1689,621.1L1693.4,605.5L1670.6,605z" fill="#009020" stroke="#009020" stroke-width=".6"/>
<path d="M1689,621.1L1711.8,621.8L1693.4,605.5L1670.6,605z" fill="none"/>
<path d="M2001.1,596.6L2023.8,560.2L2012.2,552.3L2004.1,547.4z" fill="#00bb00" stroke="#00bb00" stroke-width=".6"/>
<path d="M2012.2,552.3L2004.2,546.8L2004.1,547.4z" fill="#00ee00" stroke="#00ee00" stroke-width=".6"/>
<path d="M2001.1,596.6L2004.1,547.4L2003.9,547.3L1981.6,583.2z" fill="#00bb00" stroke="#00bb00" stroke-width=".6"/>
<path d="M2004.1,547.4L2004.2,546.8L2003.9,547.3z" fill="#00ee00" stroke="#00ee00" stroke-width=".6"/>
<path d="M2001.1,596.6L2023.8,560.2L2004.2,546.8L1981.6,583.2z" fill="none"/>
<path d="M1730.3,638.1L1752.9,633.5L1734.4,617.3L1711.8,621.8z" fill="#006040"/>
<path d="M2043.8,572.3L2066.4,532.9L2046.5,520.8L2043.6,572.2z" fill="#00ee00" stroke="#00ee00" stroke-width=".6"/>
<path d="M2043.6,572.6L2043.6,572.2L2024.1,559.5L2023.8,560.2z" fill="#00bb00" stroke="#00bb00" stroke-width=".6"/>
<path d="M2043.6,572.2L2046.5,520.8L2024.1,559.5z" fill="#00ee00" stroke="#00ee00" stroke-width=".6"/>
<path d="M2043.6,572.6L2066.4,532.9L2046.5,520.8L2023.8,560.2z" fill="none"/>
<path d="M1771.5,649.5L1793.9,639.8L1775.3,623.9L1752.9,633.5z" fill="#006040"/>
<path d="M1502.3,498.5L1521.3,512.2L1503.2,493.8L1498.6,494.3z" fill="#99ff00" stroke="#99ff00" stroke-width=".6"/>
<path d="M1496.7,494.5L1502.3,498.5L1498.6,494.3z" fill="#f0ff00" stroke="#f0ff00" stroke-width=".6"/>
<path d="M1498.6,494.3L1503.2,493.8L1489.5,483.7z" fill="#99ff00" stroke="#99ff00" stroke-width=".6"/>
<path d="M1496.7,494.5L1498.6,494.3L1489.5,483.7L1478.5,475.7z" fill="#f0ff00" stroke="#f0ff00" stroke-width=".6"/>
<path d="M1496.7,494.5L1521.3,512.2L1503.2,493.8L1478.5,475.7z" fill="none"/>
<path d="M2086.5,543.6L2088.3,540.3L2086.7,539.3z" fill="#00ee00" stroke="#00ee00" stroke-width=".6"/>
<path d="M2088.3,540.3L2109.6,501.1L2089.4,491L2086.7,539.3z" fill="#99ff00" stroke="#99ff00" stroke-width=".6"/>
<path d="M2086.5,543.6L2086.7,539.3L2069.6,527.1L2066.4,532.9z" fill="#00ee00" stroke="#00ee00" stroke-width=".6"/>
<path d="M2086.7,539.3L2089.4,491L2069.6,527.1z" fill="#99ff00" stroke="#99ff00" stroke-width=".6"/>
<path d="M2086.5,543.6L2109.6,501.1L2089.4,491L2066.4,532.9z" fill="none"/>
<path d="M1812.6,655.3L1835,640.8L1816.2,625.4L1793.9,639.8z" fill="#006040"/>
<path d="M1546.5,533.6L1563.7,545L1545.6,528.6L1541.6,528.8z" fill="#00ee00" stroke="#00ee00" stroke-width=".6"/>
<path d="M1539.5,528.9L1546.5,533.6L1541.6,528.8z" fill="#99ff00" stroke="#99ff00" stroke-width=".6"/>
<path d="M1541.6,528.8L1545.6,528.6L1532.1,519.4z" fill="#00ee00" stroke="#00ee00" stroke-width=".6"/>
<path d="M1539.5,528.9L1541.6,528.8L1532.1,519.4L1521.3,512.2z" fill="#99ff00" stroke="#99ff00" stroke-width=".6"/>
<path d="M1539.5,528.9L1563.7,545L1545.6,528.6L1521.3,512.2z" fill="none"/>
<path d="M1853.8,655.8L1876.1,636.9L1857.2,622L1835,640.8z" fill="#006040"/>
<path d="M1593.3,567.1L1605.7,574.1L1587.6,558.5L1585,559.5z" fill="#00bb00" stroke="#00bb00" stroke-width=".6"/>
<path d="M1581.9,560.6L1593.3,567.1L1585,559.5z" fill="#00ee00" stroke="#00ee00" stroke-width=".6"/>
<path d="M1585,559.5L1587.6,558.5L1578.1,553.2z" fill="#00bb00" stroke="#00bb00" stroke-width=".6"/>
<path d="M1581.9,560.6L1585,559.5L1578.1,553.2L1563.7,545z" fill="#00ee00" stroke="#00ee00" stroke-width=".6"/>
<path d="M1581.9,560.6L1605.7,574.1L1587.6,558.5L1563.7,545z" fill="none"/>
<path d="M1895.2,651.7L1912.1,634.4L1897.3,627.3z" fill="#006040" stroke="#006040" stroke-width=".6"/>
<path d="M1912.1,634.4L1917.5,628.9L1898.4,614.1L1897.3,627.3z" fill="#009020" stroke="#009020" stroke-width=".6"/>
<path d="M1895.2,651.7L1897.3,627.3L1889.3,623.4L1876.1,636.9z" fill="#006040" stroke="#006040" stroke-width=".6"/>
<path d="M1897.3,627.3L1898.4,614.1L1889.3,623.4z" fill="#009020" stroke="#009020" stroke-width=".6"/>
<path d="M1895.2,651.7L1917.5,628.9L1898.4,614.1L1876.1,636.9z" fill="none"/>
<path d="M1644.4,598.2L1647.5,599.5L1631.3,585.6z" fill="#009020" stroke="#009020" stroke-width=".6"/>
<path d="M1624,589.5L1644.4,598.2L1631.3,585.6L1629.2,583.8z" fill="#00bb00" stroke="#00bb00" stroke-width=".6"/>
<path d="M1624,589.5L1629.2,583.8L1605.7,574.1z" fill="#00bb00" stroke="#00bb00" stroke-width=".6"/>
<path d="M1624,589.5L1647.5,599.5L1629.2,583.8L1605.7,574.1z" fill="none"/>
<path d="M1936.7,643.3L1959.1,615.5L1939.8,601.3L1917.5,628.9z" fill="#009020"/>
<path d="M1665.9,615.4L1689,621.1L1670.6,605L1647.5,599.5z" fill="#009020"/>
<path d="M1978.6,628.9L1994.1,606.6L1980.6,598.4z" fill="#009020" stroke="#009020" stroke-width=".6"/>
<path d="M1994.1,606.6L2001.1,596.6L1981.6,583.2L1980.6,598.4z" fill="#00bb00" stroke="#00bb00" stroke-width=".6"/>
<path d="M1978.6,628.9L1980.6,598.4L1973.9,594.2L1959.1,615.5z" fill="#009020" stroke="#009020" stroke-width=".6"/>
<path d="M1980.6,598.4L1981.6,583.2L1973.9,594.2z" fill="#00bb00" stroke="#00bb00" stroke-width=".6"/>
<path d="M1978.6,628.9L2001.1,596.6L1981.6,583.2L1959.1,615.5z" fill="none"/>
<path d="M1721.8,637.9L1730.3,638.1L1711.8,621.8L1711.4,623.1z" fill="#006040" stroke="#006040" stroke-width=".6"/>
<path d="M1707.5,637.4L1721.8,637.9L1711.4,623.1z" fill="#009020" stroke="#009020" stroke-width=".6"/>
<path d="M1711.4,623.1L1711.8,621.8L1710.4,621.8z" fill="#006040" stroke="#006040" stroke-width=".6"/>
<path d="M1707.5,637.4L1711.4,623.1L1710.4,621.8L1689,621.1z" fill="#009020" stroke="#009020" stroke-width=".6"/>
<path d="M1707.5,637.4L1730.3,638.1L1711.8,621.8L1689,621.1z" fill="none"/>
<path d="M2020.8,609L2043.6,572.6L2023.8,560.2L2001.1,596.6z" fill="#00bb00"/>
<path d="M1748.9,654.3L1771.5,649.5L1752.9,633.5L1730.3,638.1z" fill="#006040"/>
<path d="M2063.6,583.8L2086.5,543.6L2066.4,532.9z" fill="#00ee00" stroke="#00ee00" stroke-width=".6"/>
<path d="M2043.8,572.3L2043.6,572.6L2046.7,574.4z" fill="#00bb00" stroke="#00bb00" stroke-width=".6"/>
<path d="M2063.6,583.8L2066.4,532.9L2043.8,572.3L2046.7,574.4z" fill="#00ee00" stroke="#00ee00" stroke-width=".6"/>
<path d="M2063.6,583.8L2086.5,543.6L2066.4,532.9L2043.6,572.6z" fill="none"/>
<path d="M1790.2,665.1L1812.6,655.3L1793.9,639.8L1771.5,649.5z" fill="#006040"/>
<path d="M1516.8,512.6L1539.5,528.9L1521.3,512.2L1515.5,511.4z" fill="#99ff00" stroke="#99ff00" stroke-width=".6"/>
<path d="M1514.9,511.3L1516.8,512.6L1515.5,511.4z" fill="#f0ff00" stroke="#f0ff00" stroke-width=".6"/>
<path d="M1515.5,511.4L1521.3,512.2L1502.3,498.5z" fill="#99ff00" stroke="#99ff00" stroke-width=".6"/>
<path d="M1514.9,511.3L1515.5,511.4L1502.3,498.5L1496.7,494.5z" fill="#f0ff00" stroke="#f0ff00" stroke-width=".6"/>
<path d="M1514.9,511.3L1539.5,528.9L1521.3,512.2L1496.7,494.5z" fill="none"/>
<path d="M1831.5,670.4L1853.8,655.8L1835,640.8L1812.6,655.3z" fill="#006040"/>
<path d="M1562.1,547.4L1581.9,560.6L1563.7,545L1559,544.6z" fill="#00ee00" stroke="#00ee00" stroke-width=".6"/>
<path d="M1557.7,544.5L1562.1,547.4L1559,544.6z" fill="#99ff00" stroke="#99ff00" stroke-width=".6"/>
<path d="M1559,544.6L1563.7,545L1546.5,533.6z" fill="#00ee00" stroke="#00ee00" stroke-width=".6"/>
<path d="M1557.7,544.5L1559,544.6L1546.5,533.6L1539.5,528.9z" fill="#99ff00" stroke="#99ff00" stroke-width=".6"/>
<path d="M1557.7,544.5L1581.9,560.6L1563.7,545L1539.5,528.9z" fill="none"/>
<path d="M1872.9,670.6L1895.2,651.7L1876.1,636.9L1853.8,655.8z" fill="#006040"/>
<path d="M1609.2,580.9L1624,589.5L1605.7,574.1L1602.6,575.1z" fill="#00bb00" stroke="#00bb00" stroke-width=".6"/>
<path d="M1600.2,575.8L1609.2,580.9L1602.6,575.1z" fill="#00ee00" stroke="#00ee00" stroke-width=".6"/>
<path d="M1602.6,575.1L1605.7,574.1L1593.3,567.1z" fill="#00bb00" stroke="#00bb00" stroke-width=".6"/>
<path d="M1600.2,575.8L1602.6,575.1L1593.3,567.1L1581.9,560.6z" fill="#00ee00" stroke="#00ee00" stroke-width=".6"/>
<path d="M1600.2,575.8L1624,589.5L1605.7,574.1L1581.9,560.6z" fill="none"/>
<path d="M1914.4,666.2L1934.2,645.9L1916.8,636.9z" fill="#006040" stroke="#006040" stroke-width=".6"/>
<path d="M1934.2,645.9L1936.7,643.3L1917.5,628.9L1916.8,636.9z" fill="#009020" stroke="#009020" stroke-width=".6"/>
<path d="M1914.4,666.2L1916.8,636.9L1912.1,634.4L1895.2,651.7z" fill="#006040" stroke="#006040" stroke-width=".6"/>
<path d="M1916.8,636.9L1917.5,628.9L1912.1,634.4z" fill="#009020" stroke="#009020" stroke-width=".6"/>
<path d="M1914.4,666.2L1936.7,643.3L1917.5,628.9L1895.2,651.7z" fill="none"/>
<path d="M1659.4,612.5L1665.9,615.4L1647.5,599.5L1646.7,600.3z" fill="#009020" stroke="#009020" stroke-width=".6"/>
<path d="M1642.5,605.1L1659.4,612.5L1646.7,600.3z" fill="#00bb00" stroke="#00bb00" stroke-width=".6"/>
<path d="M1646.7,600.3L1647.5,599.5L1644.4,598.2z" fill="#009020" stroke="#009020" stroke-width=".6"/>
<path d="M1642.5,605.1L1646.7,600.3L1644.4,598.2L1624,589.5z" fill="#00bb00" stroke="#00bb00" stroke-width=".6"/>
<path d="M1642.5,605.1L1665.9,615.4L1647.5,599.5L1624,589.5z" fill="none"/>
<path d="M1956.1,656.9L1978.6,628.9L1959.1,615.5L1936.7,643.3z" fill="#009020"/>
<path d="M1684.4,631.4L1707.5,637.4L1689,621.1L1665.9,615.4z" fill="#009020"/>
<path d="M1998.2,641.2L2013.4,619.7L2000.2,610.8z" fill="#009020" stroke="#009020" stroke-width=".6"/>
<path d="M2013.4,619.7L2020.8,609L2001.1,596.6L2000.2,610.8z" fill="#00bb00" stroke="#00bb00" stroke-width=".6"/>
<path d="M1998.2,641.2L2000.2,610.8L1994.1,606.6L1978.6,628.9z" fill="#009020" stroke="#009020" stroke-width=".6"/>
<path d="M2000.2,610.8L2001.1,596.6L1994.1,606.6z" fill="#00bb00" stroke="#00bb00" stroke-width=".6"/>
<path d="M1998.2,641.2L2020.8,609L2001.1,596.6L1978.6,628.9z" fill="none"/>
<path d="M1734,653.8L1748.9,654.3L1730.3,638.1L1728.1,646.1z" fill="#006040" stroke="#006040" stroke-width=".6"/>
<path d="M1726.1,653.6L1734,653.8L1728.1,646.1z" fill="#009020" stroke="#009020" stroke-width=".6"/>
<path d="M1728.1,646.1L1730.3,638.1L1721.8,637.9z" fill="#006040" stroke="#006040" stroke-width=".6"/>
<path d="M1726.1,653.6L1728.1,646.1L1721.8,637.9L1707.5,637.4z" fill="#009020" stroke="#009020" stroke-width=".6"/>
<path d="M1726.1,653.6L1748.9,654.3L1730.3,638.1L1707.5,637.4z" fill="none"/>
<path d="M2040.7,620.2L2062.4,585.7L2046.7,574.4L2043.6,572.6z" fill="#00bb00" stroke="#00bb00" stroke-width=".6"/>
<path d="M2062.4,585.7L2063.6,583.8L2046.7,574.4z" fill="#00ee00" stroke="#00ee00" stroke-width=".6"/>
<path d="M2040.7,620.2L2043.6,572.6L2020.8,609z" fill="#00bb00" stroke="#00bb00" stroke-width=".6"/>
<path d="M2040.7,620.2L2063.6,583.8L2043.6,572.6L2020.8,609z" fill="none"/>
<path d="M1767.6,670L1790.2,665.1L1771.5,649.5L1748.9,654.3z" fill="#006040"/>
<path d="M1809,680.3L1831.5,670.4L1812.6,655.3L1790.2,665.1z" fill="#006040"/>
<path d="M1533.2,527L1557.7,544.5L1539.5,528.9z" fill="#99ff00" stroke="#99ff00" stroke-width=".6"/>
<path d="M1533.2,527L1539.5,528.9L1516.8,512.6L1528.2,522.7z" fill="#99ff00" stroke="#99ff00" stroke-width=".6"/>
<path d="M1516.8,512.6L1514.9,511.3L1528.2,522.7z" fill="#f0ff00" stroke="#f0ff00" stroke-width=".6"/>
<path d="M1533.2,527L1557.7,544.5L1539.5,528.9L1514.9,511.3z" fill="none"/>
<path d="M1850.5,685L1872.9,670.6L1853.8,655.8L1831.5,670.4z" fill="#006040"/>
<path d="M1578.6,561L1600.2,575.8L1581.9,560.6L1576.8,559.4z" fill="#00ee00" stroke="#00ee00" stroke-width=".6"/>
<path d="M1576.1,559.3L1578.6,561L1576.8,559.4z" fill="#99ff00" stroke="#99ff00" stroke-width=".6"/>
<path d="M1576.8,559.4L1581.9,560.6L1562.1,547.4z" fill="#00ee00" stroke="#00ee00" stroke-width=".6"/>
<path d="M1576.1,559.3L1576.8,559.4L1562.1,547.4L1557.7,544.5z" fill="#99ff00" stroke="#99ff00" stroke-width=".6"/>
<path d="M1576.1,559.3L1600.2,575.8L1581.9,560.6L1557.7,544.5z" fill="none"/>
<path d="M1892,684.9L1914.4,666.2L1895.2,651.7L1872.9,670.6z" fill="#006040"/>
<path d="M1625.2,594.9L1642.5,605.1L1624,589.5L1620.3,590.6z" fill="#00bb00" stroke="#00bb00" stroke-width=".6"/>
<path d="M1618.7,591L1625.2,594.9L1620.3,590.6z" fill="#00ee00" stroke="#00ee00" stroke-width=".6"/>
<path d="M1620.3,590.6L1624,589.5L1609.2,580.9z" fill="#00bb00" stroke="#00bb00" stroke-width=".6"/>
<path d="M1618.7,591L1620.3,590.6L1609.2,580.9L1600.2,575.8z" fill="#00ee00" stroke="#00ee00" stroke-width=".6"/>
<path d="M1618.7,591L1642.5,605.1L1624,589.5L1600.2,575.8z" fill="none"/>
<path d="M1933.7,680L1954.9,658.2L1936.4,647.2z" fill="#006040" stroke="#006040" stroke-width=".6"/>
<path d="M1954.9,658.2L1956.1,656.9L1936.7,643.3L1936.4,647.2z" fill="#009020" stroke="#009020" stroke-width=".6"/>
<path d="M1933.7,680L1936.4,647.2L1934.2,645.9L1914.4,666.2z" fill="#006040" stroke="#006040" stroke-width=".6"/>
<path d="M1936.4,647.2L1936.7,643.3L1934.2,645.9z" fill="#009020" stroke="#009020" stroke-width=".6"/>
<path d="M1933.7,680L1956.1,656.9L1936.7,643.3L1914.4,666.2z" fill="none"/>
<path d="M1674.6,627L1684.4,631.4L1665.9,615.4L1664.3,617.1z" fill="#009020" stroke="#009020" stroke-width=".6"/>
<path d="M1661,620.8L1674.6,627L1664.3,617.1z" fill="#00bb00" stroke="#00bb00" stroke-width=".6"/>
<path d="M1664.3,617.1L1665.9,615.4L1659.4,612.5z" fill="#009020" stroke="#009020" stroke-width=".6"/>
<path d="M1661,620.8L1664.3,617.1L1659.4,612.5L1642.5,605.1z" fill="#00bb00" stroke="#00bb00" stroke-width=".6"/>
<path d="M1661,620.8L1684.4,631.4L1665.9,615.4L1642.5,605.1z" fill="none"/>
<path d="M1975.7,669.5L1998.2,641.2L1978.6,628.9L1956.1,656.9z" fill="#009020"/>
<path d="M1703,647.4L1726.1,653.6L1707.5,637.4L1684.4,631.4z" fill="#009020"/>
<path d="M2018.1,652.3L2031.4,633.5L2019.8,624.8z" fill="#009020" stroke="#009020" stroke-width=".6"/>
<path d="M2031.4,633.5L2040.7,620.2L2020.8,609L2019.8,624.8z" fill="#00bb00" stroke="#00bb00" stroke-width=".6"/>
<path d="M2018.1,652.3L2019.8,624.8L2013.4,619.7L1998.2,641.2z" fill="#009020" stroke="#009020" stroke-width=".6"/>
<path d="M2019.8,624.8L2020.8,609L2013.4,619.7z" fill="#00bb00" stroke="#00bb00" stroke-width=".6"/>
<path d="M2018.1,652.3L2040.7,620.2L2020.8,609L1998.2,641.2z" fill="none"/>
<path d="M1747.1,669.5L1767.6,670L1748.9,654.3L1745.4,667.4z" fill="#006040" stroke="#006040" stroke-width=".6"/>
<path d="M1744.8,669.4L1747.1,669.5L1745.4,667.4z" fill="#009020" stroke="#009020" stroke-width=".6"/>
<path d="M1745.4,667.4L1748.9,654.3L1734,653.8z" fill="#006040" stroke="#006040" stroke-width=".6"/>
<path d="M1744.8,669.4L1745.4,667.4L1734,653.8L1726.1,653.6z" fill="#009020" stroke="#009020" stroke-width=".6"/>
<path d="M1744.8,669.4L1767.6,670L1748.9,654.3L1726.1,653.6z" fill="none"/>
<path d="M1786.5,685.2L1809,680.3L1790.2,665.1L1767.6,670z" fill="#006040"/>
<path d="M1828,694.9L1850.5,685L1831.5,670.4L1809,680.3z" fill="#006040"/>
<path d="M1551.6,541.1L1576.1,559.3L1557.7,544.5L1533.2,527z" fill="#99ff00"/>
<path d="M1869.6,699.1L1892,684.9L1872.9,670.6L1850.5,685z" fill="#006040"/>
<path d="M1595.3,574.7L1618.7,591L1600.2,575.8L1594.7,574.2z" fill="#00ee00" stroke="#00ee00" stroke-width=".6"/>
<path d="M1594.7,574.2L1600.2,575.8L1578.6,561z" fill="#00ee00" stroke="#00ee00" stroke-width=".6"/>
<path d="M1594.6,574.2L1594.7,574.2L1578.6,561L1576.1,559.3z" fill="#99ff00" stroke="#99ff00" stroke-width=".6"/>
<path d="M1594.6,574.2L1618.7,591L1600.2,575.8L1576.1,559.3z" fill="none"/>
<path d="M1911.4,698.4L1933.7,680L1914.4,666.2L1892,684.9z" fill="#006040"/>
<path d="M1641.2,609L1661,620.8L1642.5,605.1L1638.2,606.3z" fill="#00bb00" stroke="#00bb00" stroke-width=".6"/>
<path d="M1637.3,606.6L1641.2,609L1638.2,606.3z" fill="#00ee00" stroke="#00ee00" stroke-width=".6"/>
<path d="M1638.2,606.3L1642.5,605.1L1625.2,594.9z" fill="#00bb00" stroke="#00bb00" stroke-width=".6"/>
<path d="M1637.3,606.6L1638.2,606.3L1625.2,594.9L1618.7,591z" fill="#00ee00" stroke="#00ee00" stroke-width=".6"/>
<path d="M1637.3,606.6L1661,620.8L1642.5,605.1L1618.7,591z" fill="none"/>
<path d="M1953.3,692.8L1973.7,671.6L1956,659z" fill="#006040" stroke="#006040" stroke-width=".6"/>
<path d="M1973.7,671.6L1975.7,669.5L1956.1,656.9L1956,659z" fill="#009020" stroke="#009020" stroke-width=".6"/>
<path d="M1953.3,692.8L1956,659L1954.9,658.2L1933.7,680z" fill="#006040" stroke="#006040" stroke-width=".6"/>
<path d="M1956,659L1956.1,656.9L1954.9,658.2z" fill="#009020" stroke="#009020" stroke-width=".6"/>
<path d="M1953.3,692.8L1975.7,669.5L1956.1,656.9L1933.7,680z" fill="none"/>
<path d="M1690,641.5L1703,647.4L1684.4,631.4L1682.1,634z" fill="#009020" stroke="#009020" stroke-width=".6"/>
<path d="M1679.7,636.7L1690,641.5L1682.1,634z" fill="#00bb00" stroke="#00bb00" stroke-width=".6"/>
<path d="M1682.1,634L1684.4,631.4L1674.6,627z" fill="#009020" stroke="#009020" stroke-width=".6"/>
<path d="M1679.7,636.7L1682.1,634L1674.6,627L1661,620.8z" fill="#00bb00" stroke="#00bb00" stroke-width=".6"/>
<path d="M1679.7,636.7L1703,647.4L1684.4,631.4L1661,620.8z" fill="none"/>
<path d="M1995.5,681L2018.1,652.3L1998.2,641.2L1975.7,669.5z" fill="#009020"/>
<path d="M1721.8,663.3L1744.8,669.4L1726.1,653.6L1703,647.4z" fill="#009020"/>
<path d="M1763.7,684.8L1786.5,685.2L1767.6,670z" fill="#006040" stroke="#006040" stroke-width=".6"/>
<path d="M1763.7,684.8L1767.6,670L1747.1,669.5L1754.6,677.4z" fill="#006040" stroke="#006040" stroke-width=".6"/>
<path d="M1747.1,669.5L1744.8,669.4L1754.6,677.4z" fill="#009020" stroke="#009020" stroke-width=".6"/>
<path d="M1763.7,684.8L1786.5,685.2L1767.6,670L1744.8,669.4z" fill="none"/>
<path d="M1805.4,699.9L1828,694.9L1809,680.3L1786.5,685.2z" fill="#006040"/>
<path d="M1847.2,708.8L1869.6,699.1L1850.5,685L1828,694.9z" fill="#006040"/>
<path d="M1570.1,555.6L1594.6,574.2L1576.1,559.3L1551.6,541.1z" fill="#99ff00"/>
<path d="M1888.9,712.4L1911.4,698.4L1892,684.9L1869.6,699.1z" fill="#006040"/>
<path d="M1613.2,589.6L1637.3,606.6L1618.7,591z" fill="#00ee00" stroke="#00ee00" stroke-width=".6"/>
<path d="M1613.2,589.6L1618.7,591L1595.3,574.7L1600.8,579.3z" fill="#00ee00" stroke="#00ee00" stroke-width=".6"/>
<path d="M1595.3,574.7L1594.6,574.2L1600.8,579.3z" fill="#99ff00" stroke="#99ff00" stroke-width=".6"/>
<path d="M1613.2,589.6L1637.3,606.6L1618.7,591L1594.6,574.2z" fill="none"/>
<path d="M1930.8,711.2L1953.3,692.8L1933.7,680L1911.4,698.4z" fill="#006040"/>
<path d="M1657.4,623.2L1679.7,636.7L1661,620.8L1656.3,622.2z" fill="#00bb00" stroke="#00bb00" stroke-width=".6"/>
<path d="M1656,622.3L1657.4,623.2L1656.3,622.2z" fill="#00ee00" stroke="#00ee00" stroke-width=".6"/>
<path d="M1656.3,622.2L1661,620.8L1641.2,609z" fill="#00bb00" stroke="#00bb00" stroke-width=".6"/>
<path d="M1656,622.3L1656.3,622.2L1641.2,609L1637.3,606.6z" fill="#00ee00" stroke="#00ee00" stroke-width=".6"/>
<path d="M1656,622.3L1679.7,636.7L1661,620.8L1637.3,606.6z" fill="none"/>
<path d="M1972.9,705L1990.7,686.1L1975.4,673z" fill="#006040" stroke="#006040" stroke-width=".6"/>
<path d="M1990.7,686.1L1995.5,681L1975.7,669.5L1975.4,673z" fill="#009020" stroke="#009020" stroke-width=".6"/>
<path d="M1972.9,705L1975.4,673L1973.7,671.6L1953.3,692.8z" fill="#006040" stroke="#006040" stroke-width=".6"/>
<path d="M1975.4,673L1975.7,669.5L1973.7,671.6z" fill="#009020" stroke="#009020" stroke-width=".6"/>
<path d="M1972.9,705L1995.5,681L1975.7,669.5L1953.3,692.8z" fill="none"/>
<path d="M1705.9,655.9L1721.8,663.3L1703,647.4L1700.1,650.6z" fill="#009020" stroke="#009020" stroke-width=".6"/>
<path d="M1698.5,652.5L1705.9,655.9L1700.1,650.6z" fill="#00bb00" stroke="#00bb00" stroke-width=".6"/>
<path d="M1700.1,650.6L1703,647.4L1690,641.5z" fill="#009020" stroke="#009020" stroke-width=".6"/>
<path d="M1698.5,652.5L1700.1,650.6L1690,641.5L1679.7,636.7z" fill="#00bb00" stroke="#00bb00" stroke-width=".6"/>
<path d="M1698.5,652.5L1721.8,663.3L1703,647.4L1679.7,636.7z" fill="none"/>
<path d="M1762.2,684.5L1763.7,684.8L1754.6,677.4z" fill="#006040" stroke="#006040" stroke-width=".6"/>
<path d="M1740.7,678.7L1762.2,684.5L1754.6,677.4L1744.8,669.4z" fill="#009020" stroke="#009020" stroke-width=".6"/>
<path d="M1740.7,678.7L1744.8,669.4L1721.8,663.3z" fill="#009020" stroke="#009020" stroke-width=".6"/>
<path d="M1740.7,678.7L1763.7,684.8L1744.8,669.4L1721.8,663.3z" fill="none"/>
<path d="M1782.7,699.6L1805.4,699.9L1786.5,685.2L1763.7,684.8z" fill="#006040"/>
<path d="M1824.6,713.8L1847.2,708.8L1828,694.9L1805.4,699.9z" fill="#006040"/>
<path d="M1866.4,721.9L1888.9,712.4L1869.6,699.1L1847.2,708.8z" fill="#006040"/>
<path d="M1611.8,588.6L1613.2,589.6L1600.8,579.3z" fill="#00ee00" stroke="#00ee00" stroke-width=".6"/>
<path d="M1588.7,571.1L1611.8,588.6L1600.8,579.3L1594.6,574.2z" fill="#99ff00" stroke="#99ff00" stroke-width=".6"/>
<path d="M1588.7,571.1L1594.6,574.2L1570.1,555.6z" fill="#99ff00" stroke="#99ff00" stroke-width=".6"/>
<path d="M1588.7,571.1L1613.2,589.6L1594.6,574.2L1570.1,555.6z" fill="none"/>
<path d="M1908.4,724.9L1930.8,711.2L1911.4,698.4L1888.9,712.4z" fill="#006040"/>
<path d="M1631.9,605.4L1656,622.3L1637.3,606.6L1613.2,589.6z" fill="#00ee00"/>
<path d="M1950.5,723.5L1972.9,705L1953.3,692.8L1930.8,711.2z" fill="#006040"/>
<path d="M1674.8,638L1698.5,652.5L1679.7,636.7z" fill="#00bb00" stroke="#00bb00" stroke-width=".6"/>
<path d="M1674.8,638L1679.7,636.7L1657.4,623.2L1667.1,631.6z" fill="#00bb00" stroke="#00bb00" stroke-width=".6"/>
<path d="M1657.4,623.2L1656,622.3L1667.1,631.6z" fill="#00ee00" stroke="#00ee00" stroke-width=".6"/>
<path d="M1674.8,638L1698.5,652.5L1679.7,636.7L1656,622.3z" fill="none"/>
<path d="M1722.5,670.2L1740.7,678.7L1721.8,663.3L1718.4,666.7z" fill="#009020" stroke="#009020" stroke-width=".6"/>
<path d="M1717.4,667.9L1722.5,670.2L1718.4,666.7z" fill="#00bb00" stroke="#00bb00" stroke-width=".6"/>
<path d="M1718.4,666.7L1721.8,663.3L1705.9,655.9z" fill="#009020" stroke="#009020" stroke-width=".6"/>
<path d="M1717.4,667.9L1718.4,666.7L1705.9,655.9L1698.5,652.5z" fill="#00bb00" stroke="#00bb00" stroke-width=".6"/>
<path d="M1717.4,667.9L1740.7,678.7L1721.8,663.3L1698.5,652.5z" fill="none"/>
<path d="M1779.1,698.7L1782.7,699.6L1763.7,684.8L1763.4,685.5z" fill="#006040" stroke="#006040" stroke-width=".6"/>
<path d="M1759.7,693.6L1779.1,698.7L1763.4,685.5z" fill="#009020" stroke="#009020" stroke-width=".6"/>
<path d="M1763.4,685.5L1763.7,684.8L1762.2,684.5z" fill="#006040" stroke="#006040" stroke-width=".6"/>
<path d="M1759.7,693.6L1763.4,685.5L1762.2,684.5L1740.7,678.7z" fill="#009020" stroke="#009020" stroke-width=".6"/>
<path d="M1759.7,693.6L1782.7,699.6L1763.7,684.8L1740.7,678.7z" fill="none"/>
<path d="M1801.8,713.6L1824.6,713.8L1805.4,699.9L1782.7,699.6z" fill="#006040"/>
<path d="M1843.8,726.7L1866.4,721.9L1847.2,708.8L1824.6,713.8z" fill="#006040"/>
<path d="M1885.9,734.2L1908.4,724.9L1888.9,712.4L1866.4,721.9z" fill="#006040"/>
<path d="M1628.3,602.6L1631.9,605.4L1613.2,589.6L1612.8,589.4z" fill="#00ee00" stroke="#00ee00" stroke-width=".6"/>
<path d="M1607.5,587L1628.3,602.6L1612.8,589.4z" fill="#99ff00" stroke="#99ff00" stroke-width=".6"/>
<path d="M1612.8,589.4L1613.2,589.6L1611.8,588.6z" fill="#00ee00" stroke="#00ee00" stroke-width=".6"/>
<path d="M1607.5,587L1612.8,589.4L1611.8,588.6L1588.7,571.1z" fill="#99ff00" stroke="#99ff00" stroke-width=".6"/>
<path d="M1607.5,587L1631.9,605.4L1613.2,589.6L1588.7,571.1z" fill="none"/>
<path d="M1928,737L1950.5,723.5L1930.8,711.2L1908.4,724.9z" fill="#006040"/>
<path d="M1673.9,637.4L1674.8,638L1667.1,631.6z" fill="#00bb00" stroke="#00bb00" stroke-width=".6"/>
<path d="M1650.8,621.1L1673.9,637.4L1667.1,631.6L1656,622.3z" fill="#00ee00" stroke="#00ee00" stroke-width=".6"/>
<path d="M1650.8,621.1L1656,622.3L1631.9,605.4z" fill="#00ee00" stroke="#00ee00" stroke-width=".6"/>
<path d="M1650.8,621.1L1674.8,638L1656,622.3L1631.9,605.4z" fill="none"/>
<path d="M1693.8,653.4L1717.4,667.9L1698.5,652.5L1674.8,638z" fill="#00bb00"/>
<path d="M1739.9,684.3L1759.7,693.6L1740.7,678.7L1737.1,682.1z" fill="#009020" stroke="#009020" stroke-width=".6"/>
<path d="M1736.4,682.7L1739.9,684.3L1737.1,682.1z" fill="#00bb00" stroke="#00bb00" stroke-width=".6"/>
<path d="M1737.1,682.1L1740.7,678.7L1722.5,670.2z" fill="#009020" stroke="#009020" stroke-width=".6"/>
<path d="M1736.4,682.7L1737.1,682.1L1722.5,670.2L1717.4,667.9z" fill="#00bb00" stroke="#00bb00" stroke-width=".6"/>
<path d="M1736.4,682.7L1759.7,693.6L1740.7,678.7L1717.4,667.9z" fill="none"/>
<path d="M1797.4,712.5L1801.8,713.6L1782.7,699.6L1782.1,700.9z" fill="#006040" stroke="#006040" stroke-width=".6"/>
<path d="M1778.8,707.7L1797.4,712.5L1782.1,700.9z" fill="#009020" stroke="#009020" stroke-width=".6"/>
<path d="M1782.1,700.9L1782.7,699.6L1779.1,698.7z" fill="#006040" stroke="#006040" stroke-width=".6"/>
<path d="M1778.8,707.7L1782.1,700.9L1779.1,698.7L1759.7,693.6z" fill="#009020" stroke="#009020" stroke-width=".6"/>
<path d="M1778.8,707.7L1801.8,713.6L1782.7,699.6L1759.7,693.6z" fill="none"/>
<path d="M1821.1,726.6L1843.8,726.7L1824.6,713.8L1801.8,713.6z" fill="#006040"/>
<path d="M1863.3,738.8L1885.9,734.2L1866.4,721.9L1843.8,726.7z" fill="#006040"/>
<path d="M1905.5,746.1L1928,737L1908.4,724.9L1885.9,734.2z" fill="#006040"/>
<path d="M1645,616.8L1650.8,621.1L1631.9,605.4L1631,605z" fill="#00ee00" stroke="#00ee00" stroke-width=".6"/>
<path d="M1626.5,602.9L1645,616.8L1631,605z" fill="#99ff00" stroke="#99ff00" stroke-width=".6"/>
<path d="M1631,605L1631.9,605.4L1628.3,602.6z" fill="#00ee00" stroke="#00ee00" stroke-width=".6"/>
<path d="M1626.5,602.9L1631,605L1628.3,602.6L1607.5,587z" fill="#99ff00" stroke="#99ff00" stroke-width=".6"/>
<path d="M1626.5,602.9L1650.8,621.1L1631.9,605.4L1607.5,587z" fill="none"/>
<path d="M1691.1,651.5L1693.8,653.4L1674.8,638L1674.6,638z" fill="#00bb00" stroke="#00bb00" stroke-width=".6"/>
<path d="M1669.8,636.5L1691.1,651.5L1674.6,638z" fill="#00ee00" stroke="#00ee00" stroke-width=".6"/>
<path d="M1669.8,636.5L1674.6,638L1673.9,637.4L1650.8,621.1z" fill="#00ee00" stroke="#00ee00" stroke-width=".6"/>
<path d="M1669.8,636.5L1693.8,653.4L1674.8,638L1650.8,621.1z" fill="none"/>
<path d="M1712.8,668.2L1736.4,682.7L1717.4,667.9L1693.8,653.4z" fill="#00bb00"/>
<path d="M1758.4,698.1L1778.8,707.7L1759.7,693.6L1756.1,696.4z" fill="#009020" stroke="#009020" stroke-width=".6"/>
<path d="M1755.6,696.8L1758.4,698.1L1756.1,696.4z" fill="#00bb00" stroke="#00bb00" stroke-width=".6"/>
<path d="M1756.1,696.4L1759.7,693.6L1739.9,684.3z" fill="#009020" stroke="#009020" stroke-width=".6"/>
<path d="M1755.6,696.8L1756.1,696.4L1739.9,684.3L1736.4,682.7z" fill="#00bb00" stroke="#00bb00" stroke-width=".6"/>
<path d="M1755.6,696.8L1778.8,707.7L1759.7,693.6L1736.4,682.7z" fill="none"/>
<path d="M1817.3,725.6L1821.1,726.6L1801.8,713.6L1801.1,715z" fill="#006040" stroke="#006040" stroke-width=".6"/>
<path d="M1798.1,720.7L1817.3,725.6L1801.1,715z" fill="#009020" stroke="#009020" stroke-width=".6"/>
<path d="M1801.1,715L1801.8,713.6L1797.4,712.5z" fill="#006040" stroke="#006040" stroke-width=".6"/>
<path d="M1798.1,720.7L1801.1,715L1797.4,712.5L1778.8,707.7z" fill="#009020" stroke="#009020" stroke-width=".6"/>
<path d="M1798.1,720.7L1821.1,726.6L1801.8,713.6L1778.8,707.7z" fill="none"/>
<path d="M1840.5,738.5L1863.3,738.8L1843.8,726.7L1821.1,726.6z" fill="#006040"/>
<path d="M1882.9,750.4L1905.5,746.1L1885.9,734.2L1863.3,738.8z" fill="#006040"/>
<path d="M1662.3,630.9L1669.8,636.5L1650.8,621.1L1649.4,620.4z" fill="#00ee00" stroke="#00ee00" stroke-width=".6"/>
<path d="M1645.5,618.2L1662.3,630.9L1649.4,620.4z" fill="#99ff00" stroke="#99ff00" stroke-width=".6"/>
<path d="M1649.4,620.4L1650.8,621.1L1645,616.8z" fill="#00ee00" stroke="#00ee00" stroke-width=".6"/>
<path d="M1645.5,618.2L1649.4,620.4L1645,616.8L1626.5,602.9z" fill="#99ff00" stroke="#99ff00" stroke-width=".6"/>
<path d="M1645.5,618.2L1669.8,636.5L1650.8,621.1L1626.5,602.9z" fill="none"/>
<path d="M1708.9,665.4L1712.8,668.2L1693.8,653.4L1693.2,653.2z" fill="#00bb00" stroke="#00bb00" stroke-width=".6"/>
<path d="M1688.9,651.4L1708.9,665.4L1693.2,653.2z" fill="#00ee00" stroke="#00ee00" stroke-width=".6"/>
<path d="M1693.2,653.2L1693.8,653.4L1691.1,651.5z" fill="#00bb00" stroke="#00bb00" stroke-width=".6"/>
<path d="M1688.9,651.4L1693.2,653.2L1691.1,651.5L1669.8,636.5z" fill="#00ee00" stroke="#00ee00" stroke-width=".6"/>
<path d="M1688.9,651.4L1712.8,668.2L1693.8,653.4L1669.8,636.5z" fill="none"/>
<path d="M1732.1,682.5L1755.6,696.8L1736.4,682.7L1712.8,668.2z" fill="#00bb00"/>
<path d="M1778,711.5L1798.1,720.7L1778.8,707.7L1775.4,709.8z" fill="#009020" stroke="#009020" stroke-width=".6"/>
<path d="M1774.9,710.1L1778,711.5L1775.4,709.8z" fill="#00bb00" stroke="#00bb00" stroke-width=".6"/>
<path d="M1775.4,709.8L1778.8,707.7L1758.4,698.1z" fill="#009020" stroke="#009020" stroke-width=".6"/>
<path d="M1774.9,710.1L1775.4,709.8L1758.4,698.1L1755.6,696.8z" fill="#00bb00" stroke="#00bb00" stroke-width=".6"/>
<path d="M1774.9,710.1L1798.1,720.7L1778.8,707.7L1755.6,696.8z" fill="none"/>
<path d="M1839,738.1L1840.5,738.5L1821.1,726.6L1820.6,727.5z" fill="#006040" stroke="#006040" stroke-width=".6"/>
<path d="M1817.6,732.8L1839,738.1L1820.6,727.5z" fill="#009020" stroke="#009020" stroke-width=".6"/>
<path d="M1820.6,727.5L1821.1,726.6L1817.3,725.6z" fill="#006040" stroke="#006040" stroke-width=".6"/>
<path d="M1817.6,732.8L1820.6,727.5L1817.3,725.6L1798.1,720.7z" fill="#009020" stroke="#009020" stroke-width=".6"/>
<path d="M1817.6,732.8L1840.5,738.5L1821.1,726.6L1798.1,720.7z" fill="none"/>
<path d="M1862.1,750L1882.9,750.4L1863.3,738.8L1860.4,749.1z" fill="#006040" stroke="#006040" stroke-width=".6"/>
<path d="M1860.1,749.9L1862.1,750L1860.4,749.1z" fill="#009020" stroke="#009020" stroke-width=".6"/>
<path d="M1860.4,749.1L1863.3,738.8L1840.5,738.5L1850.8,744.5z" fill="#006040" stroke="#006040" stroke-width=".6"/>
<path d="M1860.1,749.9L1860.4,749.1L1850.8,744.5z" fill="#009020" stroke="#009020" stroke-width=".6"/>
<path d="M1860.1,749.9L1882.9,750.4L1863.3,738.8L1840.5,738.5z" fill="none"/>
<path d="M1680.2,644.8L1688.9,651.4L1669.8,636.5L1668.1,635.4z" fill="#00ee00" stroke="#00ee00" stroke-width=".6"/>
<path d="M1664.7,633.2L1680.2,644.8L1668.1,635.4z" fill="#99ff00" stroke="#99ff00" stroke-width=".6"/>
<path d="M1668.1,635.4L1669.8,636.5L1662.3,630.9z" fill="#00ee00" stroke="#00ee00" stroke-width=".6"/>
<path d="M1664.7,633.2L1668.1,635.4L1662.3,630.9L1645.5,618.2z" fill="#99ff00" stroke="#99ff00" stroke-width=".6"/>
<path d="M1664.7,633.2L1688.9,651.4L1669.8,636.5L1645.5,618.2z" fill="none"/>
<path d="M1727.4,679.2L1732.1,682.5L1712.8,668.2L1712,667.8z" fill="#00bb00" stroke="#00bb00" stroke-width=".6"/>
<path d="M1708.2,665.8L1727.4,679.2L1712,667.8z" fill="#00ee00" stroke="#00ee00" stroke-width=".6"/>
<path d="M1712,667.8L1712.8,668.2L1708.9,665.4z" fill="#00bb00" stroke="#00bb00" stroke-width=".6"/>
<path d="M1708.2,665.8L1712,667.8L1708.9,665.4L1688.9,651.4z" fill="#00ee00" stroke="#00ee00" stroke-width=".6"/>
<path d="M1708.2,665.8L1732.1,682.5L1712.8,668.2L1688.9,651.4z" fill="none"/>
<path d="M1751.4,696L1774.9,710.1L1755.6,696.8L1732.1,682.5z" fill="#00bb00"/>
<path d="M1798.8,724.5L1817.6,732.8L1798.1,720.7L1795.1,722.2z" fill="#009020" stroke="#009020" stroke-width=".6"/>
<path d="M1794.4,722.5L1798.8,724.5L1795.1,722.2z" fill="#00bb00" stroke="#00bb00" stroke-width=".6"/>
<path d="M1795.1,722.2L1798.1,720.7L1778,711.5z" fill="#009020" stroke="#009020" stroke-width=".6"/>
<path d="M1794.4,722.5L1795.1,722.2L1778,711.5L1774.9,710.1z" fill="#00bb00" stroke="#00bb00" stroke-width=".6"/>
<path d="M1794.4,722.5L1817.6,732.8L1798.1,720.7L1774.9,710.1z" fill="none"/>
<path d="M1850.8,744.5L1840.5,738.5L1840.3,738.8z" fill="#006040" stroke="#006040" stroke-width=".6"/>
<path d="M1837.2,744.5L1860.1,749.9L1850.8,744.5L1840.3,738.8z" fill="#009020" stroke="#009020" stroke-width=".6"/>
<path d="M1840.3,738.8L1840.5,738.5L1839,738.1z" fill="#006040" stroke="#006040" stroke-width=".6"/>
<path d="M1837.2,744.5L1840.3,738.8L1839,738.1L1817.6,732.8z" fill="#009020" stroke="#009020" stroke-width=".6"/>
<path d="M1837.2,744.5L1860.1,749.9L1840.5,738.5L1817.6,732.8z" fill="none"/>
<path d="M1698.7,658.7L1708.2,665.8L1688.9,651.4L1687.1,650.1z" fill="#00ee00" stroke="#00ee00" stroke-width=".6"/>
<path d="M1684,647.8L1698.7,658.7L1687.1,650.1z" fill="#99ff00" stroke="#99ff00" stroke-width=".6"/>
<path d="M1687.1,650.1L1688.9,651.4L1680.2,644.8z" fill="#00ee00" stroke="#00ee00" stroke-width=".6"/>
<path d="M1684,647.8L1687.1,650.1L1680.2,644.8L1664.7,633.2z" fill="#99ff00" stroke="#99ff00" stroke-width=".6"/>
<path d="M1684,647.8L1708.2,665.8L1688.9,651.4L1664.7,633.2z" fill="none"/>
<path d="M1746.7,692.8L1751.4,696L1732.1,682.5L1731.2,681.9z" fill="#00bb00" stroke="#00bb00" stroke-width=".6"/>
<path d="M1727.6,679.8L1746.7,692.8L1731.2,681.9z" fill="#00ee00" stroke="#00ee00" stroke-width=".6"/>
<path d="M1731.2,681.9L1732.1,682.5L1727.4,679.2z" fill="#00bb00" stroke="#00bb00" stroke-width=".6"/>
<path d="M1727.6,679.8L1731.2,681.9L1727.4,679.2L1708.2,665.8z" fill="#00ee00" stroke="#00ee00" stroke-width=".6"/>
<path d="M1727.6,679.8L1751.4,696L1732.1,682.5L1708.2,665.8z" fill="none"/>
<path d="M1770.9,709L1794.4,722.5L1774.9,710.1L1751.4,696z" fill="#00bb00"/>
<path d="M1820.3,737.3L1837.2,744.5L1817.6,732.8L1814.9,734.1z" fill="#009020" stroke="#009020" stroke-width=".6"/>
<path d="M1814,734.6L1820.3,737.3L1814.9,734.1z" fill="#00bb00" stroke="#00bb00" stroke-width=".6"/>
<path d="M1814.9,734.1L1817.6,732.8L1798.8,724.5z" fill="#009020" stroke="#009020" stroke-width=".6"/>
<path d="M1814,734.6L1814.9,734.1L1798.8,724.5L1794.4,722.5z" fill="#00bb00" stroke="#00bb00" stroke-width=".6"/>
<path d="M1814,734.6L1837.2,744.5L1817.6,732.8L1794.4,722.5z" fill="none"/>
<path d="M1703.4,662.3L1727.6,679.8L1708.2,665.8z" fill="#c6c6c6" stroke="#c6c6c6" stroke-width=".6"/>
<path d="M1706.3,664.4L1708.2,665.8L1698.7,658.7z" fill="#00ee00" stroke="#00ee00" stroke-width=".6"/>
<path d="M1703.4,662.3L1706.3,664.4L1698.7,658.7L1684,647.8z" fill="#99ff00" stroke="#99ff00" stroke-width=".6"/>
<path d="M1703.4,662.3L1727.6,679.8L1708.2,665.8L1684,647.8z" fill="none"/>
<path d="M1766.8,706.3L1770.9,709L1751.4,696L1750.6,695.5z" fill="#00bb00" stroke="#00bb00" stroke-width=".6"/>
<path d="M1747.2,693.3L1766.8,706.3L1750.6,695.5z" fill="#00ee00" stroke="#00ee00" stroke-width=".6"/>
<path d="M1750.6,695.5L1751.4,696L1746.7,692.8z" fill="#00bb00" stroke="#00bb00" stroke-width=".6"/>
<path d="M1747.2,693.3L1750.6,695.5L1746.7,692.8L1727.6,679.8z" fill="#00ee00" stroke="#00ee00" stroke-width=".6"/>
<path d="M1747.2,693.3L1770.9,709L1751.4,696L1727.6,679.8z" fill="none"/>
<path d="M1790.6,721.5L1814,734.6L1794.4,722.5L1770.9,709z" fill="#00bb00"/>
<path d="M1723,676.6L1747.2,693.3L1727.6,679.8z" fill="#c6c6c6" stroke="#c6c6c6" stroke-width=".6"/>
<path d="M1725.7,678.4L1727.6,679.8L1717.6,672.6z" fill="#00ee00" stroke="#00ee00" stroke-width=".6"/>
<path d="M1723,676.6L1725.7,678.4L1717.6,672.6L1703.4,662.3z" fill="#99ff00" stroke="#99ff00" stroke-width=".6"/>
<path d="M1723,676.6L1747.2,693.3L1727.6,679.8L1703.4,662.3z" fill="none"/>
<path d="M1766.9,706.3L1790.6,721.5L1770.9,709z" fill="#c6c6c6" stroke="#c6c6c6" stroke-width=".6"/>
<path d="M1766.9,706.3L1770.3,708.5L1766.8,706.3L1747.2,693.3z" fill="#00ee00" stroke="#00ee00" stroke-width=".6"/>
<path d="M1766.9,706.3L1790.6,721.5L1770.9,709L1747.2,693.3z" fill="none"/>
<path d="M1742.8,690.2L1766.9,706.3L1747.2,693.3L1723,676.6z" fill="#c6c6c6"/>
</g>
<text x="2.3" y="36.3" font-size="44.5" font-weight="bold" textLength="32" lengthAdjust="spacingAndGlyphs">A</text>
<text x="123" y="220.6" font-size="23">1</text>
<text x="97.8" y="336.6" font-size="23" textLength="45.9" lengthAdjust="spacingAndGlyphs">0,75</text>
<text x="113.6" y="457.8" font-size="23" textLength="32.8" lengthAdjust="spacingAndGlyphs">0,5</text>
<text x="112.4" y="571.4" font-size="23" textLength="45" lengthAdjust="spacingAndGlyphs">0,25</text>
<text x="11.7" y="418" font-size="29" textLength="45.7" lengthAdjust="spacingAndGlyphs">OD</text>
<text x="165.3" y="689.4" font-size="23" textLength="23.4" lengthAdjust="spacingAndGlyphs">60</text>
<text x="214.7" y="733.8" font-size="23" textLength="23.9" lengthAdjust="spacingAndGlyphs">50</text>
<text x="262" y="774.1" font-size="23" textLength="22.8" lengthAdjust="spacingAndGlyphs">40</text>
<text x="313.3" y="811.5" font-size="23" textLength="23" lengthAdjust="spacingAndGlyphs">30</text>
<text x="362.5" y="847.5" font-size="23" textLength="23.3" lengthAdjust="spacingAndGlyphs">20</text>
<text x="416.9" y="887.8" font-size="23" textLength="22" lengthAdjust="spacingAndGlyphs">10</text>
<text x="594" y="897.7" font-size="21.5" textLength="20.4" lengthAdjust="spacingAndGlyphs">10</text>
<text x="642" y="869.7" font-size="21.5" textLength="21.5" lengthAdjust="spacingAndGlyphs">20</text>
<text x="690.2" y="846.2" font-size="21.5" textLength="21.5" lengthAdjust="spacingAndGlyphs">30</text>
<text x="736.1" y="821.1" font-size="21.5" textLength="21.5" lengthAdjust="spacingAndGlyphs">40</text>
<text x="781" y="800.3" font-size="21.5" textLength="21.5" lengthAdjust="spacingAndGlyphs">60</text>
<text x="831.4" y="773.4" font-size="21.5" textLength="21.5" lengthAdjust="spacingAndGlyphs">80</text>
<text x="882.4" y="749.2" font-size="21.5" textLength="31.4" lengthAdjust="spacingAndGlyphs">100</text>
<text x="934.4" y="720.1" font-size="21.5" textLength="31.8" lengthAdjust="spacingAndGlyphs">120</text>
<text x="92.4" y="839" font-size="29" textLength="167.8" lengthAdjust="spacingAndGlyphs">Peptides and</text>
<text x="66.8" y="878.1" font-size="29" textLength="218.7" lengthAdjust="spacingAndGlyphs">amino acids (g/l)</text>
<text x="789" y="854.7" font-size="29" textLength="166.9" lengthAdjust="spacingAndGlyphs">Glucose (g/l)</text>
<text x="1236.2" y="36.3" font-size="44.5" font-weight="bold" textLength="28.3" lengthAdjust="spacingAndGlyphs">B</text>
<text x="1353.5" y="215.4" font-size="23">1</text>
<text x="1328.3" y="331.4" font-size="23" textLength="45.9" lengthAdjust="spacingAndGlyphs">0,75</text>
<text x="1344.1" y="452.6" font-size="23" textLength="32.8" lengthAdjust="spacingAndGlyphs">0,5</text>
<text x="1342.9" y="566.2" font-size="23" textLength="45" lengthAdjust="spacingAndGlyphs">0,25</text>
<text x="1242.2" y="412.8" font-size="29" textLength="45.7" lengthAdjust="spacingAndGlyphs">OD</text>
<text x="1395.8" y="684.2" font-size="23" textLength="23.4" lengthAdjust="spacingAndGlyphs">60</text>
<text x="1445.2" y="728.6" font-size="23" textLength="23.9" lengthAdjust="spacingAndGlyphs">50</text>
<text x="1492.5" y="768.9" font-size="23" textLength="22.8" lengthAdjust="spacingAndGlyphs">40</text>
<text x="1543.8" y="806.3" font-size="23" textLength="23" lengthAdjust="spacingAndGlyphs">30</text>
<text x="1593" y="842.3" font-size="23" textLength="23.3" lengthAdjust="spacingAndGlyphs">20</text>
<text x="1647.4" y="882.6" font-size="23" textLength="22" lengthAdjust="spacingAndGlyphs">10</text>
<text x="1824.5" y="892.5" font-size="21.5" textLength="20.4" lengthAdjust="spacingAndGlyphs">10</text>
<text x="1872.5" y="864.5" font-size="21.5" textLength="21.5" lengthAdjust="spacingAndGlyphs">20</text>
<text x="1920.8" y="841" font-size="21.5" textLength="21.5" lengthAdjust="spacingAndGlyphs">30</text>
<text x="1966.7" y="815.9" font-size="21.5" textLength="21.5" lengthAdjust="spacingAndGlyphs">40</text>
<text x="2011.5" y="795.1" font-size="21.5" textLength="21.5" lengthAdjust="spacingAndGlyphs">60</text>
<text x="2061.8" y="768.2" font-size="21.5" textLength="21.5" lengthAdjust="spacingAndGlyphs">80</text>
<text x="2112.9" y="744" font-size="21.5" textLength="31.4" lengthAdjust="spacingAndGlyphs">100</text>
<text x="2164.9" y="714.9" font-size="21.5" textLength="31.8" lengthAdjust="spacingAndGlyphs">120</text>
<text x="1359.2" y="834.5" font-size="29" textLength="167.8" lengthAdjust="spacingAndGlyphs">Peptides and</text>
<text x="1334" y="873.6" font-size="29" textLength="218.7" lengthAdjust="spacingAndGlyphs">amino acids (g/l)</text>
<text x="2008" y="854.5" font-size="29" textLength="166.9" lengthAdjust="spacingAndGlyphs">Glucose (g/l)</text>
<rect x="1134.2" y="768.9" width="46.6" height="27.6" fill="#800000" stroke="#000" stroke-width="1.5"/>
<text x="1196.4" y="793.6" font-size="28.8">&gt; 0,6</text>
<rect x="1134.2" y="805.1" width="46.6" height="27.6" fill="#aa0000" stroke="#000" stroke-width="1.5"/>
<text x="1196.4" y="829.8" font-size="28.8">&lt; 0,55</text>
<rect x="1134.2" y="841.2" width="46.6" height="27.6" fill="#ff5000" stroke="#000" stroke-width="1.5"/>
<text x="1196.4" y="865.9" font-size="28.8">&lt; 0,45</text>
<rect x="1134.2" y="877.4" width="46.6" height="27.6" fill="#ccff00" stroke="#000" stroke-width="1.5"/>
<text x="1196.4" y="902.1" font-size="28.8">&lt; 0,35</text>
<rect x="1134.2" y="913.5" width="46.6" height="27.6" fill="#00c800" stroke="#000" stroke-width="1.5"/>
<text x="1196.4" y="938.2" font-size="28.8">&lt; 0,25</text>
<rect x="1134.2" y="949.6" width="46.6" height="27.6" fill="#006040" stroke="#000" stroke-width="1.5"/>
<text x="1196.4" y="974.3" font-size="28.8">&lt; 0,15</text>
<rect x="2369.8" y="766.4" width="46.6" height="27.6" fill="#800000" stroke="#000" stroke-width="1.5"/>
<text x="2431.8" y="791.1" font-size="28.8">&gt; 1</text>
<rect x="2369.8" y="802.6" width="46.6" height="27.6" fill="#e00000" stroke="#000" stroke-width="1.5"/>
<text x="2431.8" y="827.3" font-size="28.8">&lt; 0,9</text>
<rect x="2369.8" y="838.6" width="46.6" height="27.6" fill="#ffaa00" stroke="#000" stroke-width="1.5"/>
<text x="2431.8" y="863.3" font-size="28.8">&lt; 0,7</text>
<rect x="2369.8" y="874.7" width="46.6" height="27.6" fill="#99ff00" stroke="#000" stroke-width="1.5"/>
<text x="2431.8" y="899.4" font-size="28.8">&lt; 0,5</text>
<rect x="2369.8" y="910.7" width="46.6" height="27.6" fill="#00bb00" stroke="#000" stroke-width="1.5"/>
<text x="2431.8" y="935.4" font-size="28.8">&lt; 0,3</text>
<rect x="2369.8" y="946.9" width="46.6" height="27.6" fill="#006040" stroke="#000" stroke-width="1.5"/>
<text x="2431.8" y="971.6" font-size="28.8">&lt; 0,1</text>
<path d="M0 0H2500V982H0zM2.3 3V979.1H2497.2V3z" fill="#000" fill-rule="evenodd"/>
</svg></body></html>
